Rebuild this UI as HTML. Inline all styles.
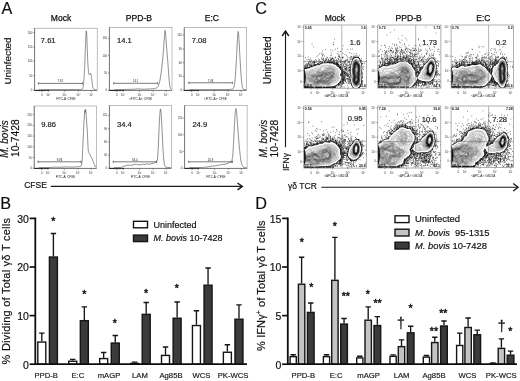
<!DOCTYPE html>
<html lang="en">
<head>
<meta charset="utf-8">
<title>Figure: CFSE proliferation and IFN-gamma responses of gamma-delta T cells</title>
<style>
html,body{margin:0;padding:0;background:#fff;}
body{width:520px;height:381px;overflow:hidden;}
svg{display:block;font-family:"Liberation Sans", Arial, sans-serif;}
text{white-space:pre;}
</style>
</head>
<body>
<svg width="520" height="381" viewBox="0 0 520 381">
<defs>
<filter id="soft" x="-2%" y="-2%" width="104%" height="104%"><feGaussianBlur stdDeviation="0.25"/></filter>
<filter id="page" x="0" y="0" width="100%" height="100%"><feGaussianBlur stdDeviation="0.3"/></filter>
</defs>
<rect width="520" height="381" fill="#fff"/>
<g filter="url(#page)">
<rect width="520" height="381" fill="#fff"/>
<text x="1.5" y="13.9" font-size="16.2" stroke="#111" stroke-width="0.18" fill="#111">A</text>
<text x="0.3" y="209.2" font-size="16.2" stroke="#111" stroke-width="0.18" fill="#111">B</text>
<text x="255.2" y="13.9" font-size="16.2" stroke="#111" stroke-width="0.18" fill="#111">C</text>
<text x="255.3" y="209.2" font-size="16.2" stroke="#111" stroke-width="0.18" fill="#111">D</text>
<text x="61" y="20.7" font-size="8.5" stroke="#111" stroke-width="0.25" text-anchor="middle" fill="#111">Mock</text>
<text x="138.9" y="20.7" font-size="8.6" stroke="#111" stroke-width="0.25" text-anchor="middle" fill="#111">PPD-B</text>
<text x="211.9" y="20.7" font-size="8.5" stroke="#111" stroke-width="0.25" text-anchor="middle" fill="#111">E:C</text>
<text x="11.4" y="61" font-size="9.9" stroke="#111" stroke-width="0.18" text-anchor="middle" fill="#111" transform="rotate(-90 11.4 61)">Uninfected</text>
<text x="7.9" y="139" font-size="10.1" stroke="#111" stroke-width="0.18" text-anchor="middle" font-style="italic" fill="#111" transform="rotate(-90 7.9 139)">M. bovis</text>
<text x="19.4" y="138.2" font-size="10.3" stroke="#111" stroke-width="0.18" text-anchor="middle" fill="#111" transform="rotate(-90 19.4 138.2)">10-7428</text>
<rect x="34.6" y="28.2" width="62.6" height="62.2" fill="#fff" stroke="#8a8a8a" stroke-width="0.55"/>
<text x="32.3" y="91.2" font-size="2.8" text-anchor="end" fill="#333">0</text>
<text x="32.3" y="76.8" font-size="2.8" text-anchor="end" fill="#333">50</text>
<text x="32.3" y="62.4" font-size="2.8" text-anchor="end" fill="#333">100</text>
<text x="32.3" y="48" font-size="2.8" text-anchor="end" fill="#333">150</text>
<text x="32.3" y="33.6" font-size="2.8" text-anchor="end" fill="#333">200</text>
<path d="M33.1,90.2h1.5M33.1,75.8h1.5M33.1,61.4h1.5M33.1,47h1.5M33.1,32.6h1.5M42.1,90.4v1.5M48.3,90.4v1.5M64.6,90.4v1.5M78.4,90.4v1.5M91.4,90.4v1.5M39.1,90.4v0.8M40.18,90.4v0.8M41.27,90.4v0.8M42.35,90.4v0.8M43.43,90.4v0.8M44.52,90.4v0.8M45.6,90.4v0.8" stroke="#444" stroke-width="0.55" fill="none"/>
<text x="42.1" y="96.2" font-size="2.8" text-anchor="middle" fill="#333">0</text>
<text x="48.3" y="96.2" font-size="2.8" text-anchor="middle" fill="#333">10²</text>
<text x="64.6" y="96.2" font-size="2.8" text-anchor="middle" fill="#333">10³</text>
<text x="78.4" y="96.2" font-size="2.8" text-anchor="middle" fill="#333">10⁴</text>
<text x="91.4" y="96.2" font-size="2.8" text-anchor="middle" fill="#333">10⁵</text>
<text x="65.9" y="99.7" font-size="3.0" text-anchor="middle" fill="#222">FITC-A: CFSE</text>
<path d="M34.6,28.2V90.4H97.2" stroke="#5a5a5a" stroke-width="0.7" fill="none"/>
<path d="M34.6,90.4h14.5" stroke="#222" stroke-width="1" stroke-dasharray="5.5 0.5 3 0.6 2 0.5" fill="none"/>
<path d="M39,89.7C41.45,89.69 55.45,89.62 60,89.6C64.55,89.58 75.49,89.53 78,89.5C80.51,89.47 80.94,89.45 81.5,89.3C82.06,89.15 82.53,89.05 82.8,88.2C83.07,87.35 83.59,84.36 83.8,82C84.01,79.64 84.42,71.73 84.6,68C84.77,64.27 85.15,53.73 85.3,50C85.45,46.27 85.78,38.23 85.9,36C86.02,33.77 86.19,30.9 86.3,30.9C86.41,30.9 86.68,33.77 86.8,36C86.92,38.23 87.17,46.73 87.3,50C87.43,53.27 87.76,61.43 87.9,64C88.04,66.57 88.36,70.76 88.5,72C88.64,73.24 88.95,74.37 89.1,74.6C89.25,74.83 89.64,74.15 89.8,74C89.96,73.85 90.35,73.18 90.5,73.3C90.65,73.42 90.95,74.22 91.1,75C91.25,75.78 91.64,78.78 91.8,80C91.96,81.22 92.33,84.51 92.5,85.5C92.67,86.49 93.07,88.03 93.3,88.5C93.53,88.97 94.13,89.36 94.5,89.5C94.87,89.64 96.27,89.68 96.5,89.7" fill="none" stroke="#444" stroke-width="0.6" stroke-linejoin="round"/>
<path d="M38.4,83.4H82.5M38.4,82.3v2.2M82.5,82.3v2.2" stroke="#333" stroke-width="0.65" fill="none"/>
<text x="60.45" y="82.1" font-size="2.8" text-anchor="middle" fill="#222">7.61</text>
<text x="40.8" y="43.4" font-size="7.6" stroke="#1a1a1a" stroke-width="0.18" fill="#1a1a1a">7.61</text>
<rect x="109.4" y="27.7" width="62.6" height="62.7" fill="#fff" stroke="#8a8a8a" stroke-width="0.55"/>
<text x="107.1" y="91.2" font-size="2.8" text-anchor="end" fill="#333">0</text>
<text x="107.1" y="73.9" font-size="2.8" text-anchor="end" fill="#333">50</text>
<text x="107.1" y="56.6" font-size="2.8" text-anchor="end" fill="#333">100</text>
<text x="107.1" y="39.3" font-size="2.8" text-anchor="end" fill="#333">150</text>
<path d="M107.9,90.2h1.5M107.9,72.9h1.5M107.9,55.6h1.5M107.9,38.3h1.5M116.9,90.4v1.5M123.1,90.4v1.5M139.4,90.4v1.5M153.2,90.4v1.5M166.2,90.4v1.5M113.9,90.4v0.8M114.98,90.4v0.8M116.07,90.4v0.8M117.15,90.4v0.8M118.23,90.4v0.8M119.32,90.4v0.8M120.4,90.4v0.8" stroke="#444" stroke-width="0.55" fill="none"/>
<text x="116.9" y="96.2" font-size="2.8" text-anchor="middle" fill="#333">0</text>
<text x="123.1" y="96.2" font-size="2.8" text-anchor="middle" fill="#333">10²</text>
<text x="139.4" y="96.2" font-size="2.8" text-anchor="middle" fill="#333">10³</text>
<text x="153.2" y="96.2" font-size="2.8" text-anchor="middle" fill="#333">10⁴</text>
<text x="166.2" y="96.2" font-size="2.8" text-anchor="middle" fill="#333">10⁵</text>
<text x="140.7" y="99.7" font-size="3.0" text-anchor="middle" fill="#222">&lt;FITC-A&gt;: CFSE</text>
<path d="M109.4,27.7V90.4H172" stroke="#5a5a5a" stroke-width="0.7" fill="none"/>
<path d="M109.4,90.4h14.5" stroke="#222" stroke-width="1" stroke-dasharray="5.5 0.5 3 0.6 2 0.5" fill="none"/>
<path d="M114,89.7C115.28,89.69 123.13,89.65 125,89.6C126.87,89.55 128.83,89.35 130,89.3C131.17,89.25 134.07,89.26 135,89.2C135.93,89.14 137.18,88.8 138,88.8C138.82,88.8 140.83,89.18 142,89.2C143.17,89.22 146.72,89.05 148,89C149.28,88.95 152.07,88.89 153,88.8C153.93,88.71 155.41,88.47 156,88.2C156.59,87.93 157.66,87.34 158.1,86.5C158.54,85.66 159.42,82.81 159.8,81C160.19,79.19 161.09,73.33 161.4,71C161.72,68.67 162.28,63.16 162.5,61C162.72,58.84 163.1,54.95 163.3,52.5C163.5,50.05 164.02,42.39 164.2,40C164.38,37.61 164.7,33.11 164.8,32C164.91,30.89 165.02,30.44 165.1,30.5C165.18,30.56 165.37,31.16 165.5,32.5C165.63,33.84 166.02,39.73 166.2,42C166.38,44.27 166.81,49.7 167,52C167.19,54.3 167.61,59.25 167.8,61.7C167.99,64.15 168.42,70.63 168.6,73C168.78,75.37 169.15,80.42 169.3,82C169.45,83.58 169.75,85.71 169.9,86.5C170.05,87.29 170.41,88.44 170.6,88.8C170.79,89.16 171.4,89.51 171.5,89.6" fill="none" stroke="#444" stroke-width="0.6" stroke-linejoin="round"/>
<path d="M113.7,83.3H157.6M113.7,82.2v2.2M157.6,82.2v2.2" stroke="#333" stroke-width="0.65" fill="none"/>
<text x="135.65" y="82" font-size="2.8" text-anchor="middle" fill="#222">14.1</text>
<text x="117" y="43.1" font-size="7.6" stroke="#1a1a1a" stroke-width="0.18" fill="#1a1a1a">14.1</text>
<rect x="184.2" y="27.7" width="62.5" height="62.7" fill="#fff" stroke="#8a8a8a" stroke-width="0.55"/>
<text x="181.9" y="91.2" font-size="2.8" text-anchor="end" fill="#333">0</text>
<text x="181.9" y="77.4" font-size="2.8" text-anchor="end" fill="#333">30</text>
<text x="181.9" y="63.6" font-size="2.8" text-anchor="end" fill="#333">60</text>
<text x="181.9" y="49.8" font-size="2.8" text-anchor="end" fill="#333">90</text>
<text x="181.9" y="36" font-size="2.8" text-anchor="end" fill="#333">120</text>
<path d="M182.7,90.2h1.5M182.7,76.4h1.5M182.7,62.6h1.5M182.7,48.8h1.5M182.7,35h1.5M191.7,90.4v1.5M197.9,90.4v1.5M214.2,90.4v1.5M228,90.4v1.5M241,90.4v1.5M188.7,90.4v0.8M189.78,90.4v0.8M190.87,90.4v0.8M191.95,90.4v0.8M193.03,90.4v0.8M194.12,90.4v0.8M195.2,90.4v0.8" stroke="#444" stroke-width="0.55" fill="none"/>
<text x="191.7" y="96.2" font-size="2.8" text-anchor="middle" fill="#333">0</text>
<text x="197.9" y="96.2" font-size="2.8" text-anchor="middle" fill="#333">10²</text>
<text x="214.2" y="96.2" font-size="2.8" text-anchor="middle" fill="#333">10³</text>
<text x="228" y="96.2" font-size="2.8" text-anchor="middle" fill="#333">10⁴</text>
<text x="241" y="96.2" font-size="2.8" text-anchor="middle" fill="#333">10⁵</text>
<text x="215.45" y="99.7" font-size="3.0" text-anchor="middle" fill="#222">&lt;FITC-A&gt;: CFSE</text>
<path d="M184.2,27.7V90.4H246.7" stroke="#5a5a5a" stroke-width="0.7" fill="none"/>
<path d="M184.2,90.4h14.5" stroke="#222" stroke-width="1" stroke-dasharray="5.5 0.5 3 0.6 2 0.5" fill="none"/>
<path d="M189,89.7C192.03,89.69 210.45,89.62 215,89.6C219.55,89.58 226.02,89.55 228,89.5C229.98,89.45 231.36,89.34 232,89.2C232.64,89.06 233.2,88.91 233.5,88.3C233.8,87.69 234.37,85.67 234.6,84C234.83,82.33 235.29,76.8 235.5,74C235.71,71.2 236.21,63.38 236.4,60C236.59,56.62 236.95,47.92 237.1,45C237.25,42.08 237.57,36.59 237.7,35C237.83,33.41 238.08,31.4 238.2,31.4C238.32,31.4 238.57,33.41 238.7,35C238.83,36.59 239.14,42.08 239.3,45C239.46,47.92 239.9,56.62 240.1,60C240.3,63.38 240.79,71.2 241,74C241.21,76.8 241.69,82.33 241.9,84C242.11,85.67 242.56,87.67 242.8,88.3C243.05,88.93 243.63,89.24 244,89.4C244.37,89.56 245.77,89.67 246,89.7" fill="none" stroke="#444" stroke-width="0.6" stroke-linejoin="round"/>
<path d="M188.8,82.8H232.4M188.8,81.7v2.2M232.4,81.7v2.2" stroke="#333" stroke-width="0.65" fill="none"/>
<text x="210.6" y="81.5" font-size="2.8" text-anchor="middle" fill="#222">7.08</text>
<text x="191.7" y="43.1" font-size="7.6" stroke="#1a1a1a" stroke-width="0.18" fill="#1a1a1a">7.08</text>
<rect x="34.2" y="106" width="62.5" height="62.4" fill="#fff" stroke="#8a8a8a" stroke-width="0.55"/>
<text x="31.9" y="169.2" font-size="2.8" text-anchor="end" fill="#333">0</text>
<text x="31.9" y="158.5" font-size="2.8" text-anchor="end" fill="#333">50</text>
<text x="31.9" y="147.8" font-size="2.8" text-anchor="end" fill="#333">100</text>
<text x="31.9" y="137.1" font-size="2.8" text-anchor="end" fill="#333">150</text>
<text x="31.9" y="126.4" font-size="2.8" text-anchor="end" fill="#333">200</text>
<text x="31.9" y="115.7" font-size="2.8" text-anchor="end" fill="#333">250</text>
<path d="M32.7,168.2h1.5M32.7,157.5h1.5M32.7,146.8h1.5M32.7,136.1h1.5M32.7,125.4h1.5M32.7,114.7h1.5M41.7,168.4v1.5M47.9,168.4v1.5M64.2,168.4v1.5M78,168.4v1.5M91,168.4v1.5M38.7,168.4v0.8M39.78,168.4v0.8M40.87,168.4v0.8M41.95,168.4v0.8M43.03,168.4v0.8M44.12,168.4v0.8M45.2,168.4v0.8" stroke="#444" stroke-width="0.55" fill="none"/>
<text x="41.7" y="174.2" font-size="2.8" text-anchor="middle" fill="#333">0</text>
<text x="47.9" y="174.2" font-size="2.8" text-anchor="middle" fill="#333">10²</text>
<text x="64.2" y="174.2" font-size="2.8" text-anchor="middle" fill="#333">10³</text>
<text x="78" y="174.2" font-size="2.8" text-anchor="middle" fill="#333">10⁴</text>
<text x="91" y="174.2" font-size="2.8" text-anchor="middle" fill="#333">10⁵</text>
<text x="65.45" y="177.7" font-size="3.0" text-anchor="middle" fill="#222">FITC-A: CFSE</text>
<path d="M34.2,106V168.4H96.7" stroke="#5a5a5a" stroke-width="0.7" fill="none"/>
<path d="M34.2,168.4h14.5" stroke="#222" stroke-width="1" stroke-dasharray="5.5 0.5 3 0.6 2 0.5" fill="none"/>
<path d="M38.5,167.6C39.84,167.59 48.08,167.56 50,167.5C51.92,167.44 53.83,167.12 55,167.1C56.17,167.08 58.72,167.32 60,167.3C61.28,167.28 64.6,166.92 66,166.9C67.4,166.88 70.72,167.11 72,167.1C73.28,167.09 76.07,166.87 77,166.8C77.93,166.73 79.5,166.62 80,166.5C80.5,166.38 81.04,166.56 81.3,165.8C81.56,165.04 81.99,163.01 82.2,160C82.41,156.99 82.9,144.2 83.1,140C83.3,135.8 83.74,127.03 83.9,124C84.06,120.97 84.38,115.61 84.5,114C84.62,112.39 84.82,110.38 84.9,110.2C84.98,110.03 85.12,112.59 85.2,112.5C85.28,112.41 85.49,109.23 85.6,109.4C85.7,109.58 85.97,112.41 86.1,114C86.23,115.59 86.56,121.02 86.7,123C86.84,124.98 87.17,128.78 87.3,131C87.43,133.22 87.69,139.78 87.8,142C87.91,144.22 88.08,148.78 88.2,150C88.32,151.22 88.61,151.97 88.8,152.5C88.99,153.03 89.57,154.03 89.8,154.5C90.03,154.97 90.55,156.06 90.8,156.5C91.05,156.94 91.62,157.72 91.9,158.3C92.18,158.88 92.87,160.69 93.2,161.5C93.53,162.31 94.42,164.56 94.7,165.2C94.98,165.84 95.41,166.72 95.6,167C95.79,167.28 96.22,167.53 96.3,167.6" fill="none" stroke="#444" stroke-width="0.6" stroke-linejoin="round"/>
<path d="M38,161.8H81M38,160.7v2.2M81,160.7v2.2" stroke="#333" stroke-width="0.65" fill="none"/>
<text x="59.5" y="160.5" font-size="2.8" text-anchor="middle" fill="#222">9.86</text>
<text x="41.2" y="127.4" font-size="7.6" stroke="#1a1a1a" stroke-width="0.18" fill="#1a1a1a">9.86</text>
<rect x="109.4" y="105.6" width="62.1" height="62.8" fill="#fff" stroke="#8a8a8a" stroke-width="0.55"/>
<text x="107.1" y="169.2" font-size="2.8" text-anchor="end" fill="#333">0</text>
<text x="107.1" y="156" font-size="2.8" text-anchor="end" fill="#333">30</text>
<text x="107.1" y="142.8" font-size="2.8" text-anchor="end" fill="#333">60</text>
<text x="107.1" y="129.6" font-size="2.8" text-anchor="end" fill="#333">90</text>
<text x="107.1" y="116.4" font-size="2.8" text-anchor="end" fill="#333">120</text>
<path d="M107.9,168.2h1.5M107.9,155h1.5M107.9,141.8h1.5M107.9,128.6h1.5M107.9,115.4h1.5M116.9,168.4v1.5M123.1,168.4v1.5M139.4,168.4v1.5M153.2,168.4v1.5M166.2,168.4v1.5M113.9,168.4v0.8M114.98,168.4v0.8M116.07,168.4v0.8M117.15,168.4v0.8M118.23,168.4v0.8M119.32,168.4v0.8M120.4,168.4v0.8" stroke="#444" stroke-width="0.55" fill="none"/>
<text x="116.9" y="174.2" font-size="2.8" text-anchor="middle" fill="#333">0</text>
<text x="123.1" y="174.2" font-size="2.8" text-anchor="middle" fill="#333">10²</text>
<text x="139.4" y="174.2" font-size="2.8" text-anchor="middle" fill="#333">10³</text>
<text x="153.2" y="174.2" font-size="2.8" text-anchor="middle" fill="#333">10⁴</text>
<text x="166.2" y="174.2" font-size="2.8" text-anchor="middle" fill="#333">10⁵</text>
<text x="140.45" y="177.7" font-size="3.0" text-anchor="middle" fill="#222">FITC-A: CFSE</text>
<path d="M109.4,105.6V168.4H171.5" stroke="#5a5a5a" stroke-width="0.7" fill="none"/>
<path d="M109.4,168.4h14.5" stroke="#222" stroke-width="1" stroke-dasharray="5.5 0.5 3 0.6 2 0.5" fill="none"/>
<path d="M114,167.6C114.58,167.59 118.18,167.52 119,167.5C119.82,167.48 120.59,167.48 121,167.4C121.41,167.32 122.15,166.94 122.5,166.8C122.85,166.66 123.59,166.34 124,166.2C124.41,166.06 125.53,165.74 126,165.6C126.47,165.46 127.47,165.02 128,165C128.53,164.98 129.92,165.41 130.5,165.4C131.08,165.39 132.42,165.03 133,164.9C133.58,164.77 134.97,164.34 135.5,164.3C136.03,164.27 136.97,164.53 137.5,164.6C138.03,164.67 139.42,164.95 140,164.9C140.58,164.85 141.92,164.26 142.5,164.2C143.08,164.14 144.47,164.44 145,164.4C145.53,164.37 146.47,163.92 147,163.9C147.53,163.88 148.92,164.25 149.5,164.2C150.08,164.15 151.47,163.64 152,163.5C152.53,163.36 153.59,163.12 154,163C154.41,162.88 155.17,162.64 155.5,162.5C155.83,162.36 156.56,162.33 156.8,161.8C157.05,161.28 157.42,159.73 157.6,158C157.78,156.27 158.15,149.92 158.3,147C158.45,144.08 158.76,136.15 158.9,133C159.04,129.85 159.37,122.45 159.5,120C159.63,117.55 159.88,113.3 160,112C160.12,110.7 160.38,108.9 160.5,108.9C160.62,108.9 160.87,110.59 161,112C161.13,113.41 161.46,118.55 161.6,121C161.74,123.45 162.05,129.97 162.2,133C162.35,136.03 162.74,144.08 162.9,147C163.06,149.92 163.44,156.02 163.6,158C163.76,159.98 164.12,163.01 164.3,164C164.48,164.99 164.84,166.12 165.1,166.5C165.36,166.88 166.04,167.17 166.5,167.3C166.96,167.43 168.47,167.56 169,167.6C169.53,167.63 170.77,167.6 171,167.6" fill="none" stroke="#444" stroke-width="0.6" stroke-linejoin="round"/>
<path d="M113.3,161.8H156.4M113.3,160.7v2.2M156.4,160.7v2.2" stroke="#333" stroke-width="0.65" fill="none"/>
<text x="134.85" y="160.5" font-size="2.8" text-anchor="middle" fill="#222">34.4</text>
<text x="117" y="126.9" font-size="7.6" stroke="#1a1a1a" stroke-width="0.18" fill="#1a1a1a">34.4</text>
<rect x="184.6" y="105.6" width="62.5" height="62.8" fill="#fff" stroke="#8a8a8a" stroke-width="0.55"/>
<text x="182.3" y="169.2" font-size="2.8" text-anchor="end" fill="#333">0</text>
<text x="182.3" y="152.5" font-size="2.8" text-anchor="end" fill="#333">50</text>
<text x="182.3" y="135.8" font-size="2.8" text-anchor="end" fill="#333">100</text>
<text x="182.3" y="119.1" font-size="2.8" text-anchor="end" fill="#333">150</text>
<path d="M183.1,168.2h1.5M183.1,151.5h1.5M183.1,134.8h1.5M183.1,118.1h1.5M192.1,168.4v1.5M198.3,168.4v1.5M214.6,168.4v1.5M228.4,168.4v1.5M241.4,168.4v1.5M189.1,168.4v0.8M190.18,168.4v0.8M191.27,168.4v0.8M192.35,168.4v0.8M193.43,168.4v0.8M194.52,168.4v0.8M195.6,168.4v0.8" stroke="#444" stroke-width="0.55" fill="none"/>
<text x="192.1" y="174.2" font-size="2.8" text-anchor="middle" fill="#333">0</text>
<text x="198.3" y="174.2" font-size="2.8" text-anchor="middle" fill="#333">10²</text>
<text x="214.6" y="174.2" font-size="2.8" text-anchor="middle" fill="#333">10³</text>
<text x="228.4" y="174.2" font-size="2.8" text-anchor="middle" fill="#333">10⁴</text>
<text x="241.4" y="174.2" font-size="2.8" text-anchor="middle" fill="#333">10⁵</text>
<text x="215.85" y="177.7" font-size="3.0" text-anchor="middle" fill="#222">FITC-A: CFSE</text>
<path d="M184.6,105.6V168.4H247.1" stroke="#5a5a5a" stroke-width="0.7" fill="none"/>
<path d="M184.6,168.4h14.5" stroke="#222" stroke-width="1" stroke-dasharray="5.5 0.5 3 0.6 2 0.5" fill="none"/>
<path d="M189,167.6C190.28,167.59 198.32,167.52 200,167.5C201.68,167.48 202.58,167.46 203.4,167.4C204.22,167.34 206.23,167.1 207,167C207.77,166.9 209.3,166.62 210,166.5C210.7,166.38 212.3,166.1 213,166C213.7,165.9 215.3,165.69 216,165.6C216.7,165.51 218.3,165.33 219,165.2C219.7,165.07 221.3,164.62 222,164.5C222.7,164.38 224.42,164.3 225,164.2C225.58,164.09 226.53,163.74 227,163.6C227.47,163.46 228.63,163.21 229,163C229.37,162.79 229.97,161.82 230.2,161.8C230.43,161.78 230.81,162.89 231,162.8C231.19,162.71 231.59,161.91 231.8,161C232.01,160.09 232.59,157.22 232.8,155C233.01,152.78 233.42,145.15 233.6,142C233.78,138.85 234.14,131.03 234.3,128C234.46,124.97 234.86,118.04 235,116C235.14,113.96 235.4,111.38 235.5,110.5C235.6,109.62 235.8,108.5 235.9,108.5C236,108.5 236.27,109.51 236.4,110.5C236.53,111.49 236.84,114.96 237,117C237.16,119.04 237.61,125.55 237.8,128C237.99,130.45 238.41,135.67 238.6,138C238.79,140.33 239.22,146.09 239.4,148C239.58,149.91 239.94,153 240.1,154.4C240.26,155.8 240.62,158.88 240.8,160C240.98,161.12 241.37,163.24 241.6,164C241.83,164.76 242.46,166.1 242.8,166.5C243.14,166.9 244.07,167.27 244.5,167.4C244.93,167.53 246.27,167.58 246.5,167.6" fill="none" stroke="#444" stroke-width="0.6" stroke-linejoin="round"/>
<path d="M188.7,161.8H232.4M188.7,160.7v2.2M232.4,160.7v2.2" stroke="#333" stroke-width="0.65" fill="none"/>
<text x="210.55" y="160.5" font-size="2.8" text-anchor="middle" fill="#222">24.9</text>
<text x="192.4" y="126.9" font-size="7.6" stroke="#1a1a1a" stroke-width="0.18" fill="#1a1a1a">24.9</text>
<text x="24.2" y="188.4" font-size="8.5" stroke="#111" stroke-width="0.18" fill="#111">CFSE</text>
<path d="M50.8,186.4H241.8" stroke="#1a1a1a" stroke-width="1.2" fill="none"/>
<path d="M237.5,183L242.4,186.4L237.5,189.9" stroke="#1a1a1a" stroke-width="1.4" fill="none" stroke-linejoin="miter"/>
<text x="334.8" y="20.7" font-size="8.5" stroke="#111" stroke-width="0.25" text-anchor="middle" fill="#111">Mock</text>
<text x="408.7" y="20.7" font-size="8.6" stroke="#111" stroke-width="0.25" text-anchor="middle" fill="#111">PPD-B</text>
<text x="483.4" y="20.7" font-size="8.5" stroke="#111" stroke-width="0.25" text-anchor="middle" fill="#111">E:C</text>
<text x="271.4" y="60.4" font-size="10.0" stroke="#111" stroke-width="0.18" text-anchor="middle" fill="#111" transform="rotate(-90 271.4 60.4)">Uninfected</text>
<text x="266.8" y="138.6" font-size="10.1" stroke="#111" stroke-width="0.18" text-anchor="middle" font-style="italic" fill="#111" transform="rotate(-90 266.8 138.6)">M. bovis</text>
<text x="278.5" y="138.6" font-size="10.3" stroke="#111" stroke-width="0.18" text-anchor="middle" fill="#111" transform="rotate(-90 278.5 138.6)">10-7428</text>
<text x="288.8" y="171" font-size="8.5" stroke="#111" stroke-width="0.18" fill="#111" transform="rotate(-90 288.8 171)">IFNγ</text>
<path d="M285.5,147.2V31.6" stroke="#1a1a1a" stroke-width="1.15" fill="none"/>
<path d="M282.2,36L285.5,31L288.8,36" stroke="#1a1a1a" stroke-width="1.4" fill="none"/>
<text x="288" y="188.5" font-size="8.5" stroke="#111" stroke-width="0.18" fill="#111">γδ TCR</text>
<path d="M321.3,187.2H517.4" stroke="#1a1a1a" stroke-width="1.15" fill="none"/>
<path d="M513.2,183.5L518.1,187.2L513.2,191" stroke="#1a1a1a" stroke-width="1.4" fill="none"/>
<g filter="url(#soft)">
<clipPath id="cp0"><rect x="303.8" y="25" width="62.8" height="63.2"/></clipPath>
<rect x="303.8" y="25" width="62.8" height="63.2" fill="#fff"/>
<g clip-path="url(#cp0)">
<g transform="translate(303.8 25) scale(0.1)">
<path d="M111,394h7M246,381h7M567,580h7M177,392h7M566,571h7M392,571h7M430,349h7M451,564h7M73,406h7M450,459h7M357,603h7M444,540h7M417,489h7M585,556h7M287,386h7M220,349h7M532,333h7M570,432h7M569,545h7M92,219h7M8,604h7M142,623h7M76,424h7M137,398h7M81,425h7M553,613h7M361,490h7M312,625h7M469,395h7M476,514h7M300,368h7M404,499h7M383,576h7M371,607h7M454,494h7M573,514h7M372,532h7M451,460h7M452,476h7M369,361h7M574,575h7M365,265h7M10,443h7M288,334h7M28,402h7M497,348h7M571,506h7M273,383h7M16,606h7M201,378h7M231,375h7M571,514h7M171,389h7M486,365h7M417,461h7M502,344h7M329,591h7M410,395h7M27,614h7M572,574h7M366,543h7M373,591h7M6,435h7M310,378h7M547,334h7M425,444h7M400,528h7M485,350h7M500,626h7M203,366h7M56,625h7M527,330h7M390,484h7M341,412h7M100,362h7M357,561h7M509,322h7M368,557h7M413,476h7M575,498h7M574,514h7M368,570h7M342,416h7M569,542h7M199,389h7M554,621h7M217,370h7M84,622h7M362,328h7M146,378h7M42,434h7M237,619h7M187,385h7M475,475h7M431,244h7M263,380h7M572,460h7M387,320h7M5,423h7M370,543h7M479,491h7M16,604h7M576,533h7M316,599h7M219,387h7M364,454h7M437,495h7M56,434h7M328,389h7M523,332h7M38,418h7M184,312h7M362,492h7M476,540h7M480,499h7M58,434h7M440,493h7M67,405h7M253,385h7M206,374h7M244,347h7M418,398h7M406,449h7M84,422h7M318,605h7M326,403h7M414,438h7M401,556h7M366,505h7M542,319h7M375,498h7M124,356h7M357,429h7M402,416h7M366,559h7M382,493h7M149,382h7M327,389h7M234,382h7M570,555h7M93,374h7M586,382h7M21,614h7M381,441h7M561,357h7M113,415h7M461,486h7M8,403h7M368,268h7M484,363h7M392,459h7M374,417h7M193,297h7M431,603h7M355,593h7M569,451h7M415,366h7M476,522h7M567,575h7M347,347h7M369,452h7M364,487h7M273,374h7M470,476h7M445,375h7M59,431h7M377,566h7M477,386h7M387,331h7M475,419h7M572,495h7M551,612h7M372,478h7M96,399h7M252,390h7M359,429h7M104,371h7M257,364h7M427,539h7M207,382h7M480,517h7M273,352h7M63,624h7M72,621h7M430,318h7M37,434h7M538,332h7M569,357h7M249,373h7M113,412h7M498,311h7M79,191h7M551,343h7M311,622h7M534,324h7M339,393h7M452,390h7M483,380h7M332,378h7M68,410h7M157,375h7M363,342h7M350,423h7M475,428h7M187,282h7M69,386h7M482,622h7M233,614h7M369,463h7M500,623h7M295,391h7M442,458h7M541,333h7M303,390h7M105,389h7M382,474h7M293,364h7M205,626h7M7,434h7M54,616h7M170,390h7M69,430h7M306,396h7M560,348h7M367,460h7M93,417h7M468,331h7M368,579h7M247,341h7M364,451h7M513,323h7M291,348h7M293,395h7M387,490h7M568,472h7M570,408h7M572,516h7M487,347h7M182,344h7M346,401h7M405,487h7M89,374h7M543,623h7M230,370h7M477,486h7M43,437h7M301,365h7M480,367h7M5,619h7M201,388h7M514,626h7M85,424h7M206,370h7M356,594h7M418,429h7M20,620h7M383,468h7M98,377h7M216,620h7M385,441h7M412,439h7M161,366h7M494,607h7M576,470h7M285,616h7M3,443h7M573,492h7M551,622h7M553,354h7M475,517h7M203,373h7M571,516h7M145,406h7M419,479h7M279,608h7M134,385h7M237,382h7M480,588h7M325,386h7M431,503h7M387,447h7M393,547h7M100,622h7M4,598h7M466,321h7M326,381h7M291,195h7M368,482h7M480,553h7M292,338h7M185,389h7M477,494h7M341,338h7M119,405h7M362,624h7M473,581h7M55,389h7M262,624h7M569,559h7M295,379h7M385,468h7M39,421h7M526,286h7M282,338h7M318,399h7M480,398h7M485,334h7M478,568h7M77,371h7M323,602h7M558,365h7M270,615h7M455,329h7M498,614h7M486,373h7M548,345h7M265,358h7M357,498h7M51,435h7M479,586h7M268,376h7M478,323h7M59,367h7M571,450h7M405,371h7M499,349h7M10,447h7M163,385h7M551,301h7M462,446h7M153,347h7M366,423h7M475,552h7M418,416h7M543,337h7M248,622h7M61,331h7M307,382h7M403,529h7M452,372h7M101,357h7M58,419h7M378,458h7M119,414h7M571,453h7M359,412h7M428,581h7M329,406h7M109,370h7M439,516h7M388,378h7M469,432h7M450,580h7M475,535h7M477,536h7M54,623h7M357,502h7M339,368h7M68,431h7M44,390h7M508,331h7M145,340h7M15,414h7M239,351h7M481,583h7M392,466h7M236,385h7M29,612h7M123,624h7M415,520h7M523,331h7M118,416h7M498,622h7M360,394h7M179,394h7M402,488h7M42,614h7M370,489h7M367,460h7M573,467h7M237,365h7M334,620h7M239,616h7M70,622h7M171,393h7M407,585h7M381,503h7M479,506h7M56,428h7M437,450h7M12,417h7M474,531h7M338,384h7M345,401h7M366,566h7M381,595h7M325,348h7M401,540h7M284,377h7M312,388h7M90,422h7M353,419h7M133,624h7M336,423h7M346,575h7M141,624h7M25,612h7M20,392h7M156,401h7M569,592h7M374,533h7M97,415h7M338,404h7M469,539h7M231,619h7M477,485h7M561,598h7M572,360h7M288,254h7M476,457h7M77,427h7M389,476h7M118,625h7M362,569h7M220,378h7M475,420h7M13,618h7M290,387h7M278,625h7M352,315h7M160,361h7M494,343h7M61,407h7M568,587h7M437,549h7M303,614h7M575,533h7M496,339h7M304,393h7M144,399h7M476,525h7M482,501h7M367,494h7M463,558h7M354,362h7M377,532h7M519,333h7M78,416h7M408,488h7M342,587h7M361,363h7M592,446h7M570,400h7M53,621h7M416,434h7M275,302h7M384,487h7M328,395h7M479,494h7M416,566h7M203,385h7M489,611h7M41,431h7M466,416h7M319,374h7M372,441h7M231,623h7M67,396h7M105,377h7M150,373h7M389,285h7M64,623h7M438,431h7M588,418h7M76,413h7M255,387h7M244,616h7M434,491h7M26,433h7M42,622h7M18,612h7M150,403h7M274,341h7M408,506h7M32,443h7M30,440h7M273,333h7M110,375h7M42,624h7M318,398h7M539,621h7M569,381h7M360,590h7M86,416h7M427,388h7M462,504h7M234,621h7M380,526h7M358,503h7M259,616h7M522,334h7M379,505h7M341,395h7M7,450h7M352,581h7M329,353h7M445,584h7M564,577h7M570,472h7M92,621h7M411,494h7M546,323h7M325,397h7M382,241h7M65,431h7M273,389h7M459,394h7M569,567h7M454,424h7M153,358h7M574,468h7M252,376h7M395,522h7M44,613h7M344,590h7M60,345h7M277,382h7M29,387h7M438,485h7M186,623h7M480,516h7M576,385h7M467,480h7M265,383h7M537,335h7M415,562h7M52,615h7M329,589h7M566,569h7M471,537h7M46,434h7M364,412h7M478,552h7M441,433h7M470,519h7M465,553h7M267,248h7M567,379h7M14,400h7M426,349h7M31,401h7M329,396h7M43,626h7M83,417h7M354,321h7M425,426h7M10,609h7M19,435h7M478,432h7M485,607h7M306,392h7M183,305h7M374,452h7M422,484h7M301,362h7M455,558h7M481,241h7M333,395h7M388,544h7M481,525h7M518,330h7M353,424h7M446,425h7M495,314h7M484,363h7M184,625h7M371,453h7M403,433h7M353,301h7M302,391h7M499,348h7M367,396h7M3,617h7M310,613h7M387,328h7M108,406h7M297,389h7M374,383h7M265,327h7M390,542h7M570,453h7M96,626h7M16,435h7M475,446h7M527,322h7M236,382h7M440,564h7M476,469h7M361,502h7M343,402h7M577,501h7M440,491h7M205,383h7M389,495h7M373,535h7M331,287h7M262,389h7M307,617h7M83,372h7M434,377h7M210,369h7M335,370h7M447,505h7M431,413h7M44,433h7M461,340h7M569,553h7M324,372h7M583,438h7M327,418h7M55,424h7M310,330h7M491,608h7M381,430h7M348,433h7M262,383h7M511,330h7M460,458h7M425,305h7M573,419h7M347,575h7M55,403h7M479,516h7M451,427h7M341,601h7M193,386h7M389,584h7M391,400h7M395,534h7M320,408h7M105,392h7M563,368h7M19,612h7M65,376h7M366,499h7M428,506h7M477,414h7M475,604h7M342,309h7M402,549h7M316,324h7M213,349h7M413,531h7M389,553h7M384,456h7M7,601h7M11,429h7M575,419h7M11,447h7M419,459h7M183,364h7M116,343h7M450,372h7M555,626h7M397,556h7M574,460h7M66,621h7M345,583h7M576,526h7M573,469h7M301,363h7M390,500h7M339,407h7M133,402h7M4,609h7M355,443h7M266,303h7M40,397h7M474,576h7M347,348h7M49,435h7M344,394h7M584,516h7M505,324h7M558,367h7M202,389h7M469,448h7M474,490h7M217,625h7M575,557h7M576,560h7M476,393h7M124,405h7M360,498h7M340,604h7M481,525h7M477,539h7M440,468h7M295,391h7M562,614h7M285,609h7M472,513h7M389,209h7M364,573h7M273,388h7M340,397h7M308,391h7M6,607h7M38,613h7M172,387h7M541,330h7M382,540h7M367,511h7M66,366h7M5,412h7M478,409h7M503,344h7M290,393h7M495,329h7M476,396h7M477,509h7M318,385h7M420,439h7M18,390h7M19,435h7M193,386h7M196,619h7M318,613h7M474,599h7M263,384h7M103,419h7M391,534h7M550,337h7M7,445h7M204,389h7M311,322h7M364,423h7M490,365h7M99,625h7M6,435h7M554,338h7M360,440h7M20,434h7M400,463h7M370,536h7M481,579h7M320,621h7M320,409h7M492,322h7M366,441h7M496,343h7M216,335h7M571,482h7M146,385h7M564,577h7M371,536h7M450,538h7M507,330h7M433,351h7M498,290h7M345,584h7M314,601h7M331,384h7M193,334h7M199,352h7M92,625h7M377,469h7M573,424h7M232,362h7M470,518h7M224,383h7M373,470h7M272,621h7M478,554h7M582,530h7M401,469h7M427,398h7M206,363h7M375,482h7M359,445h7M477,514h7M360,565h7M481,388h7M351,419h7M217,620h7M375,395h7M89,403h7M21,420h7M541,327h7M479,539h7M418,518h7M475,441h7M339,597h7M363,513h7M471,587h7M96,625h7M70,418h7M493,603h7M471,424h7M379,536h7M377,534h7M380,365h7M390,583h7M251,385h7M456,429h7M156,400h7M377,496h7M36,400h7M528,314h7M31,443h7M118,625h7M450,581h7M573,445h7M576,561h7M379,520h7M419,354h7M437,332h7M442,406h7M390,502h7M81,625h7M302,141h7M33,612h7M437,402h7M565,605h7M44,423h7M501,331h7M8,625h7M286,323h7M367,428h7M308,401h7M368,608h7M444,501h7M340,602h7M571,459h7M139,303h7M478,521h7M387,455h7M53,394h7M366,506h7M428,427h7M467,343h7M84,407h7M372,524h7M526,334h7M378,436h7M282,382h7M378,463h7M379,558h7M9,625h7M356,584h7M103,409h7M508,317h7M155,405h7M498,340h7M432,470h7M302,606h7M367,379h7M41,321h7M453,361h7M260,391h7M104,376h7M575,410h7M327,595h7M9,428h7M323,392h7M359,506h7M32,408h7M61,365h7M150,406h7M230,387h7M263,381h7M383,563h7M215,355h7M385,501h7M470,520h7M82,427h7M223,346h7M123,400h7M173,388h7M476,372h7M294,352h7M489,352h7M37,617h7M388,487h7M474,547h7M472,509h7M117,623h7M40,379h7M576,458h7M572,335h7M453,459h7M348,576h7M220,614h7M356,589h7M62,428h7M376,488h7M72,418h7M342,577h7M350,619h7M239,378h7M16,427h7M293,359h7M179,380h7M394,577h7M479,543h7M430,535h7M465,241h7M358,429h7M67,432h7M20,438h7M253,616h7M422,438h7M501,340h7M574,355h7M575,367h7M355,563h7M411,444h7M471,473h7M102,411h7M128,319h7M250,375h7M199,625h7M110,417h7M32,611h7M474,462h7M474,317h7M295,388h7M549,340h7M422,499h7M385,546h7M483,515h7M362,418h7M112,410h7M257,379h7M275,609h7M373,534h7M30,427h7M259,331h7M377,405h7M26,407h7M476,283h7M186,386h7M389,519h7M571,509h7M322,593h7M514,626h7M389,560h7M485,373h7M437,506h7M586,565h7M263,360h7M309,622h7M315,241h7M345,425h7M519,334h7M571,466h7M22,445h7M592,421h7M97,414h7M45,386h7M437,515h7M233,382h7M473,488h7M559,352h7M403,469h7M378,475h7M400,477h7M622,412h7M384,530h7M338,266h7M474,437h7M483,376h7M559,370h7M571,524h7M10,446h7M35,400h7M371,483h7M182,390h7M45,374h7M480,579h7M374,462h7M27,612h7M410,491h7M280,338h7M468,476h7M343,394h7M364,505h7M345,422h7M313,356h7M306,387h7M24,609h7M452,277h7M354,408h7M361,430h7M585,390h7M58,426h7M333,387h7M12,443h7M544,331h7M97,410h7M398,515h7M366,504h7M27,428h7M345,592h7M564,589h7M105,417h7M342,577h7M372,505h7M481,507h7M367,375h7M531,329h7M295,610h7M35,426h7M579,487h7M493,333h7M218,614h7M378,511h7M352,441h7M228,338h7M301,361h7M170,397h7M223,384h7M92,401h7M117,408h7M557,363h7M425,451h7M57,393h7M560,371h7M460,494h7M14,614h7M244,616h7M397,481h7M236,385h7M11,614h7M360,444h7M264,357h7M300,371h7M357,560h7M288,358h7M120,409h7M294,380h7M215,246h7M574,490h7M382,497h7M473,341h7M106,403h7M453,451h7M380,457h7M575,494h7M305,376h7M408,567h7M397,523h7M67,361h7M79,422h7M351,404h7M523,325h7M415,559h7M386,542h7M353,423h7M184,376h7M451,529h7M300,613h7M193,354h7M373,484h7M347,578h7M400,621h7M357,562h7M342,578h7M373,583h7M403,420h7M218,381h7M360,423h7M310,392h7M347,374h7M556,605h7M111,397h7M403,367h7M187,377h7M365,422h7M447,365h7M464,413h7M227,358h7M324,390h7M488,364h7M5,441h7M198,619h7M406,511h7M235,622h7M412,501h7M360,444h7M170,388h7M358,442h7M281,609h7M448,402h7M189,389h7M281,383h7M484,384h7M393,544h7M325,374h7M324,415h7M246,352h7M428,404h7M482,392h7M498,350h7M560,352h7M379,616h7M364,573h7M70,417h7M377,419h7M178,296h7M402,489h7M585,524h7M194,619h7M572,453h7M57,615h7M213,358h7M243,367h7M331,601h7M380,494h7M40,427h7M420,505h7M474,543h7M488,339h7M384,499h7M183,379h7M379,502h7M398,554h7M396,363h7M333,233h7M12,438h7M324,395h7M423,576h7M82,390h7M58,431h7M185,371h7M167,401h7M392,571h7M305,348h7M170,281h7M142,395h7M394,539h7M349,412h7M264,346h7M390,423h7M144,406h7M362,394h7M309,390h7M454,450h7M251,382h7M18,617h7M576,551h7M473,409h7M477,578h7M404,517h7M253,363h7M388,523h7M327,406h7M336,353h7M555,360h7M601,381h7M564,596h7M17,441h7M97,383h7M564,589h7M369,538h7M113,625h7M214,387h7M373,551h7M512,308h7M553,611h7M497,613h7M347,592h7M325,387h7M30,418h7M414,548h7M557,602h7M97,417h7M121,395h7M340,584h7M97,625h7M401,478h7M165,378h7M263,390h7M568,571h7M470,545h7M107,397h7M276,375h7M441,623h7M330,419h7M409,370h7M477,420h7M369,436h7M239,622h7M288,393h7M500,339h7M570,580h7M267,381h7M481,579h7M576,460h7M330,418h7M388,381h7M33,443h7M423,490h7M203,310h7M483,578h7M4,448h7M410,411h7M583,479h7M480,399h7M469,431h7M584,584h7M409,354h7M137,390h7M442,572h7M359,589h7M334,385h7M87,413h7M390,469h7M569,458h7M477,579h7M380,462h7M398,548h7M19,444h7M577,475h7M365,423h7M489,596h7M568,477h7M455,455h7M34,426h7M572,487h7M476,509h7M137,367h7M444,450h7M459,390h7M149,625h7M407,384h7M252,621h7M573,555h7M324,593h7M532,325h7M298,378h7M99,397h7M389,516h7M68,621h7M45,381h7M551,626h7M474,548h7M103,365h7M223,624h7M385,560h7M233,368h7M253,373h7M91,363h7M359,510h7M53,615h7M172,377h7M5,602h7M53,408h7M364,575h7M622,357h7M351,426h7M570,543h7M515,328h7M195,383h7M497,618h7M492,619h7M55,425h7M263,370h7M476,447h7M405,526h7M53,359h7M96,416h7M234,325h7M256,356h7M422,489h7M407,416h7M391,571h7M394,446h7M396,371h7M38,611h7M438,537h7M362,432h7M284,381h7M415,363h7M407,468h7M376,504h7M476,424h7M44,438h7M566,384h7M374,362h7M335,379h7M44,431h7M230,616h7M485,588h7M18,605h7M566,579h7M297,173h7M130,388h7M479,516h7M287,622h7M382,486h7M189,349h7M452,569h7M373,524h7M414,482h7M569,566h7M15,609h7M389,584h7M147,408h7M461,399h7M410,440h7M320,608h7M398,474h7M28,347h7M423,408h7M121,395h7M481,579h7M388,468h7M325,409h7M488,600h7M368,574h7M189,333h7M60,417h7M380,479h7M247,358h7M372,539h7M152,288h7M157,403h7M383,587h7M417,390h7M444,553h7M461,444h7M402,536h7M74,415h7M365,374h7M53,427h7M173,328h7M209,386h7M73,407h7M486,608h7M575,464h7M370,457h7M492,603h7M285,336h7M25,440h7M235,381h7M460,420h7M431,511h7M122,370h7M368,445h7M239,614h7M9,450h7M337,414h7M366,366h7M241,378h7M385,430h7M369,572h7M456,514h7M4,437h7M571,413h7M571,594h7M14,605h7M374,496h7M391,553h7M339,424h7M138,625h7M586,489h7M175,341h7M47,345h7M293,382h7M9,429h7M268,364h7M413,548h7M282,371h7M460,544h7M200,362h7M452,412h7M29,408h7M117,414h7M109,367h7M280,367h7M433,499h7M242,377h7M479,508h7M553,624h7M490,339h7M452,445h7M376,429h7M287,364h7M53,432h7M395,409h7M476,424h7M360,494h7M120,410h7M25,428h7M17,412h7M463,585h7M96,418h7M462,556h7M73,354h7M143,398h7M27,440h7M428,453h7M329,400h7M403,476h7M168,369h7M78,383h7M377,520h7M573,444h7M381,567h7M246,364h7M191,622h7M392,394h7M564,385h7M32,618h7M386,543h7M345,596h7M400,382h7M406,548h7M389,323h7M368,483h7M106,411h7M41,438h7M482,602h7M122,399h7M367,452h7M213,386h7M261,374h7M468,454h7M391,406h7M333,386h7M195,621h7M584,577h7M449,368h7M370,548h7M410,450h7M146,362h7M413,361h7M173,395h7M291,383h7M475,561h7M416,472h7M249,364h7M26,618h7M362,609h7M42,616h7M485,583h7M24,613h7M439,510h7M365,355h7M269,373h7M333,421h7M220,342h7M365,485h7M26,618h7M193,385h7M156,402h7M439,351h7M355,324h7M543,336h7M477,554h7M571,599h7M387,559h7M361,575h7M577,561h7M26,437h7M342,316h7M287,608h7M215,620h7M396,504h7M389,515h7M409,295h7M108,394h7M451,525h7M303,611h7M222,322h7M227,616h7M70,404h7M570,530h7M381,474h7M286,372h7M273,362h7M571,552h7M456,519h7M41,618h7M272,279h7M359,493h7M478,576h7M276,342h7M570,546h7M235,614h7M385,564h7M387,552h7M473,527h7M399,510h7M43,612h7M408,375h7M7,449h7M64,433h7M362,488h7M478,505h7M338,411h7M105,376h7M10,600h7M112,417h7M11,427h7M195,342h7M26,443h7M386,416h7M377,468h7M471,529h7M215,367h7M182,387h7M428,475h7M256,386h7M276,381h7M527,303h7M36,611h7M482,501h7M374,431h7M343,294h7M53,439h7M470,314h7M373,402h7M421,433h7M6,369h7M325,356h7M144,387h7M367,450h7M387,466h7M173,382h7M256,614h7M368,496h7M415,435h7M566,591h7M382,326h7M232,613h7M383,495h7M451,547h7M422,538h7M576,465h7M434,540h7M485,587h7M76,396h7M380,587h7M340,334h7M564,387h7M451,543h7M268,346h7M370,480h7M399,536h7M356,434h7M583,385h7M155,391h7M488,353h7M40,433h7M185,624h7M295,196h7M469,510h7M412,355h7M475,415h7M364,505h7M134,404h7M481,518h7M37,430h7M61,409h7M571,494h7M6,406h7M264,624h7M340,414h7M50,372h7M496,618h7M507,330h7M370,450h7M434,550h7M369,545h7M185,259h7M442,509h7M452,528h7M16,327h7M445,529h7M515,328h7M361,439h7M174,369h7M114,407h7M577,391h7M459,580h7M569,538h7M332,590h7M569,465h7M144,621h7M476,548h7M327,371h7M466,566h7M387,558h7M255,386h7M187,389h7M579,496h7M376,451h7M202,623h7" stroke="#111" stroke-width="7" fill="none"/>
<path d="M515,336l4 0 6-1 6 1 6 0 3 1 4 2 2 3 3 6 1 3 2 6 1 3 2 4 3 5 1 3 2 5 1 4 2 6 1 3 2 6 1 3 1 6 0 6 1 6 0 6 0 6 0 6 0 6-1 6 0 6 0 6-1 6 0 6 0 6 1 6 1 6 0 3 0 6 0 6 0 6 0 6 0 3-1 6 0 6 0 6 0 6-1 6 0 6-1 6-1 3-1 6-1 6 0 3-1 6-1 6-1 3-3 6-1 3-2 3-3 3-4 3-4 3-4 3-3 2-3 2-4 2-5 1-6 0-6-1-3-1-4-2-3-3-3-3-2-3-3-4-2-5-1-3-3-6-1-3-2-6-1-3-2-6-1-3-1-6-1-6 0-3 0-6 0-3 0-6 0-6 1-6 1-6 1-6 0-3 0-3-1-6 0-6 0-6-2-6 0-3-1-6-1-6-1-6 0-6 0-6 0-3-1-6 1-6 1-3 1-6 1-6 0-3 0-6 0-6 1-6 1-6 1-6 1-3 0-6 1-6 1-3 3-5 2-4 1-3 3-6 1-3 2-3 3-4 3-3 3-4 3-2 5-2zM0,453l6-2 5-1 4-1 6-2 3-1 6 0 6-2 3-3 3-1 6-1 6 1 6-1 3-3 3-3 3-2 6-2 6 0 3-1 4-2 5-3 3-1 6-2 3 0 6 0 3 0 3-1 3-2 3-3 4-3 5-3 3 0 6 0 3 0 6 1 6-1 3-1 3-2 4-3 5-3 3-2 3-2 5-2 4-1 6-1 6-1 3 0 6 0 3 0 4 0 5-1 6-1 6 0 6 0 6-1 6 2 3 1 6 1 6 1 6 0 6-1 6-1 5 3 4 3 3 2 3 1 6 3 3 0 6 2 3 1 4 3 3 3 2 4 3 3 3 2 6 3 3 1 3 3 3 4 3 4 2 3 2 3 4 3 3 3 2 3 2 3 3 6 1 3 1 6-2 6-1 3-2 6-1 3-2 3-3 5-1 4 1 6 1 3 2 6 3 2 3 1 3 4 1 5 0 6-1 4-3 5-1 3-2 6-1 3-2 4-3 3-3 2-3 3-3 4-3 4-3 3-3 2-3 3-3 4-3 4-3 2-3 2-5 2-4 2-3 1-5 3-4 2-3 2-6 1-6 0-3 1-6 1-6 2-3 1-6 2-3 0-6 1-6 1-6-1-6-1-6 1-6 0-6-1-6 1-6 1-3 1-6 2-6 1-3 0-4 3-3 3-3 3-5 1-6 0-6-1-3-1-6-2-3-1-6-2-3-1-6 0-6 1-3 0-6 2-6 0-6-2-3-1-6 0-6 0-6 0-6 1-6-1-6-1-3-1-6-2-3-1-6-2-3-1-6-1-6 0-6 0-4-2-5-3-3-2-3-2-6-2-3-1-3-2-3-2" fill="none" stroke="#1e1e1e" stroke-width="27" stroke-dasharray="9 3 5 3 14 4 6 2"/>
<path d="M515,336l4 0 6-1 6 1 6 0 3 1 4 2 2 3 3 6 1 3 2 6 1 3 2 4 3 5 1 3 2 5 1 4 2 6 1 3 2 6 1 3 1 6 0 6 1 6 0 6 0 6 0 6 0 6-1 6 0 6 0 6-1 6 0 6 0 6 1 6 1 6 0 3 0 6 0 6 0 6 0 6 0 3-1 6 0 6 0 6 0 6-1 6 0 6-1 6-1 3-1 6-1 6 0 3-1 6-1 6-1 3-3 6-1 3-2 3-3 3-4 3-4 3-4 3-3 2-3 2-4 2-5 1-6 0-6-1-3-1-4-2-3-3-3-3-2-3-3-4-2-5-1-3-3-6-1-3-2-6-1-3-2-6-1-3-1-6-1-6 0-3 0-6 0-3 0-6 0-6 1-6 1-6 1-6 0-3 0-3-1-6 0-6 0-6-2-6 0-3-1-6-1-6-1-6 0-6 0-6 0-3-1-6 1-6 1-3 1-6 1-6 0-3 0-6 0-6 1-6 1-6 1-6 1-3 0-6 1-6 1-3 3-5 2-4 1-3 3-6 1-3 2-3 3-4 3-3 3-4 3-2 5-2zM0,453l6-2 5-1 4-1 6-2 3-1 6 0 6-2 3-3 3-1 6-1 6 1 6-1 3-3 3-3 3-2 6-2 6 0 3-1 4-2 5-3 3-1 6-2 3 0 6 0 3 0 3-1 3-2 3-3 4-3 5-3 3 0 6 0 3 0 6 1 6-1 3-1 3-2 4-3 5-3 3-2 3-2 5-2 4-1 6-1 6-1 3 0 6 0 3 0 4 0 5-1 6-1 6 0 6 0 6-1 6 2 3 1 6 1 6 1 6 0 6-1 6-1 5 3 4 3 3 2 3 1 6 3 3 0 6 2 3 1 4 3 3 3 2 4 3 3 3 2 6 3 3 1 3 3 3 4 3 4 2 3 2 3 4 3 3 3 2 3 2 3 3 6 1 3 1 6-2 6-1 3-2 6-1 3-2 3-3 5-1 4 1 6 1 3 2 6 3 2 3 1 3 4 1 5 0 6-1 4-3 5-1 3-2 6-1 3-2 4-3 3-3 2-3 3-3 4-3 4-3 3-3 2-3 3-3 4-3 4-3 2-3 2-5 2-4 2-3 1-5 3-4 2-3 2-6 1-6 0-3 1-6 1-6 2-3 1-6 2-3 0-6 1-6 1-6-1-6-1-6 1-6 0-6-1-6 1-6 1-3 1-6 2-6 1-3 0-4 3-3 3-3 3-5 1-6 0-6-1-3-1-6-2-3-1-6-2-3-1-6 0-6 1-3 0-6 2-6 0-6-2-3-1-6 0-6 0-6 0-6 1-6-1-6-1-3-1-6-2-3-1-6-2-3-1-6-1-6 0-6 0-4-2-5-3-3-2-3-2-6-2-3-1-3-2-3-2" fill="#e4e4e4" stroke="#fff" stroke-width="13"/>
<path d="M0,489l3-3 2-3 1-4 1-5 4-3 4-1 6 0 4 1 5 0 6 0 3 0 3 0 3 0 6-3 3-2 3-2 3-2 5-3 4-2 3-2 3-2 6-3 3-1 6-2 3-2 3-4 2-3 4-2 6 0 4 2 5 2 6 1 6 0 3 0 6 3 3 0 3 0 6-3 3-1 6-1 3-2 3-3 3-4 2-4 1-3 2-6 3-3 4-2 3-2 3-2 6-2 6 1 3 1 6 2 5 1 4 0 3-1 5-2 4-1 6 0 6 0 6-1 6 0 6 0 5 2 4 1 6 1 5 1 4 2 3 2 4 2 5 3 3 0 3 0 6-1 3 1 3 5 1 4 2 5 3 3 5 1 4 1 5 2 2 3-1 5-1 4 1 6 1 3 2 4 2 5 1 3 3 6 1 3-1 6 0 3 0 6 0 3 1 6 1 6 1 6 1 3 2 5 2 4 0 6-2 3-3 5-2 4-2 3-2 3-3 3-3 3-3 3-3 4-5 2-4 1-6 1-3 3-3 2-3 3-4 2-5 2-3 1-6 3-3 2-3 2-3 2-5 3-4 1-6 2-3 1-6 2-3 0-6 1-6 0-4-1-5-1-6-1-6 0-3-1-6-1-4 1-5 1-6 0-4-1-5-1-4 1-5 2-3 1-6 3-3 1-4 2-5 1-6-1-3 0-5 0-4 1-6 1-6 0-6 0-6-2-3 0-6-2-6-1-3 0-3 1-6 1-5 1-2 0-5-1-6-2-3-1-6-2-3 0-6-2-3-1-6-2-3-1-6-2-3-2-4-2-5-2-3-1-4-3-5-3-3-1-3-1" fill="#f6f6f6"/>
<path d="M249,423l3 0 6 0 6-2 6 1 3 2 3 3 3 2 6 3 3 1 6 1 3 1 5 3 3 3 2 3 2 6 1 3 2 6 1 3 1 6 1 4 2 5 1 3 3 5 1 4 1 6 1 3 2 6 1 4 2 5 2 3 2 5 0 4 0 3-2 6-2 3-2 4-3 3-3 3-3 4-3 2-5 2-4 2-3 1-5 3-4 3-3 2-3 2-3 2-5 3-4 3-3 3-3 3-3 2-3 3-3 2-4 2-5 2-4 1-5 1-6 0-3-1-6-3-3 0-6-1-6-1-3-1-6-1-6 1-3 0-6 0-3 0-6 0-6 0-4 0-5 2-3 2-6 2-3 0-6 1-6 2-3 0-6 2-6 1-3 0-5 0-4-1-6-2-3-1-6-1-6-1-6 0-6 1-6 1-6-1-6-1-3-1-6 0-6-1-3-1-5-3-4-3-3-3-3-1-6-2-3-1-3-2-4-3-5-3-2-3-2-3-1-6-1-6 1-6 2-4 3-5 1-3 1-6-2-6 2-6 1-3 1-6 1-6 2-3 2-3 3-4 6-1 6 0 3-1 6-2 3-2 4-2 5-3 3-2 3-2 5-2 4-1 6-1 4-1 4-3 4-2 4-1 5-1 6 0 6 0 6 0 6 0 5 1 4 1 4-1 5-2 3-2 6-2 3-1 3-2 4-3 5-2 6-1 5 3 3 3 4 1 6 0 6 0 3-1 4-3 3-3 2-6 0-5 3-2 6-1 3-2 3-2 6-2 6 0 6-1 3 0 5-3 4-3z" fill="#ececec"/>
<path d="M257,435l4-1 4 1 5 3 3 2 3 1 6 2 3 1 6 0 6 3 1 3 0 6 1 6 0 6 1 4 3 5 1 3 2 4 2 5 1 5 1 4 0 6-2 3 0 6 0 6 0 6 0 6 0 6-2 3-3 3-5 3-2 3-2 3-3 3-6 2-5 1-4 2-2 4-2 3-3 3-2 3-3 3-3 3-3 3-6 3-3 0-6 2-6 0-4-2-5-2-6 0-6 0-6-1-3 0-6-1-6-1-6 0-6 0-3-1-6-1-6 0-4 1-5 2-3 3-3 2-6 1-6 1-6 0-3 0-6 2-6 0-6-1-6-1-3 0-6-3-3-1-3-3-3-3-3-2-6-3-3 0-6 0-6-2-3-2-6-2-5 3-3 3-4 1-3-2-3-2-3-3-4-3-5-2-3-1-4-3 0-6 1-5 2-4 1-3 2-6 0-6-2-5-1-4 1-4 3-3 3-2 6-3 3-2 3-2 3-2 6-3 3-1 6 0 6-1 3-1 6-1 6-2 3-1 3-3 6-1 6 1 6-1 6 1 3 1 6 1 3-3 3-4 1-3 3-3 5-3 3-1 4-2 5-1 6 0 6-1 6 1 3 1 6 2 6-2 3-3 3-1 6 0 6-1 3-1 4-3 4-3 4-3 3-1 6-2 3-2 3-2 3-3 3-3 3-3 4-2 5-1 6-1 5-1z" fill="#dcdcdc"/>
<path d="M254,459l3 0 2 3 2 3 6 3 3 0 6 0 5 0 4 0 3 3 2 3 2 3 2 4 3 5-1 6-2 6-1 3-2 5 0 3 1 4 2 5 0 2-2 5-3 3-2 3-4 3-4 3-2 3-2 3-4 3-4 1-6 2-3 2-2 4 2 5 2 4-2 5-3 3-3 1-4 0-5-1-6 1-6 0-6-1-6-1-5 2-4 1-5-1-4-1-6-1-6 1-6-1-5-1-4-1-6-1-6 2-3 1-4 2-5 3-3 1-6 1-6 1-3 0-6 0-4 0-5-2-3-1-6-2-3-2-4-2-4-3-3-3-3-3-1-4-3-2-3 2-3 1-3 0-4-3-5-2-6 1-6-2-1-3-2-6-1-3-2-4-3-4-1-4 1-3 6-3 4 3 5 3 3 0 3 0 3-3 0-6 0-3 1-3 2-4 6-2 3 0 6-2 3-1 6 0 3 1 6 1 6-1 6-1 6 0 3-1 3-2 3-3 3-3 3-3 3-3 3-4 3-3 6 1 3 1 5 2 3 3 3 3 4 0 3-2 3-4 2-3 3-3 4-3 3 0 3 1 6 1 6-2 3-3 3-2 6 1 6 0 3-2 4-3 5-1 6 1 6-1 4-2 1-6z" fill="#c6c6c6"/>
<path d="M253,483l5-2 3 2 5 3 3 3 2 3 2 4 3 5 3 3 1 3 1 6-1 6-3 3-3 3-4 3-3 1-6 1-3 2-3 4-3 4-3 2-3 2-3 2-2 6-1 3-3 5-3 1-3 0-6-2-3-2-4-2-5 0-3 0-6 3-3 1-6 1-6-1-3-1-6-2-6 0-6 0-5 2-4 2-3 2-6 2-3 0-6 2-4 1-5 1-3-1-5-3-4-2-3-1-3-3 0-3 3-3 3-3 2-6 0-6-1-6-1-6 3-5 3-2 6-2 3-2 3-2 3-2 6-2 5-1 4-1 6-1 6-1 3-1 6-2 3 0 6-1 5-2 3-3 3-3 4-1 6 1 3 1 5-1 4-3 3-2 6 1 3 1 6 2 4-2 5-2 4-1 3-3zM93,519l3-2 3 0 3 2-1 3-2 2-3 0-3-2 0-3z" fill="#bebebe"/>
<path d="M223,498l3 0 5 3 3 0 3 0 6 0 3 1 3 4 3 2 3-3 0-4 3-4 4 1 3 3 3 3 3 3 3 3 0 6-4 3-3 1-6 0-6 0-3 3-3 4-3 3-6 0-6-1-5 2-3 3-1 3-3 4-5-1-1-3-1-6-2-6-1-3-1-6-1-6 3-5 3-3 3-2 4-2zM177,507l3-1 4 1 4 3-1 6-3 3-4 1-5-1-2 0-2 6 0 3 0 3 3 3 6 0 5 3 2 3-1 3-6 2-6 1-3 1-3 2-6 3-3 2-3 1-6 3-6-1-3-2-2-6-2-3-2-6 0-3-3-6-1-3 1-4 3-3 4-2 5-3 3-1 6-1 6 0 6 0 6-1 2-3 4-3zM192,546l3-2 3 1 0 1 1 3-1 3-3 0-1 0-1-3-1-3z" fill="#d2d2d2"/>
<path d="M217,507l5-2 6 1 3 2 3 3 6 2 3 2 1 4-1 4-6 0-6 0-6 1-6-2-3-3-1-3 0-6 2-3zM146,522l4-1 6 0 6 1 2 3 1 6 0 3 3 6-3 6-3 2-3 1-6 2-3 1-3-1-3-3-2-5 0-6-1-6-1-3 1-3 5-3z" fill="#e8e8e8"/>
<path d="M521,345l4 0 3 0 6 2 3 3 3 3 2 4 2 3 2 6 1 3 2 4 3 4 2 4 2 3 2 5 2 4 1 3 2 6 1 6 0 3 0 6 0 6 0 6 0 6 0 6 0 5 0 4-1 6 0 6 0 6 0 6 0 6 1 3 1 6 0 6-1 6 0 6 0 6 0 5-1 4 0 6 0 6 0 6 0 6 0 6-1 6-1 5-1 4-1 6-1 5-1 4-1 6-1 3-3 6-2 3-3 3-4 3-3 2-3 3-3 2-6 2-3 1-6-1-4 0-5-2-3-3-3-4-2-3-2-3-2-3-3-6-1-3-2-5-1-4-2-6-1-3-1-6-1-6 0-6 0-6 0-6 1-6 0-6 2-6 0-3 0-6 0-5 0-4-1-6-1-6-1-4-1-5 0-6-1-6-1-6 0-3-1-6 0-6 0-6 1-6 1-3 1-6 1-3 0-6 0-3 0-6 0-3 1-6 2-6 0-3 1-6 1-6 1-4 2-5 2-3 2-6 2-3 2-3 3-3 2-3 4-3 5-3 5 0z" fill="#e0e0e0"/>
<path d="M514,354l5-1 6 1 3 2 3 3 3 3 3 3 2 4 2 3 2 4 3 4 3 4 2 3 1 3 3 4 2 5 1 3 2 6 0 6 0 6 0 6 0 6 0 6 0 6-1 6 0 6 0 6-1 6 0 3 0 6 0 3 2 6 1 6-1 6-1 6 0 6 0 6-1 3-1 6 0 6 1 6 0 3 0 6 0 6 0 3-1 6-2 5-1 4-1 6-1 4-2 5-1 4-3 5-3 3-3 3-3 3-3 2-3 2-6 1-6 0-4-2-3-3-3-3-3-3-2-3-3-5-2-4-1-3-2-6-1-3-2-6-1-4-1-5 0-6 0-6 0-6 1-6 0-3 1-6 1-6 1-6-1-6 0-6-1-6-1-3-2-6 0-6 0-6-1-6 0-3-1-6-1-6 0-6 0-6 2-6 1-3 2-6 1-3 0-6-1-6 1-6 1-6 1-6 0-5 1-4 2-6 1-3 2-5 2-4 2-3 3-3 3-3 3-3z" fill="#b4b4b4"/>
<path d="M514,363l5-2 6 2 3 3 3 3 3 3 2 3 2 3 3 3 2 3 3 4 3 4 3 4 1 3 2 5 1 4 0 6 0 6 0 6 0 6 0 6 0 6 0 6 0 6-1 6 0 3-1 6 0 6 0 6 1 3 1 6 0 6-1 4-1 5 0 6-1 6-1 5 0 4 0 3 2 6 0 6 0 6 0 6-2 6-1 3-2 6-1 3-2 6-1 3-2 4-3 5-3 3-3 2-3 3-3 1-6 1-3-1-3-3-3-3-3-3-3-3-3-5-2-4-1-3-2-6-1-3-2-6-1-6 0-3 0-6 0-6 0-3 2-6 1-6 0-3 1-6 0-6-1-6 0-3-1-6-2-6-1-3 0-6 0-6 0-6-1-6-1-6 0-3 0-6 0-4 1-5 2-6 1-3 2-5 1-4 0-6 0-6-1-6 1-6 0-6 2-6 2-3 1-3 2-6 2-3 3-3 3-3z" fill="#6c6c6c"/>
<path d="M513,372l6-2 6 2 3 2 3 2 3 4 3 3 3 3 3 4 3 3 2 3 2 3 2 5 1 4 0 6 0 6 0 6 0 6 1 6 0 6 0 6-1 6 0 6-1 4-1 5 0 6 0 6 1 6 0 3 0 6 0 3-1 6-2 6 0 3-1 6 0 6 1 5 1 4 1 6-1 6 0 6-1 4-2 5-1 3-3 6-2 3-2 3-2 6-2 3-3 3-4 3-3 0-3-1-4-2-3-3-4-3-3-3-2-3-2-5-1-4-2-6-1-3-2-6 0-4 0-5 0-3 1-6 2-6 1-3 1-6 1-5 0-4-1-3-1-6-1-4-1-5-2-6-1-3 0-6 0-6 0-6-1-6 0-6-1-6 0-6 2-6 1-4 2-5 1-3 2-6 0-6 0-6 0-6 0-6 1-6 1-3 2-3 3-6 1-3 2-3z" fill="#222"/>
<path d="M521,390l4-1 3 1 6 3 3 2 3 2 3 3 2 5 1 6 0 3 0 6 1 6 1 6 0 6 1 6 0 3 0 4 0 5-2 6-1 3-3 6-1 3 0 6 1 6 0 3 2 6 0 6-2 6-1 3-2 6 0 3 0 6 0 6 0 3 2 6 0 6-1 6-1 6-1 3-2 3-3 3-4 3-3 3-3 3-5 1-3-1-3-4-2-5-1-3-2-6-1-4-1-5 1-6 0-3 3-6 2-3 1-3 1-6-1-6 0-3-2-6-1-3-2-6-1-4-2-5-1-6 1-6 0-6 0-6 0-6-1-5-1-4-1-6 2-6 1-3 2-5 2-4 2-3 0-6-1-6 1-6 2-6 2-3 2-3 4-3z" fill="#5c5c5c"/>
<path d="M525,396l3 0 3 0 4 3 3 3 2 4 1 5 1 6 1 4 1 5 1 6 1 6 0 3 1 6 0 6-1 4-2 5-1 3-3 5-2 4-1 3-1 6 1 6 0 3 2 6 0 6-2 4-3 4-1 4 1 4 1 5 1 6 0 6 1 5 0 4 0 4-1 5-2 5-3 3-3 2-3 2-6 1-3-3-2-4-1-4-1-5 1-6 1-3 1-6 2-3 2-5 1-4-1-4-1-5 0-6 0-6-2-4-2-5-2-3-2-4-1-5 1-6 0-6 0-6 0-6-1-6-2-5-1-4 1-3 2-6 1-3 3-6 2-3 1-6-2-6 1-6 2-3 3-3 5-3z" fill="#8e8e8e"/>
<path d="M522,402l3-2 6 1 3 4 1 3 2 5 2 4 1 3 1 6 1 6 1 3 1 6 1 6 0 6-2 6-1 3-2 3-3 5-2 4-1 3-2 6-1 3-1 6-5 0-2-3-4-2-3-2-2-5-1-6 0-6 1-6-1-4-1-5-2-6 0-3 0-3 2-6 1-3 3-6 3-3 1-3 0-6-2-3 1-6 3-3zM525,531l3-3 3 3 1 6 1 6 0 6-2 6-3 3-3 3-3 0-3-3-1-3 0-6 1-5 1-4 2-5 3-4z" fill="#b0b0b0"/>
<path d="M521,345l4 0 3 0 6 2 3 3 3 3 2 4 2 3 2 6 1 3 2 4 3 4 2 4 2 3 2 5 2 4 1 3 2 6 1 6 0 3 0 6 0 6 0 6 0 6 0 6 0 5 0 4-1 6 0 6 0 6 0 6 0 6 1 3 1 6 0 6-1 6 0 6 0 6 0 5-1 4 0 6 0 6 0 6 0 6 0 6-1 6-1 5-1 4-1 6-1 5-1 4-1 6-1 3-3 6-2 3-3 3-4 3-3 2-3 3-3 2-6 2-3 1-6-1-4 0-5-2-3-3-3-4-2-3-2-3-2-3-3-6-1-3-2-5-1-4-2-6-1-3-1-6-1-6 0-6 0-6 0-6 1-6 0-6 2-6 0-3 0-6 0-5 0-4-1-6-1-6-1-4-1-5 0-6-1-6-1-6 0-3-1-6 0-6 0-6 1-6 1-3 1-6 1-3 0-6 0-3 0-6 0-3 1-6 2-6 0-3 1-6 1-6 1-4 2-5 2-3 2-6 2-3 2-3 3-3 2-3 4-3 5-3 5 0zM0,489l3-3 2-3 1-4 1-5 4-3 4-1 6 0 4 1 5 0 6 0 3 0 3 0 3 0 6-3 3-2 3-2 3-2 5-3 4-2 3-2 3-2 6-3 3-1 6-2 3-2 3-4 2-3 4-2 6 0 4 2 5 2 6 1 6 0 3 0 6 3 3 0 3 0 6-3 3-1 6-1 3-2 3-3 3-4 2-4 1-3 2-6 3-3 4-2 3-2 3-2 6-2 6 1 3 1 6 2 5 1 4 0 3-1 5-2 4-1 6 0 6 0 6-1 6 0 6 0 5 2 4 1 6 1 5 1 4 2 3 2 4 2 5 3 3 0 3 0 6-1 3 1 3 5 1 4 2 5 3 3 5 1 4 1 5 2 2 3-1 5-1 4 1 6 1 3 2 4 2 5 1 3 3 6 1 3-1 6 0 3 0 6 0 3 1 6 1 6 1 6 1 3 2 5 2 4 0 6-2 3-3 5-2 4-2 3-2 3-3 3-3 3-3 3-3 4-5 2-4 1-6 1-3 3-3 2-3 3-4 2-5 2-3 1-6 3-3 2-3 2-3 2-5 3-4 1-6 2-3 1-6 2-3 0-6 1-6 0-4-1-5-1-6-1-6 0-3-1-6-1-4 1-5 1-6 0-4-1-5-1-4 1-5 2-3 1-6 3-3 1-4 2-5 1-6-1-3 0-5 0-4 1-6 1-6 0-6 0-6-2-3 0-6-2-6-1-3 0-3 1-6 1-5 1-2 0-5-1-6-2-3-1-6-2-3 0-6-2-3-1-6-2-3-1-6-2-3-2-4-2-5-2-3-1-4-3-5-3-3-1-3-1M514,351l5-1 6 0 3 2 3 2 3 3 3 3 3 4 2 5 1 3 3 5 3 4 2 3 2 3 2 4 3 5 1 3 1 6 1 3 1 6-1 6 0 6 0 6 0 6 0 6 0 4 0 5-1 6 0 6 0 6 0 6 1 6 1 3 0 6-1 6 0 3-1 6 1 6-1 6-1 6 0 6 1 6 0 6 0 6 0 6-2 6 0 3-2 6-1 6-1 3-1 6-1 3-3 6-2 3-3 3-4 3-3 3-3 2-3 1-6 2-6-1-5-1-4-3-2-3-3-3-2-3-2-3-3-6-2-3-1-4-1-5-2-6-1-3-1-6-1-6 0-6 0-6 0-6 1-6 1-6 1-3 1-6 0-6-1-6 0-3-1-6-2-6 0-3-1-6 0-6-1-6-1-6 0-3-1-6 0-6 1-6 0-3 2-6 1-3 1-6 0-6 0-6 0-6 2-6 0-3 1-6 1-6 1-5 2-4 1-3 2-6 2-3 3-3 3-3 2-3 4-3zM0,509l3-4 3-4 2-3 3-3 1-3 3-6 3-3 3 0 3 0 6 1 6-1 3-1 6-1 3-2 3-2 5-3 4-3 3-1 6-2 3-1 3-2 4-3 5-3 3-1 5-2 4-1 6-1 6 0 6-1 6 3 3 1 6 2 3 0 3-1 6-2 3-1 5-2 4-3 3-2 4-1 5-1 5-2 4-3 3-3 3-3 1-3 2-6 3-3 3-2 6-1 5 3 3 3 4 2 6 0 6-2 3-1 6-1 6-1 3-1 3-2 4-3 5-1 6 1 3 0 3 0 6 0 4 0 5 3 3 3 3 3 3 2 6 1 3 1 6 2 3 2 3 2 3 3 3 4 2 4 1 6 1 3 2 3 3 4 3 4 2 4 1 3 3 6 1 3 0 6 0 6 1 6 0 6 1 3 3 5 1 4 2 6 0 3 1 6-1 3-3 6-3 3-3 2-3 2-3 3-3 4-3 1-6 2-5 1-4 2-3 2-3 3-3 3-4 2-5 2-3 2-3 2-4 3-4 3-3 3-4 3-3 2-3 1-6 2-3 1-6 2-6 0-4-2-5-2-6-1-3 0-6-2-3-1-6-1-3 1-6 1-6 0-6 0-6 0-6 1-3 1-6 2-4 1-5 1-6 1-3 1-6 2-3 1-6 1-6 1-6-1-3-1-6-2-3-1-6-1-6-1-6 1-5 1-4 0-6 1-5-1-4-1-6-1-3-1-6-2-3-1-6-3-3-1-3-2-4-3-5-2-4-1-5-3-3-2-3-2-5-2-3-3-1-1M514,354l5-1 6 1 3 2 3 3 3 3 3 3 2 4 2 3 2 4 3 4 3 4 2 3 1 3 3 4 2 5 1 3 2 6 0 6 0 6 0 6 0 6 0 6 0 6-1 6 0 6 0 6-1 6 0 3 0 6 0 3 2 6 1 6-1 6-1 6 0 6 0 6-1 3-1 6 0 6 1 6 0 3 0 6 0 6 0 3-1 6-2 5-1 4-1 6-1 4-2 5-1 4-3 5-3 3-3 3-3 3-3 2-3 2-6 1-6 0-4-2-3-3-3-3-3-3-2-3-3-5-2-4-1-3-2-6-1-3-2-6-1-4-1-5 0-6 0-6 0-6 1-6 0-3 1-6 1-6 1-6-1-6 0-6-1-6-1-3-2-6 0-6 0-6-1-6 0-3-1-6-1-6 0-6 0-6 2-6 1-3 2-6 1-3 0-6-1-6 1-6 1-6 1-6 0-5 1-4 2-6 1-3 2-5 2-4 2-3 3-3 3-3 3-3zM249,423l3 0 6 0 6-2 6 1 3 2 3 3 3 2 6 3 3 1 6 1 3 1 5 3 3 3 2 3 2 6 1 3 2 6 1 3 1 6 1 4 2 5 1 3 3 5 1 4 1 6 1 3 2 6 1 4 2 5 2 3 2 5 0 4 0 3-2 6-2 3-2 4-3 3-3 3-3 4-3 2-5 2-4 2-3 1-5 3-4 3-3 2-3 2-3 2-5 3-4 3-3 3-3 3-3 2-3 3-3 2-4 2-5 2-4 1-5 1-6 0-3-1-6-3-3 0-6-1-6-1-3-1-6-1-6 1-3 0-6 0-3 0-6 0-6 0-4 0-5 2-3 2-6 2-3 0-6 1-6 2-3 0-6 2-6 1-3 0-5 0-4-1-6-2-3-1-6-1-6-1-6 0-6 1-6 1-6-1-6-1-3-1-6 0-6-1-3-1-5-3-4-3-3-3-3-1-6-2-3-1-3-2-4-3-5-3-2-3-2-3-1-6-1-6 1-6 2-4 3-5 1-3 1-6-2-6 2-6 1-3 1-6 1-6 2-3 2-3 3-4 6-1 6 0 3-1 6-2 3-2 4-2 5-3 3-2 3-2 5-2 4-1 6-1 4-1 4-3 4-2 4-1 5-1 6 0 6 0 6 0 6 0 5 1 4 1 4-1 5-2 3-2 6-2 3-1 3-2 4-3 5-2 6-1 5 3 3 3 4 1 6 0 6 0 3-1 4-3 3-3 2-6 0-5 3-2 6-1 3-2 3-2 6-2 6 0 6-1 3 0 5-3 4-3zM517,357l4 0 4 2 3 3 3 2 3 4 3 4 2 3 2 3 2 3 3 4 3 4 3 4 2 3 1 3 2 6 1 6 0 6 0 6 0 6 0 6 0 6 0 6-1 6 0 6-1 6 0 6 0 6 0 6 2 6 0 3 0 3-1 6-1 6 0 6-1 6 0 3-1 6 1 6 1 3 0 6 0 6 0 6-1 3-2 6-1 4-1 5-2 6-1 3-2 5-2 4-3 3-3 3-3 3-4 2-3 2-6 0-4-1-4-3-3-3-2-3-3-3-2-3-3-5-1-4-2-5-1-4-2-6-1-3-1-6 0-6 0-6 1-6 1-6 0-3 1-6 1-6 0-6-1-6 0-6-1-3-2-6-1-6 0-3 0-6 0-6-1-6-1-6-1-6 1-6 1-6 1-4 2-5 1-4 1-5 0-6 0-6 0-6 1-6 0-6 1-4 2-5 1-3 2-6 2-3 2-3 3-3 3-3 4-3zM261,429l6 0 3 2 3 2 4 2 5 2 3 2 6 1 6 1 3 2 2 4 1 6 1 3 1 6 0 6 1 4 2 5 1 3 2 6 2 3 2 6 2 3 1 3 1 6-1 3-3 4-1 5 1 5 1 4 0 6-1 4-3 5-2 3-3 3-4 2-3 2-3 3-3 2-5 3-4 2-3 1-5 3-2 3-3 3-3 3-3 3-3 3-3 3-5 3-3 1-6 1-6 1-6-2-3-1-6-1-6-1-6-1-3 0-6-1-6 0-6 0-6 0-6-2-3 0-6 0-3 0-6 3-3 2-3 2-6 1-4 1-5 1-6 0-6 1-5 1-4 0-3 0-6-1-6-1-3-1-6-2-6-1-3-1-6 0-6-1-3-4-3-2-3-2-6-1-3 3-3 4-3 2-6 0-3-2-3-4-3-3-3-3-3-2-3-2-6-3-3-1-5-2-2-3 0-6 0-6 1-3 3-5 3-4 1-3 0-6-1-4-1-5 1-5 2-4 1-4 3-5 3-2 6-1 3-1 4-2 5-3 3-1 3-2 6-3 3-1 4-2 5-3 6 2 6 0 4-2 5-2 6-1 6 0 6 1 6 1 6 0 3-3 3-2 5-3 4-1 4-2 5-2 5-1 4-1 3-2 5-3 4-1 3 4 2 3 4 2 5-2 4-1 6-1 6 0 4-1 4-3 3-3 3-3 4-3 3-2 3-2 3-4 3-4 3-1 6-1 3-1 6-2 5-1 4-1 6-1 3-1zM514,363l5-2 6 2 3 3 3 3 3 3 2 3 2 3 3 3 2 3 3 4 3 4 3 4 1 3 2 5 1 4 0 6 0 6 0 6 0 6 0 6 0 6 0 6 0 6-1 6 0 3-1 6 0 6 0 6 1 3 1 6 0 6-1 4-1 5 0 6-1 6-1 5 0 4 0 3 2 6 0 6 0 6 0 6-2 6-1 3-2 6-1 3-2 6-1 3-2 4-3 5-3 3-3 2-3 3-3 1-6 1-3-1-3-3-3-3-3-3-3-3-3-5-2-4-1-3-2-6-1-3-2-6-1-6 0-3 0-6 0-6 0-3 2-6 1-6 0-3 1-6 0-6-1-6 0-3-1-6-2-6-1-3 0-6 0-6 0-6-1-6-1-6 0-3 0-6 0-4 1-5 2-6 1-3 2-5 1-4 0-6 0-6-1-6 1-6 0-6 2-6 2-3 1-3 2-6 2-3 3-3 3-3zM257,435l4-1 4 1 5 3 3 2 3 1 6 2 3 1 6 0 6 3 1 3 0 6 1 6 0 6 1 4 3 5 1 3 2 4 2 5 1 5 1 4 0 6-2 3 0 6 0 6 0 6 0 6 0 6-2 3-3 3-5 3-2 3-2 3-3 3-6 2-5 1-4 2-2 4-2 3-3 3-2 3-3 3-3 3-3 3-6 3-3 0-6 2-6 0-4-2-5-2-6 0-6 0-6-1-3 0-6-1-6-1-6 0-6 0-3-1-6-1-6 0-4 1-5 2-3 3-3 2-6 1-6 1-6 0-3 0-6 2-6 0-6-1-6-1-3 0-6-3-3-1-3-3-3-3-3-2-6-3-3 0-6 0-6-2-3-2-6-2-5 3-3 3-4 1-3-2-3-2-3-3-4-3-5-2-3-1-4-3 0-6 1-5 2-4 1-3 2-6 0-6-2-5-1-4 1-4 3-3 3-2 6-3 3-2 3-2 3-2 6-3 3-1 6 0 6-1 3-1 6-1 6-2 3-1 3-3 6-1 6 1 6-1 6 1 3 1 6 1 3-3 3-4 1-3 3-3 5-3 3-1 4-2 5-1 6 0 6-1 6 1 3 1 6 2 6-2 3-3 3-1 6 0 6-1 3-1 4-3 4-3 4-3 3-1 6-2 3-2 3-2 3-3 3-3 3-3 4-2 5-1 6-1 5-1zM516,366l3-1 4 1 4 3 3 3 3 3 2 3 3 3 2 3 3 3 3 4 3 4 3 4 1 3 1 6 1 6-1 6 0 6 1 6 0 6 0 6 0 6 0 6-1 6-1 6-1 6 0 6 1 6 1 6 0 6-1 6-1 5-1 4 0 6-1 6 0 6 2 6 1 3-1 6 0 3 0 6-2 6-1 4-2 5-1 3-3 5-2 4-1 3-3 5-3 3-3 2-5 2-3 0-4-2-3-2-3-3-3-3-3-3-3-5-1-3-2-6-1-3-2-6-1-3-1-6 0-6 1-6 1-5 1-4 1-6 1-5 1-4-1-6 0-3-1-6-2-6-1-3-1-6-1-6 1-6-1-6 0-4-1-5 0-6-1-6 1-6 1-3 2-6 1-3 2-6 1-3 0-6 0-6 0-3 0-6 0-5 1-4 2-6 2-3 1-3 2-6 3-3 4-3zM246,441l3 0 6-1 6 0 3 2 3 2 6 2 3 1 6 2 6 1 3 1 2 5 1 6 0 6 1 3 2 4 3 5 2 3 1 3 1 6-1 6-2 3-1 4 0 3 2 5 1 5 0 2-1 5-2 3-2 6-1 3-3 3-3 3-3 6-3 2-3 1-6 2-3 1-3 5-1 4-2 3-3 4-3 4-3 3-3 2-6 1-6 1-3 1-3-1-6-2-3-1-6-1-3 1-6 1-6-1-3 0-6-2-6 0-6 0-5-1-4-1-6-1-6 1-4 1-5 3-3 2-3 2-6 1-6 0-6 1-3 1-6 1-6-1-3-1-6-2-3-1-6-3-3-3-3-3-3-2-3-1-6-2-6-1-3 0-4-3-5-3-3 0-6-1-4-2-5-1-6-2-3-2-2-4 0-6 1-6-1-6 1-6 3-3 3-3 2-3 2-5 3-4 3-2 3-2 6 0 6-1 3-1 6-2 6 0 3-1 6-3 3-1 6 0 6 0 6 1 3 0 6 1 3-2 3-3 3-4 3-4 3-3 3-2 3-2 5-2 4 0 3 0 6 1 6 0 6 1 3 1 4 0 5-3 3-3 3-1 6 0 6 0 3-2 4-3 3-3 5-2 3-1 6-3 3-2 3-2 3-2 3-3 4-3 5-3zM513,372l6-2 6 2 3 2 3 2 3 4 3 3 3 3 3 4 3 3 2 3 2 3 2 5 1 4 0 6 0 6 0 6 0 6 1 6 0 6 0 6-1 6 0 6-1 4-1 5 0 6 0 6 1 6 0 3 0 6 0 3-1 6-2 6 0 3-1 6 0 6 1 5 1 4 1 6-1 6 0 6-1 4-2 5-1 3-3 6-2 3-2 3-2 6-2 3-3 3-4 3-3 0-3-1-4-2-3-3-4-3-3-3-2-3-2-5-1-4-2-6-1-3-2-6 0-4 0-5 0-3 1-6 2-6 1-3 1-6 1-5 0-4-1-3-1-6-1-4-1-5-2-6-1-3 0-6 0-6 0-6-1-6 0-6-1-6 0-6 2-6 1-4 2-5 1-3 2-6 0-6 0-6 0-6 0-6 1-6 1-3 2-3 3-6 1-3 2-3zM246,447l4 0 5 2 3 2 5 2 1 0 6-1 2 4 0 6 4 3 6-2 3-1 3 1 2 5 1 3 3 5 3 4 2 3 1 5 0 3-1 4-2 5-2 4 0 6 2 4 1 5-1 4-3 5-2 3-3 3-4 3-3 3-2 3-1 3-4 3-5 2-6 1-3 2 0 3 3 4 0 3-1 3-2 3-3 3-4 3-5 1-6-1-6 1-4-1-5-1-6-1-6 2-3 1-6 0-3-1-6-2-6 0-6 1-6-2-3-1-6-1-6 1-4 1-5 2-3 2-3 2-6 2-6 0-6 1-3 0-6 1-5-1-4-2-3-2-6-2-3-1-3-2-3-3-4-3-5-2-3-1-6-1-6-2-3-2-3-1-6-1-5-2-3-3-1-6-1-3-3-3-5-3-2-3 0-6 2-3 3-3 3-6 2-3 3-3 4-1 4 1 5 1 3-4 3-2 3-1 6-1 6-1 3-1 6-2 6 2 3 1 6 0 5-1 4-1 6-2 3-2 3-4 3-2 3-2 3-2 3-4 3-4 6 0 6 1 6 1 5 0 4 2 6-2 3-2 3-3 3-1 5 0 4 1 6-1 3-3 3-3 3-2 3-2 6-1 3-1 6-2 6 1 4-2 0-6 2-4 3-2zM515,375l4-1 4 1 5 2 3 3 3 3 3 3 3 3 3 3 3 3 3 4 1 3 2 6 0 6 0 6 0 6 0 3 0 6 1 6 0 6 0 6-1 6-1 3-1 6-1 6 0 6 1 6 1 6 0 6-1 6-1 4-1 5-1 6-1 6 1 6 2 6 0 3 0 5-1 4 0 6-1 6-2 3-2 5-3 4-3 3-1 3-2 6-2 3-4 3-3 0-3 0-4-3-4-3-4-3-2-3-2-3-2-6 0-3-2-6-1-3-2-6 0-6 1-6 1-4 2-5 1-4 1-5 1-6-1-6-1-3-1-6-2-6-1-3-1-6-1-6 1-6 0-6-1-5-1-4 0-6 0-6 0-6 1-3 2-6 1-3 3-6 1-3 0-6-1-6 0-6 0-6 2-6 2-3 2-3 3-6 2-3zM254,459l3 0 2 3 2 3 6 3 3 0 6 0 5 0 4 0 3 3 2 3 2 3 2 4 3 5-1 6-2 6-1 3-2 5 0 3 1 4 2 5 0 2-2 5-3 3-2 3-4 3-4 3-2 3-2 3-4 3-4 1-6 2-3 2-2 4 2 5 2 4-2 5-3 3-3 1-4 0-5-1-6 1-6 0-6-1-6-1-5 2-4 1-5-1-4-1-6-1-6 1-6-1-5-1-4-1-6-1-6 2-3 1-4 2-5 3-3 1-6 1-6 1-3 0-6 0-4 0-5-2-3-1-6-2-3-2-4-2-4-3-3-3-3-3-1-4-3-2-3 2-3 1-3 0-4-3-5-2-6 1-6-2-1-3-2-6-1-3-2-4-3-4-1-4 1-3 6-3 4 3 5 3 3 0 3 0 3-3 0-6 0-3 1-3 2-4 6-2 3 0 6-2 3-1 6 0 3 1 6 1 6-1 6-1 6 0 3-1 3-2 3-3 3-3 3-3 3-3 3-4 3-3 6 1 3 1 5 2 3 3 3 3 4 0 3-2 3-4 2-3 3-3 4-3 3 0 3 1 6 1 6-2 3-3 3-2 6 1 6 0 3-2 4-3 5-1 6 1 6-1 4-2 1-6zM515,381l4-2 6 1 3 1 4 3 3 3 4 3 3 3 3 3 2 3 2 4 1 5 1 6-1 6 1 6 0 6 1 6 0 6 0 6-1 6-1 6-1 6-1 3-1 6 1 6 1 6 0 3 0 6 0 4-1 5-2 6 0 3-1 6-1 6 2 6 1 3 1 6-1 6-1 6 0 3-3 6-2 3-2 3-3 3-2 3-2 6-1 3-3 3-5 0-4-2-3-2-3-2-3-3-3-6-1-3-2-6-1-3-1-6-1-4 0-5 0-3 1-6 2-4 2-5 1-3 1-6 0-6-1-3-2-6-1-3-1-6-2-5-1-4 0-6 0-6 0-6-1-6 0-6-1-6 0-6 2-6 1-4 2-5 2-3 1-6 0-6 0-6 0-6 1-6 0-3 3-5 3-4 2-3zM236,471l3 0 4 1 6 0 3-1 6 0 3 0 6 1 6 0 6-1 6 2 3 3 2 4 2 3 1 6-1 6-1 3-3 6 0 3 0 3 2 6-1 6-2 3-2 3-4 3-3 3-3 3-3 3-5 3-3 1-4 2-4 3-3 3-1 3 0 6 2 3-2 4-6 0-6 2-6 0-6-1-6-1-6 0-6 2-2 0-4-1-6-1-6 1-6 0-6-1-3-1-6-1-6 0-3 1-6 3-3 1-4 2-5 2-6 1-3 0-6 0-3 0-6-2-5-1-4-1-4-2-4-3-4-3-2-3-2-3-1-6-4-3-3 0-3 0-4 0-3-3-2-6 0-3 0-3 2-6 2-3 1-6 1-6 3-2 4-1 5-2 6-1 6 1 6 0 6 0 6 1 6-1 3-1 3-3 3-3 3-4 3-3 3-3 3-3 6 0 3 3 3 3 3 1 6 1 6-1 3-2 2-4 2-3 2-3 6-3 6 2 6 0 5-2 4-1 6 0 6-1 3-2 3-2 5-3zM58,537l5-2 6 2 3 3-3 5-3 3-3 1-3-2-1-4-1-6zM518,384l4-1 3 1 6 3 3 2 3 2 3 2 3 3 3 4 2 5 1 6 0 6 0 3 0 6 1 6 1 6 0 6 0 6-1 6-1 6-1 3-2 6 0 3 0 6 0 3 1 6 1 6 0 6-2 6-1 3-1 6-1 6 0 3 0 6 1 3 2 6-1 6 0 6-1 6-1 3-3 4-3 4-3 3-3 4-1 3-2 4-3 2-3-1-5-2-4-2-3-4-1-3-2-6-1-3-2-6-1-3 0-6 0-6 1-5 2-4 1-3 3-6 0-3 0-6 0-3-2-6-2-3-1-6-1-4-2-5-1-6 1-6 0-6 0-6-1-5 0-4-1-6 0-6 1-5 1-4 2-5 2-4 2-3 0-6-1-6 1-6 0-6 2-6 2-3 3-3 3-3zM254,474l2 0 5 1 6 2 6-1 6-1 5 2 2 3 2 5 0 3-2 4-1 3 0 6 0 6 0 3 1 6-1 4-3 5-3 3-3 3-3 3-3 3-3 1-3 2-6 3-3 3-3 3-3 2-3 4-1 3-2 6-3 2-6 1-6-1-6-1-3-1-6 0-3 1-6 0-6 0-6 0-6 0-4-1-5 0-6-1-6 0-3 1-6 3-3 1-6 2-3 1-6 2-3 0-6 0-3-1-6-2-3 0-6-2-3-2-3-2-3-3-3-6 3-6 4 0 3-3 0-6-3-3-4-2-5 2-2 3-2 3-6 1-4-1-2-4 0-5 0-3 3-5 1-4 1-6 4-3 3-2 6-1 6 1 6 0 6 1 6 1 6-1 4-2 4-3 3-3 3-3 2-3 5-2 6 1 3 1 6 1 6 0 4-1 5-2 3-1 3-5 2-4 4-2 6 0 6 1 6-1 6-1 3 0 6-2 5-1 4-3 3-1 6 0 6-1 5-1zM520,387l5 0 3 1 5 2 4 3 3 2 3 3 3 4 1 3 0 6 1 6 0 6 1 6 0 4 1 5 0 6 0 6 0 6-1 3-2 6-1 3-2 6 0 6 1 6 1 6 0 3 0 6 0 3-2 6-1 3-1 6-1 6 0 6 2 6 1 3 0 6-1 5 0 4-2 6-2 3-3 3-3 3-3 3-2 3-3 4-6 0-4-1-3-3-2-6-1-3-2-6-1-3-1-6-1-6 1-6 2-5 2-4 2-3 1-6 0-6-2-6-1-3-2-6 0-3-2-6-1-3-1-6 0-6 1-6-1-6 0-6-1-6-1-6 0-1 1-5 2-6 1-3 2-5 2-4 1-6-1-6 0-6 1-4 2-5 1-3 3-3 4-3zM255,477l1 0 5 1 3 2 6 3 3 1 3 5 1 3 2 6 2 3 1 3 1 6 0 6-1 4-3 4-3 3-3 3-3 3-3 1-6 2-3 3-3 2-3 3-3 3-3 2-3 6-1 3-2 4-3 2-6 0-3 0-6-3-3-1-6-1-6 2-3 0-6 1-6 0-6-1-3-1-6 0-6 0-6 0-3 1-5 3-4 2-6 1-3 1-6 2-3 1-6-1-3-1-5-2-4-1-5-2-4-3-1-3 1-3 3-4 3-3 2-5 0-6-2-3-3-5-3-3-5 2-4 1-6 1-3-2-1-6 1-5 3-3 6-1 6 1 6 2 3 0 6 0 3 0 6-1 4-2 4-3 4-3 3-2 3-2 6-1 6 0 6 0 5-1 4-1 6-1 3-1 5-3 2-3 2-3 6-2 6 1 6 1 6-2 3-1 6-2 6 1 3 1 3 0 5-3 4-2 3-2 6-2zM521,390l4-1 3 1 6 3 3 2 3 2 3 3 2 5 1 6 0 3 0 6 1 6 1 6 0 6 1 6 0 3 0 4 0 5-2 6-1 3-3 6-1 3 0 6 1 6 0 3 2 6 0 6-2 6-1 3-2 6 0 3 0 6 0 6 0 3 2 6 0 6-1 6-1 6-1 3-2 3-3 3-4 3-3 3-3 3-5 1-3-1-3-4-2-5-1-3-2-6-1-4-1-5 1-6 0-3 3-6 2-3 1-3 1-6-1-6 0-3-2-6-1-3-2-6-1-4-2-5-1-6 1-6 0-6 0-6 0-6-1-5-1-4-1-6 2-6 1-3 2-5 2-4 2-3 0-6-1-6 1-6 2-6 2-3 2-3 4-3zM253,483l5-2 3 2 5 3 3 3 2 3 2 4 3 5 3 3 1 3 1 6-1 6-3 3-3 3-4 3-3 1-6 1-3 2-3 4-3 4-3 2-3 2-3 2-2 6-1 3-3 5-3 1-3 0-6-2-3-2-4-2-5 0-3 0-6 3-3 1-6 1-6-1-3-1-6-2-6 0-6 0-5 2-4 2-3 2-6 2-3 0-6 2-4 1-5 1-3-1-5-3-4-2-3-1-3-3 0-3 3-3 3-3 2-6 0-6-1-6-1-6 3-5 3-2 6-2 3-2 3-2 3-2 6-2 5-1 4-1 6-1 6-1 3-1 6-2 3 0 6-1 5-2 3-3 3-3 4-1 6 1 3 1 5-1 4-3 3-2 6 1 3 1 6 2 4-2 5-2 4-1 3-3zM93,519l3-2 3 0 3 2-1 3-2 2-3 0-3-2 0-3zM521,393l4-1 5 1 4 2 3 2 3 2 3 5 1 4 0 6 1 6 1 6 0 3 1 6 1 6 0 6 0 6-1 6-1 3-3 6-1 3-2 5 0 4 0 3 1 6 2 6 0 3 0 4-1 5-2 4-2 5 0 6 0 6 1 6 1 6 0 3 0 6 0 3-2 6-1 3-3 3-3 3-4 3-5 3-3 1-3-2-3-5-1-3-2-5-1-4 0-6 0-6 1-4 2-5 2-3 2-6-1-6 0-6-2-6-1-3-2-6-1-3-2-6-1-3 0-6 1-6 0-6-1-6 0-6-1-6-1-3 0-4 1-5 2-5 2-4 2-3 2-6-1-6 0-6 1-5 2-4 3-3 3-3zM254,489l4-2 4 2 4 3 2 3 2 3 3 4 3 3 3 5 0 3 0 3-3 4-3 2-5 3-4 1-6 1-3 3-3 4-2 3-4 3-3 1-3-1-5-3-2 0-2 3 0 3 3 5 2 4-2 5-6-1-3-3-3-1-6-1-6 1-3 1-3 2-6 3-6-1-4-2-4-3-4-1-6 0-3 1-6 3-3 1-3 2-6 3-3 1-6 0-6 1-6 1-2-6 0-6-2-3-1-6 0-6-1-5-1-4 1-5 3-3 3-2 5-2 4-3 3-2 6-1 3 0 6-1 6-1 3-1 6-3 3-1 6-1 6 0 6 0 3-1 3-4 6 1 3 0 3-1 3-2 4-3 5-2 5 2 4 2 6-1 3-1 6-1 5-2zM201,509l-1 4-2 6-3 1-4 2-3 3 0 6 3 3 4 0 3-3 1-3 2-6 2-3 1-3 0-4-3-3zM521,396l4-2 6 1 3 2 3 2 3 3 2 6 1 6 0 3 1 6 1 6 1 5 1 4 0 6 1 6-1 6-1 3-2 6-2 3-2 4-2 5 0 6 1 6 1 4 1 5 0 6-1 3-3 6-1 3 0 6 1 6 0 3 1 6 1 6 0 6-1 6-1 3-3 4-3 3-3 2-5 3-4 0-3-2-3-4-1-3-1-6 0-6 0-6 2-6 1-3 2-3 2-6-1-6-1-6 0-3-1-6-2-4-2-5-1-3-2-6 0-6 0-6 0-6 0-6 0-6-1-4-2-5 1-6 1-4 2-5 1-3 3-5 1-4 0-6-1-3 0-4 2-5 3-3 3-3zM257,492l2 0 5 3 2 3 2 3 3 3 3 3 2 3 0 6-3 3-3 2-3 2-6 0-6 1-3 4-2 3-3 3-4 1-3-1-6-2-4 2-2 3-3 6-3 2-3 1-6 1-6 1-3 2-3 3-3 2-5 0-3-3-3-3-4-1-6 0-5 1-4 2-3 1-5 3-4 2-3 2-6 1-6-1-3-1-1-6-2-4-3-5 0-3-2-6-1-4-1-5 2-3 5-3 3-2 3-2 5-2 4-1 6 0 6-1 6-1 3-2 3-2 6-2 6 1 6 2 1 3-1 3-3 5-3 4-3 2-6 0-3 4 6 3 3 1 3 2 3 3 6 1 3-1 3-3 3-4 3-3 2-5 0-6-1-6 2-6 3-3 3-2 3-3 3-2 6 0 3 3 6 0 6-1 3-1 6-1 5-2zM525,396l3 0 3 0 4 3 3 3 2 4 1 5 1 6 1 4 1 5 1 6 1 6 0 3 1 6 0 6-1 4-2 5-1 3-3 5-2 4-1 3-1 6 1 6 0 3 2 6 0 6-2 4-3 4-1 4 1 4 1 5 1 6 0 6 1 5 0 4 0 4-1 5-2 5-3 3-3 2-3 2-6 1-3-3-2-4-1-4-1-5 1-6 1-3 1-6 2-3 2-5 1-4-1-4-1-5 0-6 0-6-2-4-2-5-2-3-2-4-1-5 1-6 0-6 0-6 0-6-1-6-2-5-1-4 1-3 2-6 1-3 3-6 2-3 1-6-2-6 1-6 2-3 3-3 5-3zM223,498l3 0 5 3 3 0 3 0 6 0 3 1 3 4 3 2 3-3 0-4 3-4 4 1 3 3 3 3 3 3 3 3 0 6-4 3-3 1-6 0-6 0-3 3-3 4-3 3-6 0-6-1-5 2-3 3-1 3-3 4-5-1-1-3-1-6-2-6-1-3-1-6-1-6 3-5 3-3 3-2 4-2zM177,507l3-1 4 1 4 3-1 6-3 3-4 1-5-1-2 0-2 6 0 3 0 3 3 3 6 0 5 3 2 3-1 3-6 2-6 1-3 1-3 2-6 3-3 2-3 1-6 3-6-1-3-2-2-6-2-3-2-6 0-3-3-6-1-3 1-4 3-3 4-2 5-3 3-1 6-1 6 0 6 0 6-1 2-3 4-3zM192,546l3-2 3 1 0 1 1 3-1 3-3 0-1 0-1-3-1-3zM523,399l5-2 4 2 4 3 1 3 2 6 1 3 2 6 1 6 0 3 1 6 1 6 1 4 0 5 0 3-1 6-2 3-3 6-2 3-1 3-2 6-1 6 0 6 2 6-2 5-6 0-4-2-3-3-2-3-3-3-3-3-1-6-1-6 0-6 0-6 0-6-1-6-1-3-1-6 1-6 1-3 3-6 1-3 2-3 2-6-2-5-1-4 1-3 3-3 4-3zM217,504l5-2 6 1 3 1 6 0 6 2 3 3 3 4 2 3-2 6-2 3-4 2-6 0-6 0-3 1-6 3-3-4-3-3-2-5-1-3 0-6 1-3 3-3zM260,507l4-3 4 3 3 3-1 5-3 2-6 0-3-3 0-2 2-5zM180,510l1 0 2 1 1 2-1 3-1 0-2 0-2-3 2-3zM522,510l3-1 3 2 2 5 1 3 2 6 1 4 0 5 1 6 1 6-1 6-1 4-3 4-3 3-3 2-6 0-3-4-1-3-1-6 1-6 1-3 1-6 2-3 3-5 1-4-1-3-2-6 2-6zM143,519l4-2 6-1 6 0 6 1 3 5 0 3 0 6 3 6 3 3 6-1 0 2-6-1-3 4-3 3-3 2-6 3-3 1-5 2-4 0-3-1-3-5-1-3-2-6 0-3-2-6-2-3 1-3 3-3 5-3zM522,402l3-2 6 1 3 4 1 3 2 5 2 4 1 3 1 6 1 6 1 3 1 6 1 6 0 6-2 6-1 3-2 3-3 5-2 4-1 3-2 6-1 3-1 6-5 0-2-3-4-2-3-2-2-5-1-6 0-6 1-6-1-4-1-5-2-6 0-3 0-3 2-6 1-3 3-6 3-3 1-3 0-6-2-3 1-6 3-3zM217,507l5-2 6 1 3 2 3 3 6 2 3 2 1 4-1 4-6 0-6 0-6 1-6-2-3-3-1-3 0-6 2-3zM146,522l4-1 6 0 6 1 2 3 1 6 0 3 3 6-3 6-3 2-3 1-6 2-3 1-3-1-3-3-2-5 0-6-1-6-1-3 1-3 5-3zM525,531l3-3 3 3 1 6 1 6 0 6-2 6-3 3-3 3-3 0-3-3-1-3 0-6 1-5 1-4 2-5 3-4zM525,405l3 0 2 3 1 3 3 3 3 5 1 4 1 6 1 3 2 6 1 5 1 4 0 6-1 3-3 6-2 3-2 3-2 4-3 4-3 3-6 0-3-2-2-6 0-6-1-6-1-3-1-6-1-3 0-6 1-3 2-6 2-3 2-3 3-3 2-4 1-5-2-3 1-6zM220,510l2-1 3 0 1 1 2 3-1 3-2 2-3 1-3-2 0-1-1-3 1-2 1-1zM152,537l4-2 4 2 0 6-4 2-3 1-4 0-2-3 0-3 5-3z" fill="none" stroke="#2c2c2c" stroke-width="2.3"/>
</g>
<path d="M303.8,67.5q4.2,9.85 0,19.7z" fill="#111"/>
<path d="M303.8,87.2H336" stroke="#151515" stroke-width="1.4" stroke-dasharray="6 0.5 3.5 0.7 8 0.4 2 0.6" fill="none"/>
</g>
<path d="M341.8,25V88.2M303.8,61.4H366.6" stroke="#6a6a6a" stroke-width="0.5" fill="none"/>
<rect x="303.8" y="25" width="62.8" height="63.2" fill="none" stroke="#7a7a7a" stroke-width="0.6"/>
<text x="301.6" y="28" font-size="2.8" text-anchor="end" fill="#333">10⁵</text>
<text x="301.6" y="42.6" font-size="2.8" text-anchor="end" fill="#333">10⁴</text>
<text x="301.6" y="57.2" font-size="2.8" text-anchor="end" fill="#333">10³</text>
<text x="301.6" y="71.8" font-size="2.8" text-anchor="end" fill="#333">10²</text>
<text x="301.6" y="82.6" font-size="2.8" text-anchor="end" fill="#333">0</text>
<text x="311" y="94" font-size="2.8" text-anchor="middle" fill="#333">0</text>
<text x="317.7" y="94" font-size="2.8" text-anchor="middle" fill="#333">10²</text>
<text x="332.6" y="94" font-size="2.8" text-anchor="middle" fill="#333">10³</text>
<text x="347.8" y="94" font-size="2.8" text-anchor="middle" fill="#333">10⁴</text>
<text x="363.3" y="94" font-size="2.8" text-anchor="middle" fill="#333">10⁵</text>
<path d="M302.4,27h1.4M302.4,41.6h1.4M302.4,56.2h1.4M302.4,70.8h1.4M302.4,81.6h1.4M311,88.2v1.4M317.7,88.2v1.4M332.6,88.2v1.4M347.8,88.2v1.4M363.3,88.2v1.4" stroke="#555" stroke-width="0.5" fill="none"/>
<text x="336.2" y="97.2" font-size="3.0" text-anchor="middle" fill="#222">&lt;APC-A&gt;: GB21A</text>
<text x="304.8" y="28.8" font-size="3.5" font-weight="bold" fill="#111">0.65</text>
<text x="365.8" y="28.8" font-size="3.5" text-anchor="end" font-weight="bold" fill="#111">1.6</text>
<text x="304.8" y="87.2" font-size="3.5" font-weight="bold" fill="#111">64.4</text>
<text x="365.8" y="87.2" font-size="3.5" text-anchor="end" font-weight="bold" fill="#111">33.4</text>
<text x="349.8" y="44.7" font-size="7.6" stroke="#222" stroke-width="0.18" fill="#222">1.6</text>
<clipPath id="cp1"><rect x="377.8" y="25" width="63.1" height="63.1"/></clipPath>
<rect x="377.8" y="25" width="63.1" height="63.1" fill="#fff"/>
<g clip-path="url(#cp1)">
<g transform="translate(377.8 25) scale(0.1)">
<path d="M567,614h7M334,381h7M405,259h7M63,366h7M555,556h7M444,448h7M65,410h7M338,368h7M524,257h7M579,445h7M513,611h7M112,387h7M395,546h7M459,427h7M261,337h7M128,254h7M412,557h7M269,359h7M467,586h7M157,392h7M349,422h7M333,406h7M425,552h7M107,236h7M329,352h7M174,310h7M315,246h7M156,399h7M411,509h7M355,600h7M148,324h7M389,426h7M400,563h7M177,243h7M384,575h7M64,406h7M405,539h7M461,591h7M368,370h7M520,348h7M596,591h7M273,335h7M288,312h7M385,587h7M58,416h7M385,549h7M370,314h7M575,411h7M571,495h7M585,363h7M30,426h7M552,333h7M384,554h7M378,449h7M538,577h7M369,207h7M46,373h7M250,275h7M357,256h7M180,336h7M141,324h7M543,562h7M45,353h7M605,566h7M559,339h7M503,357h7M185,262h7M178,380h7M575,403h7M122,359h7M364,251h7M121,351h7M287,150h7M170,377h7M92,368h7M324,365h7M108,388h7M388,537h7M97,334h7M550,537h7M550,578h7M399,290h7M452,327h7M506,353h7M66,413h7M342,388h7M233,274h7M141,381h7M120,380h7M417,430h7M253,328h7M310,335h7M355,602h7M88,415h7M440,362h7M383,445h7M343,423h7M601,487h7M424,485h7M56,413h7M173,366h7M498,573h7M342,345h7M590,479h7M365,384h7M13,424h7M399,591h7M443,560h7M32,418h7M404,609h7M355,349h7M379,477h7M121,360h7M109,377h7M195,326h7M235,335h7M597,264h7M553,341h7M425,473h7M428,469h7M31,334h7M354,394h7M86,323h7M377,509h7M214,376h7M596,472h7M602,389h7M365,388h7M93,329h7M366,290h7M475,563h7M12,414h7M160,339h7M484,562h7M177,261h7M434,450h7M458,417h7M118,386h7M225,323h7M382,561h7M413,402h7M60,393h7M94,380h7M519,556h7M460,581h7M278,337h7M584,460h7M509,360h7M598,465h7M140,350h7M60,376h7M366,436h7M380,314h7M233,248h7M88,100h7M155,383h7M64,367h7M126,242h7M433,421h7M392,403h7M368,461h7M454,430h7M82,387h7M407,377h7M179,371h7M118,360h7M362,475h7M578,396h7M191,388h7M261,325h7M500,209h7M458,610h7M430,479h7M573,400h7M173,350h7M360,348h7M398,524h7M130,358h7M403,518h7M361,366h7M523,593h7M579,504h7M345,600h7M293,372h7M193,348h7M395,411h7M464,575h7M248,624h7M122,255h7M371,591h7M467,570h7M453,563h7M373,586h7M213,371h7M448,554h7M405,540h7M397,477h7M201,309h7M184,393h7M364,450h7M23,244h7M231,246h7M23,431h7M83,411h7M401,544h7M365,442h7M80,344h7M131,381h7M523,558h7M23,373h7M438,602h7M147,393h7M192,386h7M121,358h7M613,296h7M546,333h7M494,267h7M562,507h7M412,546h7M387,563h7M308,331h7M353,433h7M402,486h7M252,366h7M383,568h7M323,315h7M580,486h7M48,359h7M427,214h7M23,419h7M114,360h7M77,388h7M490,587h7M304,374h7M379,496h7M455,561h7M336,393h7M433,464h7M553,527h7M494,336h7M600,544h7M259,254h7M45,337h7M464,570h7M481,394h7M473,604h7M291,232h7M592,493h7M446,423h7M325,373h7M158,300h7M351,374h7M93,354h7M369,495h7M255,309h7M189,325h7M586,509h7M383,566h7M400,544h7M473,403h7M323,351h7M595,561h7M78,344h7M487,366h7M368,408h7M88,254h7M355,344h7M573,477h7M309,387h7M389,474h7M16,424h7M105,347h7M365,603h7M264,281h7M498,576h7M479,374h7M98,383h7M380,595h7M421,434h7M396,523h7M550,533h7M463,403h7M501,559h7M304,306h7M390,547h7M214,219h7M198,235h7M362,580h7M73,271h7M209,336h7M497,379h7M461,425h7M448,428h7M396,428h7M86,385h7M305,354h7M503,579h7M554,333h7M319,296h7M244,370h7M150,362h7M62,405h7M462,567h7M288,347h7M578,406h7M619,496h7M359,329h7M84,410h7M90,393h7M422,443h7M615,602h7M356,378h7M264,273h7M99,400h7M164,379h7M585,492h7M150,257h7M432,447h7M520,342h7M238,259h7M445,591h7M584,563h7M576,464h7M302,383h7M242,254h7M341,420h7M335,353h7M193,343h7M449,369h7M41,424h7M408,474h7M420,435h7M574,398h7M162,205h7M62,310h7M418,483h7M273,251h7M208,324h7M569,544h7M578,460h7M145,385h7M75,284h7M389,557h7M426,435h7M383,342h7M13,441h7M443,588h7M485,608h7M483,562h7M628,614h7M469,580h7M512,359h7M373,586h7M487,293h7M93,384h7M420,472h7M331,405h7M368,292h7M382,475h7M389,575h7M508,366h7M191,307h7M439,353h7M580,559h7M34,343h7M481,388h7M492,378h7M95,418h7M539,586h7M109,402h7M578,475h7M517,350h7M578,569h7M470,572h7M376,409h7M424,558h7M304,377h7M25,381h7M133,393h7M446,573h7M367,497h7M243,352h7M382,294h7M10,432h7M470,596h7M223,371h7M393,601h7M312,362h7M122,394h7M358,256h7M336,383h7M511,594h7M545,596h7M348,430h7M215,170h7M445,580h7M510,310h7M239,333h7M53,415h7M390,576h7M317,388h7M470,364h7M196,372h7M410,451h7M11,430h7M229,354h7M575,473h7M541,538h7M419,245h7M290,366h7M296,332h7M69,319h7M426,331h7M372,485h7M96,397h7M240,625h7M176,396h7M31,419h7M517,558h7M407,581h7M355,423h7M128,258h7M111,406h7M443,340h7M586,520h7M525,344h7M575,394h7M373,250h7M568,376h7M147,387h7M454,600h7M378,595h7M348,234h7M389,470h7M575,409h7M383,455h7M232,352h7M566,344h7M250,315h7M379,597h7M378,405h7M455,575h7M377,475h7M319,381h7M567,375h7M114,414h7M94,403h7M302,357h7M72,387h7M176,352h7M66,385h7M395,554h7M494,384h7M434,556h7M466,373h7M260,367h7M27,426h7M336,383h7M398,346h7M456,396h7M365,387h7M288,314h7M397,479h7M379,557h7M166,350h7M192,344h7M608,242h7M71,351h7M187,350h7M344,621h7M105,394h7M386,516h7M483,289h7M10,308h7M399,421h7M487,357h7M570,472h7M380,489h7M350,433h7M287,323h7M466,402h7M424,424h7M333,383h7M14,312h7M65,347h7M246,298h7M358,297h7M365,312h7M555,529h7M194,377h7M303,363h7M585,572h7M105,388h7M399,522h7M355,317h7M157,399h7M87,413h7M450,427h7M411,489h7M73,417h7M573,435h7M412,350h7M372,406h7M173,385h7M315,349h7M362,437h7M166,332h7M398,322h7M412,335h7M205,364h7M353,433h7M374,296h7M281,352h7M239,106h7M469,575h7M536,543h7M580,406h7M35,422h7M118,269h7M405,479h7M199,381h7M528,578h7M222,301h7M389,530h7M418,549h7M404,468h7M390,546h7M421,560h7M406,400h7M248,286h7M220,333h7M95,342h7M499,602h7M478,387h7M148,392h7M327,362h7M368,488h7M155,339h7M127,375h7M433,250h7M463,387h7M170,391h7M576,409h7M412,366h7M289,305h7M354,603h7M479,384h7M425,256h7M382,609h7M552,299h7M429,550h7M152,264h7M561,223h7M415,543h7M613,549h7M582,619h7M547,574h7M424,555h7M339,614h7M255,327h7M435,460h7M477,345h7M444,427h7M357,623h7M412,565h7M172,278h7M304,326h7M572,391h7M30,415h7M540,584h7M602,413h7M488,377h7M61,408h7M493,344h7M241,337h7M583,476h7M289,318h7M525,585h7M191,321h7M432,450h7M366,462h7M189,366h7M108,399h7M211,341h7M573,464h7M315,344h7M174,334h7M356,387h7M560,550h7M243,365h7M405,575h7M453,440h7M534,549h7M341,423h7M541,333h7M442,447h7M166,393h7M578,433h7M136,309h7M308,389h7M409,577h7M399,581h7M481,585h7M424,449h7M476,241h7M198,368h7M537,332h7M189,377h7M223,370h7M525,585h7M383,621h7M577,334h7M251,622h7M315,358h7M550,321h7M403,139h7M511,591h7M459,202h7M393,461h7M541,582h7M288,338h7M596,455h7M570,474h7M205,367h7M67,357h7M358,433h7M372,413h7M224,266h7M357,600h7M305,380h7M177,625h7M47,409h7M533,557h7M191,317h7M112,361h7M187,341h7M443,445h7M320,307h7M289,368h7M440,569h7M528,574h7M407,334h7M484,567h7M72,414h7M318,335h7M419,454h7M307,343h7M185,385h7M392,499h7M352,412h7M155,397h7M395,464h7M420,579h7M116,380h7M402,589h7M140,400h7M206,349h7M338,393h7M188,208h7M387,440h7M364,455h7M428,436h7M414,571h7M150,327h7M420,434h7M306,239h7M412,504h7M511,338h7M83,296h7M233,370h7M530,303h7M380,290h7M372,487h7M407,475h7M198,267h7M94,308h7M112,372h7M401,459h7M414,495h7M377,594h7M384,490h7M119,337h7M586,494h7M378,438h7M78,338h7M153,377h7M88,349h7M278,237h7M303,349h7M179,281h7M361,582h7M163,363h7M346,388h7M403,490h7M418,443h7M354,593h7M314,274h7M48,356h7M128,394h7M64,257h7M200,308h7M234,625h7M507,583h7M99,380h7M153,372h7M364,423h7M336,258h7M314,390h7M375,574h7M477,21h7M539,245h7M401,507h7M417,457h7M482,563h7M248,369h7M356,364h7M326,289h7M343,303h7M261,196h7M285,328h7M444,568h7M348,323h7M443,417h7M430,438h7M541,546h7M299,351h7M143,234h7M492,564h7M255,347h7M240,366h7M496,570h7M375,393h7M310,364h7M143,378h7M98,380h7M369,485h7M394,463h7M353,431h7M353,618h7M257,625h7M134,365h7M286,265h7M122,394h7M274,242h7M362,308h7M262,188h7M458,421h7M166,193h7M545,335h7M60,394h7M309,388h7M28,398h7M383,486h7M69,331h7M447,435h7M371,433h7M438,419h7M405,571h7M221,349h7M427,320h7M397,464h7M540,541h7M455,567h7M389,573h7M383,567h7M263,625h7M95,289h7M456,359h7M426,409h7M401,579h7M348,399h7M333,314h7M27,413h7M129,343h7M132,308h7M421,430h7M160,398h7M537,334h7M440,320h7M58,380h7M289,273h7M274,322h7M420,443h7M303,312h7M385,430h7M372,509h7M223,314h7M572,490h7M73,292h7M591,435h7M485,566h7M42,391h7M513,339h7M508,620h7M382,487h7M250,370h7M252,342h7M322,393h7M335,411h7M358,443h7M587,588h7M385,424h7M51,415h7M311,370h7M467,594h7M422,468h7M404,563h7M483,393h7M188,358h7M5,314h7M7,259h7M171,387h7M581,469h7M445,569h7M200,327h7M183,198h7M325,270h7M527,317h7M277,364h7M180,243h7M343,409h7M399,537h7M141,279h7M136,345h7M197,370h7M18,421h7M410,477h7M366,363h7M353,355h7M469,565h7M434,564h7M424,481h7M343,426h7M543,542h7M306,359h7M223,299h7M270,130h7M413,483h7M25,386h7M122,407h7M116,411h7M402,380h7M409,604h7M62,395h7M461,403h7M575,452h7M352,425h7M144,396h7M545,545h7M533,333h7M574,466h7M404,149h7M388,403h7M365,598h7M510,360h7M44,418h7M384,552h7M45,390h7M178,624h7M335,405h7M387,539h7M114,378h7M46,386h7M202,379h7M319,315h7M450,565h7M413,310h7M394,542h7M411,416h7M309,373h7M369,487h7M384,583h7M269,248h7M126,344h7M20,423h7M374,434h7M514,350h7M260,273h7M297,343h7M518,345h7M241,621h7M400,396h7M120,329h7M386,410h7M32,311h7M324,281h7M80,341h7M360,589h7M386,548h7M322,321h7M288,354h7M318,277h7M370,588h7M362,429h7M365,459h7M191,339h7M144,327h7M451,435h7M308,310h7M410,471h7M385,463h7M384,477h7M445,331h7M314,393h7M339,280h7M13,440h7M348,428h7M348,231h7M392,504h7M474,584h7M188,378h7M338,613h7M290,295h7M361,427h7M155,383h7M221,278h7M167,360h7M361,302h7M193,259h7M444,566h7M468,574h7M226,286h7M274,325h7M375,236h7M388,544h7M87,405h7M177,236h7M348,414h7M412,265h7M432,604h7M583,416h7M347,325h7M377,510h7M83,388h7M502,560h7M376,410h7M233,243h7M481,279h7M176,344h7M128,327h7M406,603h7M546,559h7M69,208h7M250,360h7M556,287h7M391,561h7M573,446h7M458,319h7M346,407h7M481,564h7M220,338h7M427,558h7M575,400h7M429,353h7M372,586h7M152,273h7M193,297h7M554,607h7M258,338h7M362,587h7M239,623h7M144,352h7M453,379h7M386,556h7M12,403h7M301,359h7M441,451h7M48,370h7M219,364h7M579,443h7M384,547h7M553,302h7M572,462h7M372,566h7M464,405h7M384,426h7M417,325h7M564,328h7M195,318h7M534,288h7M551,531h7M472,398h7M410,543h7M450,558h7M131,229h7M614,500h7M187,346h7M315,382h7M405,591h7M164,352h7M407,479h7M7,403h7M382,342h7M67,280h7M485,568h7M555,525h7M84,411h7M127,297h7M429,568h7M379,554h7M511,289h7M588,369h7M344,311h7M459,429h7M177,397h7M423,474h7M178,310h7M15,440h7M466,559h7M289,371h7M412,490h7M132,395h7M541,332h7M76,268h7M451,564h7M428,562h7M583,432h7M165,350h7M370,428h7M96,329h7M116,372h7M33,295h7M374,410h7M371,454h7M387,512h7M150,377h7M33,403h7M122,392h7M228,226h7M80,308h7M406,411h7M420,475h7M68,396h7M493,382h7M242,290h7M394,464h7M198,381h7M358,450h7M173,294h7M122,379h7M575,370h7M567,511h7M348,605h7M352,432h7M344,386h7M120,328h7M391,466h7M195,379h7M345,423h7M557,545h7M347,296h7M379,582h7M44,396h7M493,559h7M401,558h7M257,621h7M107,380h7M322,278h7M61,402h7M239,203h7M390,378h7M592,590h7M224,334h7M137,376h7M472,576h7M186,381h7M405,564h7M70,386h7M425,612h7M208,373h7M513,238h7M565,265h7M191,349h7M370,623h7M92,415h7M350,594h7M433,579h7M87,271h7M143,366h7M578,450h7M456,425h7M494,378h7M159,394h7M229,259h7M567,566h7M355,335h7M200,317h7M185,357h7M150,393h7M160,337h7M422,485h7M340,615h7M511,230h7M397,546h7M438,447h7M149,398h7M187,242h7M213,280h7M506,327h7M25,425h7M73,417h7M393,444h7M173,366h7M425,357h7M395,282h7M193,351h7M87,270h7M65,408h7M406,472h7M602,490h7M160,375h7M372,398h7M563,354h7M467,604h7M509,365h7M374,431h7M257,368h7M540,589h7M462,564h7M386,462h7M298,361h7M369,453h7M295,371h7M511,351h7M492,623h7M401,581h7M371,486h7M434,618h7M573,493h7M439,454h7M345,408h7M396,558h7M342,420h7M341,414h7M16,439h7M185,258h7M493,376h7M502,563h7M336,396h7M412,199h7M522,345h7M424,585h7M403,503h7M340,399h7M127,396h7M543,576h7M367,403h7M585,422h7M461,596h7M248,266h7M158,338h7M529,337h7M510,573h7M450,345h7M618,271h7M421,457h7M24,367h7M379,393h7M104,365h7M419,432h7M13,402h7M207,343h7M407,609h7M342,404h7M71,405h7M538,542h7M475,584h7M319,619h7M584,469h7M6,413h7M572,468h7M544,568h7M576,368h7M194,228h7M293,249h7M401,539h7M200,368h7M357,583h7M488,255h7M386,477h7M350,361h7M375,574h7M431,450h7M286,343h7M470,403h7M472,573h7M406,498h7M337,380h7M149,397h7M496,561h7M261,323h7M120,386h7M195,355h7M14,353h7M502,352h7M173,389h7M433,345h7M38,329h7M399,393h7M455,164h7M396,501h7M380,565h7M418,570h7M385,499h7M447,396h7M11,440h7M312,356h7M281,300h7M578,475h7M622,563h7M391,578h7M235,339h7M570,500h7M272,287h7M407,553h7M110,389h7M378,513h7M336,343h7M409,564h7M233,624h7M205,372h7M543,305h7M401,503h7M279,332h7M394,365h7M286,313h7M294,322h7M125,72h7M307,362h7M314,376h7M427,395h7M439,373h7M291,366h7M285,235h7M430,577h7M73,226h7M336,410h7M591,499h7M402,553h7M508,361h7M41,408h7M375,482h7M613,569h7M88,311h7M188,349h7M402,387h7M547,555h7M566,490h7M177,369h7M415,419h7M380,494h7M334,355h7M569,490h7M602,399h7M128,257h7M185,257h7M111,369h7M416,450h7M590,580h7M336,397h7M388,412h7M564,483h7M368,570h7M183,383h7M363,458h7M81,271h7M330,247h7M370,346h7M490,383h7M524,553h7M224,294h7M7,269h7M451,439h7M128,332h7M519,341h7M362,360h7M250,623h7M471,396h7M367,454h7M119,320h7M480,621h7M463,558h7M118,310h7M431,556h7M360,239h7M576,394h7M203,378h7M359,429h7M31,206h7M116,216h7M367,601h7M108,408h7M143,380h7M401,491h7M308,203h7M462,307h7M405,392h7M9,440h7M182,338h7M370,591h7M177,281h7M516,339h7M125,393h7M563,515h7M53,333h7M74,381h7M378,559h7M24,374h7M113,341h7M113,394h7M370,350h7M162,343h7M560,215h7M416,455h7M128,401h7M506,573h7M390,475h7M533,611h7M130,324h7M419,441h7M439,446h7M397,443h7M361,376h7M373,484h7M379,515h7M199,253h7M361,400h7M328,390h7M401,396h7M598,244h7M72,402h7M328,361h7M407,503h7M535,328h7M550,549h7M379,558h7M155,400h7M569,470h7M223,344h7M81,407h7M349,432h7M322,254h7M435,296h7M64,393h7M441,450h7M408,583h7M24,428h7M324,335h7M27,432h7M252,312h7M564,486h7M99,312h7M529,563h7M430,433h7M118,282h7M575,353h7M453,388h7M429,473h7M563,502h7M250,320h7M212,376h7M395,527h7M239,152h7M165,377h7M347,259h7M543,554h7M228,318h7M384,411h7M446,444h7M114,346h7M494,561h7M243,344h7M59,382h7M500,619h7M453,571h7M402,425h7M425,547h7M384,253h7M101,378h7M342,286h7M178,227h7M114,377h7M322,393h7M263,313h7M39,400h7M326,364h7M209,254h7M387,551h7M249,338h7M98,337h7M145,190h7M592,407h7M134,255h7M233,247h7M359,254h7M545,536h7M369,462h7M234,265h7M20,377h7M478,396h7M434,348h7M332,402h7M384,551h7M332,288h7M525,564h7M204,374h7M576,458h7M410,429h7M403,279h7M413,501h7M72,413h7M352,378h7M413,545h7M308,623h7M259,361h7M236,351h7M273,339h7M105,372h7M269,336h7M461,341h7M579,80h7M511,582h7M331,399h7M18,420h7M310,339h7M148,392h7M390,362h7M237,354h7M354,355h7M517,351h7M189,340h7M438,355h7M428,428h7M340,607h7M405,512h7M440,425h7M423,575h7M322,392h7M407,466h7M76,377h7M319,619h7M128,388h7M236,623h7M142,270h7M439,443h7M542,583h7M108,254h7M416,202h7M338,401h7M429,474h7M335,344h7M400,263h7M275,369h7M381,488h7M430,566h7M514,306h7M47,346h7M421,485h7M192,324h7M87,414h7M267,625h7M332,358h7M12,438h7M256,368h7M187,336h7M522,591h7M50,402h7M408,390h7M418,555h7M524,345h7M454,362h7M62,203h7M482,562h7M533,549h7M366,501h7M375,488h7M58,414h7M452,565h7M278,222h7M59,297h7M102,266h7M398,544h7M402,364h7M383,568h7M481,594h7M164,51h7M385,607h7M361,427h7M62,411h7M194,273h7M194,380h7M164,365h7M299,365h7M398,526h7M531,572h7M461,567h7M517,567h7M440,449h7M221,348h7M365,574h7M150,327h7M410,417h7M401,230h7M487,381h7M572,387h7M459,389h7M534,548h7M218,349h7M226,180h7M317,624h7M137,270h7M438,429h7M270,213h7M40,397h7M95,353h7M527,568h7M378,209h7M578,400h7M286,367h7M575,458h7M383,252h7M421,456h7M476,586h7M211,313h7M39,408h7M300,263h7M135,354h7M338,613h7M243,323h7M172,318h7M362,609h7M390,477h7M486,283h7M329,380h7M515,354h7M327,399h7M482,349h7M34,334h7M328,314h7M268,304h7M271,346h7M500,588h7M76,346h7M155,393h7M402,379h7M409,402h7M560,561h7M198,378h7M284,320h7M381,604h7M174,313h7M339,396h7M45,263h7M444,596h7M598,355h7M366,448h7M226,352h7M182,281h7M391,312h7M130,374h7M559,518h7M255,621h7M451,608h7M246,279h7M178,281h7M589,374h7M347,421h7M384,403h7M308,387h7M462,315h7M30,423h7M206,138h7M482,591h7M334,615h7M372,596h7M566,367h7M355,376h7M248,359h7M227,316h7M466,590h7M602,386h7M608,506h7M113,410h7M404,242h7M59,398h7M164,378h7M422,546h7M160,316h7M396,537h7M4,438h7M399,519h7M367,371h7M70,370h7M459,596h7M396,521h7M350,426h7M371,448h7M571,471h7M408,541h7M433,422h7" stroke="#111" stroke-width="7" fill="none"/>
<path d="M532,342l5-2 6 0 5 2 4 3 3 2 3 3 2 4 1 3 2 6 1 6 1 3 2 6 1 3 1 6 1 4 1 5 2 6 0 3 2 6 0 6 0 6-2 6 0 3-1 6 1 6 0 6-1 6-2 6-1 3-1 6-1 3-2 6-1 3-1 6 0 6-1 6-1 3-3 6-2 3-2 3-1 6-1 3-3 5-3 3-3 2-3 3-3 3-3 4-3 3-3 2-3 2-5 3-4 1-6 2-3 0-6 0-6 0-6 0-3 0-6-1-6-1-4-1-5-1-6 0-6-1-6 0-4-1-5-2-4-1-5-2-3-1-6-2-3-2-4-2-4-3-3-3-3-3-1-3 0-5 3-4 3-3 2-3 2-3 2-3 3-5 2-4 2-3 2-3 3-5 2-4 2-3 2-6 1-3 2-6 2-3 1-3 3-5 2-4 4-3 3-3 3-3 2-3 3-3 1-3 2-6 1-3 2-6 2-3 2-4 3-3 3-3 3-3 3-3 3-3 3-4 3-2 3-3 3-3 3-3 3-4 3-3 3-4 2-3 2-3 2-3 3-5 3-4 3-3 3-3 3-1 4-2zM0,449l3-4 3-2 6-2 3-1 3-2 5-3 4-2 3-1 5-3 4-3 3-1 3-2 5-3 4-3 3-1 6 1 3 0 6 1 6 1 6 0 6 0 6-1 3-1 6-1 6-1 4-1 4-3 4-3 3-2 3-2 6-2 3-1 6 0 3 2 3 2 3 0 3-3 4-3 5-1 6 0 6-1 3-1 5-3 4-3 3-2 5-1 4-1 4-2 3-3 4-3 4-3 3-1 6-2 6 1 6 1 6-1 6 0 4-1 5-2 3-1 6-1 5 1 4 1 6 1 3 1 6 2 3 1 4 3 2 3 3 3 3 3 3 3 4 3 5 2 3 1 4 3 3 3 2 3 3 4 3 5 1 3 2 4 3 5 3 3 2 3 2 3 2 4 3 3 3 5 1 3 2 3 3 5 2 4 0 6-2 5-2 4 2 5 3 4 2 3 0 6-3 3 1 4 3 4 1 4 2 3 3 3 3 3 4 3 2 3 2 6 0 6 0 6-2 3-3 3-2 6-1 4-3 4-3 1-4 3-3 3-3 3-2 3-3 6-1 3-2 4-3 2-3 3-3 3-3 3-3 4-3 4-3 3-3 3-3 2-6 2-3 1-5 2-4 2-5 1-4 1-6 2-6 0-6-1-6 0-6-1-4-1-5-3-3-1-6-2-3 0-3 0-6 2-4 1-5 1-6 1-6 1-3 0-6 1-6 1-6 0-6-1-6 0-4-1-5-1-6 0-4 1-5 2-4 1-5 1-6 2M94,630l-4-1-6-1-6 0-6 0-6 0-6 0-5-1-4-1-6 0-5 1-4 0-4 0-5-1-6 0-6-1-3-1-6-2-3-1-3-2" fill="none" stroke="#1e1e1e" stroke-width="27" stroke-dasharray="9 3 5 3 14 4 6 2"/>
<path d="M532,342l5-2 6 0 5 2 4 3 3 2 3 3 2 4 1 3 2 6 1 6 1 3 2 6 1 3 1 6 1 4 1 5 2 6 0 3 2 6 0 6 0 6-2 6 0 3-1 6 1 6 0 6-1 6-2 6-1 3-1 6-1 3-2 6-1 3-1 6 0 6-1 6-1 3-3 6-2 3-2 3-1 6-1 3-3 5-3 3-3 2-3 3-3 3-3 4-3 3-3 2-3 2-5 3-4 1-6 2-3 0-6 0-6 0-6 0-3 0-6-1-6-1-4-1-5-1-6 0-6-1-6 0-4-1-5-2-4-1-5-2-3-1-6-2-3-2-4-2-4-3-3-3-3-3-1-3 0-5 3-4 3-3 2-3 2-3 2-3 3-5 2-4 2-3 2-3 3-5 2-4 2-3 2-6 1-3 2-6 2-3 1-3 3-5 2-4 4-3 3-3 3-3 2-3 3-3 1-3 2-6 1-3 2-6 2-3 2-4 3-3 3-3 3-3 3-3 3-3 3-4 3-2 3-3 3-3 3-3 3-4 3-3 3-4 2-3 2-3 2-3 3-5 3-4 3-3 3-3 3-1 4-2zM0,449l3-4 3-2 6-2 3-1 3-2 5-3 4-2 3-1 5-3 4-3 3-1 3-2 5-3 4-3 3-1 6 1 3 0 6 1 6 1 6 0 6 0 6-1 3-1 6-1 6-1 4-1 4-3 4-3 3-2 3-2 6-2 3-1 6 0 3 2 3 2 3 0 3-3 4-3 5-1 6 0 6-1 3-1 5-3 4-3 3-2 5-1 4-1 4-2 3-3 4-3 4-3 3-1 6-2 6 1 6 1 6-1 6 0 4-1 5-2 3-1 6-1 5 1 4 1 6 1 3 1 6 2 3 1 4 3 2 3 3 3 3 3 3 3 4 3 5 2 3 1 4 3 3 3 2 3 3 4 3 5 1 3 2 4 3 5 3 3 2 3 2 3 2 4 3 3 3 5 1 3 2 3 3 5 2 4 0 6-2 5-2 4 2 5 3 4 2 3 0 6-3 3 1 4 3 4 1 4 2 3 3 3 3 3 4 3 2 3 2 6 0 6 0 6-2 3-3 3-2 6-1 4-3 4-3 1-4 3-3 3-3 3-2 3-3 6-1 3-2 4-3 2-3 3-3 3-3 3-3 4-3 4-3 3-3 3-3 2-6 2-3 1-5 2-4 2-5 1-4 1-6 2-6 0-6-1-6 0-6-1-4-1-5-3-3-1-6-2-3 0-3 0-6 2-4 1-5 1-6 1-6 1-3 0-6 1-6 1-6 0-6-1-6 0-4-1-5-1-6 0-4 1-5 2-4 1-5 1-6 2M94,630l-4-1-6-1-6 0-6 0-6 0-6 0-5-1-4-1-6 0-5 1-4 0-4 0-5-1-6 0-6-1-3-1-6-2-3-1-3-2" fill="#e4e4e4" stroke="#fff" stroke-width="13"/>
<path d="M0,492l4-3 4-3 2-3 2-6 3-3 2 0 2 3 2 4 6 1 4-2 4-3 4-2 4-1 5-2 3-3 3-2 3-3 3-4 0-4 0-3 0-4 3-5 2-3 3-3 4-1 6 0 3 1 6 3 3 1 6 0 5-1 4-2 3-2 6 0 6-1 3-1 6-2 6 0 6 0 6 1 6-1 3-2 6-1 4-1 5-1 5-2 4-2 3-2 3-2 3-3 4-3 5-1 6-1 4-1 5-3 3-3 2-3 1-3 3-6 2-3 4-2 6 0 6 0 5 2 4 1 6 1 6 1 6-2 3-1 6-1 3 1 5 3 4 3 3 1 4 2 5 2 3 2 3 3 3 2 6 3 3 1 3 2 3 3 2 6 1 3 3 5 2 4 2 3 2 4 2 5 1 4 2 5 0 6-2 6 0 3 0 5 1 4 2 5 1 4 0 6 0 6 0 6 1 6 1 3 3 4 3 3 3 5 2 3 2 3-1 4-3 4-2 4-1 3-1 6-2 5-2 4-2 3-2 3-3 6-1 3-2 4-3 4-3 4-1 3-2 3-3 3-3 3-5 3-4 2-6 1-3 0-6 2-3 1-6 0-4 0-5 0-3 0-3 0-6-2-3-1-6-2-5-1-4-1-6 0-4 1-5 1-6 1-5 1-4 1-4 2-5 1-6 0-4-1-5-1-6-1-6 1-6 0-3 1-6 2-4 1-5 1-6 2-3 0-6 2-6 0-6 0-6 1-3 0-3 0-6-1-6 0-6-1-6 0-5-1-4-2-3-1-6-1-3 1-6 2-6 0-6-1-5-1-4 0-6-1-6 0-6-1-3-1-6-1-6-2-3-1-6-1-3-1-3 0" fill="#f6f6f6"/>
<path d="M0,523l3-2 5-2 4-1 6-1 3-1 5-3 3-3 4-3 3-2 3-2 3-2 3-3 6-2 6-1 3-1 3-2 6-3 3 0 6 0 3 1 3 3 6 1 6-2 3-1 3-2 4-3 2-3 3-3 3-3 3-4 3-3 6 1 3 0 6 1 5-1 4-1 5 1 4 1 4-1 4-3 2-3 2-6 3-2 6-1 6 0 3 0 6-3 3-3 2-3 3-3 3-3 2-3 2-3 3-4 4-2 5-3 3-2 3-2 3-3 3-3 3-3 3-3 3-4 3-1 3 0 5 3 3 3 4 1 3-1 6-2 6-1 3 0 3 0 6 3 3 1 4 2 3 3 2 4 3 3 3 2 6 3 3 2 3 2 3 3 2 5 1 4 0 3-1 5-1 6 2 6 1 3 2 4 2 5 1 3 3 5 1 4 1 6 0 6-2 6 0 3 0 3 2 6 1 3 3 6 1 3 1 6 0 6-2 6 1 6-1 3-3 4-2 5-2 3-2 3-3 5-2 4-1 3-3 4-3 3-3 2-6 2-3 1-6 1-6 1-6 0-6-1-6 0-6-1-3-1-6-1-3-1-6-2-6 1-5 1-4 1-6 1-4 1-5 1-6 2-3 0-3 0-6-1-6 0-6-1-6 1-6 0-3 1-6 3-3 1-6 2-3 1-6 2-3 1-6 1-6 0-6-1-5-1-4-1-6 0-6 0-6-2-3-2-3-2-3-2-6-2-6 0-6 1-6 0-6 0-6 0-4 1-5 1-6-1-3-2-3-2-3-4-3-2-6-2-6 0-6 1-4-1-3-3-2-2" fill="#ececec"/>
<path d="M0,534l3-3 4-3 5-2 6 0 6-1 3-1 3-2 4-3 5-3 3 0 6-2 6-1 3 0 6 0 6-1 3-3 3-4 6 0 6 1 6 0 4-2 5-3 3-1 6 0 6-2 3-2 3-4 3-3 3-3 3-2 3-2 6-1 6 1 6-1 6-1 3 0 5 0 4 2 3 2 6 2 3 0 5 3 2 3 2 5 3 4 3 2 3-2 2-6 3-3 3-3 1-3 0-3-3-3-6-2-3-1-4-3 0-6 2-3 3-3 2-4 3-3 3-3 2-5 1-4 3-4 3-2 4-2 4-3 4-3 3-2 3-2 3-3 4-2 5-1 3 1 6 2 6 0 6-1 6-1 6 2 3 1 5 3 4 3 3 2 3 2 3 2 4 3 2 3 0 6 0 3 1 3 2 6 0 3 2 6 1 3 2 6 1 3 3 6 1 3 1 6 0 6-1 6 0 6 1 6 1 6 0 3 0 3-2 6-1 4-1 5 0 6-2 6-1 3-1 6-1 3-1 6 0 6-2 4-3 3-6 1-6 0-6 1-6-1-6-1-6 0-6-1-3-1-6-2-3-1-6-1-6 0-6 0-6 1-3 1-6 3-3 0-4 3-5 3-6-1-6 0-6 0-6 0-6 1-6 0-3 1-5 2-4 2-3 1-6 2-3 1-6 2-6 0-6 0-6-1-4-1-5-1-6 0-6-2-3-2-3-2-3-2-6-3-3 0-6-2-3-1-5-3-4-2-4-1-5-1-6 0-6 0-6 0-4-2-5-2-5-1-4-1-4-2-3-3-2-3-3-6-2-3-2-3-3-3-2-3" fill="#dcdcdc"/>
<path d="M243,432l6-1 4 1 5 3 3 2 6-1 3-3 3-2 6 0 3 1 5 3 3 3 2 3 0 6 2 4 3 4 3 4 2 3 1 6 0 3 0 6 0 3-2 6-1 6-1 3-5 1-6 2-3 1-6 0-3-2-6-1-5 2-2 3 1 3 4 3 5 0 3 0 3 0 6 3 3 1 6 1 6 0 3 3 3 3 3 2 3 3 2 5-1 6-1 3-3 5-2 4-1 6-1 3-2 6 0 3-3 6-1 3-2 4-6 2-6-2-3-2-3-4-3-3-3-2-6-1-5-1-4-2-5 2-4 3-3 0-3-3-3-2-4 2-2 4-3 3-3 2-4 3-5 3-3 2-3 1-6 3-3 1-6 0-6 1-6 1-3 0-6 0-6 0-6 1-6 1-3 2-4 2-5 2-6 1-6 0-3 0-6 0-3-1-6-1-4-1-5-2-3-1-5-3-4-3-3-2-6-1-3-1-3-3-3-3-5-2-4-1-6 0-6-1-6 0-6 0-6 0-3-1-3-3-4-3-5-1-5-2-2-3-2-3-2-6 2-4 3-4 3-3 3-3 3-2 3-2 6-2 6-1 3-1 4-2 5-3 3 0 6 0 6-1 5-2 4-2 3-1 3 0 4 3 5 2 6 0 4 1 5 0 3-1 3-3 3-4 3-3 6 0 5-1 4-3 3-1 6-1 5-1 4-1 6-2 6 2 6 0 6-1 3 2 1 6 2 4 6 2 3 1 6 2 6-3 3-2 3-2 5-2 4-1 3-4 0-4 0-3 0-6 0-4 3-3 3 1 4 0 3-3 1-6 0-6-2-6-2-3-3-3-2-3 1-3 4-3 2-3 2-6 2-3 2-3 3-3zM249,543l-3 0-4 3 1 4 3 2 5 3 4 0-3-6-1-3-2-3z" fill="#c6c6c6"/>
<path d="M249,450l3 0 3 0 6 1 6 0 4-1 5-2 5 2 3 3 2 3 3 3 2 3 2 6-2 4-3 3-3 4-3 2-6 2-5-3-4-3-3-1-6 1-6-1-3-3-3-3-2-5 0-6 2-6 3-3zM239,507l1-1 3-1 2 2-1 3-1 1-3 1-1-2 0-3zM210,522l3-2 6 0 6 1 6 1 0 3 0 6 0 3-1 6-2 6 0 3-2 6-1 3-1 6-2 5-3 3-3 2-3 2-6 3-3 0-6 1-6 0-6 1-6 1-6 0-6 0-4 0-5 0-3 0-6 0-3 1-6 2-3 1-6 2-6-1-6-1-6-1-3-1-4-2-5-3-3-3-3-2-3-3-3-2-4-2-5-3-3-1-6-1-6 2-3 0-3 0-6-2-3-1 0-6-3-4-4-2-4-3-2-3 1-4 6-2 3 0 6-2 5-1 4 0 5-3 4-3 3-1 6 1 3 2 3 2 6 2 3 0 6 1 4-1 5-2 6 0 4-1 4-3 3-3 4-3 6 1 6 0 6-1 6 1 5 2 4 1 6 1 3 1 6 1 4-1 5 0 6-1 6-1 4-1 5-3zM276,522l3-1 3 1 6 1 6 0 3 2 2 6-2 6 0 3-2 6 0 6-1 3-3 4-6 1-4-2-3-3-3-3-3-3-2-3-2-6 1-6 0-6 2-3 5-3z" fill="#bebebe"/>
<path d="M270,465l3 0-3 0zM211,531l5-3 6 2 2 4-1 6-1 3-1 6-2 6-1 3-2 6-1 3-3 3-5 2-3 2-6 0-4-1-4-3-3-3-2-3-1-6 0-6 2-5 3-3 3-3 3-3 3-2 6-2 3-1 4-2zM130,534l5-1 6-1 6 0 3 2 3 4 2 5 1 3 2 6 0 6 0 6 0 6-5 2-4 1-5 1-6 1-3 2-3 2-6 0-3-1-3-2-6-2-3-1-4-3-4-3-4-2-3-3-1-4 1-4 3-4 3-4 3-3 3-3 3-1 6 0 6-1 3-2 4-2zM173,564l4 0 2 3-2 5-3 1-4 0-3-3 1-3 5-3z" fill="#d2d2d2"/>
<path d="M118,549l5 0 6-1 3 1 5 3-3 3-5 1-5 2-4 2-6-1-2-4 2-4 4-2z" fill="#e8e8e8"/>
<path d="M534,351l6-1 4 1 5 3 3 3 2 3 1 3 2 6 1 4 2 5 1 3 2 6 1 4 2 5 1 6 1 3 1 6 0 6-1 6-1 3-1 6 0 6-1 6 0 6-1 3-1 6-1 6-1 3-2 6-1 3-3 6-1 3-2 6 0 3-1 6-2 6-2 3-1 4-2 5-1 3-3 4-3 3-3 3-3 3-3 3-4 2-5 2-6 0-6 0-6 0-6 0-6 1-6 0-6-1-6-2-3-1-6-2-3-1-3-2-5-3-4-3-3-1-3-2-1-6 1-3 3-6 1-3 1-6 1-3 1-6-1-5 0-4 0-3 3-6 1-3 2-3 3-3 3-3 3-5 2-4 1-3 3-4 3-5 1-3 2-3 2-6 0-6 1-5 2-4 3-3 2-3 3-3 3-3 2-3 3-3 3-4 3-4 2-4 2-3 3-3 2-3 3-4 3-4 3-4 2-3 2-3 3-3 5-2 3-1z" fill="#f4f4f4"/>
<path d="M529,363l5-3 6 1 5 2 2 3 2 3 3 6 1 3 2 5 2 4 1 3 2 6 1 3 2 6 1 6 0 6-2 6-1 5-1 4 0 6-1 6-1 6 0 3-1 6-2 6-1 3-2 5-2 4-2 3-2 4-2 5-1 6-1 3-2 6-1 3-2 6-1 3-2 3-4 3-5 3-3 0-6 1-6 0-3-1-6-1-6 1-3 1-6 1-6 1-6-2-3-3-3-3-1-4 1-6 1-3-1-6 0-5 0-1 1-6 0-6 0-6 2-4 3-5 3-3 2-3 2-3 2-4 1-5 0-6 1-6 1-6 1-3 2-5 2-4 2-3 2-5 2-4 2-3 2-4 3-5 1-3 2-3 3-5 3-4 2-3 2-3 3-3 2-3 3-3 4-3z" fill="#e2e2e2"/>
<path d="M534,366l4 0 5 3 2 3 2 3 2 3 3 6 1 3 2 4 2 5 1 3 2 6 1 6 0 3 0 3-2 6-1 6 0 3-1 6-1 6 0 6-1 3-1 6-2 4-1 5-2 3-3 5-2 4-2 3-2 6-1 3-2 6-1 3-2 6-1 3-2 4-3 2-6 2-6-1-3-1-4-3-3-3-5-2-6 0-6 1-4-2-5-2-3-4 0-3 1-3 2-5 1-4-1-5 0-2 3-5 2-3 2-3 2-4 3-5 1-3-1-6 0-3 0-6 0-6 0-3 2-6 2-3 2-6 1-3 2-5 2-4 1-3 3-5 2-4 2-3 2-3 3-5 3-4 2-3 3-3 4-3 3-2 3-1z" fill="#bdbdbd"/>
<path d="M532,369l5-1 3 2 3 2 3 4 3 5 1 3 2 4 3 5 1 3 2 6 1 3 1 6 0 6-2 6-1 3 0 6-1 6-1 6 0 3-1 6-2 6-1 3-2 6-1 3-2 3-3 4-3 5-1 3-2 6-1 3-2 5-1 4-2 6-2 3-4 2-6-1-4-1-4-3-4-3-3-3-3-1-6 0-6-2-3-1-2-5 1-6 1-6 0-3 3-6 1-3 2-4 2-5 1-3 0-6-1-3 0-6 0-6 1-6 0-3 3-6 1-3 2-6 1-3 2-5 2-4 1-3 3-5 3-4 1-3 2-3 3-4 3-4 3-3 3-2 4-2z" fill="#6a6a6a"/>
<path d="M527,375l4-2 6 0 4 2 2 3 3 4 3 5 2 3 2 3 2 5 1 4 2 6 0 3 0 6-1 3-1 6-1 5 0 4-1 6-1 6-1 6 0 3-3 6-1 3-2 5-3 4-2 3-2 3-2 5-2 4-1 3-3 5-1 4-2 6-3 2-6 0-4-2-4-3-3-3-4-3-3-2-5-1-4-2-2-4 1-6 1-3 2-6 1-3 2-6 1-3 1-6-1-5-1-4-1-6 1-6 1-5 1-4 2-6 1-3 2-6 1-3 2-4 2-5 2-3 2-3 3-4 3-5 2-3 3-3 3-3z" fill="#101010"/>
<path d="M530,390l4 0 3 1 3 2 3 3 3 4 3 4 2 4 0 6-1 6-1 6-1 3 0 6-1 6-1 6 0 4-1 5-2 4-3 5-2 3-3 3-3 3-3 3-3 3-4 1-3-1-3-3-3-4-3-5-1-3 0-6-1-6-1-4-2-5 0-6 1-6 1-6 1-3 1-6 1-3 2-6 2-3 2-3 3-4 3-3 3-2 5-3z" fill="#f4f4f4"/>
<path d="M534,351l6-1 4 1 5 3 3 3 2 3 1 3 2 6 1 4 2 5 1 3 2 6 1 4 2 5 1 6 1 3 1 6 0 6-1 6-1 3-1 6 0 6-1 6 0 6-1 3-1 6-1 6-1 3-2 6-1 3-3 6-1 3-2 6 0 3-1 6-2 6-2 3-1 4-2 5-1 3-3 4-3 3-3 3-3 3-3 3-4 2-5 2-6 0-6 0-6 0-6 0-6 1-6 0-6-1-6-2-3-1-6-2-3-1-3-2-5-3-4-3-3-1-3-2-1-6 1-3 3-6 1-3 1-6 1-3 1-6-1-5 0-4 0-3 3-6 1-3 2-3 3-3 3-3 3-5 2-4 1-3 3-4 3-5 1-3 2-3 2-6 0-6 1-5 2-4 3-3 2-3 3-3 3-3 2-3 3-3 3-4 3-4 2-4 2-3 3-3 2-3 3-4 3-4 3-4 2-3 2-3 3-3 5-2 3-1zM0,492l4-3 4-3 2-3 2-6 3-3 2 0 2 3 2 4 6 1 4-2 4-3 4-2 4-1 5-2 3-3 3-2 3-3 3-4 0-4 0-3 0-4 3-5 2-3 3-3 4-1 6 0 3 1 6 3 3 1 6 0 5-1 4-2 3-2 6 0 6-1 3-1 6-2 6 0 6 0 6 1 6-1 3-2 6-1 4-1 5-1 5-2 4-2 3-2 3-2 3-3 4-3 5-1 6-1 4-1 5-3 3-3 2-3 1-3 3-6 2-3 4-2 6 0 6 0 5 2 4 1 6 1 6 1 6-2 3-1 6-1 3 1 5 3 4 3 3 1 4 2 5 2 3 2 3 3 3 2 6 3 3 1 3 2 3 3 2 6 1 3 3 5 2 4 2 3 2 4 2 5 1 4 2 5 0 6-2 6 0 3 0 5 1 4 2 5 1 4 0 6 0 6 0 6 1 6 1 3 3 4 3 3 3 5 2 3 2 3-1 4-3 4-2 4-1 3-1 6-2 5-2 4-2 3-2 3-3 6-1 3-2 4-3 4-3 4-1 3-2 3-3 3-3 3-5 3-4 2-6 1-3 0-6 2-3 1-6 0-4 0-5 0-3 0-3 0-6-2-3-1-6-2-5-1-4-1-6 0-4 1-5 1-6 1-5 1-4 1-4 2-5 1-6 0-4-1-5-1-6-1-6 1-6 0-3 1-6 2-4 1-5 1-6 2-3 0-6 2-6 0-6 0-6 1-3 0-3 0-6-1-6 0-6-1-6 0-5-1-4-2-3-1-6-1-3 1-6 2-6 0-6-1-5-1-4 0-6-1-6 0-6-1-3-1-6-1-6-2-3-1-6-1-3-1-3 0M531,357l6-1 6 1 3 1 3 3 2 5 2 3 2 6 1 3 2 6 1 3 2 5 1 4 2 6 1 3 1 6 0 6-1 6-1 3-1 6-1 6 0 6-1 5-1 4-1 6-1 6-1 3-2 6-2 3-1 3-3 5-1 4-1 6-1 4-2 5-1 3-2 6-1 3-3 5-3 4-3 3-3 2-3 2-6 2-6-1-6 0-6 1-3 0-6 0-6 1-6 0-5-1-4-2-3-2-3-2-4-3-2-3-1-6 0-6 1-6 0-3 0-6 1-6 0-6 0-6 2-3 3-4 3-4 3-4 2-3 1-3 2-6 1-6 1-3 2-5 1-4 2-6 1-3 2-5 2-4 2-3 2-3 3-4 3-4 2-4 2-3 2-3 3-5 3-4 2-3 2-3 2-3 3-3 3-4 3-4 3-2 3-2zM0,513l3-1 6-2 3 0 6-2 3-1 4-3 4-3 4-3 3-3 3-3 3-3 3-2 3-1 6-2 6-1 3-1 3-2 3-3 3-3 3-3 6-3 3-2 3-2 6 1 2 3 2 3 3 0 3-3 5-3 3-2 3-3 6 0 6 1 3 1 6 1 3-1 3-3 3-3 3-3 4-3 4-3 4-3 3 0 3 0 6 2 3 1 4 0 4-3 3-3 4-3 3-2 3-3 3-4 3-3 3-2 4-1 5-2 3-3 3-2 3-4 3-4 2-3 2-3 3-3 5-2 6 1 5 1 4 1 6 1 6 1 6 0 6-1 4 1 5 2 3 1 6 3 3 2 2 4 3 3 4 2 3 2 3 2 3 3 3 4 3 3 3 5 1 3 1 6 0 6 0 6 1 4 2 5 1 3 2 6 1 3 3 6 0 3 0 3-1 6-1 6-1 3 0 5 1 4 2 4 2 5 1 3 3 6 1 3 0 6 0 6-1 6-1 3-2 4-3 3-3 5-1 3-2 4-3 4-3 4-1 3-2 3-3 4-3 3-6 2-3 1-6 2-3 1-6 1-6-1-6 0-6 0-4-1-5-1-6-1-4-1-5-1-6-1-6 1-3 1-6 1-6 2-3 0-6 2-6 1-6-2-6 0-6-1-6 0-6 1-6 2-3 2-4 1-5 1-6 2-3 1-6 1-6 1-6 0-6 0-6-1-6-1-6 0-6 0-4-1-5-2-3-3-3-2-6-1-6 1-3 1-6 1-6 1-6 0-6 0-6-1-5-1-4-1-4-2-5-3-3-1-6-1-6 0-6 0-3 0M529,363l5-3 6 1 5 2 2 3 2 3 3 6 1 3 2 5 2 4 1 3 2 6 1 3 2 6 1 6 0 6-2 6-1 5-1 4 0 6-1 6-1 6 0 3-1 6-2 6-1 3-2 5-2 4-2 3-2 4-2 5-1 6-1 3-2 6-1 3-2 6-1 3-2 3-4 3-5 3-3 0-6 1-6 0-3-1-6-1-6 1-3 1-6 1-6 1-6-2-3-3-3-3-1-4 1-6 1-3-1-6 0-5 0-1 1-6 0-6 0-6 2-4 3-5 3-3 2-3 2-3 2-4 1-5 0-6 1-6 1-6 1-3 2-5 2-4 2-3 2-5 2-4 2-3 2-4 3-5 1-3 2-3 3-5 3-4 2-3 2-3 3-3 2-3 3-3 4-3zM0,523l3-2 5-2 4-1 6-1 3-1 5-3 3-3 4-3 3-2 3-2 3-2 3-3 6-2 6-1 3-1 3-2 6-3 3 0 6 0 3 1 3 3 6 1 6-2 3-1 3-2 4-3 2-3 3-3 3-3 3-4 3-3 6 1 3 0 6 1 5-1 4-1 5 1 4 1 4-1 4-3 2-3 2-6 3-2 6-1 6 0 3 0 6-3 3-3 2-3 3-3 3-3 2-3 2-3 3-4 4-2 5-3 3-2 3-2 3-3 3-3 3-3 3-3 3-4 3-1 3 0 5 3 3 3 4 1 3-1 6-2 6-1 3 0 3 0 6 3 3 1 4 2 3 3 2 4 3 3 3 2 6 3 3 2 3 2 3 3 2 5 1 4 0 3-1 5-1 6 2 6 1 3 2 4 2 5 1 3 3 5 1 4 1 6 0 6-2 6 0 3 0 3 2 6 1 3 3 6 1 3 1 6 0 6-2 6 1 6-1 3-3 4-2 5-2 3-2 3-3 5-2 4-1 3-3 4-3 3-3 2-6 2-3 1-6 1-6 1-6 0-6-1-6 0-6-1-3-1-6-1-3-1-6-2-6 1-5 1-4 1-6 1-4 1-5 1-6 2-3 0-3 0-6-1-6 0-6-1-6 1-6 0-3 1-6 3-3 1-6 2-3 1-6 2-3 1-6 1-6 0-6-1-5-1-4-1-6 0-6 0-6-2-3-2-3-2-3-2-6-2-6 0-6 1-6 0-6 0-6 0-4 1-5 1-6-1-3-2-3-2-3-4-3-2-6-2-6 0-6 1-4-1-3-3-2-2M537,363l6 2 3 4 2 3 2 3 2 5 2 4 1 3 2 6 2 3 1 6 1 3 1 6 0 6-1 4-1 5-1 6-1 6 0 3-1 6-1 6-1 6-1 3-2 6-1 3-2 4-3 4-2 4-1 3-1 6-2 6-1 3-2 4-1 5-2 4-3 4-3 2-6 1-6 0-6-2-3-2-3-2-6-1-4 2-5 3-3 0-3-1-3-2-3-5-2-4-2-3-1-6 2-6 1-3-1-4-1-5 1-4 3-4 3-3 3-4 2-3 2-3 2-6-1-6 1-6 0-6 0-3 3-6 1-3 2-4 2-5 1-3 3-6 1-3 2-3 3-5 2-4 2-3 2-3 3-5 3-4 3-3 3-3 3-3 3-2 6-1zM0,528l5-3 4-2 6-1 6 0 3-1 3-2 3-3 3-3 6-3 3-1 6-1 6 0 4-1 5-2 3-2 3-5 3-2 6 1 3 2 5 2 1 0 6-1 4-2 5-2 4-1 5-1 5-2 2-3 2-3 3-4 3-3 6-2 3 0 6-1 5 1 4 0 4 0 5-1 5-2 4-3 2-3 2-3 5-2 6 1 3-2 5-3 4-3 2-3 2-3 3-3 2-3 3-6 3-3 3-2 3-2 3-2 4-3 5-3 3-2 3-3 3-2 6-2 6 2 3 1 6 0 3-1 6-2 3 0 4 0 5 2 3 2 4 2 4 3 3 3 4 3 3 2 3 1 4 3 4 3 1 3 1 6-1 3 0 6 0 3 2 6 1 3 2 6 1 3 3 6 1 3 2 6 0 3 0 6 0 3-1 6 1 6 0 3 2 6 1 3 0 6-2 3-1 3 0 4 2 5-2 6-1 3-1 6-1 3-3 5-2 4-1 4-1 5-2 3-4 3-5 2-6 1-3 0-6 1-6 0-5-1-4 0-6 0-6-2-3-1-6-2-4-1-5-1-3 1-6 1-6 1-3 1-6 1-5 2-4 2-6 1-6-1-6-1-6 1-6 0-6 0-4 1-5 2-3 2-6 2-3 1-6 2-3 1-6 1-6 0-6-1-5-1-4-1-6 0-6 0-5-2-4-3-3-2-3-2-6-2-3 0-6-1-4-2-5-3-3-1-6 0-3 1-6 3-3 1-3-1-3-3-3-3-6-3-3 0-6 0-6-2-3-3-3-4-2-3-1-4-2-5-2-3-2-2M534,366l4 0 5 3 2 3 2 3 2 3 3 6 1 3 2 4 2 5 1 3 2 6 1 6 0 3 0 3-2 6-1 6 0 3-1 6-1 6 0 6-1 3-1 6-2 4-1 5-2 3-3 5-2 4-2 3-2 6-1 3-2 6-1 3-2 6-1 3-2 4-3 2-6 2-6-1-3-1-4-3-3-3-5-2-6 0-6 1-4-2-5-2-3-4 0-3 1-3 2-5 1-4-1-5 0-2 3-5 2-3 2-3 2-4 3-5 1-3-1-6 0-3 0-6 0-6 0-3 2-6 2-3 2-6 1-3 2-5 2-4 1-3 3-5 2-4 2-3 2-3 3-5 3-4 2-3 3-3 4-3 3-2 3-1zM0,534l3-3 4-3 5-2 6 0 6-1 3-1 3-2 4-3 5-3 3 0 6-2 6-1 3 0 6 0 6-1 3-3 3-4 6 0 6 1 6 0 4-2 5-3 3-1 6 0 6-2 3-2 3-4 3-3 3-3 3-2 3-2 6-1 6 1 6-1 6-1 3 0 5 0 4 2 3 2 6 2 3 0 5 3 2 3 2 5 3 4 3 2 3-2 2-6 3-3 3-3 1-3 0-3-3-3-6-2-3-1-4-3 0-6 2-3 3-3 2-4 3-3 3-3 2-5 1-4 3-4 3-2 4-2 4-3 4-3 3-2 3-2 3-3 4-2 5-1 3 1 6 2 6 0 6-1 6-1 6 2 3 1 5 3 4 3 3 2 3 2 3 2 4 3 2 3 0 6 0 3 1 3 2 6 0 3 2 6 1 3 2 6 1 3 3 6 1 3 1 6 0 6-1 6 0 6 1 6 1 6 0 3 0 3-2 6-1 4-1 5 0 6-2 6-1 3-1 6-1 3-1 6 0 6-2 4-3 3-6 1-6 0-6 1-6-1-6-1-6 0-6-1-3-1-6-2-3-1-6-1-6 0-6 0-6 1-3 1-6 3-3 0-4 3-5 3-6-1-6 0-6 0-6 0-6 1-6 0-3 1-5 2-4 2-3 1-6 2-3 1-6 2-6 0-6 0-6-1-4-1-5-1-6 0-6-2-3-2-3-2-3-2-6-3-3 0-6-2-3-1-5-3-4-2-4-1-5-1-6 0-6 0-6 0-4-2-5-2-5-1-4-1-4-2-3-3-2-3-3-6-2-3-2-3-3-3-2-3M532,369l5-1 3 2 3 2 3 4 3 5 1 3 2 4 3 5 1 3 2 6 1 3 1 6 0 6-2 6-1 3 0 6-1 6-1 6 0 3-1 6-2 6-1 3-2 6-1 3-2 3-3 4-3 5-1 3-2 6-1 3-2 5-1 4-2 6-2 3-4 2-6-1-4-1-4-3-4-3-3-3-3-1-6 0-6-2-3-1-2-5 1-6 1-6 0-3 3-6 1-3 2-4 2-5 1-3 0-6-1-3 0-6 0-6 1-6 0-3 3-6 1-3 2-6 1-3 2-5 2-4 1-3 3-5 3-4 1-3 2-3 3-4 3-4 3-3 3-2 4-2zM244,423l3 0 5 1 6 2 3 1 6 0 3-1 6-1 4 1 5 2 3 2 3 2 4 3 3 3 2 3 1 6 1 6 2 3 2 5 1 4 1 6 1 3 2 6 1 4 2 5 1 5 1 4-1 6 0 3-1 6 1 3 2 6 1 6-1 6-2 6-1 3-2 6 0 3-1 6-2 6-1 3-1 6 0 6-1 6-3 1-6 0-6 1-6 0-4-2-4-3-2-3-2-3-6-1-2 4-4 1-3-1-6-1-6 1-6 0-6 0-4 0-5 2-3 1-6 3-3 1-3 2-6 3-6-1-6 0-6 1-3 0-6 0-6 1-6 1-3 1-5 3-4 2-4 1-5 2-6 0-6 1-6-1-6-1-3-1-6-1-6-2-3-1-3-2-4-3-5-2-3-1-6-2-3-2-4-2-5-3-3 0-6-1-5-2-4-1-4 1-5 1-6-1-3-2-4-1-5-2-3-1-4-3-3-3-2-4-3-5-3-3-2-3-1-6 1-6 2-3 3-3 6-1 6-1 4-1 5-2 3-2 6-1 3-1 6-3 3-1 6-2 6 1 6-1 3-1 3-3 3-3 6 1 3 1 6 1 6 0 4-2 3-3 5-3 3 0 6-2 3-1 3-3 3-4 3-2 3-3 6-2 6 0 6-1 3-1 6 0 3 1 4 3 5 3 3 0 6 2 3 2 3 5 1 3 2 3 3 3 6 1 3-3 3-4 1-3 2-6 3-3 2-3 0-6-2-4-3-3-4-2-3-3 1-5 2-4 1-3 3-4 3-2 3-3 3-5 3-4 3-2 3-2 3-2 3-3 3-4 3-3 4-2zM530,372l4-1 5 1 4 3 2 3 2 3 2 4 3 5 2 3 1 3 2 6 1 3 1 6 0 6-1 3-1 6-1 6-1 5 0 4-1 6-1 6-1 4-2 5-1 3-3 6-2 3-2 3-2 4-2 5-1 3-3 6-1 3-2 6-1 3-2 3-6 2-6-2-3-1-3-3-3-3-3-2-6-2-3-1-6-3-1-3 0-6 1-4 2-5 1-3 2-6 2-3 2-6-1-6-1-6-1-6 1-6 1-6 1-3 2-6 1-3 2-6 1-3 3-6 1-3 2-3 3-4 3-5 2-3 2-3 2-3 3-3 5-3zM241,429l5-3 6 2 3 1 6 3 3 1 3-1 5-3 4-1 4 1 5 2 3 2 3 2 3 3 2 6 1 6 1 3 3 3 2 4 1 5 1 6 1 6-1 6 0 6 1 3 2 6 1 6-2 6 2 6 3 2 2 4 1 3 0 6 0 3-3 6-1 3-2 5-1 4-1 6-1 4-1 5-2 6 0 6-2 3-4 1-6 0-6-1-3-2-3-4-2-3-2-3-5-2-6 1-6 0-4 1-4 3-4 1-6 0-6 0-6 2-3 1-3 2-5 3-4 2-3 2-5 2-4 0-6 0-6 1-6 1-6 0-6 0-6 0-3 1-5 3-4 2-3 1-6 2-6 0-6 1-6-1-6-1-5-1-4-1-5-2-4-2-3-2-3-2-6-3-3 0-6-3-3-3-3-2-3-1-6-1-6-1-4-1-5-1-4 1-5 1-6-1-3-2-3-2-6-2-3-1-3-2-3-4-3-5-2-3-2-3 0-6 1-3 3-4 4-2 5-1 5-2 4-2 3-2 6-1 5-1 4-2 3-2 6-2 6 0 5 0 4-1 3-2 5-3 3 0 4 2 3 1 6 2 6 1 3 0 3 0 3-3 3-6 3-3 3 0 6 0 6-3 3-3 3-2 4-1 3-3 5-3 3 0 3 0 6 2 3 3 3 1 6 0 6 1 3 2 3 6 0 3 5 3 4 2 6 0 3-2 4-3 4-3 2-3 1-6 1-3 2-6 1-6 0-3 6-2 3 2 3 0 1-6-1-4-3-3-3-2-4-3-4-3 2-3 3-4 3-4 3-3 3-3 3-3 3-4 2-3 2-3zM294,501l-3 0-3 3 1 3 5 1 3-4-3-3zM527,375l4-2 6 0 4 2 2 3 3 4 3 5 2 3 2 3 2 5 1 4 2 6 0 3 0 6-1 3-1 6-1 5 0 4-1 6-1 6-1 6 0 3-3 6-1 3-2 5-3 4-2 3-2 3-2 5-2 4-1 3-3 5-1 4-2 6-3 2-6 0-4-2-4-3-3-3-4-3-3-2-5-1-4-2-2-4 1-6 1-3 2-6 1-3 2-6 1-3 1-6-1-5-1-4-1-6 1-6 1-5 1-4 2-6 1-3 2-6 1-3 2-4 2-5 2-3 2-3 3-4 3-5 2-3 3-3 3-3zM243,432l6-1 4 1 5 3 3 2 6-1 3-3 3-2 6 0 3 1 5 3 3 3 2 3 0 6 2 4 3 4 3 4 2 3 1 6 0 3 0 6 0 3-2 6-1 6-1 3-5 1-6 2-3 1-6 0-3-2-6-1-5 2-2 3 1 3 4 3 5 0 3 0 3 0 6 3 3 1 6 1 6 0 3 3 3 3 3 2 3 3 2 5-1 6-1 3-3 5-2 4-1 6-1 3-2 6 0 3-3 6-1 3-2 4-6 2-6-2-3-2-3-4-3-3-3-2-6-1-5-1-4-2-5 2-4 3-3 0-3-3-3-2-4 2-2 4-3 3-3 2-4 3-5 3-3 2-3 1-6 3-3 1-6 0-6 1-6 1-3 0-6 0-6 0-6 1-6 1-3 2-4 2-5 2-6 1-6 0-3 0-6 0-3-1-6-1-4-1-5-2-3-1-5-3-4-3-3-2-6-1-3-1-3-3-3-3-5-2-4-1-6 0-6-1-6 0-6 0-6 0-3-1-3-3-4-3-5-1-5-2-2-3-2-3-2-6 2-4 3-4 3-3 3-3 3-2 3-2 6-2 6-1 3-1 4-2 5-3 3 0 6 0 6-1 5-2 4-2 3-1 3 0 4 3 5 2 6 0 4 1 5 0 3-1 3-3 3-4 3-3 6 0 5-1 4-3 3-1 6-1 5-1 4-1 6-2 6 2 6 0 6-1 3 2 1 6 2 4 6 2 3 1 6 2 6-3 3-2 3-2 5-2 4-1 3-4 0-4 0-3 0-6 0-4 3-3 3 1 4 0 3-3 1-6 0-6-2-6-2-3-3-3-2-3 1-3 4-3 2-3 2-6 2-3 2-3 3-3zM249,543l-3 0-4 3 1 4 3 2 5 3 4 0-3-6-1-3-2-3zM529,375l5-1 4 1 4 3 2 3 2 3 3 4 3 5 1 3 2 4 2 5 1 6-1 6-1 6-1 4-1 5 0 6-1 6-1 6 0 3-2 6-1 3-3 6-2 3-2 3-2 3-3 5-1 4-2 3-3 5-2 4-2 3-2 4-6 1-4-2-4-3-3-3-3-3-4-2-3-1-4-3-1-6 2-6 1-3 2-6 1-3 1-6 0-6-2-5-1-4 1-6 0-3 1-6 2-6 1-3 2-6 1-3 2-6 1-3 2-3 3-4 3-5 2-3 2-3 2-3 3-3 4-3zM247,435l3 0 5 2 3 2 3 2 5 0 4-3 3-3 3-1 6 1 3 2 2 4 1 4 2 5 2 3 3 3 3 3 2 4 1 5 0 6-1 5-2 4-2 3-2 4-4 2-5 3-3 0-3-1-4-2-5-1-6 1-3 1-4 2 0 6 1 3 3 4 3 3 6 0 6-1 6 1 4 2 5 2 6 1 3 1 3 2 5 3 2 3 1 6-2 6-2 3-1 3-2 6-1 5-1 4-2 4-3 5-2 3-4 3-3 0-3-1-3-2-3-3-4-3-5-1-5-2-3-3-2-3-2-6-1-3-2-5-3-3-3-1-5 0-4 1-3 4-1 4-1 6 0 6-2 3-2 5-2 4-4 3-3 2-3 2-3 2-6 3-3 1-6 2-6 0-3 0-6 1-6 1-6 0-6 0-6 0-3 1-6 3-3 2-3 1-6 0-6 0-6 0-3 0-6-1-6-1-3-1-6-3-3-1-3-3-3-2-6-2-3-1-4-3-4-3-4-2-6-1-6 0-3 0-6-1-6 0-6 0-4-2-2-3-3-6-3-1-6 0-4-2 0-6 1-3 3-5 3-4 3-3 3-2 4-1 5-1 6-2 3-2 3-1 6-1 6-1 4-1 5-2 4-1 3 0 5 2 3 2 6 1 6 1 3 0 3 0 6-3 3-2 3-4 3-2 6-1 3 0 6-2 6-1 6 0 3-1 6-2 6 1 6-1 3 0 2 3 1 3 3 4 6 1 3 1 6 2 6-1 3-1 4-3 5-3 3 0 6-1 3-2 2-6 1-3 2-6 3-3 3-3 2-3 1-6 0-6-1-6-1-6-1-3 1-6 0-3 1-6 2-4 3-3 4-2zM527,378l4-2 6 0 3 2 3 4 3 4 3 4 2 3 1 3 3 6 1 3 1 6 0 6-2 6-1 3 0 6-1 6-1 6 0 3-1 6-2 6-1 3-2 4-3 5-2 3-2 3-2 3-3 6-1 3-2 3-3 4-3 4-3 2-6 0-3-2-3-3-3-3-3-3-3-2-4-3-1-6 2-5 1-4 1-6 1-3 1-6-1-3-2-6-1-6 1-6 1-6 1-3 2-6 1-4 2-5 1-4 2-5 2-3 2-3 3-4 3-5 2-3 3-3 3-3zM244,441l5-2 6 2 3 2 3 1 6 0 3-2 3-2 6-2 4 3 2 4 2 5 2 3 3 3 3 3 2 3 2 6 0 6-2 4-5 2-4 3-3 3-2 3-4 1-3-1-6-2-6 0-6 1-3 1-3 3-1 6 1 3 2 6 0 6-1 6 2 3 5 0 4-3 3-2 3-1 6-3 3 0 3 1 5 2 4 1 6 2 3 1 3 2 4 3 1 6-2 5-2 4-1 3-2 6-1 6-1 3-2 3-3 3-3 3-6 0-3-1-3-2-4-3-5-2-3-1-3-3-2-6-2-3-2-6-1-3-3-3-5-1-4-2-5-2-3 3-2 5-1 4-1 5-1 6-1 4-1 5-2 5-2 4-3 3-4 2-3 2-3 2-6 3-3 0-6 1-6 1-6 1-3 0-6 0-3 0-6 0-3 0-6 1-6 2-3 1-4 2-5 0-6 1-6 0-4-1-5-1-6 0-5-2-4-2-3-2-3-2-4-3-5-3-3-2-3-2-4-2-5-2-6 0-6 0-6-1-6 0-3 0-6-2-2-4 0-6-4-3-3-1-6-2 0-3 1-3 2-4 3-4 3-1 6-1 6-2 3-1 4-2 5-1 6-1 3-2 6-2 3 0 4 0 5 2 3 2 6 1 5 1 4 0 3 0 6-2 3-1 3-3 3-4 6-2 3 0 6-1 6 0 6 0 6-2 3 0 6 0 4 0 5 3 2 3 4 2 6 0 3 1 6 1 6 0 3-2 3-2 5-3 4-1 6 0 6-2 2-3 1-5 2-4 2-3 2-3 3-4 2-5 1-6 0-6-2-6-1-3 0-6 0-5 0-4 1-6 3-3zM529,378l5-1 3 1 4 3 2 3 3 3 3 5 2 4 2 3 2 5 1 4 0 6-1 6 0 3-2 6 0 6-1 5 0 4-1 6-2 6-1 3-2 6-2 3-1 3-3 3-3 4-2 5-2 3-2 4-3 3-3 3-3 3-6 0-3-2-3-3-3-3-3-3-3-2-2-6 1-6 1-6 0-3 2-6-1-6-1-3-2-6 0-6 1-6 1-3 2-6 1-5 1-4 2-5 2-4 1-3 3-5 3-4 2-3 2-3 2-3 3-3 4-3zM246,444l3-1 4 1 5 2 3 1 6 0 3-1 4-2 5-1 3 3 3 4 2 3 2 3 3 3 2 3 3 6-2 6-4 3-3 2-3 3-3 3-6 1-6-3-3-1-6 1-3 1-6 0-3-1-2-6-1-3-3-5-1-4 0-6 1-6 0-3 3-6zM242,498l4-2 2 5 2 3 0 6-1 5-3 4-3 1-5 2-2 3-2 5-1 4-1 6-1 4-1 5-1 6-1 3-2 6-1 4-3 4-3 2-3 2-6 3-3 1-6 1-6 1-4 0-5 1-6 1-6-1-6 0-6 1-6 0-5 1-4 2-3 1-6 1-6 1-6-1-6-1-3 0-6-1-3-2-5-3-4-3-3-2-3-2-3-2-5-3-4-2-3-2-6-1-6 1-6 0-6-1-6 0-3-2 0-5 0-3-2-3-4-3-3-1-3-4 0-2 2-5 4-2 6-1 3 0 6-2 3-1 6-1 3-2 6-3 3-1 6 0 3 2 4 2 5 2 5 1 4 1 4-1 5-2 6 0 3-1 3-4 3-4 3-1 6-1 4 1 5 0 3 0 6-1 5 1 4 1 6 2 3 0 6 2 6 0 6 1 3 0 6 0 3-1 5-2 4-3 3-1 6 0 6 0 5-2 3-3 1-6 1-3 3-3 4-3zM272,519l4-2 6 0 4 2 5 1 6 2 3 2 3 3 0 4-1 3-1 6-1 3-2 6-1 6-1 3-3 3-5 3-6-2-3-2-3-2-6-3-3-2-2-4-1-3-2-6-1-6-1-3 1-3 3-3 3-3 5-3zM527,381l4-2 6 1 3 2 3 4 3 3 3 4 1 3 2 3 3 6 0 3 1 6-1 4-1 5-1 6-1 5 0 4-1 6-1 6-1 5-1 4-2 4-2 5-2 3-3 3-2 3-3 5-2 4-2 3-3 3-4 3-4 2-5-2-3-3-3-3-3-3-3-3 0-6 0-6 0-6 2-6-1-6-2-6-1-3 0-6 1-4 1-5 1-6 1-3 2-6 1-3 2-6 2-3 2-3 3-4 3-4 3-4 2-3 3-3zM249,450l3 0 3 0 6 1 6 0 4-1 5-2 5 2 3 3 2 3 3 3 2 3 2 6-2 4-3 3-3 4-3 2-6 2-5-3-4-3-3-1-6 1-6-1-3-3-3-3-2-5 0-6 2-6 3-3zM239,507l1-1 3-1 2 2-1 3-1 1-3 1-1-2 0-3zM210,522l3-2 6 0 6 1 6 1 0 3 0 6 0 3-1 6-2 6 0 3-2 6-1 3-1 6-2 5-3 3-3 2-3 2-6 3-3 0-6 1-6 0-6 1-6 1-6 0-6 0-4 0-5 0-3 0-6 0-3 1-6 2-3 1-6 2-6-1-6-1-6-1-3-1-4-2-5-3-3-3-3-2-3-3-3-2-4-2-5-3-3-1-6-1-6 2-3 0-3 0-6-2-3-1 0-6-3-4-4-2-4-3-2-3 1-4 6-2 3 0 6-2 5-1 4 0 5-3 4-3 3-1 6 1 3 2 3 2 6 2 3 0 6 1 4-1 5-2 6 0 4-1 4-3 3-3 4-3 6 1 6 0 6-1 6 1 5 2 4 1 6 1 3 1 6 1 4-1 5 0 6-1 6-1 4-1 5-3zM276,522l3-1 3 1 6 1 6 0 3 2 2 6-2 6 0 3-2 6 0 6-1 3-3 4-6 1-4-2-3-3-3-3-3-3-2-3-2-6 1-6 0-6 2-3 5-3zM530,381l4 0 3 1 3 3 3 3 3 3 3 5 2 3 1 3 2 6 1 6-1 6-2 6 0 3-1 6-1 6 0 6-1 5-1 4-2 5-2 4-1 3-3 4-3 3-3 4-2 4-2 3-2 3-5 3-4 2-4-2-3-3-3-3-2-3-2-6-1-6 0-3 0-4 1-5-1-6-1-3-2-6 0-6 1-6 2-6 0-3 2-6 1-3 2-6 1-3 3-5 3-4 3-3 2-3 2-3 3-3 4-3zM274,453l5-1 3 3 3 4 2 3 1 3 0 3-3 6-2 3-4 3-6-3-3-2-3-2-6-2-3 0-3 0-3 0-4-3-2-3 0-5 3-4 3-1 6 1 6-1 6-1 4-1zM209,525l4-2 6 0 6 1 3 4 1 3-1 6 0 3-2 6-1 4-2 5-1 4-1 5-2 6-3 2-3 2-4 2-5 1-6 1-6 0-6 0-6 1-3 0-6 0-6 0-6 1-4-1-5 0-3 0-6 2-3 2-4 2-5 1-3-1-6-1-6-2-3-1-4-2-4-3-3-3-4-3-3-2-3-2-3-3-3-3-6-2-3-1-3 1-6 2-6-2-2-3-3-3-4-3-3-2-3-2 0-3 4-2 5-2 6-1 6 1 3-2 3-2 6 0 3 2 3 1 6 2 6 1 6-1 3-2 6-2 6 0 4-1 5-3 3-2 3-1 6-1 6-1 6 0 6 1 4 1 5 1 5 2 4 3 3 3 3 2 3-2 3-4 5-2 4-1 6-1 3-1 5-3zM284,528l4-1 6 1 0 3-1 3-2 6 0 3-1 6-2 6-3 0-3-2-3-4-2-3-1-3 0-6 1-3 2-3 5-3zM528,384l6-2 3 2 3 3 3 3 3 3 3 5 3 4 1 3 1 6 0 6-2 6 0 3-1 6-1 6-1 6 0 3-1 6-2 6-1 3-2 4-3 4-3 4-3 3-2 3-1 3-3 4-3 2-6 2-4-2-3-3-2-3-3-6 0-3-2-6 0-6 1-6-2-6-1-3-1-6 0-6 2-6 0-3 2-6 1-4 2-5 1-3 3-6 2-3 2-3 3-3 2-3 3-3 3-3zM276,456l1 0 4 3 1 3 1 6-1 5-3 3-4-2-5-3-3-1-4-2-5-2-6 1-3-2 0-4 3-2 3 1 6 1 4-2 5-1 6-2zM216,525l1 0 5 1 3 2 2 6-1 6-1 3-1 6-2 5-2 4-1 6 0 3-3 3-5 3-4 2-4 1-5 0-3 0-6-2-6 0-3 2-6 1-6 0-6 0-6-1-6 0-6 1-5 2-4 3-3 1-6 0-3-1-6-2-4-1-5-3-3-2-3-3-3-2-4-2-3-3-2-4-3-4-3-2-3-2-4-3-3 0-3 3-5 2-4-2-5-3-3-2-2-4 5-3 6 1 6 2 6-2 6 0 6 1 3 3 3 2 3-1 4-3 4-3 4-2 3-1 6-1 6-1 3-2 5-2 4-1 6-1 6 0 6 1 6 1 3 1 4 2-1 4-3 2-1 6 0 6 1 6 1 3 5 0 3-2 3-4 2-3 2-3 3-3 3-3 3-3 2-3 4-3 5-2 4-1 5-2 3-2 6-2zM528,387l3-2 6 2 3 2 3 3 3 4 2 3 2 3 2 4 1 5 0 6-1 3-1 6-1 6-1 6 0 3-1 6-1 6-1 4-2 5-2 3-2 4-3 3-3 3-3 5-2 3-3 3-4 1-5-1-3-3-2-3-2-3-2-6-1-3 0-6 0-3 0-4-2-5-1-4-1-5 1-6 0-3 1-6 2-6 1-3 2-6 1-3 2-5 3-4 3-3 2-3 3-3 4-3zM270,465l3 0-3 0zM211,531l5-3 6 2 2 4-1 6-1 3-1 6-2 6-1 3-2 6-1 3-3 3-5 2-3 2-6 0-4-1-4-3-3-3-2-3-1-6 0-6 2-5 3-3 3-3 3-3 3-2 6-2 3-1 4-2zM130,534l5-1 6-1 6 0 3 2 3 4 2 5 1 3 2 6 0 6 0 6 0 6-5 2-4 1-5 1-6 1-3 2-3 2-6 0-3-1-3-2-6-2-3-1-4-3-4-3-4-2-3-3-1-4 1-4 3-4 3-4 3-3 3-3 3-1 6 0 6-1 3-2 4-2zM173,564l4 0 2 3-2 5-3 1-4 0-3-3 1-3 5-3zM530,390l4 0 3 1 3 2 3 3 3 4 3 4 2 4 0 6-1 6-1 6-1 3 0 6-1 6-1 6 0 4-1 5-2 4-3 5-2 3-3 3-3 3-3 3-3 3-4 1-3-1-3-3-3-4-3-5-1-3 0-6-1-6-1-4-2-5 0-6 1-6 1-6 1-3 1-6 1-3 2-6 2-3 2-3 3-4 3-3 3-2 5-3zM138,537l3 0 3 0 3 3 3 5 1 4 0 6-3 3-4 2-3 3-3 3-3 2-6-1-6 1-6 1-5-2-3-3-3-3-2-3 0-6 2-3 2-3 5-3 4-1 6-1 4-1 5-2 6-1zM205,540l5-1 4 1 2 5 0 3-1 4-2 6-1 3-2 3-3 3-6 3-6-2-3-4-1-3 1-5 3-2 4-2 2-5 1-4 3-3zM528,396l6 0 3 1 3 3 3 4 3 4 1 3 0 6 0 6-1 3 0 6-1 6-1 6-1 6 0 3-2 6-2 3-2 3-3 3-5 3-4 1-3-1-4-3-3-3-2-6-1-3-2-6-1-3-2-6 1-6 1-6 1-6 1-3 1-6 2-3 2-4 3-4 3-3 3-3 3-1zM118,549l5 0 6-1 3 1 5 3-3 3-5 1-5 2-4 2-6-1-2-4 2-4 4-2zM526,408l5 0 3 2 3 4 1 3 0 6 0 6 0 6-1 6-1 3-1 6-1 6-2 3-4 1-3-1-4-3-2-3-2-6-2-3-1-6 0-6 1-6 1-5 1-4 2-3 3-4 4-2z" fill="none" stroke="#2c2c2c" stroke-width="2.3"/>
</g>
<path d="M377.8,68.5q4.2,9.35 0,18.7z" fill="#111"/>
<path d="M377.8,87.1H409" stroke="#151515" stroke-width="1.4" stroke-dasharray="6 0.5 3.5 0.7 8 0.4 2 0.6" fill="none"/>
</g>
<path d="M415.7,25V88.1M377.8,61.8H440.9" stroke="#6a6a6a" stroke-width="0.5" fill="none"/>
<rect x="377.8" y="25" width="63.1" height="63.1" fill="none" stroke="#7a7a7a" stroke-width="0.6"/>
<text x="375.6" y="28" font-size="2.8" text-anchor="end" fill="#333">10⁵</text>
<text x="375.6" y="42.6" font-size="2.8" text-anchor="end" fill="#333">10⁴</text>
<text x="375.6" y="57.2" font-size="2.8" text-anchor="end" fill="#333">10³</text>
<text x="375.6" y="71.8" font-size="2.8" text-anchor="end" fill="#333">10²</text>
<text x="375.6" y="82.5" font-size="2.8" text-anchor="end" fill="#333">0</text>
<text x="385" y="93.9" font-size="2.8" text-anchor="middle" fill="#333">0</text>
<text x="391.7" y="93.9" font-size="2.8" text-anchor="middle" fill="#333">10²</text>
<text x="406.6" y="93.9" font-size="2.8" text-anchor="middle" fill="#333">10³</text>
<text x="421.8" y="93.9" font-size="2.8" text-anchor="middle" fill="#333">10⁴</text>
<text x="437.3" y="93.9" font-size="2.8" text-anchor="middle" fill="#333">10⁵</text>
<path d="M376.4,27h1.4M376.4,41.6h1.4M376.4,56.2h1.4M376.4,70.8h1.4M376.4,81.5h1.4M385,88.1v1.4M391.7,88.1v1.4M406.6,88.1v1.4M421.8,88.1v1.4M437.3,88.1v1.4" stroke="#555" stroke-width="0.5" fill="none"/>
<text x="410.35" y="97.1" font-size="3.0" text-anchor="middle" fill="#222">&lt;APC-A&gt;: GB21A</text>
<text x="378.8" y="28.8" font-size="3.5" font-weight="bold" fill="#111">0.72</text>
<text x="440.1" y="28.8" font-size="3.5" text-anchor="end" font-weight="bold" fill="#111">1.73</text>
<text x="378.8" y="87.1" font-size="3.5" font-weight="bold" fill="#111">73.2</text>
<text x="440.1" y="87.1" font-size="3.5" text-anchor="end" font-weight="bold" fill="#111">24.3</text>
<text x="422.3" y="44.6" font-size="7.6" stroke="#222" stroke-width="0.18" fill="#222">1.73</text>
<clipPath id="cp2"><rect x="451.1" y="25" width="62.4" height="63"/></clipPath>
<rect x="451.1" y="25" width="62.4" height="63" fill="#fff"/>
<g clip-path="url(#cp2)">
<g transform="translate(451.1 25) scale(0.1)">
<path d="M138,622h7M385,560h7M42,416h7M297,405h7M182,417h7M342,290h7M389,571h7M370,599h7M454,589h7M564,488h7M402,588h7M533,604h7M534,593h7M552,474h7M258,378h7M389,560h7M304,407h7M543,588h7M400,447h7M159,412h7M118,623h7M52,431h7M378,473h7M377,563h7M79,409h7M250,361h7M415,436h7M97,392h7M225,616h7M388,490h7M420,471h7M447,381h7M306,398h7M24,422h7M460,578h7M421,568h7M313,417h7M450,559h7M396,395h7M504,623h7M206,390h7M218,400h7M242,615h7M454,571h7M446,407h7M442,408h7M359,421h7M333,428h7M424,420h7M382,372h7M418,446h7M238,374h7M373,567h7M464,586h7M553,423h7M452,562h7M204,333h7M240,391h7M284,386h7M57,424h7M259,369h7M97,394h7M220,379h7M395,445h7M272,618h7M206,370h7M445,358h7M454,391h7M412,546h7M249,387h7M546,375h7M357,402h7M254,379h7M171,418h7M515,219h7M261,374h7M126,395h7M611,421h7M499,623h7M214,621h7M553,325h7M125,349h7M451,558h7M264,403h7M170,402h7M447,601h7M506,619h7M418,600h7M107,623h7M165,413h7M428,394h7M117,367h7M549,554h7M531,598h7M414,465h7M395,485h7M398,535h7M170,414h7M283,612h7M190,404h7M276,226h7M265,315h7M177,407h7M396,492h7M159,368h7M400,437h7M211,329h7M401,557h7M74,616h7M411,497h7M422,516h7M400,534h7M26,410h7M324,398h7M24,620h7M438,393h7M449,577h7M371,574h7M89,406h7M226,616h7M447,410h7M80,386h7M51,406h7M109,316h7M461,326h7M347,420h7M317,402h7M354,599h7M395,554h7M343,611h7M467,609h7M393,536h7M522,620h7M429,610h7M44,614h7M166,400h7M132,350h7M259,393h7M304,407h7M383,338h7M306,217h7M196,356h7M183,395h7M289,613h7M365,446h7M116,402h7M510,622h7M432,414h7M376,446h7M305,375h7M255,381h7M411,484h7M582,507h7M253,378h7M184,416h7M48,429h7M437,559h7M139,413h7M616,403h7M531,601h7M378,595h7M447,410h7M221,376h7M18,422h7M560,505h7M412,604h7M542,602h7M468,594h7M209,399h7M398,452h7M401,459h7M319,605h7M164,397h7M462,351h7M389,374h7M150,352h7M393,379h7M362,584h7M405,538h7M31,613h7M488,280h7M42,429h7M438,544h7M382,568h7M361,589h7M292,611h7M573,583h7M462,570h7M497,336h7M390,549h7M178,414h7M10,608h7M413,561h7M413,522h7M428,557h7M428,551h7M226,618h7M553,526h7M197,298h7M349,590h7M479,365h7M252,321h7M194,398h7M73,429h7M452,581h7M374,447h7M220,387h7M88,389h7M417,602h7M453,408h7M87,410h7M142,420h7M538,621h7M251,615h7M10,619h7M551,550h7M309,405h7M50,382h7M405,521h7M214,378h7M431,358h7M433,536h7M80,387h7M493,335h7M78,370h7M553,435h7M350,401h7M333,295h7M421,520h7M401,450h7M450,358h7M433,375h7M370,418h7M48,616h7M479,357h7M394,493h7M463,371h7M491,604h7M557,402h7M176,410h7M24,624h7M368,409h7M232,387h7M371,465h7M428,584h7M412,542h7M136,395h7M109,367h7M407,407h7M536,353h7M488,608h7M412,528h7M416,441h7M463,367h7M132,418h7M81,395h7M11,429h7M379,574h7M527,333h7M110,353h7M379,472h7M216,616h7M298,616h7M302,409h7M399,530h7M101,382h7M405,436h7M239,397h7M257,336h7M406,491h7M406,514h7M591,417h7M441,344h7M349,602h7M372,567h7M469,324h7M296,389h7M163,415h7M52,383h7M238,396h7M55,419h7M212,365h7M85,368h7M237,368h7M433,541h7M414,493h7M232,406h7M392,449h7M437,547h7M214,371h7M40,427h7M377,475h7M434,370h7M371,458h7M16,613h7M610,420h7M476,591h7M48,357h7M259,621h7M338,377h7M197,410h7M534,615h7M428,604h7M540,342h7M193,407h7M77,397h7M421,454h7M453,387h7M384,551h7M250,387h7M506,340h7M245,326h7M536,619h7M99,370h7M93,406h7M336,411h7M556,479h7M75,621h7M289,617h7M360,424h7M429,396h7M336,382h7M69,424h7M348,600h7M155,305h7M29,370h7M471,573h7M341,389h7M218,621h7M248,621h7M541,373h7M432,374h7M460,385h7M382,392h7M334,370h7M235,404h7M258,404h7M173,322h7M521,341h7M239,373h7M106,365h7M191,407h7M315,419h7M305,341h7M197,377h7M187,396h7M417,514h7M94,415h7M431,388h7M435,531h7M374,469h7M387,383h7M563,357h7M79,405h7M383,479h7M364,591h7M263,614h7M407,504h7M412,516h7M138,380h7M264,352h7M468,589h7M186,408h7M431,560h7M424,567h7M258,371h7M132,385h7M130,377h7M228,382h7M537,615h7M354,366h7M556,499h7M461,391h7M370,413h7M440,363h7M395,540h7M31,403h7M461,583h7M477,250h7M155,378h7M50,398h7M402,366h7M542,356h7M91,409h7M556,431h7M413,498h7M380,561h7M414,558h7M163,407h7M558,557h7M253,614h7M435,391h7M341,430h7M394,251h7M63,404h7M556,338h7M432,579h7M218,403h7M153,622h7M99,401h7M154,314h7M547,389h7M407,448h7M351,395h7M439,568h7M549,570h7M453,351h7M382,479h7M458,370h7M488,244h7M493,611h7M428,580h7M393,549h7M36,412h7M546,380h7M553,589h7M545,374h7M530,620h7M322,613h7M346,319h7M302,404h7M413,395h7M408,471h7M371,446h7M376,399h7M405,443h7M147,418h7M110,380h7M492,618h7M541,583h7M261,299h7M405,447h7M445,342h7M567,558h7M544,348h7M343,433h7M369,412h7M397,339h7M290,367h7M308,308h7M336,607h7M510,623h7M368,437h7M403,512h7M420,421h7M347,386h7M427,522h7M65,622h7M78,378h7M144,419h7M284,361h7M179,393h7M417,443h7M141,423h7M349,431h7M373,474h7M276,613h7M145,286h7M361,439h7M184,408h7M198,409h7M546,376h7M473,357h7M551,377h7M308,345h7M405,471h7M248,380h7M88,623h7M5,605h7M550,509h7M400,579h7M159,410h7M374,609h7M420,516h7M474,363h7M343,408h7M175,404h7M385,598h7M407,416h7M60,402h7M439,548h7M48,421h7M155,416h7M489,353h7M538,359h7M525,622h7M345,430h7M397,501h7M97,407h7M85,421h7M393,480h7M284,269h7M505,620h7M319,397h7M55,612h7M14,392h7M410,422h7M400,465h7M381,484h7M547,560h7M553,550h7M463,382h7M419,474h7M260,394h7M398,463h7M326,413h7M44,392h7M281,356h7M332,616h7M528,613h7M553,538h7M528,347h7M460,319h7M378,599h7M407,558h7M466,578h7M324,328h7M326,322h7M380,574h7M395,355h7M543,584h7M14,608h7M541,608h7M436,534h7M271,348h7M448,602h7M153,372h7M357,454h7M403,602h7M415,482h7M571,493h7M201,620h7M207,375h7M64,412h7M142,397h7M87,407h7M108,405h7M321,615h7M403,498h7M228,396h7M409,426h7M391,548h7M474,613h7M469,383h7M512,326h7M346,427h7M450,367h7M336,376h7M391,321h7M130,414h7M478,375h7M496,610h7M88,349h7M229,621h7M196,297h7M385,471h7M330,367h7M352,447h7M387,453h7M487,613h7M555,468h7M291,374h7M387,592h7M74,424h7M333,426h7M439,575h7M417,438h7M380,410h7M325,219h7M482,597h7M51,385h7M355,336h7M422,565h7M406,438h7M224,404h7M358,439h7M376,446h7M417,518h7M472,318h7M77,394h7M493,293h7M424,430h7M424,436h7M52,611h7M380,441h7M6,613h7M341,401h7M351,437h7M167,398h7M396,376h7M187,623h7M341,597h7M408,477h7M225,394h7M237,367h7M279,387h7M511,329h7M51,430h7M408,577h7M344,402h7M445,356h7M254,402h7M393,385h7M318,378h7M129,420h7M448,385h7M13,623h7M177,417h7M78,418h7M322,414h7M368,379h7M273,365h7M440,335h7M140,323h7M149,416h7M527,343h7M425,577h7M88,411h7M255,614h7M557,434h7M445,317h7M42,402h7M4,424h7M436,239h7M181,392h7M436,578h7M411,383h7M286,623h7M495,332h7M278,352h7M194,412h7M75,619h7M363,428h7M151,325h7M83,421h7M380,279h7M184,300h7M403,557h7M352,402h7M180,409h7M459,365h7M274,382h7M552,443h7M552,400h7M459,591h7M72,425h7M423,406h7M545,564h7M524,345h7M387,460h7M438,389h7M226,389h7M428,598h7M155,407h7M403,456h7M160,396h7M478,208h7M393,461h7M156,403h7M109,407h7M431,366h7M453,584h7M370,451h7M389,547h7M42,427h7M93,416h7M429,528h7M96,311h7M354,446h7M553,462h7M410,508h7M419,370h7M247,617h7M480,612h7M419,502h7M29,616h7M293,380h7M48,431h7M483,620h7M538,592h7M69,435h7M555,566h7M63,623h7M155,623h7M397,481h7M21,422h7M510,291h7M206,242h7M65,427h7M484,362h7M282,341h7M157,410h7M186,395h7M413,579h7M227,390h7M560,560h7M244,324h7M434,534h7M234,383h7M226,375h7M494,334h7M12,314h7M406,554h7M241,402h7M105,390h7M185,409h7M245,403h7M527,343h7M423,532h7M387,483h7M455,397h7M354,422h7M417,432h7M533,617h7M314,401h7M227,621h7M427,538h7M212,384h7M442,319h7M556,545h7M43,379h7M429,405h7M90,412h7M457,395h7M391,415h7M370,445h7M441,593h7M417,424h7M464,371h7M442,403h7M480,365h7M81,418h7M506,331h7M43,381h7M427,399h7M79,619h7M12,404h7M400,481h7M90,418h7M224,616h7M559,505h7M83,393h7M381,436h7M339,378h7M200,398h7M172,274h7M398,477h7M87,423h7M436,569h7M412,558h7M170,396h7M381,478h7M379,576h7M102,352h7M371,473h7M406,604h7M322,364h7M394,549h7M340,330h7M69,419h7M459,379h7M498,342h7M329,422h7M321,421h7M343,392h7M416,511h7M366,389h7M215,368h7M212,350h7M530,606h7M7,609h7M522,317h7M417,525h7M573,514h7M218,396h7M375,589h7M59,407h7M294,392h7M401,446h7M106,380h7M21,616h7M217,389h7M533,327h7M372,459h7M548,403h7M185,392h7M418,520h7M49,412h7M504,619h7M118,376h7M332,371h7M205,620h7M365,456h7M468,323h7M422,562h7M413,371h7M369,620h7M428,367h7M434,551h7M451,393h7M17,427h7M457,362h7M557,420h7M267,398h7M489,346h7M557,396h7M79,421h7M181,312h7M476,347h7M205,385h7M191,400h7M408,299h7M189,415h7M430,421h7M210,379h7M326,617h7M96,400h7M58,425h7M393,352h7M269,396h7M224,624h7M432,389h7M168,403h7M431,563h7M126,372h7M403,493h7M317,342h7M86,421h7M372,572h7M453,559h7M264,379h7M389,440h7M270,614h7M51,615h7M414,330h7M262,388h7M447,410h7M488,614h7M450,413h7M261,391h7M307,395h7M388,579h7M478,591h7M326,423h7M293,388h7M427,578h7M398,471h7M258,405h7M338,397h7M556,442h7M563,475h7M511,338h7M78,427h7M543,594h7M556,488h7M376,334h7M412,490h7M446,325h7M257,613h7M453,347h7M423,416h7M265,364h7M26,614h7M538,588h7M317,391h7M336,426h7M448,598h7M539,596h7M478,595h7M410,568h7M376,461h7M172,399h7M42,615h7M87,404h7M552,476h7M406,447h7M452,394h7M426,241h7M395,528h7M249,368h7M95,413h7M284,617h7M83,422h7M414,425h7M306,615h7M410,439h7M413,422h7M542,575h7M380,439h7M263,395h7M403,569h7M539,596h7M547,564h7M563,515h7M81,420h7M379,466h7M179,337h7M419,500h7M216,404h7M437,374h7M472,385h7M531,329h7M328,423h7M60,622h7M222,295h7M305,409h7M502,327h7M461,597h7M275,389h7M351,437h7M56,407h7M231,621h7M204,392h7M429,557h7M421,419h7M257,613h7M396,492h7M139,341h7M399,520h7M405,483h7M72,423h7M7,441h7M154,395h7M379,578h7M403,548h7M166,388h7M230,396h7M553,541h7M386,345h7M368,366h7M430,532h7M459,582h7M63,416h7M397,537h7M225,400h7M453,393h7M464,578h7M62,378h7M226,391h7M204,388h7M402,460h7M302,350h7M204,378h7M449,574h7M397,555h7M535,607h7M508,624h7M358,602h7M477,351h7M450,618h7M383,407h7M482,598h7M480,596h7M149,419h7M439,578h7M408,457h7M501,335h7M451,565h7M366,441h7M475,580h7M413,503h7M285,376h7M546,377h7M365,444h7M506,335h7M409,410h7M398,435h7M403,546h7M390,412h7M91,415h7M413,353h7M43,423h7M550,324h7M433,274h7M411,383h7M132,392h7M379,393h7M556,401h7M421,545h7M444,579h7M351,327h7M356,445h7M469,584h7M155,277h7M236,397h7M369,464h7M437,546h7M41,430h7M299,396h7M75,409h7M54,376h7M407,485h7M371,297h7M331,332h7M424,586h7M302,354h7M216,405h7M341,387h7M344,404h7M250,339h7M374,440h7M238,359h7M118,371h7M382,440h7M443,390h7M558,608h7M342,434h7M293,402h7M411,458h7M169,415h7M395,571h7M434,529h7M451,407h7M350,437h7M64,426h7M403,537h7M182,376h7M403,452h7M79,416h7M387,425h7M269,377h7M435,412h7M60,615h7M118,409h7M358,453h7M484,348h7M441,606h7M405,451h7M555,393h7M124,369h7M177,398h7M541,596h7M560,488h7M229,375h7M16,618h7M60,616h7M156,360h7M141,319h7M453,394h7M323,394h7M436,369h7M296,384h7M357,415h7M484,610h7M235,384h7M574,533h7M348,422h7M481,597h7M326,414h7M84,407h7M415,381h7M307,328h7M180,392h7M168,417h7M409,575h7M140,418h7M124,346h7M554,564h7M273,400h7M121,344h7M395,544h7M325,354h7M252,400h7M407,389h7M415,512h7M455,382h7M317,418h7M347,598h7M523,621h7M99,375h7M107,624h7M373,460h7M119,379h7M429,572h7M403,478h7M317,614h7M176,397h7M408,571h7M134,320h7M426,415h7M352,422h7M275,367h7M353,281h7M438,593h7M112,395h7M62,431h7M28,614h7M26,617h7M312,399h7M552,564h7M378,451h7M407,491h7M448,332h7M197,408h7M288,385h7M553,467h7M379,578h7M390,367h7M371,463h7M185,415h7M329,319h7M322,615h7M513,623h7M451,595h7M338,427h7M359,393h7M180,340h7M378,453h7M415,403h7M535,610h7M428,551h7M440,400h7M537,591h7M450,384h7M433,534h7M246,330h7M59,429h7M350,595h7M105,391h7M82,415h7M389,397h7M313,384h7M238,398h7M420,391h7M438,347h7M528,352h7M414,562h7M248,363h7M313,417h7M416,387h7M486,607h7M17,434h7M81,410h7M103,399h7M386,328h7M412,430h7M399,507h7M428,416h7M42,431h7M430,374h7M496,333h7M555,413h7M96,414h7M322,391h7M377,444h7M431,577h7M557,417h7M282,393h7M287,621h7M553,476h7M111,358h7M410,490h7M395,540h7M90,401h7M345,435h7M298,331h7M53,618h7M231,618h7M212,386h7M472,376h7M82,383h7M213,246h7M145,623h7M369,465h7M325,401h7M548,389h7M213,379h7M130,403h7M420,603h7M302,617h7M103,386h7M461,571h7M453,371h7M64,419h7M423,436h7M193,624h7M65,614h7M23,420h7M430,419h7M545,568h7M466,384h7M529,335h7M554,493h7M4,411h7M237,376h7M312,411h7M443,352h7M540,579h7M170,415h7M294,374h7M429,579h7M411,452h7M407,320h7M290,619h7M376,476h7M33,347h7M441,354h7M145,360h7M537,588h7M365,454h7M545,378h7M400,573h7M481,369h7M359,457h7M405,353h7M409,539h7M396,555h7M304,401h7M227,379h7M369,622h7M209,400h7M543,593h7M544,601h7M184,406h7M418,421h7M156,414h7M478,374h7M383,560h7M201,622h7M167,400h7M203,391h7M377,407h7M157,418h7M373,332h7M472,377h7M420,551h7M221,380h7M337,388h7M444,371h7M548,557h7M52,427h7M416,522h7M480,598h7M237,622h7M131,333h7M133,414h7M241,618h7M530,614h7M435,298h7M464,575h7M301,386h7M200,404h7M270,376h7M210,622h7M536,359h7M389,491h7M446,583h7M193,317h7M74,425h7M396,459h7M564,415h7M330,353h7M118,396h7M5,606h7M470,593h7M375,424h7M361,432h7M309,414h7M525,336h7M311,411h7M133,391h7M386,596h7M14,392h7M436,542h7M13,416h7M473,372h7M350,438h7M4,403h7M83,412h7M355,600h7M310,323h7M416,501h7M236,616h7M365,454h7M275,211h7M364,302h7M382,474h7M282,366h7M424,579h7M481,370h7M409,412h7M554,529h7M358,455h7M328,415h7M124,403h7M374,592h7M368,456h7M70,422h7M55,429h7M342,428h7M439,582h7M311,357h7M364,419h7M242,395h7M349,407h7M57,428h7M356,581h7M37,327h7M446,370h7M327,422h7M314,612h7M424,294h7M545,606h7M439,403h7M552,447h7M113,622h7M417,544h7M452,580h7M256,380h7M197,410h7M255,397h7M406,397h7M305,379h7M556,492h7M442,567h7M557,527h7M411,482h7M442,596h7M540,355h7M372,473h7M254,405h7M548,376h7M55,373h7M372,582h7M246,404h7M361,590h7M552,521h7M357,585h7M423,524h7M252,355h7M417,346h7M383,467h7M414,472h7M67,395h7M127,372h7M416,536h7M558,395h7M53,432h7M302,368h7M399,285h7M363,441h7M274,398h7M554,401h7M69,390h7M290,389h7M84,622h7M48,428h7M446,588h7M100,413h7M405,475h7M269,396h7M353,390h7M70,616h7M523,341h7M22,611h7M286,618h7M370,601h7M57,426h7M428,344h7M377,560h7M397,462h7M162,412h7M489,356h7M348,439h7M494,617h7M444,569h7M449,381h7M9,363h7M361,582h7M140,408h7M419,382h7M319,419h7M80,421h7M76,617h7M394,479h7M364,466h7M415,515h7M30,613h7M263,353h7M418,452h7M414,433h7M305,410h7M271,401h7M125,415h7M124,411h7M404,540h7M291,612h7M465,578h7M252,397h7M377,441h7M415,374h7M414,389h7M381,463h7M395,540h7M405,472h7M13,616h7M385,319h7M260,616h7M362,609h7M444,567h7M327,370h7M339,611h7M465,388h7M297,611h7M122,397h7M133,410h7M410,566h7M441,252h7M52,389h7M566,611h7M249,406h7M378,460h7M144,356h7M433,539h7M481,349h7M425,431h7M509,312h7M515,336h7M415,473h7M391,577h7M398,563h7M63,432h7M4,430h7M435,382h7M405,548h7M346,431h7M177,414h7M192,339h7M79,424h7M117,414h7M287,359h7M381,451h7M75,621h7M457,380h7M264,622h7M549,402h7M562,468h7M437,354h7M101,384h7M411,373h7M459,371h7M81,415h7M251,380h7M500,618h7M458,586h7M546,338h7M480,366h7M231,407h7M347,353h7M403,438h7M244,390h7M112,622h7M57,621h7M469,570h7M394,383h7M300,353h7M246,397h7M394,394h7M316,412h7M36,351h7M183,373h7M449,277h7M551,507h7M366,427h7M394,562h7M210,616h7M376,580h7M388,546h7M473,581h7M281,395h7M305,405h7M532,294h7M542,354h7M60,619h7M82,348h7M534,600h7M402,476h7M363,455h7M419,538h7M33,424h7M361,357h7M399,491h7M225,616h7M479,613h7M424,412h7M350,422h7M474,602h7M550,394h7M81,425h7M329,420h7M430,417h7M390,549h7M426,566h7M399,484h7M503,268h7M247,396h7M405,521h7M523,330h7M62,424h7M316,356h7M404,235h7M73,433h7M554,510h7M122,383h7M54,433h7M395,553h7M42,415h7M545,569h7M333,601h7M215,381h7M399,487h7M401,500h7M544,377h7M413,446h7M183,355h7M217,393h7M559,437h7M315,417h7M381,472h7M268,398h7M471,355h7M177,418h7M487,614h7M279,622h7M213,401h7M236,386h7M222,399h7M452,393h7M264,621h7M517,342h7M472,371h7M420,469h7M5,432h7M373,467h7M312,414h7M232,623h7M427,518h7M488,345h7M264,395h7M488,350h7M64,399h7M550,407h7M411,505h7M454,392h7M432,525h7M275,620h7M399,392h7M541,578h7M424,549h7M244,621h7M545,380h7M454,404h7M95,409h7M412,498h7M105,399h7M400,312h7M512,337h7M405,523h7M382,559h7M383,434h7M306,328h7M389,350h7M175,374h7M368,604h7M442,401h7M126,366h7M418,430h7M176,404h7M535,350h7M556,526h7M265,302h7M424,541h7M159,379h7M157,282h7M50,624h7M266,391h7M344,402h7M282,619h7M557,493h7M288,380h7M428,382h7M354,451h7M144,374h7M29,427h7M38,615h7M300,403h7M5,432h7M360,438h7M343,434h7M420,390h7M554,474h7M385,614h7M425,597h7M439,615h7M320,376h7M166,624h7M408,505h7M83,621h7M559,379h7M351,364h7" stroke="#111" stroke-width="7" fill="none"/>
<path d="M505,342l5 0 3 0 6 3 3 2 3 3 3 2 3 3 3 4 2 4 2 3 2 6 2 3 1 4 2 5 1 6 1 3 0 6 1 6 1 6 0 3 1 6 1 6 1 6 0 6-1 6 0 6 1 6-1 6-1 6-1 6 0 3 0 6 0 6 0 5 0 4 1 6 0 6 1 6 0 6 0 6-1 6 0 6-1 5-1 4-1 6-1 4-1 5-2 6-1 3-2 3-3 6-1 3-2 4-2 5-1 4-1 5-2 4-2 5-2 3-2 3-6 3-6 0-6-3-3-3-3-3-3-3-2-3-2-3-2-3-3-6-2-3-3-3-2-3-2-3-3-5-2-4-3-3-4-3-6 0-3-2-2-4-2-3-3-3-5-3-3-3-2-3-1-6 0-3-2-6-2-3-2-3-3-6-2-3-2-3-2-3-3-6 0-3-2-6-2-3-2-4 0-4 1-4 2-3 3-4 2-5-1-6 0-6-1-6 0-6 3-5 2-4 1-4 2-5 2-3 2-5 3-3 3-1 6 0 3 0 3-1 3-2 2-6 1-3 3-4 3-2 3-3 4-3 3-3 3-3 2-3 3-5 2-4 1-3 2-6 2-3 2-3 3-4 3-4 3-3 3-2 4-2zM0,447l6-2 3-1 3-3 3-4 3-3 3-2 6-2 6 0 6 0 6 2 3 2 3 1 6 2 6 0 6-1 3-1 4-3 3-3 5-3 3-2 3-2 4-2 5-3 3-1 6-2 6 0 6 2 3 1 6 3 3 2 3 1 6 0 3 0 6-3 3-1 6-1 6 0 6 0 6 1 6-2 3-1 6-1 3-1 4-3 5-3 3-2 6 0 6 0 6 1 6 1 3 1 6 0 4-1 5-1 6-1 3-1 6-2 6-1 3-1 6-2 3-1 6 1 3 2 3 2 3 2 4 3 4 3 3 3 4 3 3 2 3 1 6 2 3 2 4 2 3 3 2 3 3 3 5 3 3 3 2 3 2 6 1 3 3 3 3 3 3 3 2 3 3 3 3 3 4 3 4 3 2 3 2 4 3 5 2 3 3 3 4 3 3 3 2 3 0 6 0 6-1 6-1 3-3 3-3 5-1 4-1 6-1 3-3 4-3 3-3 4-3 3-3 4-2 3-3 3-3 3-3 3-4 3-3 3-3 3-2 3-2 3-4 3-4 2-3 2-4 2-5 2-3 1-6 2-3 1-6 2-3 1-6 1-6 1-6 0-6 0-3 1-6 1-6-1-3 0-3 0-6 1-6 0-6 2-3 0-6 1-6 0-3-1-6-1-6 0-6 1-3 1-4 2-5 2-3 1-6 2-6 1-3 0-6 0-3 0-6-2-6 0-6 0-6 0-6-1-3 0-6-1-6 0-6 0-6 1-3 1-6 1-6-2-3-1-6-1-5-1-4-1-6-2-3-1-6-2-3-1-6-1-6 0-6 2-3 0-6 0-3 0-6-1-6-2-3-1-4-2-5-2-3-1-3-1" fill="none" stroke="#1e1e1e" stroke-width="27" stroke-dasharray="9 3 5 3 14 4 6 2"/>
<path d="M505,342l5 0 3 0 6 3 3 2 3 3 3 2 3 3 3 4 2 4 2 3 2 6 2 3 1 4 2 5 1 6 1 3 0 6 1 6 1 6 0 3 1 6 1 6 1 6 0 6-1 6 0 6 1 6-1 6-1 6-1 6 0 3 0 6 0 6 0 5 0 4 1 6 0 6 1 6 0 6 0 6-1 6 0 6-1 5-1 4-1 6-1 4-1 5-2 6-1 3-2 3-3 6-1 3-2 4-2 5-1 4-1 5-2 4-2 5-2 3-2 3-6 3-6 0-6-3-3-3-3-3-3-3-2-3-2-3-2-3-3-6-2-3-3-3-2-3-2-3-3-5-2-4-3-3-4-3-6 0-3-2-2-4-2-3-3-3-5-3-3-3-2-3-1-6 0-3-2-6-2-3-2-3-3-6-2-3-2-3-2-3-3-6 0-3-2-6-2-3-2-4 0-4 1-4 2-3 3-4 2-5-1-6 0-6-1-6 0-6 3-5 2-4 1-4 2-5 2-3 2-5 3-3 3-1 6 0 3 0 3-1 3-2 2-6 1-3 3-4 3-2 3-3 4-3 3-3 3-3 2-3 3-5 2-4 1-3 2-6 2-3 2-3 3-4 3-4 3-3 3-2 4-2zM0,447l6-2 3-1 3-3 3-4 3-3 3-2 6-2 6 0 6 0 6 2 3 2 3 1 6 2 6 0 6-1 3-1 4-3 3-3 5-3 3-2 3-2 4-2 5-3 3-1 6-2 6 0 6 2 3 1 6 3 3 2 3 1 6 0 3 0 6-3 3-1 6-1 6 0 6 0 6 1 6-2 3-1 6-1 3-1 4-3 5-3 3-2 6 0 6 0 6 1 6 1 3 1 6 0 4-1 5-1 6-1 3-1 6-2 6-1 3-1 6-2 3-1 6 1 3 2 3 2 3 2 4 3 4 3 3 3 4 3 3 2 3 1 6 2 3 2 4 2 3 3 2 3 3 3 5 3 3 3 2 3 2 6 1 3 3 3 3 3 3 3 2 3 3 3 3 3 4 3 4 3 2 3 2 4 3 5 2 3 3 3 4 3 3 3 2 3 0 6 0 6-1 6-1 3-3 3-3 5-1 4-1 6-1 3-3 4-3 3-3 4-3 3-3 4-2 3-3 3-3 3-3 3-4 3-3 3-3 3-2 3-2 3-4 3-4 2-3 2-4 2-5 2-3 1-6 2-3 1-6 2-3 1-6 1-6 1-6 0-6 0-3 1-6 1-6-1-3 0-3 0-6 1-6 0-6 2-3 0-6 1-6 0-3-1-6-1-6 0-6 1-3 1-4 2-5 2-3 1-6 2-6 1-3 0-6 0-3 0-6-2-6 0-6 0-6 0-6-1-3 0-6-1-6 0-6 0-6 1-3 1-6 1-6-2-3-1-6-1-5-1-4-1-6-2-3-1-6-2-3-1-6-1-6 0-6 2-3 0-6 0-3 0-6-1-6-2-3-1-4-2-5-2-3-1-3-1" fill="#e4e4e4" stroke="#fff" stroke-width="13"/>
<path d="M0,469l3-1 6-2 3-1 6-2 6-1 3 0 6-2 3-3 3-3 6-1 6 0 6 0 6 0 3 0 6-1 6-1 6 0 6-1 3-1 3-2 6-3 3-2 3-3 3-3 3-2 6 0 3 1 6 2 6 0 5 1 4 1 6 0 6 0 5-1 4-1 6-2 3-1 6-2 3-1 6 0 6 0 6 1 6-1 6-2 3-1 3-2 6-2 4-1 5-1 6-2 3-1 6-1 3-1 6-1 6-1 6 0 5 2 4 2 3 2 6 2 6-1 5 1 4 2 3 3 3 2 4 2 5 2 3 2 3 4 2 4 3 3 4 3 3 2 3 4 2 3 1 4 2 5 2 3 3 3 3 3 2 3 3 6 2 3 1 3 1 6 1 6 0 6 0 6 1 3 1 6 2 6 1 3-1 6-2 3-2 3-2 3-3 5-3 4-1 3-2 3-3 3-4 3-3 3-2 4-3 5-3 3-3 2-3 1-5 3-3 3-4 2-3 1-6 2-3 1-6 2-6-1-6 0-4-1-5-1-6-1-6 0-6 2-3 0-6 2-5 1-4 2-3 2-6 0-4-1-5-1-6-2-6 0-6 2-3 1-6 2-3 1-6 1-6 1-6 1-6-1-6-1-6 0-6 0-6 1-6 1-6-1-6 0-6 1-3 0-6 1-6-1-3-1-6-2-3 0-6-1-6-1-4-1-5-1-6-2-3 0-6-2-6-1-6 1-6 0-6-1-3 0-6-2-3-1-5-3-4-2-4-1-5-2-3-1" fill="#f6f6f6"/>
<path d="M0,520l4-1 5-2 3-2 3-4 2-4 2-3 2-5 3-4 3 0 6-1 3-2 3-5 3-4 2-3 4-3 3-3 3-1 6-2 3-1 6 0 6-1 3-2 4-2 5-1 6 0 6-1 4-1 5-2 3-1 6-2 3-1 6-2 5-1 4 0 3 1 6 1 5 1 4 0 3-1 3-2 6-2 6 0 6 2 3 0 5 3 4 2 6 1 4 0 5 2 6 0 6 0 6-1 3-2 3-2 5-3 2-3 2-3 3-5 1-4 2-3 4-3 5-2 4-1 5-1 6 0 4 1 5 3 3 3 3 2 3 2 4 2 5 1 6 0 4 2 3 3 3 3 2 3 3 5 2 4 3 3 4 3 3 2 3 3 3 2 3 4 2 4 2 3 1 6 1 3 3 6 0 6 0 6-1 6 0 6-1 6-3 3-3 3-2 3-1 6-1 5-1 4-2 4-3 5-1 3-2 6-3 2-3 2-4 2-5 2-3 1-5 3-3 3-4 1-6 0-3-1-6-1-6-1-6-1-3-1-6 0-3 2-3 2-6 2-4 1-5 2-5 1-2 0-5-1-6-2-6 1-6 1-6 1-3 1-6 0-6 1-6 0-6-2-3-2-3-1-6-2-6-1-6 3-3 3-2 3-3 3-4 1-6 0-6 0-5 2-4 1-6 1-4-2-3-3-5-3-3-1-6-2-3-1-6-1-6-1-3 0-6-2-5-1-4 0-6 0-3 0-3 0-6-2-3-2-6-2-3-1-6-2-3-1-6-2-3-1-4-2-5-2" fill="#ececec"/>
<path d="M258,441l3-2 6 1 3 2 3 3 3 3 3 2 6 1 6-1 3 0 3 0 6 3 3 3 2 3 2 3 2 4 3 4 3 3 3 3 3 2 3 3 3 5 1 3 2 5 1 4 2 6-1 6 0 6-2 6-1 3-2 4-3 4-3 4-1 3-3 3-2 4-2 5 0 6-1 3-3 4-3 3-3 3-4 2-5 1-6 2-6-1-6 0-6 1-6 0-4 0-5 1-5 2-4 2-5 1-4 0-6 1-6 1-6 0-6 0-4 1-5 1-6 0-6 1-6 0-6-1-3-2-6-1-6-1-3 0-6-1-6 0-4 1-5 3-3 3-3 3-3 2-6 0-6 1-3 1-6 0-3-1-6-2-3-1-6-1-4-2-5-2-3-1-6 0-6-2-3-2-3-5-3-1-5 1-4 1-6 1-6 0-5-2-3-3-2-3-2-3-6-1-5 1-4 0-3-1-4-2-3-3-2-3 0-6 2-3 1-3 0-6 3-5 3-4 2-3 2-3 3-3 2-3 3-5 2-4 3-3 4-2 6 1 3 2 3 2 3 3 5 0 4-2 3-2 5-2 3-3 2-3-1-6 1-6 3-3 4-3 4-3 3-2 3-3 3-2 4-2 5-1 6 0 5-2 4-2 3-1 6 0 3 0 5 0 4-1 6 0 4 1 5 3 3 1 6 2 6-2 3-3 3-2 6 0 3 1 4 3 4 3 4 3 2 3 4 2 6-1 5-1 4 0 6-1 6 1 6-1 6-2 3-1 5-2 3-3 2-3-1-5 0-3 2-4 2-3 2-3 3-6zM54,486l3-2 3 1 1 1-1 3 0 1-1 2-2 3-3 0-1-3 0-3 1-3z" fill="#dcdcdc"/>
<path d="M286,462l5-1 5 1 4 3 2 3 2 3 2 4 2 5 1 3 2 6 1 4 3 5 3 2 3 3 3 3 2 4 0 6-2 4-3 2-6 1-3 2-3 4-1 5 0 6-2 4-3 2-6 2-3 1-6 3-2 3-4 2-6 0-3 3-3 3-3 3-3 1-6 3-3 1-6 2-4 0-5 0-6 1-5-1-4-1-6 0-3 2-4 2-5 1-4-1-5-2-3-1-6 0-3 1-6 0-5-1-4-2-3-1-6 0-3 0-6 2-3 2-5 2-4 2-3 1-5 3-4 2-6 1-6-2-3-2-6-2-6 0-3-1-3-2-5-3-4-1-6-1-5-1-4-1-3-2-6-3-3-1-5 1-4 1-5-1-4-3-1-3 1-4 0-5-1-3-2-4-1-5 1-6 3-2 6 1 6 0 6-2 3 0 6-2 3-2 6-1 3-1 3-3 1-6 0-6 1-6 3-3 4-3 2-3 1-3 3-5 6 1 6 1 3 0 3 0 5-3 4-2 3-2 6-2 3 0 3 0 6 3 3 3 3 2 3 2 6 1 3 2 4 2 5 3 3 0 6 1 5-1 4-1 6-1 6-1 6 1 6 2 3 2 4 1 3 0 5-3 3-3 3-2 3-1 6-3 3 0 6-2 3-1 4-3 3-3 2-5 1-4 2-3 6-2 6 0 4-1z" fill="#c6c6c6"/>
<path d="M197,501l4-1 6 0 3 1 5 3 4 3 3 1 6 2 6-1 6-1 6 2 6 0 6-1 6-2 3-2 3-1 3 0 1 6 2 6 3 3 3 0 3 0 6-1 5 1 2 3 1 6-2 6-3 2-3 1-6 0-6 0-5 3-2 3-2 3-3 5-3 4-2 3-4 3-3 2-3 2-6 1-6 0-6 0-6-1-5-1-4 0-3 1-5 2-4 0-3-1-3-2-6-2-6 1-6 0-4-2-5-3-3-1-6 0-6 1-3 0-5 3-3 3-3 3-4 2-6 0-4 1-5 1-3-2-5-2-4-3-3-3-3-3-3 0-3 3-3 0-2-3 2-4 3-2 3-4 1-5 0-6 1-6 0-6 1-4 3-3 3-2 5-3 4-2 3-2 3-2 6-2 4-1 5-1 6 0 3 4 1 3 2 6 1-6 2-5 3-3 6 0 5 2 4 1 6 0 4-1 5-2 5-1zM74,537l4-3 6 2 3 3 3 4 0 3 0 3-4 3-5 3-3 1-6 1-6-1-3-1-3-3-1-6 2-3 5-2 4-1 4-3z" fill="#bebebe"/>
<path d="M193,510l5-2 6 0 5 2 4 3 3 2 1 4-1 3 0 3 6 3 3 1 6 0 2-4 3-3 4 0 3 0 5 0 4-2 6 2 2 3 1 6-2 6 0 6-1 5-2 4-4 3-3 1-6 2-3 1-6 0-4-1-3-3-5-2-3 3-3 2-6 0-3-2-3-2-6 0-5 1-4 0-3 0-5-3-4-3-2-3-1-4-2-5-3-3-2-3 1-5 3-3 3-4 3-1 6 0 3-2 4-3 3-3zM134,513l4-2 6 1 1 4 1 6 1 5 1 4 2 3 3 5 1 4 1 6-2 3-3 3-5 3-4 1-6 0-5 2-4 2-5-2-2-3-2-6-1-3-2-5-1-4 0-6 2-3 2-4 3-2 6-3 3-3 2-3 3-3zM204,527l-3 1 1 3 2 3 3-2 0-1 1-3-1-1-3 0z" fill="#d2d2d2"/>
<path d="M201,513l1 0 2 0 3 3-3 2-3 0-2-2 2-3zM134,519l4-3 3 3 2 6-1 6 0 6 1 6 2 3 1 6-5 2-6 0-6 1-6-2-2-4-2-3-2-4-1-5 2-3 2-3 5-3 4-3 2-3 3-3zM240,528l1 0 5 1 3 2 0 6-1 3-1 6-1 3-4 3-5 2-5-2-3-3-4-3-3-1-6-1-3-4 1-6 5-2 3 2 4 3 4 0 4-3 2-3 4-3z" fill="#e8e8e8"/>
<path d="M501,354l6-3 6 1 5 2 4 3 3 2 3 3 3 3 2 4 2 3 2 5 2 4 1 3 1 6 1 6 1 6 0 3 1 6 1 6 1 6 1 3 0 6 0 6 0 6 0 6 0 6-1 6 0 3-2 6-1 6 0 6 1 6 0 6 0 6 1 6 1 6 0 3 1 6-1 6 0 3 0 6-1 6-1 6-1 3-1 6-2 5-1 4-2 3-3 5-2 4-2 3-2 4-3 5-2 3-2 3-2 5-3 4-3 1-4-1-3-3-5-3-3-2-3-3-3-4-3-3-2-3-2-3-2-4-3-5-1-3-1-6-1-6-1-3-1-6-1-3-2-6-2-3-3-3-2-4-1-5-1-6 0-6-2-3-5-3-3 0-6-3-2-3-1-4-2-5-1-3 0-6 2-3 4-3 2-3 1-3 2-6 3-3 2-3 2-5 1-4 1-6 1-3 3-6 1-3 2-3 3-5 1-4 1-6 1-3 2-6 1-3 1-6 2-6 2-3 2-3 2-4 2-5 2-3 2-5 2-4 2-3 2-3 3-3z" fill="#e0e0e0"/>
<path d="M509,363l4-1 4 1 5 3 3 2 3 4 2 3 2 3 2 4 2 5 1 6 0 3 1 6 0 6 1 6 1 6 1 3 1 6 0 6 0 6 0 6 0 6 0 6-1 6-1 3-1 6-1 6 1 6 0 6 0 6 1 6 0 3 1 6 1 6 0 6 0 6-1 6 0 6-1 3-2 6-1 4-2 5-1 3-3 5-3 4-2 3-1 3-3 4-3 4-3 3-3 2-6 0-3-1-5-3-3-3-3-3-3-3-1-3-3-6-1-3-1-6-1-6 0-3-1-6-1-6-1-6 0-3-1-6 1-6-1-6 0-6 0-6-1-6 0-6-1-3-1-6 1-6-1-6 1-6 0-3 0-3-2-6-1-6 1-6 2-4 2-5 1-4 1-5 1-6 1-6 0-3 2-6 1-6 1-3 2-3 3-4 2-5 2-3 2-3 3-3 3-3 5-3z" fill="#b4b4b4"/>
<path d="M506,372l4-2 6-1 6 3 2 3 3 3 2 3 2 3 2 6 1 6 0 3 0 6 0 6 1 6 2 6 1 3 1 6 0 6 0 6 0 6 0 6-1 6-1 4-1 5-1 6 0 6 0 6 1 6 0 6 1 6 0 3 1 6 1 6 0 6-1 6 0 6-1 6-1 3-2 5-1 4-2 4-3 5-2 3-2 3-3 3-2 3-3 3-5 3-4 0-3-1-5-2-4-3-2-3-2-3-2-6 0-3-1-6-1-6 0-6-1-5 0-4 0-6-1-6 0-6-1-6 0-6 0-6-1-6 0-6 0-3 0-3 0-6 0-6 0-3 0-5 0-4-1-3-2-6 0-3 0-5 1-4 1-6 1-3 2-6 1-6 0-5 0-4 2-6 1-4 2-5 1-3 3-5 2-4 2-3 3-3 4-3z" fill="#6c6c6c"/>
<path d="M506,378l4-2 6 0 3 2 4 3 3 3 2 4 1 5 2 6 0 5 0 4 1 6 1 6 1 4 2 5 1 6 0 6-1 6 0 6 0 6-2 6-1 3-1 6 0 6 0 6 0 6 1 6 1 6 0 3 1 6 0 6 1 6 0 6 0 6-1 6-1 4-2 5-2 3-2 6-2 3-2 3-2 3-3 4-3 3-3 2-6 1-6-1-3-2-3-3-2-4-1-6 0-3-1-6-1-6 0-6-1-6 1-6-1-6 0-3-1-6-1-6 0-6 0-6 0-6 0-6 1-6 0-6 0-6 0-6-1-6-1-3-2-6 0-6 1-6 1-4 2-5 1-5 0-4 0-6 1-6 2-6 1-3 2-4 3-5 2-3 2-3 4-3z" fill="#222"/>
<path d="M505,390l5-3 5 3 2 3 2 3 3 5 2 4 1 5 1 4 0 6 2 6 2 3 1 4 1 5-1 5-1 4-1 6 0 6-1 5-1 4-1 6-1 4-1 5 0 6 1 4 2 5 1 6 0 3 1 6 0 6 1 6 0 6 0 6-1 6-1 4-3 5-2 3-1 3-3 6-2 3-3 3-4 2-6 0-3-3-2-5-1-6 0-3-1-6-1-6 1-6 0-6 0-6-1-6-1-3-2-6 0-6 0-6 1-6 1-6 1-3 0-6 1-6 0-6-1-6-2-3-2-5-1-4-1-6 1-6 1-3 2-6 1-6 0-3 1-6 1-6 1-3 3-6 2-3 2-3z" fill="#5c5c5c"/>
<path d="M506,402l4-1 3 1 4 3 2 3 2 6 1 6 1 3 2 4 2 5 1 3 0 3-2 6-1 3 0 6 0 6-2 6-1 6-1 3-2 6-1 3-1 6 2 4 3 5 1 3 1 6 1 3 0 6 0 3 0 5 1 4 0 6 0 6-1 3-3 5-3 4-2 3-1 4-2 5-4 2-5-2-2-3-1-6-1-6 0-3-1-6 1-4 1-5 0-6-1-6-2-3-1-3-1-6 1-6 0-3 1-6 1-6 1-6 0-3 0-6 1-6-1-5-1-4-2-4-3-5-1-3 0-6 1-3 2-6 1-6 0-3 2-6 1-4 2-5 3-3z" fill="#8e8e8e"/>
<path d="M506,408l4-2 4 2 3 3 2 6 0 3 3 6 2 3 1 3 1 6-2 3-2 4-2 5 1 6 0 6-2 6-2 3-1 4-2 5-3 3-4 1-2-4-1-6 1-6 1-6-1-6-1-3-3-4-3-4-2-4 1-6 1-3 1-6 1-6 1-3 3-6 2-3zM504,492l6-1 3 2 3 3 3 4 2 4 1 3 1 6-1 6 0 6 1 6 0 6-1 6-2 3-2 3-2 3-3 4-3 5-4-3-2-6 0-3-1-6 0-6 1-6 0-3 1-6-1-4-3-5-1-3 0-6 1-3 2-6 1-3z" fill="#b0b0b0"/>
<path d="M501,354l6-3 6 1 5 2 4 3 3 2 3 3 3 3 2 4 2 3 2 5 2 4 1 3 1 6 1 6 1 6 0 3 1 6 1 6 1 6 1 3 0 6 0 6 0 6 0 6 0 6-1 6 0 3-2 6-1 6 0 6 1 6 0 6 0 6 1 6 1 6 0 3 1 6-1 6 0 3 0 6-1 6-1 6-1 3-1 6-2 5-1 4-2 3-3 5-2 4-2 3-2 4-3 5-2 3-2 3-2 5-3 4-3 1-4-1-3-3-5-3-3-2-3-3-3-4-3-3-2-3-2-3-2-4-3-5-1-3-1-6-1-6-1-3-1-6-1-3-2-6-2-3-3-3-2-4-1-5-1-6 0-6-2-3-5-3-3 0-6-3-2-3-1-4-2-5-1-3 0-6 2-3 4-3 2-3 1-3 2-6 3-3 2-3 2-5 1-4 1-6 1-3 3-6 1-3 2-3 3-5 1-4 1-6 1-3 2-6 1-3 1-6 2-6 2-3 2-3 2-4 2-5 2-3 2-5 2-4 2-3 2-3 3-3zM0,469l3-1 6-2 3-1 6-2 6-1 3 0 6-2 3-3 3-3 6-1 6 0 6 0 6 0 3 0 6-1 6-1 6 0 6-1 3-1 3-2 6-3 3-2 3-3 3-3 3-2 6 0 3 1 6 2 6 0 5 1 4 1 6 0 6 0 5-1 4-1 6-2 3-1 6-2 3-1 6 0 6 0 6 1 6-1 6-2 3-1 3-2 6-2 4-1 5-1 6-2 3-1 6-1 3-1 6-1 6-1 6 0 5 2 4 2 3 2 6 2 6-1 5 1 4 2 3 3 3 2 4 2 5 2 3 2 3 4 2 4 3 3 4 3 3 2 3 4 2 3 1 4 2 5 2 3 3 3 3 3 2 3 3 6 2 3 1 3 1 6 1 6 0 6 0 6 1 3 1 6 2 6 1 3-1 6-2 3-2 3-2 3-3 5-3 4-1 3-2 3-3 3-4 3-3 3-2 4-3 5-3 3-3 2-3 1-5 3-3 3-4 2-3 1-6 2-3 1-6 2-6-1-6 0-4-1-5-1-6-1-6 0-6 2-3 0-6 2-5 1-4 2-3 2-6 0-4-1-5-1-6-2-6 0-6 2-3 1-6 2-3 1-6 1-6 1-6 1-6-1-6-1-6 0-6 0-6 1-6 1-6-1-6 0-6 1-3 0-6 1-6-1-3-1-6-2-3 0-6-1-6-1-4-1-5-1-6-2-3 0-6-2-6-1-6 1-6 0-6-1-3 0-6-2-3-1-5-3-4-2-4-1-5-2-3-1M504,360l3-2 6-1 6 3 3 2 3 2 3 3 3 4 2 4 2 3 2 6 1 3 1 6 1 6 0 3 1 6 0 6 2 6 0 3 1 6 0 6 0 6 0 6 0 6 0 6-1 5-1 4-1 6 0 6 0 6 0 6 0 6 1 6 1 6 0 3 1 6 0 6-1 6 0 6 0 3-1 6-2 6 0 3-2 6-1 3-3 5-2 4-2 3-2 3-3 5-3 4-2 3-3 3-4 3-3 1-3-1-6-3-3-2-3-3-3-3-3-4-2-3-1-3-3-6-1-3 0-6-2-6 0-3-2-6 0-6-1-3-2-6 0-6 0-6-1-6 0-6 1-6-1-5-1-4-2-3-6-2-3-1 2-3 4-3 1-3 1-6 0-6 1-3 1-6-1-3-1-6 0-6 1-4 2-5 2-3 2-6 0-3 1-6 2-6 1-3 1-6 1-6 1-3 2-3 3-5 2-4 1-3 3-5 3-4 3-3 3-3zM0,514l2-4-1-6 0-6 0-6 2-4 3-2 6-2 3-2 3-2 3-4 6-2 6 0 3 0 4-3 3-3 5-2 3-1 6-2 6-1 6 1 3-1 6-3 3-1 6 0 6 0 6-1 3-2 4-2 5-2 3-1 6-2 4-1 5-2 6 0 4 2 5 1 6-1 3-1 6 0 6-2 3-1 6-1 6 0 6 1 3 2 3 2 5 0 4-2 3-2 6-2 3 0 6-2 3-2 3-2 5-3 4-2 3-1 6-3 3-1 6-2 3-1 6 0 6 0 4 1 5 2 3 2 3 2 4 3 5 3 3 0 3 0 4 0 5 2 3 2 3 3 3 4 2 4 1 3 3 4 3 2 6 3 3 3 2 3 1 3 3 4 3 3 3 4 2 4 1 3 3 6 1 3 0 6 0 6 1 6 1 5 1 4-1 6-1 3-2 4-3 4-3 2-3 3-2 5-1 3-2 6-2 3-2 5-1 4-2 4-3 3-4 2-5 3-3 1-5 2-4 3-3 3-3 1-6 1-6-1-3-1-6-2-6-1-3 0-6-1-4 1-5 3-3 1-6 1-4 1-5 3-3 1-6 0-3-1-6-2-3-1-6 0-3 1-6 1-6 1-3 0-6 2-6 1-6 0-5-3-4-3-6 1-3 2-6 3-3 1-4 2-5 0-5 0-4 0-3 0-6 1-6 2-6-1-4-2-5-3-3-1-6-1-3-1-6-2-6-1-3 0-6-2-6 0-4-1-5 0-3 0-5 0-4-1-5-2-4-1-5-2-4-2-3-2-6-2-3-1-4-2-5-2M509,363l4-1 4 1 5 3 3 2 3 4 2 3 2 3 2 4 2 5 1 6 0 3 1 6 0 6 1 6 1 6 1 3 1 6 0 6 0 6 0 6 0 6 0 6-1 6-1 3-1 6-1 6 1 6 0 6 0 6 1 6 0 3 1 6 1 6 0 6 0 6-1 6 0 6-1 3-2 6-1 4-2 5-1 3-3 5-3 4-2 3-1 3-3 4-3 4-3 3-3 2-6 0-3-1-5-3-3-3-3-3-3-3-1-3-3-6-1-3-1-6-1-6 0-3-1-6-1-6-1-6 0-3-1-6 1-6-1-6 0-6 0-6-1-6 0-6-1-3-1-6 1-6-1-6 1-6 0-3 0-3-2-6-1-6 1-6 2-4 2-5 1-4 1-5 1-6 1-6 0-3 2-6 1-6 1-3 2-3 3-4 2-5 2-3 2-3 3-3 3-3 5-3zM0,520l4-1 5-2 3-2 3-4 2-4 2-3 2-5 3-4 3 0 6-1 3-2 3-5 3-4 2-3 4-3 3-3 3-1 6-2 3-1 6 0 6-1 3-2 4-2 5-1 6 0 6-1 4-1 5-2 3-1 6-2 3-1 6-2 5-1 4 0 3 1 6 1 5 1 4 0 3-1 3-2 6-2 6 0 6 2 3 0 5 3 4 2 6 1 4 0 5 2 6 0 6 0 6-1 3-2 3-2 5-3 2-3 2-3 3-5 1-4 2-3 4-3 5-2 4-1 5-1 6 0 4 1 5 3 3 3 3 2 3 2 4 2 5 1 6 0 4 2 3 3 3 3 2 3 3 5 2 4 3 3 4 3 3 2 3 3 3 2 3 4 2 4 2 3 1 6 1 3 3 6 0 6 0 6-1 6 0 6-1 6-3 3-3 3-2 3-1 6-1 5-1 4-2 4-3 5-1 3-2 6-3 2-3 2-4 2-5 2-3 1-5 3-3 3-4 1-6 0-3-1-6-1-6-1-6-1-3-1-6 0-3 2-3 2-6 2-4 1-5 2-5 1-2 0-5-1-6-2-6 1-6 1-6 1-3 1-6 0-6 1-6 0-6-2-3-2-3-1-6-2-6-1-6 3-3 3-2 3-3 3-4 1-6 0-6 0-5 2-4 1-6 1-4-2-3-3-5-3-3-1-6-2-3-1-6-1-6-1-3 0-6-2-5-1-4 0-6 0-3 0-3 0-6-2-3-2-6-2-3-1-6-2-3-1-6-2-3-1-4-2-5-2M507,369l3-2 6-1 5 3 3 3 3 3 2 3 2 3 3 6 0 3 1 6 1 6 0 6 0 6 1 4 2 5 1 6 0 3 1 6-1 6 0 3 0 6 0 6-1 6-2 6 0 3-1 6 1 6 0 6 0 6 0 3 1 6 1 6 1 6 0 6 0 6-1 6 0 6-2 6-1 3-2 6-1 3-2 4-3 5-3 3-2 3-2 3-2 3-3 3-6 3-6-1-4-2-4-3-3-3-2-3-2-5-1-4-1-6-1-6 0-3-1-6-1-6 0-6-1-6 0-3 0-6 0-6-1-6 0-6 0-6-1-6 0-6 0-6 0-6-1-6 1-6-1-4-2-5 0-6 1-6 1-3 2-6 1-4 1-5 0-6 1-6 1-5 1-4 2-6 1-3 2-3 3-5 2-4 2-3 3-3 5-3zM0,528l6-2 3-1 4-3 3-3 3-3 2-4 3-4 2-4 4-2 6-1 4 0 5-3 1-3 1-6 1-3 3-5 3-2 6-1 5-1 4 0 6-1 6-2 3-1 3-2 6-2 5-1 4-1 6-1 3-2 5-2 4-1 6 0 6-1 6-1 6 2 3 1 6 3 3 0 3-1 3-2 4-3 5 0 3 0 6 2 3 2 3 2 6 2 4 1 5 2 3 1 6 1 6-1 6 0 6 1 3-1 6-2 3-3 1-4 2-5 2-4 3-3 3-3 1-4 1-5 4-3 4-1 6 0 3 2 3 2 4 3 3 3 5 3 3 0 6 0 6 1 4 2 3 3 2 3 3 5 2 4 3 3 3 3 4 3 3 3 3 2 3 4 1 3 2 6 1 3 2 6 1 3-1 5-1 4 0 6-2 6-1 3-2 3-3 4-3 5-1 3-2 5-3 4 0 3-2 6-1 3-3 5-3 3-3 3-4 1-5 2-4 1-5 2-6-1-6 0-6 1-6-1-3-1-5 0-4 2-3 1-6 3-3 0-6 2-6 0-6 0-6-1-6 1-3 1-6 1-6 1-6 1-6 0-6-2-3-1-6-2-6-1-3-1-6-1-6 1-3 2-3 3-3 4-3 2-6 1-6 0-3 1-6 3-3 0-3-1-3-2-5-3-4-1-6-2-3-1-5-2-4-1-6 0-6-2-3-2-3-2-6 0-4 1-5 1-4-1-5-2-3-1-5-3-4-2-3-1-6-1-6-1-3-2-4-2-5-2M506,372l4-2 6-1 6 3 2 3 3 3 2 3 2 3 2 6 1 6 0 3 0 6 0 6 1 6 2 6 1 3 1 6 0 6 0 6 0 6 0 6-1 6-1 4-1 5-1 6 0 6 0 6 1 6 0 6 1 6 0 3 1 6 1 6 0 6-1 6 0 6-1 6-1 3-2 5-1 4-2 4-3 5-2 3-2 3-3 3-2 3-3 3-5 3-4 0-3-1-5-2-4-3-2-3-2-3-2-6 0-3-1-6-1-6 0-6-1-5 0-4 0-6-1-6 0-6-1-6 0-6 0-6-1-6 0-6 0-3 0-3 0-6 0-6 0-3 0-5 0-4-1-3-2-6 0-3 0-5 1-4 1-6 1-3 2-6 1-6 0-5 0-4 2-6 1-4 2-5 1-3 3-5 2-4 2-3 3-3 4-3zM258,441l3-2 6 1 3 2 3 3 3 3 3 2 6 1 6-1 3 0 3 0 6 3 3 3 2 3 2 3 2 4 3 4 3 3 3 3 3 2 3 3 3 5 1 3 2 5 1 4 2 6-1 6 0 6-2 6-1 3-2 4-3 4-3 4-1 3-3 3-2 4-2 5 0 6-1 3-3 4-3 3-3 3-4 2-5 1-6 2-6-1-6 0-6 1-6 0-4 0-5 1-5 2-4 2-5 1-4 0-6 1-6 1-6 0-6 0-4 1-5 1-6 0-6 1-6 0-6-1-3-2-6-1-6-1-3 0-6-1-6 0-4 1-5 3-3 3-3 3-3 2-6 0-6 1-3 1-6 0-3-1-6-2-3-1-6-1-4-2-5-2-3-1-6 0-6-2-3-2-3-5-3-1-5 1-4 1-6 1-6 0-5-2-3-3-2-3-2-3-6-1-5 1-4 0-3-1-4-2-3-3-2-3 0-6 2-3 1-3 0-6 3-5 3-4 2-3 2-3 3-3 2-3 3-5 2-4 3-3 4-2 6 1 3 2 3 2 3 3 5 0 4-2 3-2 5-2 3-3 2-3-1-6 1-6 3-3 4-3 4-3 3-2 3-3 3-2 4-2 5-1 6 0 5-2 4-2 3-1 6 0 3 0 5 0 4-1 6 0 4 1 5 3 3 1 6 2 6-2 3-3 3-2 6 0 3 1 4 3 4 3 4 3 2 3 4 2 6-1 5-1 4 0 6-1 6 1 6-1 6-2 3-1 5-2 3-3 2-3-1-5 0-3 2-4 2-3 2-3 3-6zM54,486l3-2 3 1 1 1-1 3 0 1-1 2-2 3-3 0-1-3 0-3 1-3zM507,375l3-2 6-1 5 3 2 3 3 3 3 3 2 6 0 3 1 6 1 6 0 6 1 6 0 3 2 6 1 3 1 6 0 6-1 6 0 6 0 5-1 4-1 6-1 4-1 5 1 6 0 6 0 4 0 5 1 6 1 6 1 6 0 5 0 4 0 6 0 3 0 6-1 6-2 4-2 5-1 3-3 6-2 3-2 3-2 3-3 3-3 3-5 3-4 1-3-1-6-3-3-3-2-3-1-3-2-6 0-6-1-6 0-3-1-6 0-6 0-6-1-6 0-6-1-6 0-3-1-6 0-6 0-6 0-6 1-6 0-3 0-4 0-5 0-6-1-6-2-5-1-4 0-6 1-4 1-5 2-6 1-3 1-6 0-6 1-6 0-3 2-6 2-3 2-4 3-5 2-3 2-3 5-3zM260,450l4-3 6 3 3 2 3 1 6 2 6-1 6-1 6 2 3 2 3 4 2 4 2 3 2 3 3 4 3 4 2 4 2 3 3 3 2 3 3 6 0 3 1 6 1 6-1 6-1 3-3 5-3 4-3 2-3 4-1 3-2 4-2 5-2 3-2 6-3 3-2 3-3 3-4 2-3 1-6 1-4-1-5 0-3 0-6 2-6 1-3 0-6 2-3 1-6 2-6 1-3 0-6 1-6 0-6 0-6 2-3 1-6 0-6-1-6 0-3 0-6-1-6-1-5-1-4-1-6-1-6 1-6 1-3 1-4 2-3 3-4 3-4 2-6 0-6 1-1 0-5-1-6-2-3 0-6-1-6-2-3-2-3-2-6-1-6 0-3-2-3-4-3-2-6-1-6 1-6 1-3 0-4 0-4-3-2-3-2-5-3-4-3-2-6 2-3 1-3-1 0-6 2-3 3-3 4-3 1-3-1-6 3-6 2-3 1-3 0-3 0-4 3-3 5 1 4 3 3 2 3 1 6 0 3-1 6-2 3-1 4-2 3-3 2-3 1-6 0-6 2-4 3-2 4-3 2-3 3-5 3-3 3-2 6 0 4 1 5 1 3-2 3-3 6 0 6 1 6-2 6-1 6 3 3 1 5 2 4 1 6 2 3 0 3-1 3-5 3 0 3 3 2 3 2 3 2 4 3 2 6 1 4-1 5-2 3-2 6-1 6 1 6 1 6-3 3-1 6-1 3-1 6-1 4-2 3-3 1-6-1-6 1-6 3-3zM506,378l4-2 6 0 3 2 4 3 3 3 2 4 1 5 2 6 0 5 0 4 1 6 1 6 1 4 2 5 1 6 0 6-1 6 0 6 0 6-2 6-1 3-1 6 0 6 0 6 0 6 1 6 1 6 0 3 1 6 0 6 1 6 0 6 0 6-1 6-1 4-2 5-2 3-2 6-2 3-2 3-2 3-3 4-3 3-3 2-6 1-6-1-3-2-3-3-2-4-1-6 0-3-1-6-1-6 0-6-1-6 1-6-1-6 0-3-1-6-1-6 0-6 0-6 0-6 0-6 1-6 0-6 0-6 0-6-1-6-1-3-2-6 0-6 1-6 1-4 2-5 1-5 0-4 0-6 1-6 2-6 1-3 2-4 3-5 2-3 2-3 4-3zM264,456l4 0 5 1 6 2 6-1 6-1 6 0 3 2 3 3 3 5 2 4 2 3 2 3 2 6 1 5 2 4 2 3 3 3 3 3 2 4 1 5 1 6-2 6-2 3-4 2-3 1-4 3-1 6-1 4-2 5-2 3-3 3-4 3-2 3-2 3-3 3-6 2-6-1-6 0-4 2-5 2-3 1-6 2-3 1-6 2-6 1-6 0-3 0-6 1-3-1-6 0-3 1-4 2-5 1-6-1-3-1-6-1-6 0-6 0-6-1-3-1-6-2-6 1-6 1-3 1-6 3-3 2-3 2-3 2-6 2-6 1-6-1-5-2-4-1-6 0-6-2-3-3-3-1-4-2-5-1-6-1-3-2-3-2-6-3-3 0-3 0-6 2-6 0-5-2-2-3-2-4-1-5 0-6-2-6-1-3-1-6 2-5 3-4 3-3 3-1 3 2 6 2 6-1 4-2 5-1 6-1 4-1 3-3 1-6 1-6 0-3 3-6 3-2 3-3 2-4 1-6 3-3 3-1 3 1 5 3 4 2 6-1 3-2 3-2 6-2 3-1 6-1 6 1 3 1 5 2 4 2 3 1 5 3 4 3 3 3 3 1 6 1 6 1 6-1 6-1 5-1 4-2 6 1 3 1 6 2 6-2 3-2 3-2 4-2 5-2 6-1 3 0 6-3 3-3 1-3 0-6 0-6 2-3zM505,381l5-2 6 0 3 2 3 3 3 4 2 5 1 3 1 6 1 6 0 6 1 5 1 4 2 6 1 3 1 6-1 6-1 6 0 6 0 4-1 5-2 6 0 3-1 6 0 6 1 6 0 3 1 6 1 6 0 6 1 6 0 3 1 6 0 6-1 6 0 3-2 6-2 3-2 5-2 4-2 3-2 4-3 4-3 3-3 2-6 1-6-1-3-2-3-5-1-3-1-6-1-6 0-6 0-3-1-6 0-6 0-6 0-6-1-6-1-4-1-5 0-6 0-6 1-6 0-3 1-6 0-6 0-6 0-6-1-5-2-4-1-4-1-5 1-6 0-3 2-6 1-3 1-6 1-6 0-6 1-4 2-5 1-3 3-6 2-3 2-3 3-3zM286,462l5-1 5 1 4 3 2 3 2 3 2 4 2 5 1 3 2 6 1 4 3 5 3 2 3 3 3 3 2 4 0 6-2 4-3 2-6 1-3 2-3 4-1 5 0 6-2 4-3 2-6 2-3 1-6 3-2 3-4 2-6 0-3 3-3 3-3 3-3 1-6 3-3 1-6 2-4 0-5 0-6 1-5-1-4-1-6 0-3 2-4 2-5 1-4-1-5-2-3-1-6 0-3 1-6 0-5-1-4-2-3-1-6 0-3 0-6 2-3 2-5 2-4 2-3 1-5 3-4 2-6 1-6-2-3-2-6-2-6 0-3-1-3-2-5-3-4-1-6-1-5-1-4-1-3-2-6-3-3-1-5 1-4 1-5-1-4-3-1-3 1-4 0-5-1-3-2-4-1-5 1-6 3-2 6 1 6 0 6-2 3 0 6-2 3-2 6-1 3-1 3-3 1-6 0-6 1-6 3-3 4-3 2-3 1-3 3-5 6 1 6 1 3 0 3 0 5-3 4-2 3-2 6-2 3 0 3 0 6 3 3 3 3 2 3 2 6 1 3 2 4 2 5 3 3 0 6 1 5-1 4-1 6-1 6-1 6 1 6 2 3 2 4 1 3 0 5-3 3-3 3-2 3-1 6-3 3 0 6-2 3-1 4-3 3-3 2-5 1-4 2-3 6-2 6 0 4-1zM510,381l3 0 3 1 3 2 3 4 3 5 1 3 2 6 0 3 1 6 0 6 2 6 1 3 2 6 0 3 1 6-1 3-1 6 0 6-1 6-1 5-1 4-1 6-1 6 1 6 1 6 1 6 0 4 1 5 0 6 1 6 0 6 0 6 0 6-1 6-1 3-3 5-2 4-1 3-3 4-3 5-3 3-3 2-3 1-6 1-3-2-3-2-2-6-1-3-1-6 0-6-1-6 0-6 0-6 0-6-1-6 0-3-2-6 0-6-1-6 1-6 0-6 1-6 1-6 0-3 0-6 0-5-1-4-2-6-1-3-2-6 1-6 1-6 1-3 2-6 1-6 0-3 0-6 2-6 1-3 3-6 2-3 2-3 2-3 6-3zM275,471l4-2 6 1 1 4 0 6 4 3 4 2 6 0 3 1 3 3 3 6 1 3 2 3 5 3 4 3 1 3 0 6-4 2-6-1-3 2-2 6-1 3-1 6-1 6-3 3-4 2-4 1-5 1-6 2-3 2-3 2-3 2-3 4-3 4-3 2-4 2-5 2-3 1-6 1-6 0-6 0-6-1-3-1-6 0-3 2-3 2-6 1-4-1-5-3-3 0-5 0-4 1-6 1-4-2-5-3-3-1-6 1-4 0-5 2-3 2-3 2-6 2-4 1-5 3-3 2-6 1-4-3-3-3-5-1-6 0-6-2-3-1-4-2-5-2-6-1-3 0-6-1-4-2-5-2-3-1-6-3-1-3-2-5-3-4-1-3 0-6 4-2 3-1 6-1 6-2 3-2 3-1 6-2 4-1 5-2 3-4-1-6 0-6 1-3 3-3 3-4 3-5 3-3 3 0 3 0 6 2 3 1 3 4 3 3 5-1 2-3-1-3-3-3 0-3 3-3 6-2 6 2 3 3 3 3 3 1 6 2 3 0 6 1 4 2 5 2 3 1 6 0 3 0 6-2 4-1 5-1 6 1 3 0 6 3 3 2 3 1 6 0 3-2 3-2 3-3 6-1 6 0 3-2 4-2 5-2 3-3 3-3 3-2 3-3 2-5zM506,384l4-1 6 1 3 3 2 3 2 3 2 5 1 4 1 6 1 5 0 4 2 6 1 4 2 5 1 6-1 6-1 6 0 6-1 6-1 3-1 6-1 6 0 3-1 6 1 5 1 4 1 6 0 6 1 4 0 5 1 6 0 6 1 6-1 6-1 6-1 3-2 3-3 6-2 3-1 3-3 4-3 4-3 2-6 2-6-2-3-3-1-4-1-6-1-6 0-3-1-6 0-6 0-6 0-6-1-6-1-6-1-3-1-6 0-6 1-6 0-6 1-4 1-5 0-6 1-6-1-6-1-4-2-5-1-3-2-6 1-6 1-4 1-5 2-6 1-3 0-6 0-6 2-6 1-3 2-4 3-5 2-3 3-3zM104,492l4 0 3 1 3 3 1 5-4 2-6-2-3-1-1-5 3-3zM282,492l6-3 6 3 6 0 3 1 1 5 2 6 1 3-1 4-1 5 0 6-1 6-1 6 0 3-3 3-6 3-3 1-6 1-4 1-5 3-3 3-3 3-2 3-2 3-4 3-4 2-3 2-6 1-6 1-6 0-6 0-6-2-6 0-5 2-4 2-6-1-3-2-6-2-6 1-6 2-6-2-3-3-3-1-6 0-6 0-3 0-4 3-3 3-5 3-3 0-6 1-4 2-5 3-4-3-4-3-4-1-6 0-6 0-4-2-5-3-3-1-6-2-6 0-6 0-3-1-4-2-5-2-3-2-3-5-1-3-2-6 3-5 3-2 6-1 3-1 4-3 5-3 3 0 6-1 6 0 6-2 1-3 2-6 3-3 3-1 6-2 3-3 3-3 3 0 6-2 3-1 6-2 4-1 5-3 3-1 6 0 4 1 5 0 6 2 3 1 6 2 6 0 6-1 3-1 6-2 6 0 6 1 3 1 5 3 4 2 6 1 5-3 4-3 3-1 3 1 4 3 5 1 3-3 3-2 6-1 4-1 5-1 6 0 3-2zM505,387l5-2 6 2 2 3 2 3 2 3 3 6 1 3 1 6 0 6 1 5 2 4 1 3 2 6 0 6-2 6 0 3 0 6-1 6-2 6 0 3-1 6-1 6 0 6 1 6 1 3 1 6 1 6 0 6 1 6 0 3 0 6 0 6 0 4-1 5-2 3-3 6-2 3-1 3-3 5-3 4-3 3-3 1-6 0-3-2-3-5-1-3 0-6-1-6-1-6 0-5 0-2 0-5 0-6 0-4-1-5-2-6 0-3-1-6 1-6 0-3 1-6 1-6 1-6 0-3 0-6 0-4-1-5-2-5-2-4-1-4 0-5 0-3 2-6 1-4 1-5 1-6 0-6 1-4 2-5 1-3 3-6 2-3 2-3zM200,498l4 0 3 0 6 2 3 2 3 2 6 2 6 0 3-2 6-2 4 2 5 2 6 0 4-2 5-3 3-1 6-1 6 1 1 4-1 3 0 5 3 3 6-1 5-1 4-2 3 4 1 4 1 6-1 6-1 5-3 3-3 1-6 2-6 0-4 1-3 3-3 3-2 3-3 4-3 3-3 3-3 2-6 3-3 1-6 0-6 0-6 0-3-1-6-1-6 1-3 2-3 1-3 0-6-3-3-2-6 0-6 1-6 0-3-3-4-2-5-1-6 1-4 0-5 2-3 2-3 4-3 2-6 0-6 2-3 1-5-1-4-2-3-2-6-2-6 1-6-1-3-2-3-1-4-3-5-1-5 1-4 1-4-1-5-2-3-1-4-3-2-3-1-6 1-5 3-2 6-2 3-1 3-3 3-2 6-1 4 1 5 3 3 2 2 4 3 3 3 0 1-3 0-6 1-6 0-6 2-6 3-1 5-2 4-3 3-2 3-1 6-3 3-1 6-1 4-1 5-2 6-1 6 1 6-1 6 3 3 1 6 1 6-1 3-1 6-2 5-1zM505,390l5-3 5 3 2 3 2 3 3 5 2 4 1 5 1 4 0 6 2 6 2 3 1 4 1 5-1 5-1 4-1 6 0 6-1 5-1 4-1 6-1 4-1 5 0 6 1 4 2 5 1 6 0 3 1 6 0 6 1 6 0 6 0 6-1 6-1 4-3 5-2 3-1 3-3 6-2 3-3 3-4 2-6 0-3-3-2-5-1-6 0-3-1-6-1-6 1-6 0-6 0-6-1-6-1-3-2-6 0-6 0-6 1-6 1-6 1-3 0-6 1-6 0-6-1-6-2-3-2-5-1-4-1-6 1-6 1-3 2-6 1-6 0-3 1-6 1-6 1-3 3-6 2-3 2-3zM197,501l4-1 6 0 3 1 5 3 4 3 3 1 6 2 6-1 6-1 6 2 6 0 6-1 6-2 3-2 3-1 3 0 1 6 2 6 3 3 3 0 3 0 6-1 5 1 2 3 1 6-2 6-3 2-3 1-6 0-6 0-5 3-2 3-2 3-3 5-3 4-2 3-4 3-3 2-3 2-6 1-6 0-6 0-6-1-5-1-4 0-3 1-5 2-4 0-3-1-3-2-6-2-6 1-6 0-4-2-5-3-3-1-6 0-6 1-3 0-5 3-3 3-3 3-4 2-6 0-4 1-5 1-3-2-5-2-4-3-3-3-3-3-3 0-3 3-3 0-2-3 2-4 3-2 3-4 1-5 0-6 1-6 0-6 1-4 3-3 3-2 5-3 4-2 3-2 3-2 6-2 4-1 5-1 6 0 3 4 1 3 2 6 1-6 2-5 3-3 6 0 5 2 4 1 6 0 4-1 5-2 5-1zM74,537l4-3 6 2 3 3 3 4 0 3 0 3-4 3-5 3-3 1-6 1-6-1-3-1-3-3-1-6 2-3 5-2 4-1 4-3zM506,393l4-2 3 2 3 4 3 3 3 4 1 4 1 6 1 6 1 3 2 5 2 4 1 6-2 6-1 6 0 6 0 3-1 6-2 6 0 3-2 6-1 4 0 5 1 3 2 5 1 4 1 6 1 6 0 6 0 3 1 6 0 6 0 6-1 3-3 6-2 3-2 3-2 6-2 3-2 3-4 3-4 1-3-1-3-4-1-5-1-6-1-6 0-3 0-6 0-4 0-5 0-6 0-3-2-6-1-3-1-6 0-6 1-6 0-3 1-6 2-6 0-5 0-4 0-6 0-3-2-6-2-3-2-6-1-3 0-6 1-3 2-6 1-5 1-4 1-6 1-6 1-3 2-5 2-4 3-3zM194,504l4-1 6-1 6 2 3 2 3 1 6 3 3 2 3 2 6-1 3-1 6 1 3 0 3 0 6 0 3 0 6 3 6 0 1 3 3 3 5 3 6-3 3 0 4 0 3 3-1 4-5 2-2 0-5-1-3 1-4 3-4 3-2 3-2 5-2 4-2 3-2 3-3 3-4 3-5 2-6 1-4 0-5 0-3 0-6-2-6 0-6 2-3 1-4-1-5-3-3-1-6 1-6 0-6-2-3-2-3-2-6-2-6 2-3 0-6 3-3 2-3 2-3 3-6 1-6 1-3 1-6-1-3-1-3-2-3-3-3-5-2-4 0-6-1-6 1-6 1-6 1-5 3-3 3-2 3-2 6-3 3-2 3-3 3-1 6-1 6 0 3 4 0 3 1 6 2 6 3 2 4-2 2-6 0-6 0-6 3-3 6 2 4 1 5 1 5-1 4-1 5-2zM64,546l2 0 1 0 1 3-2 2-3-1 0-1 0-2 1-1zM505,399l5-2 4 2 3 3 3 3 2 4 1 5 0 6 2 5 2 4 2 3 0 6-1 6-1 3-1 6 0 6-1 6-1 3-1 6-1 4-2 5-1 6 3 5 2 4 1 6 1 3 1 6-1 6 1 6 0 6 0 6 0 6-2 4-3 4-2 4-2 3-2 6-3 3-3 2-6-2-2-3-1-6 0-3-1-6-1-6 0-6 1-6 0-6-1-6-1-3-2-6 0-6 0-6 1-6 1-5 1-4 1-6 0-6 0-6-1-6-1-3-3-6-1-3-2-6 2-6 1-5 1-4 1-6 1-6 1-3 2-6 1-3 3-3zM193,507l5-2 6 0 5 2 4 2 3 2 4 2 3 3 2 6 3 0 3-2 3-2 6-1 6 1 6-2 6 2 3 3 3 3 2 4-1 6-1 3-1 6-1 6-2 3-3 3-4 3-4 2-6 1-3 0-6 1-5-1-4-1-6 0-4 1-5 1-3-1-5-3-4-1-5 1-4 0-3 0-6-3-3-2-3-2-3-5-1-3-2-3-6-1-1 4 1 6-4 3-5 3-3 2-3 3-3 2-6 1-6 1-3 1-6 0-3-2-3-2-3-6 0-3-2-6-1-4 0-5 0-3 2-6 1-3 3-3 6-2 3-2 3-3 3-3 3-3 6-1 5 2 1 3 1 6 1 6 2 3 2 3 6 3 3-3 2-6 2-3 1-6 0-6 4 0 3 0 6 2 6-1 3-2 4-2zM506,402l4-1 3 1 4 3 2 3 2 6 1 6 1 3 2 4 2 5 1 3 0 3-2 6-1 3 0 6 0 6-2 6-1 6-1 3-2 6-1 3-1 6 2 4 3 5 1 3 1 6 1 3 0 6 0 3 0 5 1 4 0 6 0 6-1 3-3 5-3 4-2 3-1 4-2 5-4 2-5-2-2-3-1-6-1-6 0-3-1-6 1-4 1-5 0-6-1-6-2-3-1-3-1-6 1-6 0-3 1-6 1-6 1-6 0-3 0-6 1-6-1-5-1-4-2-4-3-5-1-3 0-6 1-3 2-6 1-6 0-3 2-6 1-4 2-5 3-3zM193,510l5-2 6 0 5 2 4 3 3 2 1 4-1 3 0 3 6 3 3 1 6 0 2-4 3-3 4 0 3 0 5 0 4-2 6 2 2 3 1 6-2 6 0 6-1 5-2 4-4 3-3 1-6 2-3 1-6 0-4-1-3-3-5-2-3 3-3 2-6 0-3-2-3-2-6 0-5 1-4 0-3 0-5-3-4-3-2-3-1-4-2-5-3-3-2-3 1-5 3-3 3-4 3-1 6 0 3-2 4-3 3-3zM134,513l4-2 6 1 1 4 1 6 1 5 1 4 2 3 3 5 1 4 1 6-2 3-3 3-5 3-4 1-6 0-5 2-4 2-5-2-2-3-2-6-1-3-2-5-1-4 0-6 2-3 2-4 3-2 6-3 3-3 2-3 3-3zM204,527l-3 1 1 3 2 3 3-2 0-1 1-3-1-1-3 0zM506,405l4-1 4 1 3 3 2 3 1 6 2 6 1 3 2 3 2 6-1 6-1 3-2 6 0 6 0 6-1 4-2 5-1 4-2 5-1 3-2 6 2 3 3 4 2 5 2 3 1 6 0 6 0 6 0 6 1 6-1 6-2 6-2 3-2 3-2 3-2 6-3 3-3 0-3-3-1-3-1-6-1-6-1-6 1-6 1-6 0-6-2-6-1-3-2-6 1-6 1-6 1-4 2-5 0-6 0-6 0-6 0-6-1-6-1-3-3-4-2-5-1-3 0-3 2-6 1-6 0-3 2-6 1-3 2-6 3-3zM199,510l5 0 3 1 3 3 2 5-3 3-5 1-6 0-4 2-2 4-4-1 1-6 2-3 1-3 3-4 4-2zM138,513l5 3 1 3 1 6 0 6 1 6 1 4 3 4 1 4-1 3-3 3-6 2-6 0-5 1-4 2-4-2-2-4-2-5-1-3-3-6 1-6 2-3 3-3 5-3 4-3 2-3 3-3 4-3zM239,525l2 0 5 1 3-1 6-1 3 4-2 6-2 3 0 6 1 3 0 3-3 3-6 2-3 1-6 2-6-2-3-3-3-3-3-1-3 1-3 4-3 2-3-2-3-3-6-1-6 2-6 0-6-2-3-2-2-4 0-6 5-2 4 2 4 3 3 0 4-1 3 1 4 3 2 0 3-6 0-3 3-4 6-1 3 2 6 3 4-3 3-3 4-3zM506,408l4-2 4 2 3 3 2 6 0 3 3 6 2 3 1 3 1 6-2 3-2 4-2 5 1 6 0 6-2 6-2 3-1 4-2 5-3 3-4 1-2-4-1-6 1-6 1-6-1-6-1-3-3-4-3-4-2-4 1-6 1-3 1-6 1-6 1-3 3-6 2-3zM504,492l6-1 3 2 3 3 3 4 2 4 1 3 1 6-1 6 0 6 1 6 0 6-1 6-2 3-2 3-2 3-3 4-3 5-4-3-2-6 0-3-1-6 0-6 1-6 0-3 1-6-1-4-3-5-1-3 0-6 1-3 2-6 1-3zM201,513l1 0 2 0 3 3-3 2-3 0-2-2 2-3zM134,519l4-3 3 3 2 6-1 6 0 6 1 6 2 3 1 6-5 2-6 0-6 1-6-2-2-4-2-3-2-4-1-5 2-3 2-3 5-3 4-3 2-3 3-3zM240,528l1 0 5 1 3 2 0 6-1 3-1 6-1 3-4 3-5 2-5-2-3-3-4-3-3-1-6-1-3-4 1-6 5-2 3 2 4 3 4 0 4-3 2-3 4-3zM506,414l4-3 4 3 2 5 1 4 2 3 3 3 2 6-2 6-3 2-3 4-1 3 1 3 1 6-1 3-3-2-1-4-2-5-3-2-3-2-3-3-2-6 1-6 1-6 0-3 3-6 2-3zM506,501l4-2 5 2 3 3 2 3 2 6-2 6 0 6 1 6 0 6-2 6-2 3-2 3-4 3-3 0-2-3-1-6 0-6 1-6 1-6 0-3 0-3-3-6-1-3 1-6 2-3zM134,525l4-1 0 4 0 3 0 3 0 3-1 6-2 5-3 1-6 0-3-2-3-4-1-3 1-4 3-3 4-2 4-3 3-3zM238,534l5-1 1 4-1 3-3 4-3 3-3-1 0-5 2-4 2-3z" fill="none" stroke="#2c2c2c" stroke-width="2.3"/>
</g>
<path d="M451.1,67q4.2,10 0,20z" fill="#111"/>
<path d="M451.1,87H483" stroke="#151515" stroke-width="1.4" stroke-dasharray="6 0.5 3.5 0.7 8 0.4 2 0.6" fill="none"/>
</g>
<path d="M488.6,25V88M451.1,61.8H513.5" stroke="#6a6a6a" stroke-width="0.5" fill="none"/>
<rect x="451.1" y="25" width="62.4" height="63" fill="none" stroke="#7a7a7a" stroke-width="0.6"/>
<text x="448.9" y="28" font-size="2.8" text-anchor="end" fill="#333">10⁵</text>
<text x="448.9" y="42.6" font-size="2.8" text-anchor="end" fill="#333">10⁴</text>
<text x="448.9" y="57.2" font-size="2.8" text-anchor="end" fill="#333">10³</text>
<text x="448.9" y="71.8" font-size="2.8" text-anchor="end" fill="#333">10²</text>
<text x="448.9" y="82.4" font-size="2.8" text-anchor="end" fill="#333">0</text>
<text x="458.3" y="93.8" font-size="2.8" text-anchor="middle" fill="#333">0</text>
<text x="465" y="93.8" font-size="2.8" text-anchor="middle" fill="#333">10²</text>
<text x="479.9" y="93.8" font-size="2.8" text-anchor="middle" fill="#333">10³</text>
<text x="495.1" y="93.8" font-size="2.8" text-anchor="middle" fill="#333">10⁴</text>
<text x="510.6" y="93.8" font-size="2.8" text-anchor="middle" fill="#333">10⁵</text>
<path d="M449.7,27h1.4M449.7,41.6h1.4M449.7,56.2h1.4M449.7,70.8h1.4M449.7,81.4h1.4M458.3,88v1.4M465,88v1.4M479.9,88v1.4M495.1,88v1.4M510.6,88v1.4" stroke="#555" stroke-width="0.5" fill="none"/>
<text x="483.3" y="97" font-size="3.0" text-anchor="middle" fill="#222">&lt;APC-A&gt;: GB21A</text>
<text x="452.1" y="28.8" font-size="3.5" font-weight="bold" fill="#111">0.76</text>
<text x="512.7" y="28.8" font-size="3.5" text-anchor="end" font-weight="bold" fill="#111">0.2</text>
<text x="452.1" y="87" font-size="3.5" font-weight="bold" fill="#111">75.4</text>
<text x="512.7" y="87" font-size="3.5" text-anchor="end" font-weight="bold" fill="#111">23.6</text>
<text x="495.8" y="45" font-size="7.6" stroke="#222" stroke-width="0.18" fill="#222">0.2</text>
<clipPath id="cp3"><rect x="303.8" y="106" width="62.8" height="62.1"/></clipPath>
<rect x="303.8" y="106" width="62.8" height="62.1" fill="#fff"/>
<g clip-path="url(#cp3)">
<g transform="translate(303.8 106) scale(0.1)">
<path d="M258,372h7M296,369h7M502,543h7M293,580h7M329,249h7M376,416h7M475,542h7M84,611h7M586,346h7M555,377h7M100,614h7M371,327h7M560,538h7M489,350h7M461,513h7M276,607h7M569,468h7M359,548h7M314,347h7M457,397h7M381,585h7M466,583h7M430,474h7M373,447h7M23,607h7M414,339h7M71,376h7M380,540h7M454,374h7M209,367h7M372,502h7M328,397h7M351,378h7M371,486h7M569,450h7M199,603h7M291,576h7M537,338h7M394,351h7M356,352h7M371,419h7M132,378h7M241,366h7M445,573h7M248,603h7M10,414h7M309,365h7M416,408h7M292,335h7M234,364h7M561,356h7M54,365h7M319,573h7M160,366h7M450,453h7M373,548h7M390,469h7M367,533h7M490,376h7M311,361h7M6,599h7M466,414h7M59,395h7M366,553h7M534,518h7M308,354h7M445,417h7M255,352h7M452,526h7M104,398h7M226,327h7M441,398h7M39,608h7M367,382h7M23,419h7M497,596h7M430,453h7M452,501h7M551,369h7M32,612h7M444,336h7M382,571h7M492,372h7M406,370h7M32,362h7M150,372h7M474,540h7M378,385h7M368,466h7M179,606h7M293,361h7M198,279h7M318,591h7M383,323h7M360,546h7M387,366h7M453,445h7M143,604h7M146,606h7M396,500h7M242,354h7M614,442h7M205,612h7M302,311h7M297,363h7M428,516h7M499,376h7M94,614h7M188,333h7M131,383h7M444,440h7M575,451h7M482,584h7M557,375h7M452,450h7M409,456h7M67,368h7M364,480h7M621,397h7M285,337h7M561,380h7M174,325h7M436,538h7M332,549h7M268,589h7M379,548h7M373,523h7M353,395h7M327,375h7M91,392h7M393,249h7M239,280h7M227,335h7M351,536h7M386,449h7M187,377h7M357,342h7M312,593h7M517,344h7M475,573h7M356,450h7M424,487h7M583,385h7M284,351h7M396,484h7M498,359h7M243,597h7M508,341h7M432,413h7M464,518h7M557,360h7M402,335h7M133,300h7M567,499h7M37,422h7M435,457h7M353,579h7M578,395h7M414,563h7M235,355h7M365,495h7M51,402h7M525,596h7M85,403h7M346,419h7M474,360h7M19,340h7M370,535h7M478,551h7M326,557h7M459,391h7M312,346h7M376,243h7M432,566h7M7,419h7M434,459h7M315,376h7M404,387h7M153,603h7M442,443h7M91,387h7M106,395h7M4,442h7M368,516h7M331,399h7M266,264h7M372,519h7M360,483h7M225,348h7M512,344h7M18,413h7M352,544h7M144,385h7M562,367h7M194,373h7M254,596h7M224,313h7M284,362h7M260,351h7M33,411h7M462,408h7M135,389h7M7,430h7M186,383h7M571,427h7M193,325h7M369,408h7M492,550h7M265,590h7M361,479h7M447,513h7M393,479h7M391,481h7M208,338h7M306,566h7M140,285h7M386,360h7M264,595h7M299,569h7M463,413h7M564,451h7M190,369h7M331,367h7M546,507h7M473,392h7M369,418h7M357,565h7M194,374h7M96,397h7M490,383h7M24,428h7M349,414h7M331,393h7M17,409h7M459,570h7M443,434h7M65,607h7M313,348h7M27,414h7M475,537h7M326,378h7M70,390h7M238,318h7M264,324h7M42,388h7M468,265h7M363,470h7M357,441h7M188,380h7M534,279h7M341,396h7M563,367h7M17,394h7M288,367h7M365,526h7M79,407h7M376,416h7M325,367h7M576,436h7M147,380h7M19,408h7M508,545h7M21,405h7M199,368h7M574,449h7M503,545h7M355,422h7M254,599h7M295,372h7M432,181h7M42,165h7M123,349h7M318,603h7M378,534h7M380,258h7M223,300h7M584,436h7M120,375h7M276,356h7M182,369h7M370,456h7M228,358h7M78,342h7M72,393h7M268,358h7M351,403h7M473,544h7M137,231h7M540,337h7M316,269h7M195,278h7M567,445h7M478,303h7M365,594h7M501,364h7M423,593h7M129,390h7M449,479h7M244,368h7M166,368h7M134,371h7M132,388h7M26,369h7M317,367h7M385,483h7M397,468h7M344,418h7M246,283h7M99,376h7M386,478h7M371,550h7M230,601h7M27,380h7M377,238h7M407,349h7M571,401h7M445,533h7M363,576h7M424,422h7M441,369h7M134,605h7M356,551h7M540,346h7M51,326h7M10,604h7M366,603h7M164,601h7M239,355h7M250,323h7M217,597h7M585,474h7M563,490h7M565,382h7M225,363h7M210,347h7M227,325h7M245,595h7M401,409h7M282,338h7M153,369h7M451,477h7M448,435h7M441,432h7M479,338h7M570,461h7M362,567h7M105,614h7M24,385h7M444,481h7M398,498h7M195,336h7M576,457h7M141,392h7M104,613h7M387,431h7M372,468h7M220,235h7M135,326h7M19,422h7M393,433h7M401,496h7M138,393h7M381,518h7M75,409h7M257,353h7M261,337h7M468,414h7M524,530h7M148,293h7M564,393h7M49,393h7M379,344h7M385,499h7M344,387h7M265,592h7M468,544h7M95,389h7M450,481h7M215,354h7M273,330h7M124,253h7M137,320h7M20,433h7M49,613h7M69,408h7M593,398h7M246,295h7M430,569h7M461,425h7M145,607h7M450,449h7M226,609h7M376,396h7M376,454h7M129,364h7M196,599h7M342,586h7M449,453h7M154,604h7M419,423h7M404,495h7M473,537h7M362,449h7M551,337h7M473,405h7M80,384h7M451,504h7M25,606h7M512,549h7M332,604h7M362,427h7M386,475h7M198,330h7M418,408h7M332,549h7M67,371h7M142,381h7M299,589h7M385,516h7M338,392h7M14,436h7M132,396h7M285,353h7M369,427h7M213,348h7M139,318h7M331,565h7M7,430h7M409,290h7M441,491h7M543,228h7M517,541h7M524,343h7M478,607h7M402,477h7M296,575h7M121,392h7M396,408h7M384,319h7M247,362h7M342,359h7M524,528h7M264,352h7M369,545h7M467,531h7M387,480h7M452,462h7M11,436h7M411,477h7M340,312h7M364,556h7M428,543h7M287,310h7M410,338h7M235,260h7M367,516h7M497,551h7M447,328h7M369,442h7M508,533h7M454,449h7M540,522h7M221,598h7M308,595h7M102,397h7M449,597h7M356,541h7M350,413h7M350,320h7M354,424h7M426,470h7M239,356h7M563,402h7M377,499h7M249,594h7M465,413h7M379,392h7M258,601h7M180,604h7M136,608h7M300,322h7M442,516h7M450,610h7M558,363h7M371,485h7M477,385h7M145,360h7M388,511h7M485,379h7M432,498h7M237,599h7M268,603h7M199,355h7M389,320h7M209,355h7M257,602h7M205,289h7M460,359h7M566,503h7M552,484h7M445,434h7M133,374h7M569,458h7M490,603h7M235,333h7M457,510h7M178,375h7M100,608h7M376,516h7M447,522h7M122,394h7M464,585h7M56,381h7M486,354h7M24,420h7M38,423h7M580,368h7M466,540h7M489,538h7M31,430h7M368,390h7M362,445h7M531,521h7M436,482h7M565,394h7M465,546h7M99,380h7M108,611h7M88,402h7M239,368h7M365,407h7M477,395h7M502,189h7M76,344h7M481,549h7M197,597h7M521,524h7M431,246h7M503,355h7M559,373h7M252,365h7M74,406h7M100,389h7M522,331h7M498,364h7M525,523h7M320,389h7M547,337h7M114,354h7M559,473h7M167,372h7M531,335h7M43,414h7M359,452h7M491,377h7M492,372h7M164,359h7M569,489h7M26,418h7M64,405h7M187,285h7M445,476h7M480,396h7M273,348h7M454,503h7M489,530h7M128,376h7M380,414h7M36,425h7M402,356h7M464,406h7M379,437h7M453,451h7M500,375h7M426,498h7M290,580h7M194,603h7M538,512h7M124,227h7M397,398h7M61,610h7M333,596h7M409,495h7M409,393h7M35,385h7M576,486h7M368,439h7M30,429h7M246,600h7M567,443h7M373,454h7M238,319h7M432,545h7M67,390h7M44,387h7M157,358h7M486,533h7M63,337h7M359,526h7M344,549h7M216,601h7M19,435h7M561,394h7M338,401h7M30,419h7M92,401h7M373,532h7M254,361h7M236,363h7M360,488h7M331,397h7M363,389h7M178,347h7M187,600h7M90,401h7M525,525h7M406,562h7M485,374h7M474,404h7M353,565h7M548,508h7M175,366h7M562,467h7M259,355h7M320,375h7M4,381h7M418,418h7M340,548h7M326,392h7M375,336h7M418,469h7M464,400h7M559,469h7M379,505h7M72,369h7M245,361h7M561,610h7M81,405h7M291,350h7M443,401h7M483,538h7M385,406h7M351,403h7M569,403h7M359,448h7M444,471h7M363,376h7M289,587h7M320,579h7M374,301h7M321,566h7M302,371h7M154,383h7M182,379h7M183,608h7M427,425h7M354,321h7M268,337h7M453,572h7M360,434h7M442,446h7M432,448h7M537,525h7M150,601h7M499,376h7M350,369h7M383,376h7M546,511h7M572,482h7M612,571h7M560,471h7M82,400h7M187,611h7M465,536h7M557,386h7M313,348h7M285,355h7M29,413h7M133,349h7M363,438h7M326,575h7M12,411h7M110,610h7M80,608h7M459,510h7M365,576h7M347,396h7M357,435h7M63,610h7M431,494h7M300,570h7M554,510h7M177,343h7M250,361h7M456,416h7M451,448h7M272,586h7M515,531h7M86,608h7M23,423h7M135,606h7M393,530h7M371,471h7M202,371h7M440,273h7M441,502h7M351,565h7M367,389h7M498,534h7M564,501h7M316,370h7M566,421h7M433,454h7M443,473h7M569,480h7M476,536h7M17,604h7M429,528h7M152,348h7M507,534h7M469,519h7M15,424h7M28,401h7M455,513h7M462,415h7M509,350h7M272,357h7M340,576h7M5,603h7M440,455h7M318,383h7M88,202h7M248,341h7M375,393h7M478,393h7M225,316h7M37,424h7M363,442h7M147,606h7M189,597h7M367,493h7M120,380h7M355,542h7M466,533h7M10,423h7M266,368h7M366,499h7M216,362h7M154,350h7M579,428h7M358,407h7M97,376h7M469,406h7M566,498h7M390,427h7M291,253h7M394,483h7M430,483h7M461,401h7M494,578h7M491,378h7M160,237h7M123,372h7M481,389h7M557,494h7M88,394h7M22,430h7M567,463h7M131,612h7M220,328h7M569,352h7M355,358h7M448,434h7M125,394h7M24,427h7M373,486h7M320,339h7M346,404h7M342,387h7M266,599h7M281,356h7M425,307h7M447,507h7M529,339h7M441,503h7M465,538h7M566,427h7M40,380h7M470,520h7M495,353h7M58,612h7M366,586h7M165,599h7M402,460h7M191,382h7M116,614h7M432,385h7M309,345h7M571,408h7M358,578h7M526,525h7M398,402h7M80,402h7M411,375h7M215,312h7M396,389h7M158,368h7M54,609h7M342,381h7M502,530h7M447,487h7M334,339h7M358,407h7M490,379h7M469,339h7M381,357h7M361,552h7M173,370h7M103,388h7M372,486h7M196,297h7M578,442h7M4,417h7M24,613h7M452,352h7M468,545h7M473,549h7M379,462h7M465,530h7M111,247h7M393,482h7M120,396h7M182,605h7M249,374h7M49,399h7M144,377h7M195,371h7M56,610h7M257,370h7M171,352h7M200,355h7M374,469h7M199,359h7M457,526h7M270,366h7M369,570h7M584,397h7M350,367h7M423,411h7M583,474h7M370,517h7M306,601h7M298,373h7M576,416h7M295,575h7M57,402h7M537,522h7M387,396h7M250,310h7M533,522h7M309,296h7M337,369h7M469,553h7M366,538h7M176,605h7M116,396h7M380,515h7M504,605h7M522,535h7M358,527h7M560,484h7M228,609h7M353,394h7M495,377h7M572,402h7M433,486h7M420,561h7M37,412h7M342,316h7M371,483h7M279,211h7M81,396h7M234,367h7M457,534h7M251,594h7M533,524h7M385,488h7M446,463h7M64,409h7M109,611h7M379,485h7M89,394h7M551,368h7M354,532h7M104,341h7M378,489h7M476,540h7M443,467h7M562,369h7M492,375h7M354,400h7M413,475h7M449,416h7M481,383h7M161,607h7M118,612h7M86,607h7M348,547h7M189,607h7M153,602h7M78,402h7M264,316h7M7,420h7M16,416h7M175,602h7M196,614h7M446,516h7M21,614h7M170,380h7M387,557h7M233,327h7M402,422h7M48,159h7M542,339h7M334,320h7M493,566h7M443,592h7M463,547h7M142,608h7M489,385h7M355,361h7M324,368h7M435,476h7M96,606h7M375,556h7M410,479h7M291,319h7M48,410h7M168,352h7M337,404h7M397,460h7M180,295h7M144,387h7M69,610h7M366,535h7M378,560h7M450,478h7M151,382h7M19,609h7M353,548h7M316,342h7M337,574h7M496,356h7M374,381h7M579,415h7M511,539h7M389,521h7M254,290h7M257,372h7M440,485h7M410,312h7M86,372h7M475,538h7M358,404h7M31,612h7M536,524h7M297,357h7M358,467h7M354,575h7M65,406h7M472,324h7M388,505h7M468,527h7M522,343h7M266,366h7M438,407h7M370,462h7M164,608h7M462,513h7M157,601h7M359,540h7M358,541h7M375,451h7M408,461h7M439,481h7M449,432h7M515,316h7M125,327h7M360,431h7M361,451h7M77,615h7M264,332h7M441,466h7M423,529h7M497,377h7M84,280h7M253,363h7M389,362h7M224,363h7M307,372h7M241,304h7M179,359h7M347,545h7M235,327h7M485,390h7M403,294h7M97,391h7M153,611h7M488,369h7M508,531h7M287,595h7M111,347h7M552,369h7M143,388h7M344,393h7M189,367h7M365,529h7M285,326h7M466,419h7M321,565h7M526,525h7M402,515h7M320,376h7M497,373h7M23,375h7M325,368h7M550,127h7M441,374h7M78,410h7M397,350h7M25,401h7M258,371h7M137,610h7M552,511h7M286,365h7M482,390h7M87,395h7M235,363h7M141,323h7M466,525h7M173,603h7M12,606h7M365,409h7M288,335h7M238,598h7M436,496h7M261,347h7M309,601h7M241,358h7M394,424h7M419,492h7M221,368h7M453,428h7M14,603h7M39,607h7M232,367h7M80,408h7M78,409h7M446,505h7M141,393h7M252,364h7M372,514h7M337,550h7M567,433h7M387,307h7M522,326h7M184,368h7M264,308h7M404,472h7M21,421h7M537,514h7M523,548h7M559,390h7M112,396h7M373,508h7M467,339h7M6,409h7M48,401h7M204,365h7M29,357h7M408,582h7M161,308h7M497,544h7M341,410h7M402,360h7M223,364h7M182,320h7M497,369h7M383,484h7M40,410h7M302,584h7M131,368h7M472,345h7M474,407h7M377,479h7M302,374h7M558,377h7M487,366h7M415,580h7M435,490h7M588,463h7M282,360h7M368,451h7M100,387h7M461,425h7M268,349h7M67,388h7M449,361h7M394,451h7M408,337h7M402,463h7M286,602h7M317,566h7M279,580h7M438,428h7M154,312h7M395,374h7M176,605h7M467,416h7M39,393h7M355,586h7M469,312h7M64,398h7M521,342h7M455,523h7M21,606h7M387,535h7M364,324h7M465,528h7M263,311h7M395,448h7M586,380h7M213,594h7M353,540h7M173,608h7M441,461h7M448,509h7M366,546h7M353,407h7M495,583h7M299,364h7M380,513h7M619,490h7M297,357h7M446,472h7M225,344h7M382,462h7M418,469h7M433,359h7M326,568h7M454,349h7M367,481h7M259,596h7M113,395h7M323,236h7M192,609h7M477,389h7M566,420h7M347,411h7M313,566h7M584,484h7M151,602h7M460,426h7M471,528h7M334,556h7M106,386h7M39,410h7M291,370h7M359,435h7M247,371h7M36,372h7M28,403h7M525,606h7M245,331h7M405,341h7M500,374h7M424,437h7M26,386h7M368,391h7M374,440h7M435,492h7M452,462h7M4,432h7M319,581h7M269,345h7M548,492h7M74,607h7M366,466h7M259,374h7M561,495h7M371,567h7M376,478h7M389,340h7M3,443h7M494,593h7M368,479h7M11,439h7M254,371h7M70,607h7M347,396h7M423,424h7M509,563h7M450,480h7M566,426h7M158,352h7M358,448h7M152,604h7M528,236h7M349,551h7M367,451h7M197,365h7M299,340h7M84,397h7M251,356h7M414,495h7M526,338h7M18,426h7M366,457h7M519,342h7M419,418h7M14,439h7M386,462h7M339,543h7M193,336h7M517,530h7M232,322h7M567,397h7M284,587h7M168,610h7M436,599h7M402,534h7M142,607h7M475,611h7M319,352h7M371,418h7M460,379h7M266,344h7M362,431h7M442,564h7M294,585h7M505,358h7M395,469h7M31,412h7M266,369h7M348,415h7M448,477h7M540,537h7M393,512h7M394,509h7M413,428h7M456,422h7M554,374h7M124,305h7M63,372h7M479,380h7M51,611h7M369,470h7M310,329h7M449,445h7M354,542h7M160,366h7M322,379h7M351,574h7M474,397h7M325,356h7M359,474h7M473,526h7M377,436h7M172,368h7M365,536h7M177,600h7M588,402h7M548,502h7M474,406h7M422,460h7M533,531h7M386,474h7M27,385h7M128,383h7M399,421h7M184,335h7M451,473h7M365,433h7M93,357h7M74,611h7M374,430h7M164,604h7M377,499h7M90,611h7M353,425h7M397,333h7M437,503h7M446,459h7M488,356h7M211,347h7M285,333h7M246,348h7M173,379h7M520,544h7M464,371h7M303,572h7M563,397h7M140,394h7M367,462h7M430,495h7M415,347h7M534,515h7M573,446h7M243,358h7M75,386h7M378,478h7M337,576h7M371,419h7M547,340h7M484,541h7M319,383h7M109,313h7M139,607h7M372,501h7M427,539h7M358,526h7M175,376h7M458,427h7M366,535h7M263,611h7M598,477h7M370,514h7M144,383h7M389,507h7M446,432h7M273,589h7M104,393h7M366,389h7M280,581h7M372,593h7M47,394h7M449,465h7M453,345h7M293,600h7M167,367h7M354,386h7M364,454h7M134,374h7M435,407h7M349,284h7M374,415h7M4,371h7M325,368h7M19,434h7M366,498h7M228,357h7M446,514h7M434,434h7M56,612h7M99,390h7M109,391h7M388,527h7M354,554h7M507,356h7M221,358h7M574,410h7M263,303h7M78,409h7M23,607h7M451,447h7M455,513h7M28,430h7M367,578h7M597,196h7M205,601h7M142,612h7M13,606h7M189,355h7M51,296h7M167,370h7M63,407h7M383,588h7M350,554h7M281,592h7M328,574h7M185,358h7M77,266h7M354,392h7M249,611h7M399,369h7M539,514h7M544,335h7M83,405h7M32,428h7M572,383h7M359,435h7M227,338h7M450,385h7M368,568h7M388,464h7M160,600h7M370,442h7M366,427h7M369,516h7M593,516h7M65,607h7M430,474h7M353,408h7M33,274h7M384,522h7M291,359h7M474,537h7M378,458h7M552,485h7M27,375h7M218,339h7M446,453h7M338,404h7M6,393h7M539,346h7M483,528h7M564,385h7M464,395h7M33,412h7M184,603h7M395,505h7M469,568h7M501,543h7M429,306h7M193,250h7M432,615h7M368,399h7M482,541h7M108,383h7M389,351h7M433,456h7M368,334h7M574,384h7M131,366h7M159,600h7M386,417h7M421,506h7M218,356h7M495,362h7M33,330h7M447,465h7M456,522h7M326,360h7M449,564h7M439,576h7M362,539h7M491,379h7M80,320h7M576,417h7M369,415h7M568,467h7M410,446h7M372,405h7M354,261h7M374,488h7M409,468h7M326,566h7M331,347h7M397,490h7M92,384h7M434,426h7M282,326h7M454,517h7M263,349h7M20,606h7M223,594h7M115,382h7M64,404h7M131,377h7M463,414h7M466,524h7M237,317h7M589,466h7M577,406h7M443,321h7M165,605h7M327,578h7M423,436h7M121,321h7M331,552h7M112,384h7M134,385h7M463,602h7M272,594h7M324,560h7M575,369h7M237,362h7M371,466h7M182,601h7M349,410h7M420,565h7M398,193h7M374,579h7M381,518h7M571,421h7M427,509h7M323,372h7M506,544h7M299,211h7M183,287h7M563,455h7M276,584h7M63,364h7M364,471h7M164,378h7M355,367h7M363,545h7M176,157h7M368,481h7M466,322h7M346,379h7M500,374h7M345,539h7M388,506h7M202,362h7M215,330h7M124,331h7M601,399h7M210,596h7M10,423h7M366,513h7M238,597h7M456,528h7M453,394h7M385,432h7M575,497h7M445,432h7M216,368h7M348,568h7M473,593h7M221,611h7M132,377h7M6,415h7M235,365h7M148,387h7M461,288h7M318,355h7M53,408h7M192,296h7M475,534h7M350,535h7M366,399h7M387,292h7M369,364h7M148,385h7M294,582h7M366,552h7M420,515h7M403,474h7M189,384h7M224,594h7M566,435h7M380,544h7M393,493h7M176,604h7M401,446h7M228,611h7M370,473h7M351,286h7M559,483h7M348,539h7M306,373h7M460,413h7M60,406h7M3,438h7M83,409h7M11,427h7M375,493h7M179,362h7M336,389h7M322,375h7M128,356h7M153,374h7M246,349h7M466,528h7M230,368h7M376,514h7M276,355h7M389,429h7M335,375h7M554,490h7M418,533h7M392,254h7M491,546h7M355,438h7M371,462h7M205,349h7M527,538h7M275,586h7M105,613h7M447,455h7M431,164h7M394,580h7M101,396h7M59,405h7M439,481h7M7,419h7M133,389h7M112,319h7M443,500h7" stroke="#111" stroke-width="7" fill="none"/>
<path d="M522,345l6-2 6 2 3 2 3 3 3 4 2 3 2 3 2 4 2 5 1 3 2 6 1 3 2 6 1 3 3 6 1 3 2 6 1 3 1 6 0 6 0 6 0 6-1 6-1 6 0 3-1 6-2 6-1 3-2 6-1 3-2 4-2 5-2 3-2 5-2 4-2 3-2 6-1 3-2 4-3 4-3 3-3 3-3 2-3 2-6 2-3 2-6 2-3 1-6 1-3 1-6 0-3-1-5-2-4-2-3-3-3-2-3-2-5-3-3-3-3-3-3-3-2-3-2-3-3-6-1-3 0-6 1-3 1-6 1-6 0-6 1-5 1-4 1-6 1-6 0-3 3-6 1-3 2-6 1-3 2-3 3-4 3-5 2-3 2-3 2-3 3-4 3-5 3-3 3-3 3-2 3-3 3-3 2-4 2-3 2-5 1-4 2-3 3-4 3-3 3-3 3-3 3-2zM0,446l3-2 6-2 3-1 5-3 4-3 3-2 3-1 6-3 3-3 3-3 2-3 3-3 2-3 3-3 5-3 3 0 3 1 6 1 6 1 6-1 6-1 3-1 6-2 3-1 6-3 3-2 6-1 3 0 6-1 6 0 6 0 5-2 4-2 4-1 4-3 3-3 4-2 6-1 5 0 4 0 4 0 5 0 6 0 3 0 5-3 2-3 2-3 4-3 5-2 3-2 6 1 3 0 6 1 6 0 6 1 4 1 5 2 6 1 6 0 6-3 3-3 3-2 6-1 6 0 6 2 3 3 3 3 3 2 6 1 3 1 6 3 2 3 2 3 3 3 5 3 3 3 2 3 3 3 4 3 2 3 1 3 3 6 3 3 3 3 2 3 1 3 3 6 1 3 0 6 1 6 1 5 0 4 0 3-1 6 0 6 1 6 0 3 2 6 1 3 3 5 1 4 1 6-1 6-1 3-3 4-3 5-1 3-3 3-3 3-4 3-4 3-3 2-3 3-3 3-3 3-3 3-3 4-3 3-3 2-6 1-3 0-6 3-3 2-3 1-6 3-3 2-3 2-6 2-3 2-3 2-4 2-5 3-3 1-6 1-5 1-4 1-6 1-6 0-6-1-6 0-6 1-6 0-6 1-3 1-6 1-6 0-6 1-3 1-6 1-6 0-6 0-6 0-5 1-4 1-6 1-3 1-6 3-3 1-5 2-4 1-6 0-6-1-3-1-6-2-3 0-6-1-6 1-6-1-6 0-6 1-3 0-6 0-6 0-6 0-6 1-6-1-3 0-6-1-6-1-4-1-5-3-3-2-3-2-3-2" fill="none" stroke="#1e1e1e" stroke-width="27" stroke-dasharray="9 3 5 3 14 4 6 2"/>
<path d="M522,345l6-2 6 2 3 2 3 3 3 4 2 3 2 3 2 4 2 5 1 3 2 6 1 3 2 6 1 3 3 6 1 3 2 6 1 3 1 6 0 6 0 6 0 6-1 6-1 6 0 3-1 6-2 6-1 3-2 6-1 3-2 4-2 5-2 3-2 5-2 4-2 3-2 6-1 3-2 4-3 4-3 3-3 3-3 2-3 2-6 2-3 2-6 2-3 1-6 1-3 1-6 0-3-1-5-2-4-2-3-3-3-2-3-2-5-3-3-3-3-3-3-3-2-3-2-3-3-6-1-3 0-6 1-3 1-6 1-6 0-6 1-5 1-4 1-6 1-6 0-3 3-6 1-3 2-6 1-3 2-3 3-4 3-5 2-3 2-3 2-3 3-4 3-5 3-3 3-3 3-2 3-3 3-3 2-4 2-3 2-5 1-4 2-3 3-4 3-3 3-3 3-3 3-2zM0,446l3-2 6-2 3-1 5-3 4-3 3-2 3-1 6-3 3-3 3-3 2-3 3-3 2-3 3-3 5-3 3 0 3 1 6 1 6 1 6-1 6-1 3-1 6-2 3-1 6-3 3-2 6-1 3 0 6-1 6 0 6 0 5-2 4-2 4-1 4-3 3-3 4-2 6-1 5 0 4 0 4 0 5 0 6 0 3 0 5-3 2-3 2-3 4-3 5-2 3-2 6 1 3 0 6 1 6 0 6 1 4 1 5 2 6 1 6 0 6-3 3-3 3-2 6-1 6 0 6 2 3 3 3 3 3 2 6 1 3 1 6 3 2 3 2 3 3 3 5 3 3 3 2 3 3 3 4 3 2 3 1 3 3 6 3 3 3 3 2 3 1 3 3 6 1 3 0 6 1 6 1 5 0 4 0 3-1 6 0 6 1 6 0 3 2 6 1 3 3 5 1 4 1 6-1 6-1 3-3 4-3 5-1 3-3 3-3 3-4 3-4 3-3 2-3 3-3 3-3 3-3 3-3 4-3 3-3 2-6 1-3 0-6 3-3 2-3 1-6 3-3 2-3 2-6 2-3 2-3 2-4 2-5 3-3 1-6 1-5 1-4 1-6 1-6 0-6-1-6 0-6 1-6 0-6 1-3 1-6 1-6 0-6 1-3 1-6 1-6 0-6 0-6 0-5 1-4 1-6 1-3 1-6 3-3 1-5 2-4 1-6 0-6-1-3-1-6-2-3 0-6-1-6 1-6-1-6 0-6 1-3 0-6 0-6 0-6 0-6 1-6-1-3 0-6-1-6-1-4-1-5-3-3-2-3-2-3-2" fill="#e4e4e4" stroke="#fff" stroke-width="13"/>
<path d="M0,475l4-1 5-2 3-3 3-4 2-3 4-3 3-3 2-3 3-3 4-2 4-1 5-1 4-2 4-3 3-3 4-1 3 2 6 1 6-2 3-2 3-2 3-3 3-3 6 0 6-1 3-2 6-1 4-1 5-2 6-1 3-1 5-2 4-2 3-1 6-1 5-2 4-3 3-1 6-2 3 0 6 0 3 0 3 0 6-1 6 0 6-1 3-3 3-3 3-3 3-2 4-2 5-3 3-1 6 0 3 1 6 1 6-1 3 0 3 0 6 1 6 2 3 0 6 1 6 0 6 0 5 2 4 2 3 1 5 3 4 2 3 1 6 1 5 2 4 2 3 3 3 3 2 4 1 3 3 6 2 3 1 3 3 6 1 3 2 4 1 5-1 6 0 3-1 6-2 4-2 5 1 6 1 6 0 3 3 6 2 3 3 3 1 3 1 6-1 6 0 3-2 6-2 3-4 3-2 3-3 3-3 3-3 3-5 3-3 1-4 2-5 2-3 2-3 2-3 3-4 3-4 3-4 2-5 1-4 1-5 2-3 3-4 3-3 1-6 2-3 1-6 2-3 0-3 0-6-2-6 0-6 1-6 0-6 1-3 1-6 2-3 1-6 2-3 0-6 1-6 1-6 0-6-1-6-1-6 2-3 1-6 2-6 1-3 0-6 2-3 1-6 2-6 1-6-2-6-1-3 0-6-1-6 0-6 0-6 0-6-1-6 0-3-1-6-2-5-1-4-1-6 1-3 0-3 0-6-2-5-1-4 0-6-2-3-3-3-3-3-3-3-2" fill="#f6f6f6"/>
<path d="M0,492l6-3 3-1 6-2 3 0 6-2 3-1 6-3 3-1 5-2 3-3 2-3 5-2 5 2 4 0 3-2 3-3 3-3 3-3 3-2 6 0 6 0 6-1 3-1 6-1 6 1 6-3 2-3 2-3 4-3 4-1 6 0 6-1 5-1 4-1 3-2 3-3 4-3 5-2 6-1 3-1 6-1 5 2 4 2 6-1 3-3 3-3 3-2 3-2 5-3 2-3 2-6 2-3 4 0 4 0 4 0 4-1 6-1 6 1 3 1 6 1 6 1 5 1 4 0 3 0 3 0 4 3 2 4 3 3 4 2 5 2 3 1 6 2 3 1 6 3 3 2 3 4 1 3 2 5 1 4 0 6-1 4-3 4-2 4 0 6 0 6 1 6 1 6 0 3 1 6 1 6 1 3 2 6 0 6-2 3-5 3-4 2-4 1-5 2-3 3-3 3-3 2-3 2-3 3-3 3-3 3-3 3-4 3-4 3-4 2-4 1-5 3-3 2-4 1-5 1-5-1-4-1-6-1-3-1-6-1-6 1-3 1-6 2-3 0-5 3-4 2-6 0-6 0-3 1-5 3-4 0-3 0-6 0-3 0-6 3-3 1-6 1-4 1-5 1-6 2-3 0-3 0-6-1-6 0-6 1-3 0-6 1-6-1-3-1-5-2-4-1-4-2-5-2-5-1-4-1-6-2-3 0-6-1-4-2-3-3-4-3-4-1-6 0-6 0-6 0-5-2-4-2" fill="#ececec"/>
<path d="M0,521l3-5 3-3 2-3 2-3 2-4 3-5 3-1 6-1 6 0 4-1 4-3 4-3 3-2 4-1 5-1 6-1 4-1 4-3 2-3 2-5 3-3 3-2 6-1 5 2 4 1 6 0 6 2 3 1 6 1 6-1 3-1 6-2 3-2 3-3 5-2 4-2 3-4 2-3 3-3 4-2 3-1 6-2 5-1 4 0 6-2 6 0 3-1 5-3 4-3 3-2 3-1 6 0 6-2 3-2 3-2 5-3 4-3 3-2 3-2 6-1 6 2 4 0 5 0 6 2 3 2 3 3 3 5 3 3 3 2 3 1 6 1 5-1 2 0 5 1 2 5-2 6-1 3 1 6 1 3 0 6 2 4 2 5-1 6 2 6 1 3-1 5-1 4-2 6-1 3-3 3-4 3-3 3-3 3-2 3-2 3-3 4-3 2-6 3-3 2-1 4-1 6-1 3-4 3-5 1-4 2-5 3-3 1-6-1-3-1-6 0-6-2-3-1-6-1-5 2-4 2-3 1-6 2-4 1-5 1-3-1-6-2-6-1-6 2-3 2-3 2-6 3-3 1-3 2-6 3-3 1-5 2-4 1-6 0-6-1-3 0-6-1-6 1-3 1-6 2-3 0-3 0-6-2-3-1-5-3-4-2-4-1-5-2-3-1-5-3-4-3-3-1-4-2-5-3-3-1-6-1-6 0-6 1-6 1-6-1-3-3-3-2" fill="#dcdcdc"/>
<path d="M222,438l3-1 6-1 6-1 6 1 6 1 5 1 4 2 3 2 3 3 4 2 5 3 3 2 3 4 1 3-1 5 0 3 2 4 3 3 2 3 2 5 0 2-3 3-6 2-2 3-1 3-2 6 1 6-1 6-3 3-2 3-2 3-3 3-3 4-3 5-2 3-3 3-4 2-6 0-5 1-4 1-6-1-3-3-3-1-4 1-5 3-3 2-3 1-6 2-4 1-5 2-6 0-5-2-4-2-6 0-6 2-3 1-3 3-3 3-3 2-6 3-3 1-6 2-3 2-3 1-3 0-6-3-3-1-3-3-2-5-1-3-5-3-1 0-5 3-2 3-2 6-1 3-5 0-3-2-3-1-6-2-6 0-3-1-6-2-3-2-4-2-5-2-3-1-6-3-3-1-6-1-6 0-6-1-3 0-6-1-4-2-2-3 0-3 3-3 3-3 3-5 1-4 1-6 2-3 5-3 3 0 6-2 3-2 4-2 5-1 6 1 6-2 3-2 3-2 4-3 4-3 4-3 2-3 2-3 5-3 6 1 6 0 6 2 3 1 6 0 6 0 6-1 6 1 6 0 6 0 3-2 3-4 3-4 2-3 4-3 3-2 3-1 6-2 5-1 4-2 3-1 5-3 4-3 3-3 3-2 3-3 3-1 6 0 6-1 6-2z" fill="#c6c6c6"/>
<path d="M224,450l4-1 3 1 6 2 3 2 3 3 3 4 3 2 6 1 5 1 1 3 2 6 1 6 0 3 1 6-1 6-1 3-2 6 0 3-2 6-1 3-3 5-3 2-3 2-6 3-3 0-4 0-5-1-6-2-3 0-4 0-5 3-2 3-4 3-3 1-6 2-3 1-6 1-3-2-3-3-4-3-5-1-3 1-4 3-3 3-5 3-3 1-3 2-4 3-5 1-6 2-3 1-6-1-1-3-2-6-3-2-3-1-6-1-6-1-4-1-5-1-5-2-3-3-3-3-4-2-3 2-3 4-6 2-3 3-2 3-2 3-5 2-6-1-3-2-3-3-3-2-6-1-6 0-3-2-1-6 1-5 3-2 6 0 3-3 3-3 3-2 6-1 6 0 6 1 3 0 6 1 3-2 3-5 1-3 2-4 3-3 4-2 5-1 6-1 3-1 6-1 6 1 3 1 4 2 3 3 3 3 5 1 6 0 4 2 5 2 6 1 3 0 6 1 6 0 6-1 3-1 5-2 3-3-1-6-3-3-2-3 1-4 3-4 1-4 1-6 3-3 4-2 5-1 4-1 6 1 5-3 2-3 3-3 4-3z" fill="#bebebe"/>
<path d="M226,462l5-1 3 1 3 4 3 4 6 1 3 1 4 2 3 3 2 5 1 4 1 6-2 6-1 3-2 5-1 4-2 3-3 3-6 3-3 1-6 1-6-1-4-1-5-3-3-2-2-4 2-6 0-3-1-3-5-2-4-1 1-3 0-4-3-3-2-5 2-5 3-2 6-1 5-1 4-3 1-3 3-3zM99,498l3 0 6-2 6-1 6 2 3 3 3 3 3 2 6 2 3 0 6 2 3 2 3 4 3 4 1 3-1 3-3 4-3 4-3 4-3 1-5-1-4-2-3-1-6-2-6-1-3-1-6-2-3-1-5-2-3-3-3-3-3-3-2-3 0-6 1-3 3-4 6-2zM188,516l4-1 6 0 3 1 1 6-1 4-3 2-6 1-3-2-3-4-1-4 3-3z" fill="#d2d2d2"/>
<path d="M233,486l4-2 6 0 6 0 3 4 1 4-1 4-2 5-3 3-4 0-3-1-6-2-2-3-1-3 0-6 2-3zM112,507l5-2 3 3 1 5 2 5 6-1 3-2 6 0 3 4 1 3-1 5-3 1-3 0-6-1-6-2-3-2-3-2-4-2-1-6 0-6z" fill="#e8e8e8"/>
<path d="M524,354l4-1 5 1 4 3 2 3 2 3 2 3 3 5 2 4 1 5 1 4 2 6 1 3 2 6 1 3 1 6 1 6 0 6 0 6 0 4 0 5 0 6 0 3-1 6-1 6-1 6-1 3-2 5-2 4-2 3-2 4-3 5-2 3-1 3-3 6-1 3-3 3-4 3-4 2-3 2-3 2-6 2-6 1-3 1-6 1-5-2-3-3-3-3-4-3-3-1-3-2-4-3-3-3-2-3-3-4-2-5-1-6 1-6 1-6 1-4 1-5 0-6 0-6 1-6 2-3 3-3 3-3 2-3 3-5 3-4 1-3 2-6 1-3 2-3 3-6 1-3 2-3 3-4 3-4 3-4 2-3 1-3 3-5 2-4 2-3 3-3 3-3 4-3z" fill="#f4f4f4"/>
<path d="M521,369l4-1 6 0 3 1 4 3 2 3 3 6 1 3 2 6 1 3 2 6 1 3 1 6 1 6 0 3 0 5 0 4 0 6 0 6-1 6 0 6 0 6-2 6-1 3-2 4-3 5-2 3-2 3-2 4-2 5-2 3-2 3-4 3-5 3-3 1-6-1-3 0-6-2-3-2-6-2-3-1-4-2-4-3-4-3-2-3-1-3-1-6 1-6 0-3 2-6 1-4 1-5 2-4 2-5 1-3 2-6 2-3 2-6 1-3 1-6 1-3 3-6 1-3 2-6 2-3 2-3 2-3 3-5 2-4 2-3 3-3 4-3z" fill="#e2e2e2"/>
<path d="M520,375l5-2 6 1 3 2 3 2 3 5 2 4 1 3 2 6 1 3 2 6 1 6 0 3 1 6 0 6-1 6 0 3-1 6 0 6 0 6-1 6-1 3-3 6-2 3-2 3-2 4-3 5-2 3-2 3-3 3-5 2-6 0-6-1-3-2-4-2-5-2-3-1-4-3-3-3-2-4-1-5 1-3 3-4 2-5-1-6 0-6 1-6 1-5 1-4 2-6 1-3 1-6 1-3 2-6 1-3 2-6 1-3 3-4 3-4 2-4 2-3 2-3 4-3z" fill="#bdbdbd"/>
<path d="M518,378l4-2 6-1 6 3 3 3 2 3 2 3 2 6 1 3 2 6 1 3 1 6 1 6 0 6-1 6 0 6-1 6 0 6 0 6-1 3-2 6-1 3-3 6-2 3-2 3-2 4-3 4-3 4-3 2-6 1-6-1-3-2-5-3-4-2-3-2-3-2-3-3-2-6 2-6 1-3 0-6-1-6 0-3 0-3 1-6 1-6 1-3 2-6 1-4 1-5 2-5 1-4 2-6 2-3 2-3 2-3 3-5 2-4 3-3z" fill="#6a6a6a"/>
<path d="M519,381l3-2 6 0 5 2 3 3 2 3 2 4 2 5 1 3 2 6 1 5 1 4 0 6 0 6 0 6-1 3-1 6 0 6-1 6-1 6-1 3-2 4-3 5-2 3-2 3-2 4-3 3-3 2-6 1-4-1-5-3-3-2-3-2-3-3-3-4-1-4 1-6-1-6-1-6-1-6 1-6 1-6 1-4 1-5 2-6 1-3 1-6 1-3 2-6 2-3 2-3 3-4 3-5 3-3z" fill="#101010"/>
<path d="M520,393l5-3 6 3 3 3 2 3 1 3 2 6 1 4 1 5 1 6-1 6-1 5-1 4-1 6-1 6-1 3-2 5-2 4-3 3-4 3-3 1-5-1-4-2-2-4-1-4-2-5-1-4-1-5-1-6-1-6 1-6 2-6 0-3 2-6 1-4 3-5 2-3 2-3 3-3z" fill="#f4f4f4"/>
<path d="M524,354l4-1 5 1 4 3 2 3 2 3 2 3 3 5 2 4 1 5 1 4 2 6 1 3 2 6 1 3 1 6 1 6 0 6 0 6 0 4 0 5 0 6 0 3-1 6-1 6-1 6-1 3-2 5-2 4-2 3-2 4-3 5-2 3-1 3-3 6-1 3-3 3-4 3-4 2-3 2-3 2-6 2-6 1-3 1-6 1-5-2-3-3-3-3-4-3-3-1-3-2-4-3-3-3-2-3-3-4-2-5-1-6 1-6 1-6 1-4 1-5 0-6 0-6 1-6 2-3 3-3 3-3 2-3 3-5 3-4 1-3 2-6 1-3 2-3 3-6 1-3 2-3 3-4 3-4 3-4 2-3 1-3 3-5 2-4 2-3 3-3 3-3 4-3zM0,475l4-1 5-2 3-3 3-4 2-3 4-3 3-3 2-3 3-3 4-2 4-1 5-1 4-2 4-3 3-3 4-1 3 2 6 1 6-2 3-2 3-2 3-3 3-3 6 0 6-1 3-2 6-1 4-1 5-2 6-1 3-1 5-2 4-2 3-1 6-1 5-2 4-3 3-1 6-2 3 0 6 0 3 0 3 0 6-1 6 0 6-1 3-3 3-3 3-3 3-2 4-2 5-3 3-1 6 0 3 1 6 1 6-1 3 0 3 0 6 1 6 2 3 0 6 1 6 0 6 0 5 2 4 2 3 1 5 3 4 2 3 1 6 1 5 2 4 2 3 3 3 3 2 4 1 3 3 6 2 3 1 3 3 6 1 3 2 4 1 5-1 6 0 3-1 6-2 4-2 5 1 6 1 6 0 3 3 6 2 3 3 3 1 3 1 6-1 6 0 3-2 6-2 3-4 3-2 3-3 3-3 3-3 3-5 3-3 1-4 2-5 2-3 2-3 2-3 3-4 3-4 3-4 2-5 1-4 1-5 2-3 3-4 3-3 1-6 2-3 1-6 2-3 0-3 0-6-2-6 0-6 1-6 0-6 1-3 1-6 2-3 1-6 2-3 0-6 1-6 1-6 0-6-1-6-1-6 2-3 1-6 2-6 1-3 0-6 2-3 1-6 2-6 1-6-2-6-1-3 0-6-1-6 0-6 0-6 0-6-1-6 0-3-1-6-2-5-1-4-1-6 1-3 0-3 0-6-2-5-1-4 0-6-2-3-3-3-3-3-3-3-2M523,363l5-2 6 2 3 3 3 3 2 3 2 3 2 6 1 3 2 6 0 3 2 6 1 3 2 6 0 6 0 6 0 6 0 6 0 6 0 6 0 6-1 6-1 5-1 4-2 3-3 6-2 3-2 3-2 4-2 5-2 3-2 3-3 5-3 2-4 2-5 2-6 1-6-1-6-1-3-1-6-2-3-1-6-3-3-2-3-3-3-4-2-3-1-4-1-5 1-6 0-3 1-6 1-6 1-4 1-5 2-3 3-5 3-4 1-3 2-4 2-5 1-3 1-6 2-4 2-5 2-3 2-5 2-4 2-3 2-3 3-5 3-4 1-3 2-3 3-4 3-3 4-2zM0,485l5-2 4-2 3-1 6-2 3-2 3-3 3-3 6-2 3-1 3-3 3-4 3-1 6-1 6-1 3-2 6-2 3-1 4-2 5-2 6 1 6-1 6-1 3 0 6-2 3-2 3-3 3-3 3-2 6-2 6-1 3-1 6-2 3-1 6 0 5-2 3-3 2-3 5-3 6 1 6 0 6 0 6 1 6-2 3-2 3-2 3-3 2-5 1-3 3-3 6-2 6-1 3 0 6 0 6-1 6 1 3 0 6 1 6 1 3 1 6 2 5 1 4 0 6 2 3 1 3 3 3 4 5 2 4 1 6 0 6 0 4 2 2 4 2 5 2 3 2 4 2 5 2 3 2 6 0 3 0 3 0 6-2 6-2 3-2 3-1 6 1 6 1 3 1 6 1 6 1 3 2 3 2 6 0 6-1 6-1 3-3 5-3 2-5 2-4 2-3 1-5 3-4 2-3 2-3 2-3 3-3 3-3 4-3 2-6 2-3 1-5 3-4 2-3 2-4 2-5 2-4 1-5 1-6-1-3 0-6-1-6-2-3 0-3 0-6 2-3 1-4 3-5 2-3 1-6 1-6 1-4 1-5 1-6 0-3-1-6-1-4 1-5 2-4 1-5 1-6 2-3 0-6 2-6 1-6-1-6 0-6 0-6 0-6 1-6-2-5-1-4-1-6-2-3-1-6 0-6-1-4-1-5-1-6 0-6-1-3-2-6-2-3 0-5-3-4-2-3-2-5-2-4-2M521,369l4-1 6 0 3 1 4 3 2 3 3 6 1 3 2 6 1 3 2 6 1 3 1 6 1 6 0 3 0 5 0 4 0 6 0 6-1 6 0 6 0 6-2 6-1 3-2 4-3 5-2 3-2 3-2 4-2 5-2 3-2 3-4 3-5 3-3 1-6-1-3 0-6-2-3-2-6-2-3-1-4-2-4-3-4-3-2-3-1-3-1-6 1-6 0-3 2-6 1-4 1-5 2-4 2-5 1-3 2-6 2-3 2-6 1-3 1-6 1-3 3-6 1-3 2-6 2-3 2-3 2-3 3-5 2-4 2-3 3-3 4-3zM0,492l6-3 3-1 6-2 3 0 6-2 3-1 6-3 3-1 5-2 3-3 2-3 5-2 5 2 4 0 3-2 3-3 3-3 3-3 3-2 6 0 6 0 6-1 3-1 6-1 6 1 6-3 2-3 2-3 4-3 4-1 6 0 6-1 5-1 4-1 3-2 3-3 4-3 5-2 6-1 3-1 6-1 5 2 4 2 6-1 3-3 3-3 3-2 3-2 5-3 2-3 2-6 2-3 4 0 4 0 4 0 4-1 6-1 6 1 3 1 6 1 6 1 5 1 4 0 3 0 3 0 4 3 2 4 3 3 4 2 5 2 3 1 6 2 3 1 6 3 3 2 3 4 1 3 2 5 1 4 0 6-1 4-3 4-2 4 0 6 0 6 1 6 1 6 0 3 1 6 1 6 1 3 2 6 0 6-2 3-5 3-4 2-4 1-5 2-3 3-3 3-3 2-3 2-3 3-3 3-3 3-3 3-4 3-4 3-4 2-4 1-5 3-3 2-4 1-5 1-5-1-4-1-6-1-3-1-6-1-6 1-3 1-6 2-3 0-5 3-4 2-6 0-6 0-3 1-5 3-4 0-3 0-6 0-3 0-6 3-3 1-6 1-4 1-5 1-6 2-3 0-3 0-6-1-6 0-6 1-3 0-6 1-6-1-3-1-5-2-4-1-4-2-5-2-5-1-4-1-6-2-3 0-6-1-4-2-3-3-4-3-4-1-6 0-6 0-6 0-5-2-4-2M521,372l4-1 6 0 3 2 3 2 3 4 2 5 1 3 3 6 0 3 2 6 1 3 1 6 1 6 0 6 0 6-1 6-1 6 0 6 0 6 0 3-2 6-1 3-3 6-2 3-2 3-2 4-3 5-2 3-2 3-3 3-5 3-3 0-3 0-6-2-3-1-6-3-3 0-6-3-3-2-3-3-3-3-2-4 0-6 2-6 2-3 2-3-1-6 1-6 1-6 1-3 2-6 1-3 2-6 1-4 1-5 2-5 1-4 2-5 2-4 2-3 2-3 3-5 2-4 2-3 3-3 4-3zM0,508l3-4 2-3 1-3 3-3 6-3 3-1 6 0 6-1 3-1 5-3 4-2 3-2 3-2 6-2 6 0 4-1 2-3 3-5 3-3 3-2 6-2 6 1 6 0 4-1 5 0 3 1 6 1 6-1 4-1 5-3 2-3 4-2 3-2 4-2 5-2 3-1 6-3 3-1 3-2 6-2 4-1 5-2 6 0 6 2 6-2 3-2 3-3 3-2 6-2 6-1 3-2 3-2 3-2 4-3 5-3 3-2 3-2 6 0 3 1 6 2 6 0 6 1 3 0 4 3 2 3 3 3 3 3 6 2 6 1 3 0 6 1 4 2 4 3 0 6-2 6 0 3 0 4 1 5 0 6 2 6 0 3 0 3 0 3 1 6 1 6-1 6 0 6 0 6 1 6-2 3-6 3-6 0-3 1-3 4-3 4-3 3-3 3-3 2-3 3-3 4-1 3-3 3-4 3-4 1-5 2-4 3-3 1-6 1-6-1-4-1-5-1-6-2-6 1-6 2-3 1-6 1-5 1-4 2-6 0-5-2-4 0-3 1-5 2-4 1-6 2-3 1-3 2-6 3-3 1-6 1-3 1-6 1-6 1-6-1-3-1-6 0-3 1-6 2-3 0-6 0-3 0-6-3-3-1-4-2-5-2-3-1-6-2-3-1-6-3-3-1-6-2-3-2-3-3-3-1-6-1-6 0-5 1-4 1-5-1-4-2-3-2M520,375l5-2 6 1 3 2 3 2 3 5 2 4 1 3 2 6 1 3 2 6 1 6 0 3 1 6 0 6-1 6 0 3-1 6 0 6 0 6-1 6-1 3-3 6-2 3-2 3-2 4-3 5-2 3-2 3-3 3-5 2-6 0-6-1-3-2-4-2-5-2-3-1-4-3-3-3-2-4-1-5 1-3 3-4 2-5-1-6 0-6 1-6 1-5 1-4 2-6 1-3 1-6 1-3 2-6 1-3 2-6 1-3 3-4 3-4 2-4 2-3 2-3 4-3zM0,521l3-5 3-3 2-3 2-3 2-4 3-5 3-1 6-1 6 0 4-1 4-3 4-3 3-2 4-1 5-1 6-1 4-1 4-3 2-3 2-5 3-3 3-2 6-1 5 2 4 1 6 0 6 2 3 1 6 1 6-1 3-1 6-2 3-2 3-3 5-2 4-2 3-4 2-3 3-3 4-2 3-1 6-2 5-1 4 0 6-2 6 0 3-1 5-3 4-3 3-2 3-1 6 0 6-2 3-2 3-2 5-3 4-3 3-2 3-2 6-1 6 2 4 0 5 0 6 2 3 2 3 3 3 5 3 3 3 2 3 1 6 1 5-1 2 0 5 1 2 5-2 6-1 3 1 6 1 3 0 6 2 4 2 5-1 6 2 6 1 3-1 5-1 4-2 6-1 3-3 3-4 3-3 3-3 3-2 3-2 3-3 4-3 2-6 3-3 2-1 4-1 6-1 3-4 3-5 1-4 2-5 3-3 1-6-1-3-1-6 0-6-2-3-1-6-1-5 2-4 2-3 1-6 2-4 1-5 1-3-1-6-2-6-1-6 2-3 2-3 2-6 3-3 1-3 2-6 3-3 1-5 2-4 1-6 0-6-1-3 0-6-1-6 1-3 1-6 2-3 0-3 0-6-2-3-1-5-3-4-2-4-1-5-2-3-1-5-3-4-3-3-1-4-2-5-3-3-1-6-1-6 0-6 1-6 1-6-1-3-3-3-2M518,378l4-2 6-1 6 3 3 3 2 3 2 3 2 6 1 3 2 6 1 3 1 6 1 6 0 6-1 6 0 6-1 6 0 6 0 6-1 3-2 6-1 3-3 6-2 3-2 3-2 4-3 4-3 4-3 2-6 1-6-1-3-2-5-3-4-2-3-2-3-2-3-3-2-6 2-6 1-3 0-6-1-6 0-3 0-3 1-6 1-6 1-3 2-6 1-4 1-5 2-5 1-4 2-6 2-3 2-3 2-3 3-5 2-4 3-3zM0,529l3-3 3-2 3-2 3-6 0-3 3-6 3-3 3-3 3 0 6-1 6-2 3-2 3-3 3-1 6 0 3 0 3 0 5-3 4-2 3-2 3-3 3-5 1-3 2-3 6-1 4 1 5 2 6 0 4 1 5 2 6 1 6-2 6 0 3-1 6-3 3-2 3-1 4-3 3-3 2-3 3-4 3-2 6-3 3-1 5 1 4 1 4-1 5-2 3-2 4-2 4-3 4-3 3-2 6-1 6 0 3-1 3-2 6-3 3-2 3-1 4-3 5-2 6 0 6 0 6 0 5 2 3 3 1 3 1 6 2 4 6 2 3 1 3 3 3 3 3 2 3 4 3 5 1 3-1 3 0 4 3 5 2 3 1 6 1 3 0 6-1 4-3 3-5 2-4 3-1 3-2 6 0 3-3 4-3 3-4 2-3 3-4 3-3 3 0 6-1 6-3 3-3 1-6 2-3 1-6 0-3-1-4 0-5 1-5-1-4-2-5-1-1 0-6 2-3 2-4 2-5 2-5 1-4 0-3 0-6-3-3 0-6-1-4 1-4 3-3 3-4 2-3 2-4 2-5 2-3 2-5 2-4 1-6-1-3-1-6-1-6 0-6 1-3 1-6 2-6 0-6-2-3-2-3-1-6-3-3-1-5-2-4-2-3-3-3-2-5-2-4-2-3-2-6-2-6 0-6 0-6 1-6 1-6-1-3-3-3-3M521,378l4-1 6 1 3 2 3 3 2 4 2 3 2 6 1 3 2 6 1 3 1 6 0 6 0 6-1 6 0 6-1 5 0 4-1 6-1 6-1 3-3 6-2 3-1 3-3 4-3 5-3 3-3 2-3 1-5 0-4-1-3-2-5-3-4-3-3-3-3-3-1-3 1-6 1-3 0-6-1-3-1-6 0-6 1-5 1-4 1-6 1-3 2-6 1-5 1-4 2-6 1-3 2-3 3-4 3-5 2-3 2-3 4-3zM252,426l6-1 3 4 0 3 2 6 2 3 4 3 4 2 3 2 3 2 4 3 3 3 2 6-1 6 1 3 3 4 3 4 1 4 0 6-1 3-3 3-6 2-3 4-1 3 0 6-2 6-3 2-3 2-3 3-3 4-3 3-3 4 0 3-2 6-3 3-4 2-6 0-6-1-6 1-3 1-3 0-6-3-3-1-5 1-4 2-3 1-6 3-3 1-6 2-3 0-3-1-6-2-3-1-6-1-6 2-3 2-3 3-3 3-3 2-5 2-4 2-3 1-5 3-4 1-4-1-5-2-4-1-5-1-6-1-3 2-5 3-4 1-6-1-3-2-3-2-6-1-3-1-6-2-3-2-4-2-4-3-4-2-3-1-6-3-3-1-6-2-6 0-6 0-6 1-6 1-5-2-3-3-1-3-1-6 2-3 3-3 5-3 3-3 0-3 1-6 2-3 3-3 6-3 3 0 6-2 3-2 3-3 6-1 6 1 6-2 3-2 3-2 3-2 4-3 3-3 2-4 3-5 3-1 3 1 6 1 6 1 5 1 4 1 6 1 6-1 6 0 6-1 3 0 6-1 4-2 2-3 3-5 3-4 3-2 3-2 6-2 6 0 3 0 6-2 3-1 4-3 4-3 4-3 3-3 3-2 3-1 6 0 3 0 3-1 5-2 4-2 3-1 6-2 3-1 4 0 5 1 4-1 2-3zM519,381l3-2 6 0 5 2 3 3 2 3 2 4 2 5 1 3 2 6 1 5 1 4 0 6 0 6 0 6-1 3-1 6 0 6-1 6-1 6-1 3-2 4-3 5-2 3-2 3-2 4-3 3-3 2-6 1-4-1-5-3-3-2-3-2-3-3-3-4-1-4 1-6-1-6-1-6-1-6 1-6 1-6 1-4 1-5 2-6 1-3 1-6 1-3 2-6 2-3 2-3 3-4 3-5 3-3zM222,438l3-1 6-1 6-1 6 1 6 1 5 1 4 2 3 2 3 3 4 2 5 3 3 2 3 4 1 3-1 5 0 3 2 4 3 3 2 3 2 5 0 2-3 3-6 2-2 3-1 3-2 6 1 6-1 6-3 3-2 3-2 3-3 3-3 4-3 5-2 3-3 3-4 2-6 0-5 1-4 1-6-1-3-3-3-1-4 1-5 3-3 2-3 1-6 2-4 1-5 2-6 0-5-2-4-2-6 0-6 2-3 1-3 3-3 3-3 2-6 3-3 1-6 2-3 2-3 1-3 0-6-3-3-1-3-3-2-5-1-3-5-3-1 0-5 3-2 3-2 6-1 3-5 0-3-2-3-1-6-2-6 0-3-1-6-2-3-2-4-2-5-2-3-1-6-3-3-1-6-1-6 0-6-1-3 0-6-1-4-2-2-3 0-3 3-3 3-3 3-5 1-4 1-6 2-3 5-3 3 0 6-2 3-2 4-2 5-1 6 1 6-2 3-2 3-2 4-3 4-3 4-3 2-3 2-3 5-3 6 1 6 0 6 2 3 1 6 0 6 0 6-1 6 1 6 0 6 0 3-2 3-4 3-4 2-3 4-3 3-2 3-1 6-2 5-1 4-2 3-1 5-3 4-3 3-3 3-2 3-3 3-1 6 0 6-1 6-2zM521,381l4-1 5 1 4 3 2 3 2 3 2 4 2 5 1 3 2 6 1 6 0 3 0 6 0 5 0 4-1 6-1 6 0 6-1 3-1 6-2 4-3 5-1 3-2 3-3 4-3 4-3 2-6 0-4-1-5-3-3-2-3-3-3-3-1-4 0-6 0-6-2-6-1-3 0-6 1-6 0-3 1-6 2-5 1-4 1-6 1-3 2-6 1-3 3-4 3-4 2-4 3-3 3-3zM224,441l4-1 6 1 6-1 6 0 3 1 6 3 3 2 3 1 6 3 3 2 3 2 2 5-2 6 0 3 0 4 2 5-2 6 0 3-1 6-1 6-1 3-1 6-2 6-1 3-2 3-3 5-3 4-2 3-3 3-4 2-3 1-6 1-6-1-3-2-3-1-6-1-3 1-4 3-3 3-5 3-4 0-5 1-5 2-4 2-5-2-4-2-3-1-6 0-3 1-4 2-5 3-3 2-3 2-3 2-6 2-3 1-6 3-3 1-6 0-3-2-3-5-1-3-2-5-3-2-6-1-6 2-3 2-3 2-5 2-4 1-6 0-4-1-5-1-6 0-6-2-3-1-6-2-3-2-3-1-6-2-6 0-6 0-3-1-3-3-2-6 1-6 1-3 1-6 2-3 5-3 4-1 6-2 3-2 3-1 6-1 6 0 5-2 4-2 3-1 3-3 3-3 5-3 3-3 2-3 5-2 6 0 6 1 6 1 3 0 6 0 6 0 6 1 6 1 6 1 6-2 3-2 3-3 3-4 3-2 6 0 4-2 2-3 4-3 5-3 3-2 3-1 4-3 3-3 4-3 4-3 3-1 6-1 5-1 4-1 5-2zM519,384l6-2 6 2 3 2 3 4 2 3 1 3 2 6 1 4 1 5 1 6 1 6-1 6-1 6-1 6 0 3 0 6-2 6-1 4-2 5-2 3-2 3-3 5-3 4-3 1-6 1-4-2-5-3-3-2-3-3-2-4 0-6-1-6 0-3-2-6 0-6 0-6 1-6 1-4 1-5 2-6 0-3 2-6 1-3 3-5 3-4 2-3 2-3 2-3zM225,444l3 0 3 0 6 1 6 0 6 2 3 3 3 1 6 0 5 2 4 3 1 3-1 3-2 6 0 6 1 6 0 6 0 6-2 6 0 3-2 6-1 4-2 5-1 3-3 4-3 4-3 3-3 2-6 2-6 0-6-3-3-1-6-1-4 2-4 3-3 3-4 2-6 1-3 1-5 2-4 1-4-1-4-3-4-2-6 1-3 1-4 3-5 3-3 2-3 2-5 2-4 1-5 2-4 1-5 2-1 0-5-3-1-3-1-6-2-3-6-2-6 0-5-1-1 0-6 3-3 2-3 1-6 1-3-2-6-1-6 2-3 0-6 0-3-1-6-2-3-1-3-2-6-1-6-1-6-1-3-3-1-3 0-6 1-3 2-6 3-3 4-1 6-2 3-2 3-1 6-1 6-1 4-1 5-1 6-2 3-3 2-3 4-3 3-2 3-2 3-3 6 0 6 0 6 0 6 0 6 1 5 0 4 2 3 3 6 0 6-2 3 0 6-2 3-3 3-2 6-1 3-1 6-2 3-1 3-3 1-6 2-3 4-3 4-3 4-3 3-2 3-2 6 0 6-2 3-2 3-2 6-2zM522,384l3-1 4 1 4 3 3 3 1 3 3 5 1 4 2 6 1 3 1 6 0 6 0 6-1 6-1 3-1 6 0 6-2 6-1 3-2 5-2 4-2 3-2 3-3 4-5 2-2 0-5-2-3-1-5-3-3-3-1-4 0-5-1-6-2-6 0-3-1-6 0-6 1-6 0-3 2-6 1-4 1-5 2-6 1-3 2-4 3-4 3-4 2-3 4-3zM224,447l4 0 3 0 6 2 3 1 5 3 2 3 2 3 5 0 3-3 4-1 4 1 1 6-2 6 1 6 1 6 1 6 0 6-2 6-1 4-1 5-2 5-1 4-2 4-3 3-3 3-3 2-6 2-6 1-6-2-3-1-6-1-4 1-4 3-3 3-4 2-3 1-6 2-3 1-6 2-4-2-3-3-5-3-3 0-3 1-3 2-4 3-5 3-3 2-3 2-5 2-4 1-6 2-3 1-6 1-3-3-1-5-2-5-3-2-6 0-6-1-3-1-6-1-6 0-5-2-4 0-6 0-3 0-3 3-3 4-3 2-6 1-5-1-4-2-3-2-4-2-5-1-6 0-5-2-2-3 0-6 1-6 3-3 3-1 6-2 3-2 3-2 6-1 6-1 3 0 6-1 6 0 3-2 3-3 3-5 3-3 3-2 5-2 4 0 6-1 6-1 6 0 6 1 5 1 3 3 2 3 5 1 4-1 5-1 3 1 3 4 6 2 6-2 2-4-1-6 3-3 5-2 3-2 5-2 4-3 1-3 1-6 2-3 5-3 3-2 3-2 6-1 6 1 3-2 3-3 3-3 5-3zM177,490l-2 2-1 1-1 2 1 2 1 1 2 1 3-1 3-3-2-3-1-1-3-1zM520,387l5-3 6 2 3 3 2 4 2 3 2 5 1 4 2 6 1 3 0 6 0 6-1 6 0 3-1 6-1 6-1 6-1 3-2 6-2 3-2 3-2 4-3 4-3 2-6 0-3-2-5-2-4-3-1-3-1-6-1-6-1-3-1-6-1-5 0-4 0-3 1-6 1-6 1-4 1-5 1-6 1-3 3-5 3-4 2-3 2-3 3-3zM224,450l4-1 3 1 6 2 3 2 3 3 3 4 3 2 6 1 5 1 1 3 2 6 1 6 0 3 1 6-1 6-1 3-2 6 0 3-2 6-1 3-3 5-3 2-3 2-6 3-3 0-4 0-5-1-6-2-3 0-4 0-5 3-2 3-4 3-3 1-6 2-3 1-6 1-3-2-3-3-4-3-5-1-3 1-4 3-3 3-5 3-3 1-3 2-4 3-5 1-6 2-3 1-6-1-1-3-2-6-3-2-3-1-6-1-6-1-4-1-5-1-5-2-3-3-3-3-4-2-3 2-3 4-6 2-3 3-2 3-2 3-5 2-6-1-3-2-3-3-3-2-6-1-6 0-3-2-1-6 1-5 3-2 6 0 3-3 3-3 3-2 6-1 6 0 6 1 3 0 6 1 3-2 3-5 1-3 2-4 3-3 4-2 5-1 6-1 3-1 6-1 6 1 3 1 4 2 3 3 3 3 5 1 6 0 4 2 5 2 6 1 3 0 6 1 6 0 6-1 3-1 5-2 3-3-1-6-3-3-2-3 1-4 3-4 1-4 1-6 3-3 4-2 5-1 4-1 6 1 5-3 2-3 3-3 4-3zM521,387l4-1 5 1 3 3 2 3 2 3 3 6 1 3 1 6 1 4 1 5 0 6-1 5-1 4-1 6 0 6-1 3-2 6-1 4-3 5-2 3-2 3-3 3-5 2-6-2-3-1-4-2-2-4 0-5-2-6-1-5-1-4-1-6 0-6 0-6 2-6 0-3 2-6 1-5 1-4 2-4 3-4 3-4 2-3 3-3zM225,453l3 0 3 0 6 3 3 2 3 4 3 3 3 1 6 2 3 2 2 4 1 3 1 6 1 6 0 6-2 4-2 5-1 5-1 4-2 4-3 3-3 2-6 3-3 0-6 1-3-1-6-2-6-1-3 0-3 2-3 4-3 3-3 1-5 2-4 2-6 0-3-3-3-3-3-2-6-3-6 1-3 4-3 4-3 1-5 2-3 3-3 3-4 1-6 1-6 0-2-5-4-3-3-1-6-1-3-1-6-1-6-2-3-1-4-2-3-3-2-3-4-3-3-3 0-6 1-4 1-5 2-4 3-2 6-2 6 0 3-2 6-1 6 1 3 1 4 3 2 3 5 3 4 1 6 1 3 1 6 2 5 1 4 2 3 3 3 4 3 2 3-2 3-4 3-3 4-2 5-1 6-1 3-3 0-3-2-4-1-3-3-4-2-5 2-3 1-6 2-6 3-1 6-1 6-1 6 0 3-1 3-5 2-3 4-3zM48,513l3-1 6 1 3 2 3 1 3 0 6 0 3 1 1 5-1 3-4 3-3 3-2 3-3 4-6 1-5-2-2-3 0-6-2-6-2-3 2-6zM525,387l1 0 5 2 3 4 2 3 2 3 2 6 1 3 1 6 1 5 0 4 0 3-1 6-1 6-1 6 0 3-2 6-1 4-2 5-2 3-2 3-3 3-6 3-6-2-4-1-3-3-1-6-1-5-1-4-2-5-1-4-1-6 1-6 1-6 0-3 2-6 1-5 1-4 2-5 2-4 3-3 2-3 3-3 5-3zM228,456l6 2 3 1 3 4 3 3 4 2 5 2 3 1 3 4 2 5 1 5 1 4-1 6-1 3-2 5-1 4-2 6-2 3-3 3-4 2-4 1-5 1-6 0-4-1-5-2-3-1-6-1-3 2-2 5-2 3-5 3-3 1-6 2-4-3-2-3-4-3-2-4 0-5 1-3 5-2 6-1 3-1 4-2 1-6-1-6-2-3-2-3-2-6 2-3 2-6 3-3 4-2 6 0 6-1 3-3 2-3 1-3 6-3zM101,495l4-1 6-2 6 1 4 2 3 3 3 3 5 3 3 0 6 2 4 1 5 2 3 1 3 3 3 5 1 4-1 3-3 4-3 2-3 3-3 5-3 2-6 1-4-2-3-3-5-2-4-1-5-1-6-2-3 0-6-2-3-2-3-2-3-3-3-3-3-4-1-5 1-6 1-3 2-3 6-2 5-1zM60,525l3 0 2 3-2 5-3 3-6-1-1-4 2-3 5-3zM521,390l4-2 5 2 3 3 2 3 2 3 2 6 1 3 2 6 0 6 0 6 0 6-2 6 0 3-1 6-1 6-2 3-2 5-3 4-2 3-4 3-3 0-3 0-6-2-3-3-1-4-1-6-1-3-2-6-1-5-1-4 0-6 1-4 1-5 2-6 0-3 2-6 1-4 3-5 3-3 2-3 3-3zM226,462l5-1 3 1 3 4 3 4 6 1 3 1 4 2 3 3 2 5 1 4 1 6-2 6-1 3-2 5-1 4-2 3-3 3-6 3-3 1-6 1-6-1-4-1-5-3-3-2-2-4 2-6 0-3-1-3-5-2-4-1 1-3 0-4-3-3-2-5 2-5 3-2 6-1 5-1 4-3 1-3 3-3zM99,498l3 0 6-2 6-1 6 2 3 3 3 3 3 2 6 2 3 0 6 2 3 2 3 4 3 4 1 3-1 3-3 4-3 4-3 4-3 1-5-1-4-2-3-1-6-2-6-1-3-1-6-2-3-1-5-2-3-3-3-3-3-3-2-3 0-6 1-3 3-4 6-2zM188,516l4-1 6 0 3 1 1 6-1 4-3 2-6 1-3-2-3-4-1-4 3-3zM520,393l5-3 6 3 3 3 2 3 1 3 2 6 1 4 1 5 1 6-1 6-1 5-1 4-1 6-1 6-1 3-2 5-2 4-3 3-4 3-3 1-5-1-4-2-2-4-1-4-2-5-1-4-1-5-1-6-1-6 1-6 2-6 0-3 2-6 1-4 3-5 2-3 2-3 3-3zM241,477l5-1 5 1 3 3 1 3 2 6 0 6-2 4-2 5-1 3-3 4-6 1-3 1-4 3-5 2-6-1-3-2-2-5 1-6 1-3 0-6 0-3-1-6-2-6 6-3 6 1 6 0 4-1zM109,501l5-2 6 1 3 3 3 4 3 2 6 1 3 0 5 3 3 3 1 3 1 6-1 3-3 4-3 2-3 0-6-2-4-1-5-1-6-2-3-1-6-2-3-2-3-4-2-3-3-3-2-3 2-3 5-2 3-2 4-2zM520,396l5-3 6 3 3 3 1 3 2 5 1 4 2 6 0 3 0 6 0 3-1 6-2 6 0 3-2 6-1 3-3 6-2 3-4 3-3 0-3 0-4-3-2-3-3-6-1-3-1-6-1-3-1-6 0-6 1-5 1-4 1-6 1-3 3-6 2-3 2-3 3-3zM233,486l4-2 6 0 6 0 3 4 1 4-1 4-2 5-3 3-4 0-3-1-6-2-2-3-1-3 0-6 2-3zM112,507l5-2 3 3 1 5 2 5 6-1 3-2 6 0 3 4 1 3-1 5-3 1-3 0-6-1-6-2-3-2-3-2-4-2-1-6 0-6zM524,402l2 0 4 3 2 3 2 4 1 5 1 6 0 6-2 6-1 3-2 4-3 5-2 3-4 3-5-3-2-3-2-5-2-4-1-4 0-5 1-3 1-6 1-3 3-6 2-3 2-3 4-3z" fill="none" stroke="#2c2c2c" stroke-width="2.3"/>
</g>
<path d="M303.8,147q4.2,10.1 0,20.2z" fill="#111"/>
<path d="M303.8,167.1H334" stroke="#151515" stroke-width="1.4" stroke-dasharray="6 0.5 3.5 0.7 8 0.4 2 0.6" fill="none"/>
</g>
<path d="M341.8,106V168.1M303.8,141.3H366.6" stroke="#6a6a6a" stroke-width="0.5" fill="none"/>
<rect x="303.8" y="106" width="62.8" height="62.1" fill="none" stroke="#7a7a7a" stroke-width="0.6"/>
<text x="301.6" y="109" font-size="2.8" text-anchor="end" fill="#333">10⁵</text>
<text x="301.6" y="123.6" font-size="2.8" text-anchor="end" fill="#333">10⁴</text>
<text x="301.6" y="138.2" font-size="2.8" text-anchor="end" fill="#333">10³</text>
<text x="301.6" y="152.8" font-size="2.8" text-anchor="end" fill="#333">10²</text>
<text x="301.6" y="162.5" font-size="2.8" text-anchor="end" fill="#333">0</text>
<text x="311" y="173.9" font-size="2.8" text-anchor="middle" fill="#333">0</text>
<text x="317.7" y="173.9" font-size="2.8" text-anchor="middle" fill="#333">10²</text>
<text x="332.6" y="173.9" font-size="2.8" text-anchor="middle" fill="#333">10³</text>
<text x="347.8" y="173.9" font-size="2.8" text-anchor="middle" fill="#333">10⁴</text>
<text x="363.3" y="173.9" font-size="2.8" text-anchor="middle" fill="#333">10⁵</text>
<path d="M302.4,108h1.4M302.4,122.6h1.4M302.4,137.2h1.4M302.4,151.8h1.4M302.4,161.5h1.4M311,168.1v1.4M317.7,168.1v1.4M332.6,168.1v1.4M347.8,168.1v1.4M363.3,168.1v1.4" stroke="#555" stroke-width="0.5" fill="none"/>
<text x="336.2" y="177.1" font-size="3.0" text-anchor="middle" fill="#222">&lt;APC-A&gt;: GB21A</text>
<text x="304.8" y="109.8" font-size="3.5" font-weight="bold" fill="#111">0.56</text>
<text x="365.8" y="109.8" font-size="3.5" text-anchor="end" font-weight="bold" fill="#111">0.95</text>
<text x="304.8" y="167.1" font-size="3.5" font-weight="bold" fill="#111">77.7</text>
<text x="365.8" y="167.1" font-size="3.5" text-anchor="end" font-weight="bold" fill="#111">20.8</text>
<text x="347.7" y="121.2" font-size="7.6" stroke="#222" stroke-width="0.18" fill="#222">0.95</text>
<clipPath id="cp4"><rect x="377.8" y="106" width="63" height="62"/></clipPath>
<rect x="377.8" y="106" width="63" height="62" fill="#fff"/>
<g clip-path="url(#cp4)">
<g transform="translate(377.8 106) scale(0.1)">
<path d="M561,323h7M354,202h7M353,267h7M275,525h7M575,525h7M379,540h7M422,288h7M310,533h7M222,217h7M593,578h7M363,501h7M387,311h7M353,282h7M318,485h7M464,216h7M216,229h7M282,562h7M453,309h7M537,485h7M558,275h7M214,226h7M419,532h7M339,270h7M309,504h7M522,444h7M199,607h7M480,529h7M351,491h7M261,218h7M526,251h7M72,318h7M379,541h7M281,518h7M489,463h7M436,342h7M495,586h7M528,453h7M207,227h7M486,540h7M372,263h7M458,476h7M343,447h7M486,536h7M516,479h7M281,536h7M556,584h7M372,280h7M120,219h7M254,546h7M369,562h7M562,343h7M385,360h7M583,361h7M468,277h7M294,528h7M298,231h7M568,356h7M280,528h7M133,280h7M601,490h7M32,353h7M456,599h7M386,377h7M460,518h7M361,224h7M403,369h7M206,155h7M374,463h7M510,257h7M449,200h7M286,574h7M478,243h7M375,372h7M327,458h7M383,370h7M504,452h7M362,328h7M166,221h7M525,251h7M229,614h7M328,549h7M275,180h7M531,260h7M272,217h7M264,120h7M348,148h7M257,216h7M394,474h7M275,194h7M586,290h7M332,471h7M466,304h7M373,285h7M6,605h7M134,274h7M502,522h7M331,403h7M361,453h7M316,528h7M395,470h7M559,378h7M66,334h7M581,318h7M545,412h7M140,246h7M289,74h7M262,525h7M369,303h7M208,591h7M252,589h7M334,431h7M373,454h7M362,335h7M291,226h7M127,306h7M346,384h7M84,103h7M426,467h7M232,603h7M535,437h7M255,556h7M151,611h7M353,468h7M231,218h7M253,558h7M357,273h7M396,502h7M4,608h7M260,533h7M506,563h7M336,392h7M437,472h7M130,284h7M216,224h7M523,570h7M428,495h7M391,486h7M159,237h7M273,221h7M464,513h7M346,232h7M515,514h7M67,197h7M496,285h7M324,477h7M240,210h7M280,540h7M397,339h7M397,335h7M386,506h7M191,606h7M333,421h7M368,289h7M30,347h7M472,293h7M291,507h7M387,377h7M526,503h7M212,217h7M344,426h7M194,241h7M482,456h7M501,570h7M561,570h7M363,334h7M494,590h7M177,260h7M188,210h7M101,334h7M78,312h7M516,227h7M370,448h7M554,267h7M439,514h7M424,594h7M324,455h7M478,545h7M15,378h7M314,498h7M526,511h7M447,308h7M277,569h7M321,226h7M567,330h7M578,205h7M517,468h7M16,215h7M436,495h7M28,373h7M365,357h7M572,456h7M111,146h7M457,561h7M427,507h7M416,265h7M499,526h7M195,212h7M505,486h7M477,544h7M325,227h7M261,546h7M346,419h7M516,533h7M399,562h7M278,522h7M475,289h7M146,285h7M201,235h7M319,516h7M398,351h7M332,408h7M392,274h7M450,494h7M592,359h7M365,322h7M390,558h7M473,268h7M589,398h7M371,519h7M349,456h7M411,521h7M332,419h7M335,457h7M448,509h7M391,341h7M354,392h7M249,212h7M142,280h7M367,488h7M479,145h7M542,258h7M525,481h7M381,379h7M490,469h7M355,262h7M271,522h7M577,348h7M252,565h7M428,461h7M101,323h7M398,591h7M236,200h7M294,233h7M479,284h7M174,608h7M438,465h7M372,248h7M393,238h7M221,189h7M374,580h7M412,489h7M475,464h7M445,526h7M361,408h7M494,496h7M514,481h7M286,176h7M132,612h7M84,289h7M276,591h7M376,274h7M5,613h7M248,187h7M138,282h7M478,577h7M392,491h7M296,500h7M530,256h7M384,260h7M286,576h7M365,459h7M242,594h7M577,390h7M329,416h7M579,381h7M262,577h7M561,370h7M381,521h7M76,336h7M524,256h7M556,516h7M572,354h7M565,365h7M275,549h7M579,525h7M206,206h7M454,460h7M361,482h7M363,360h7M379,468h7M351,557h7M311,434h7M537,556h7M328,482h7M470,546h7M122,271h7M526,251h7M614,483h7M337,267h7M616,490h7M41,339h7M387,592h7M138,611h7M316,448h7M264,551h7M432,187h7M29,357h7M296,521h7M384,250h7M316,436h7M194,234h7M506,504h7M462,559h7M339,455h7M467,522h7M236,578h7M256,551h7M236,582h7M566,544h7M437,525h7M382,354h7M356,489h7M122,232h7M362,512h7M339,422h7M256,549h7M350,419h7M202,609h7M275,189h7M437,299h7M343,515h7M413,287h7M375,362h7M49,334h7M355,444h7M17,368h7M351,452h7M251,558h7M262,528h7M247,209h7M566,557h7M458,519h7M329,476h7M346,260h7M565,319h7M394,550h7M488,490h7M261,222h7M497,556h7M433,586h7M493,492h7M309,503h7M443,329h7M237,584h7M416,547h7M461,547h7M444,462h7M371,568h7M237,593h7M390,255h7M314,213h7M181,602h7M309,206h7M352,478h7M421,562h7M404,475h7M504,272h7M380,560h7M332,418h7M314,427h7M313,425h7M304,515h7M559,298h7M372,484h7M359,272h7M337,478h7M337,391h7M318,502h7M312,496h7M257,548h7M346,265h7M508,259h7M473,467h7M476,549h7M98,337h7M351,375h7M371,315h7M452,555h7M363,261h7M530,472h7M317,490h7M489,291h7M167,606h7M258,540h7M203,225h7M388,457h7M520,493h7M345,388h7M447,466h7M456,282h7M469,303h7M282,514h7M348,242h7M162,255h7M110,329h7M358,273h7M148,288h7M492,486h7M256,561h7M350,504h7M408,200h7M210,595h7M436,527h7M379,281h7M295,570h7M209,595h7M253,149h7M487,540h7M533,259h7M44,362h7M619,483h7M543,511h7M199,231h7M401,525h7M192,194h7M257,217h7M371,547h7M585,391h7M373,480h7M51,355h7M561,318h7M258,205h7M415,331h7M356,237h7M379,367h7M404,139h7M281,537h7M388,488h7M558,402h7M626,386h7M120,276h7M455,543h7M308,496h7M344,477h7M360,337h7M547,252h7M98,251h7M519,250h7M582,328h7M390,242h7M265,201h7M173,264h7M345,565h7M425,345h7M480,544h7M461,597h7M491,497h7M275,549h7M275,527h7M395,318h7M522,503h7M299,509h7M407,475h7M339,542h7M68,346h7M577,331h7M295,202h7M446,558h7M408,572h7M594,517h7M367,334h7M546,423h7M305,101h7M409,279h7M330,456h7M95,278h7M364,487h7M235,588h7M555,272h7M290,508h7M373,377h7M267,539h7M539,434h7M294,575h7M357,436h7M273,525h7M504,267h7M5,375h7M260,558h7M350,408h7M124,309h7M370,514h7M504,567h7M339,404h7M453,456h7M568,365h7M513,267h7M418,498h7M313,440h7M131,253h7M34,312h7M188,233h7M307,527h7M234,606h7M353,541h7M560,289h7M281,567h7M399,469h7M192,599h7M464,461h7M580,263h7M364,448h7M509,545h7M468,228h7M275,541h7M126,274h7M93,326h7M341,231h7M493,249h7M329,169h7M79,308h7M314,509h7M214,231h7M198,240h7M435,513h7M365,373h7M399,465h7M556,458h7M332,476h7M390,284h7M215,604h7M341,239h7M17,605h7M24,609h7M255,597h7M86,193h7M405,600h7M405,572h7M260,538h7M327,467h7M472,546h7M159,143h7M112,259h7M363,360h7M9,373h7M281,196h7M428,509h7M172,240h7M558,462h7M495,461h7M414,336h7M228,152h7M417,249h7M210,199h7M317,527h7M350,258h7M416,476h7M586,513h7M275,526h7M276,197h7M286,512h7M341,229h7M342,269h7M164,230h7M187,212h7M332,63h7M353,442h7M251,204h7M337,135h7M444,493h7M238,599h7M370,382h7M275,199h7M508,246h7M546,523h7M350,228h7M325,483h7M472,305h7M406,304h7M441,486h7M298,550h7M518,564h7M430,488h7M439,327h7M475,256h7M143,611h7M117,327h7M365,498h7M337,465h7M241,189h7M421,477h7M458,468h7M310,441h7M455,568h7M333,521h7M465,504h7M363,458h7M569,390h7M246,571h7M516,492h7M281,134h7M461,560h7M66,296h7M500,500h7M232,598h7M221,217h7M568,332h7M540,422h7M148,291h7M444,456h7M314,484h7M395,476h7M512,527h7M270,221h7M217,212h7M375,330h7M316,435h7M425,479h7M384,463h7M491,208h7M238,599h7M114,326h7M571,484h7M215,201h7M319,513h7M459,314h7M361,514h7M381,578h7M438,460h7M120,277h7M474,571h7M332,514h7M460,489h7M417,217h7M562,381h7M485,497h7M380,490h7M446,460h7M262,561h7M433,592h7M320,446h7M556,286h7M345,572h7M373,382h7M297,214h7M263,221h7M481,297h7M241,203h7M455,474h7M530,444h7M138,162h7M454,310h7M541,587h7M474,300h7M378,457h7M210,585h7M403,481h7M26,355h7M345,225h7M543,431h7M345,223h7M43,611h7M174,606h7M459,511h7M84,331h7M270,591h7M448,601h7M345,378h7M258,543h7M268,545h7M305,226h7M366,351h7M204,233h7M109,243h7M445,536h7M360,360h7M93,268h7M347,242h7M459,490h7M562,464h7M215,614h7M340,224h7M211,217h7M342,400h7M263,548h7M368,583h7M551,598h7M390,287h7M433,609h7M472,520h7M12,375h7M519,123h7M116,306h7M196,606h7M19,370h7M423,469h7M248,210h7M113,282h7M326,569h7M246,582h7M484,481h7M491,594h7M461,560h7M457,536h7M197,209h7M592,215h7M388,362h7M325,154h7M465,235h7M580,588h7M245,202h7M469,303h7M301,540h7M492,490h7M559,316h7M259,183h7M352,412h7M563,286h7M480,555h7M423,576h7M511,550h7M595,227h7M98,250h7M554,517h7M586,427h7M149,289h7M215,197h7M531,581h7M443,553h7M326,423h7M95,336h7M131,613h7M545,569h7M232,218h7M463,477h7M432,543h7M342,211h7M461,523h7M529,437h7M501,550h7M476,469h7M360,442h7M192,210h7M428,528h7M403,364h7M370,368h7M554,598h7M281,570h7M350,575h7M457,298h7M396,361h7M515,534h7M451,317h7M385,365h7M267,589h7M310,497h7M215,587h7M286,599h7M164,270h7M202,194h7M326,516h7M26,375h7M353,416h7M96,327h7M473,503h7M298,550h7M429,354h7M191,192h7M282,208h7M499,519h7M504,455h7M54,356h7M322,436h7M304,514h7M467,514h7M3,601h7M368,304h7M233,182h7M465,291h7M518,532h7M358,487h7M23,354h7M342,444h7M354,431h7M572,348h7M563,594h7M519,553h7M449,564h7M518,508h7M367,600h7M550,439h7M289,224h7M437,327h7M291,514h7M341,507h7M337,392h7M523,460h7M117,266h7M383,282h7M472,549h7M439,512h7M424,551h7M275,200h7M585,347h7M170,179h7M563,368h7M343,452h7M324,481h7M450,324h7M523,527h7M378,164h7M395,491h7M282,229h7M337,421h7M356,392h7M126,272h7M369,261h7M267,525h7M379,499h7M121,268h7M554,289h7M180,606h7M259,571h7M157,608h7M88,320h7M572,497h7M112,331h7M257,564h7M467,516h7M197,229h7M425,463h7M266,529h7M268,593h7M269,222h7M320,236h7M449,488h7M445,547h7M619,464h7M516,456h7M548,542h7M572,282h7M501,279h7M102,306h7M570,606h7M451,214h7M315,435h7M327,412h7M319,442h7M194,220h7M358,610h7M484,544h7M205,588h7M296,204h7M421,487h7M15,608h7M369,479h7M447,466h7M537,250h7M415,365h7M316,227h7M488,518h7M377,326h7M412,108h7M333,511h7M466,284h7M543,440h7M413,256h7M186,246h7M129,300h7M193,243h7M264,532h7M353,276h7M447,493h7M560,325h7M180,212h7M358,361h7M352,378h7M408,576h7M293,523h7M130,200h7M270,546h7M507,449h7M450,461h7M344,167h7M393,574h7M414,291h7M326,466h7M437,523h7M254,575h7M404,276h7M374,568h7M279,600h7M187,226h7M12,604h7M261,191h7M271,519h7M575,421h7M608,610h7M548,458h7M447,312h7M139,257h7M461,497h7M246,199h7M434,320h7M325,221h7M316,223h7M63,340h7M498,533h7M426,337h7M507,471h7M486,546h7M344,396h7M428,349h7M426,499h7M273,216h7M89,335h7M336,453h7M310,495h7M476,525h7M26,366h7M172,214h7M289,548h7M331,426h7M424,482h7M291,206h7M249,596h7M597,415h7M151,613h7M404,472h7M147,245h7M529,500h7M356,471h7M427,466h7M332,462h7M506,456h7M332,262h7M565,571h7M100,339h7M224,208h7M319,440h7M528,495h7M421,470h7M267,526h7M501,209h7M392,275h7M389,349h7M351,235h7M547,255h7M401,466h7M215,171h7M520,473h7M525,459h7M342,388h7M38,369h7M563,332h7M454,463h7M416,519h7M326,190h7M108,333h7M326,176h7M300,569h7M162,264h7M530,256h7M342,269h7M369,379h7M193,79h7M16,362h7M387,469h7M87,322h7M377,521h7M380,341h7M110,52h7M437,524h7M354,375h7M301,572h7M378,523h7M265,549h7M373,265h7M380,290h7M479,558h7M494,278h7M101,328h7M527,255h7M162,203h7M181,235h7M337,581h7M335,463h7M572,472h7M300,233h7M191,238h7M241,216h7M139,287h7M149,278h7M470,549h7M340,488h7M449,282h7M458,478h7M264,573h7M127,251h7M503,460h7M260,553h7M395,325h7M287,524h7M418,363h7M321,510h7M567,459h7M192,609h7M496,93h7M575,395h7M341,511h7M405,209h7M39,300h7M595,406h7M371,342h7M322,435h7M474,538h7M229,609h7M214,204h7M371,463h7M225,580h7M575,349h7M581,479h7M332,411h7M390,233h7M39,314h7M248,176h7M466,256h7M294,235h7M133,232h7M320,521h7M465,472h7M315,552h7M486,255h7M550,407h7M352,246h7M362,408h7M179,192h7M185,611h7M202,230h7M286,214h7M419,472h7M368,250h7M507,597h7M313,438h7M322,441h7M353,283h7M315,450h7M426,351h7M376,531h7M284,219h7M300,570h7M233,202h7M383,477h7M97,173h7M371,537h7M106,320h7M380,465h7M511,264h7M111,320h7M251,612h7M343,440h7M189,609h7M340,467h7M392,465h7M261,537h7M528,231h7M337,389h7M357,451h7M576,405h7M327,224h7M414,466h7M563,352h7M213,231h7M28,227h7M295,217h7M490,480h7M527,260h7M447,231h7M372,313h7M473,571h7M352,486h7M267,529h7M461,518h7M428,335h7M299,591h7M413,307h7M557,299h7M497,562h7M343,216h7M435,257h7M565,344h7M501,551h7M380,320h7M454,200h7M331,445h7M388,489h7M319,162h7M366,285h7M191,168h7M471,300h7M258,163h7M358,245h7M504,488h7M599,465h7M587,301h7M508,562h7M375,269h7M405,365h7M443,559h7M82,269h7M536,430h7M517,490h7M18,365h7M543,247h7M364,385h7M333,574h7M268,221h7M473,291h7M524,260h7M240,214h7M409,512h7M499,462h7M389,524h7M333,418h7M533,460h7M453,288h7M414,364h7M356,480h7M561,402h7M359,404h7M31,607h7M566,350h7M484,457h7M324,537h7M456,309h7M367,580h7M338,392h7M484,510h7M341,247h7M301,509h7M347,394h7M278,556h7M215,610h7M410,593h7M266,575h7M433,542h7M300,514h7M138,266h7M560,377h7M392,468h7M346,379h7M265,570h7M398,498h7M521,603h7M407,470h7M411,483h7M347,438h7M295,511h7M441,323h7M441,552h7M306,234h7M278,520h7M94,295h7M470,537h7M23,349h7M337,451h7M439,189h7M326,514h7M361,383h7M349,576h7M349,376h7M285,523h7M523,258h7M181,244h7M21,612h7M394,607h7M477,190h7M532,254h7M289,509h7M331,495h7M465,541h7M477,463h7M489,456h7M198,594h7M328,443h7M244,197h7M431,555h7M332,396h7M537,492h7M584,578h7M166,226h7M354,492h7M569,367h7M354,559h7M517,256h7M501,556h7M359,445h7M219,190h7M20,608h7M336,501h7M383,113h7M441,259h7M144,247h7M423,518h7M507,508h7M501,507h7M343,478h7M329,238h7M370,475h7M550,267h7M567,315h7M268,565h7M103,205h7M255,583h7M293,542h7M177,220h7M549,570h7M564,366h7M141,245h7M184,237h7M361,242h7M390,366h7M523,453h7M217,162h7M195,87h7M472,480h7M312,205h7M377,517h7M368,482h7M326,407h7M321,485h7M360,478h7M94,320h7M210,592h7M470,225h7M469,238h7M367,484h7M254,552h7M157,256h7M439,481h7M236,150h7M364,314h7M213,590h7M132,282h7M210,585h7M355,438h7M252,559h7M543,565h7M116,313h7M335,470h7M361,328h7M364,277h7M300,543h7M529,586h7M380,262h7M185,184h7M326,452h7M379,605h7M546,260h7M112,324h7M207,238h7M398,545h7M418,481h7M111,246h7M460,532h7M464,312h7M287,508h7M209,220h7M69,341h7M400,150h7M190,245h7M288,220h7M423,359h7M269,573h7M204,227h7M264,568h7M272,524h7M498,562h7M515,550h7M465,159h7M360,398h7M22,608h7M364,486h7M365,276h7M547,515h7M453,516h7M555,531h7M158,611h7M327,419h7M197,239h7M249,582h7M296,500h7M312,500h7M350,268h7M387,330h7M464,309h7M384,272h7M110,263h7M541,428h7M455,471h7M231,193h7M537,544h7M473,497h7M121,316h7M483,460h7M406,540h7M53,357h7M490,210h7M147,289h7M393,348h7M462,507h7M262,194h7M281,539h7M277,208h7M350,283h7M414,503h7M271,188h7M399,189h7M324,491h7M3,608h7M270,519h7M104,613h7M524,437h7M348,445h7M350,360h7M218,209h7M242,573h7M349,526h7M281,533h7M363,406h7M577,398h7M408,355h7M250,593h7M195,598h7M226,199h7M432,338h7M474,457h7M362,412h7M480,463h7M278,554h7M395,466h7M197,213h7M204,238h7M465,500h7M423,210h7M397,333h7M328,205h7M388,288h7M384,545h7M388,373h7M390,506h7M461,570h7M316,228h7M478,472h7M372,530h7M377,376h7M188,244h7M195,241h7M343,265h7M37,325h7M337,526h7M483,499h7M372,583h7M18,613h7M321,514h7M379,336h7M325,437h7M387,499h7M401,527h7M25,360h7M360,511h7M325,235h7M24,110h7M341,176h7M378,323h7M301,208h7M308,164h7M489,279h7M357,485h7M488,560h7M538,552h7M121,272h7M245,587h7M445,262h7M146,277h7M356,487h7M300,574h7M395,357h7M334,569h7M227,151h7M447,553h7M242,164h7M191,244h7M236,204h7M610,469h7M267,223h7M445,250h7M380,207h7M330,219h7M503,169h7M485,508h7M203,221h7M472,596h7M495,481h7M173,259h7M379,378h7M577,377h7M423,471h7M352,365h7M387,527h7M364,404h7M311,158h7M250,84h7M404,162h7M487,459h7M363,359h7M342,423h7M190,232h7M464,293h7M257,212h7M217,612h7M499,269h7M138,239h7M330,477h7M115,329h7M539,421h7M524,444h7M121,305h7M299,604h7M382,247h7M343,389h7M483,551h7M344,229h7M373,306h7M559,395h7M54,267h7M262,215h7M199,603h7M327,153h7M326,209h7M425,340h7M553,261h7M174,199h7M235,214h7M419,506h7M578,546h7M430,339h7M320,439h7M524,260h7M416,530h7M507,567h7M512,265h7M543,97h7M363,321h7M355,354h7M450,553h7M364,205h7M362,525h7M486,486h7M163,266h7M415,223h7M326,512h7M187,197h7M271,209h7M425,460h7M471,470h7M489,255h7M315,222h7M158,229h7M340,422h7M316,66h7M503,265h7M621,486h7M154,255h7M348,254h7M478,501h7M259,538h7M494,159h7M332,444h7M458,486h7M237,597h7M470,589h7M333,213h7M475,480h7M360,452h7M180,231h7M467,296h7M165,250h7M275,204h7M207,226h7M519,449h7M373,317h7M203,588h7M306,529h7M429,345h7M357,435h7M368,327h7M456,462h7M241,597h7M346,462h7M404,188h7M482,509h7M363,359h7M297,172h7M342,413h7M343,267h7M446,320h7M317,488h7M180,231h7M422,179h7M78,343h7M128,281h7M403,541h7M459,470h7M446,485h7M482,492h7M558,536h7M359,439h7M61,254h7M106,323h7M329,423h7M591,337h7M356,267h7M86,337h7M506,268h7M349,200h7M324,451h7M340,569h7M333,242h7M573,404h7M295,502h7M506,171h7M357,550h7M276,188h7M167,259h7M335,592h7M332,247h7M274,538h7M239,580h7M26,371h7M451,323h7M195,602h7M105,309h7M200,181h7M69,343h7M327,213h7M294,168h7M352,463h7M316,233h7M362,244h7M261,546h7M403,465h7M484,565h7M470,299h7M516,559h7M387,372h7M326,494h7M355,378h7M336,394h7M355,533h7M446,304h7M197,238h7M491,289h7M353,446h7M244,183h7M290,541h7M513,532h7M384,595h7M363,288h7M362,373h7M504,480h7M293,553h7M388,459h7M342,437h7M518,508h7M601,351h7M558,266h7M154,218h7M265,548h7M370,473h7M626,544h7M395,362h7M498,548h7M391,581h7M8,381h7M390,318h7M350,385h7M326,243h7M412,514h7M378,377h7M226,595h7M282,525h7M11,600h7M21,609h7M213,228h7M218,225h7M265,530h7M249,199h7M226,598h7M510,552h7" stroke="#111" stroke-width="7" fill="none"/>
<path d="M522,264l3-2 6-1 6 1 3 2 4 3 2 3 3 6 0 3 2 6 1 3 2 6 1 6 0 3 2 6 1 6 0 3 1 6 0 6 0 6 2 6 1 3 1 6-1 6-1 6-1 3-1 6-1 3-1 6-2 6-1 3-2 4-1 5-2 4-3 5-2 3-2 3-2 3-3 4-3 4-3 4-3 3-3 3-3 2-3 3-3 2-3 3-3 2-5 3-4 1-6 2-4 0-5 1-6 1-3 1-6 1-6 0-6-1-3 0-6-1-6 1-6 0-3 0-6 1-6 2-3 0-6 1-6 0-3-1-6 0-6-1-5-2-4-2-3-1-6-3-3-2-3-2-3-3-3-5-2-3-4-3-3-2-2-4 5-3 3-2 1-4 2-3 3-4 2-5 0-6 1-6 2-3 3-3 4-3 3-1 6-1 3-1 6-2 3-2 4-2 5-3 3-3 3-2 3-2 3-3 3-2 3-3 3-3 3-5 2-4 3-3 2-3 2-3 3-3 3-4 3-3 3-4 3-3 3-2 3-3 3-2 4-3 3-3 3-3 3-3 5-3 3-2 3-2 3-3 3-4 3-3 3-3 3-3 3-3 3-2 3-3 4-2 5-3zM0,393l3-4 3-3 3-2 6-2 3-1 6-1 6-1 3-2 3-3 3-2 3-3 3-3 3-3 3-3 3-3 3-3 3-3 6-3 3-1 6-2 3-1 6-2 3-1 6-1 6 0 5-1 4-1 4-2 3-3 2-3 2-6 1-3 3-6 2-3 2-3 3-3 2-3 3-4 3-2 6-2 3-2 3-4 3-4 3-3 3-3 3-3 3-3 2-3 3-3 4-3 3-2 3-2 3-2 3-3 3-3 5-3 4-3 3-3 3-3 3-1 3-2 4-3 3-3 3-3 3-3 4-3 4-2 3-1 6 0 6 0 3 0 6 1 6 2 3 1 4 2 5 2 3 1 6 3 3 2 3 2 6 2 3 0 3 0 6-1 4-2 5 0 3 2 3 3 3 4 3 3 2 3 1 3 1 6 2 6 2 3 2 3 3 3 3 3 3 3 3 3 3 3 2 3 3 5 2 4 1 3 1 6 2 6 0 6-1 6-1 6-1 5-1 4-2 5-1 4-2 6-2 3-2 3-4 3-3 3-1 3-1 6-2 5-3 4-3 3-1 3-2 3-3 4-3 5-1 3-1 6-1 4-3 3-3 2-3 6 0 6-2 3-1 3 0 3 3 6 2 3 2 3 2 5 1 4 2 4 0 5-1 3-2 3-3 4-3 4-2 4-1 3-3 3-5 3-4 1-5 2-3 3-2 3-2 3-3 3-5 3-4 2-4 1-5 2-3 2-3 3-3 5 0 3-1 6-2 6-1 3-1 6 0 6-2 3-2 3-3 3-3 3-5 3-4 2-6 1-3 0-6 2-5 1-4 2-3 1-4 3-3 3-3 3-3 3-4 3-4 2-6 0-6 1-3 1-6 2-3 1-6 0-6 1-6 1-3 1-6 0-6 0-6 0-6 1-6 0-6 0-6 1-3 1-6 1-6 1-3 0-6 0-3-1-5-2-4-1-6-1-6 0-3-1-6-2-3-1-6-1-6-2-3-1-6-2-3-1-6-1-6 0" fill="none" stroke="#1e1e1e" stroke-width="27" stroke-dasharray="9 3 5 3 14 4 6 2"/>
<path d="M522,264l3-2 6-1 6 1 3 2 4 3 2 3 3 6 0 3 2 6 1 3 2 6 1 6 0 3 2 6 1 6 0 3 1 6 0 6 0 6 2 6 1 3 1 6-1 6-1 6-1 3-1 6-1 3-1 6-2 6-1 3-2 4-1 5-2 4-3 5-2 3-2 3-2 3-3 4-3 4-3 4-3 3-3 3-3 2-3 3-3 2-3 3-3 2-5 3-4 1-6 2-4 0-5 1-6 1-3 1-6 1-6 0-6-1-3 0-6-1-6 1-6 0-3 0-6 1-6 2-3 0-6 1-6 0-3-1-6 0-6-1-5-2-4-2-3-1-6-3-3-2-3-2-3-3-3-5-2-3-4-3-3-2-2-4 5-3 3-2 1-4 2-3 3-4 2-5 0-6 1-6 2-3 3-3 4-3 3-1 6-1 3-1 6-2 3-2 4-2 5-3 3-3 3-2 3-2 3-3 3-2 3-3 3-3 3-5 2-4 3-3 2-3 2-3 3-3 3-4 3-3 3-4 3-3 3-2 3-3 3-2 4-3 3-3 3-3 3-3 5-3 3-2 3-2 3-3 3-4 3-3 3-3 3-3 3-3 3-2 3-3 4-2 5-3zM0,393l3-4 3-3 3-2 6-2 3-1 6-1 6-1 3-2 3-3 3-2 3-3 3-3 3-3 3-3 3-3 3-3 3-3 6-3 3-1 6-2 3-1 6-2 3-1 6-1 6 0 5-1 4-1 4-2 3-3 2-3 2-6 1-3 3-6 2-3 2-3 3-3 2-3 3-4 3-2 6-2 3-2 3-4 3-4 3-3 3-3 3-3 3-3 2-3 3-3 4-3 3-2 3-2 3-2 3-3 3-3 5-3 4-3 3-3 3-3 3-1 3-2 4-3 3-3 3-3 3-3 4-3 4-2 3-1 6 0 6 0 3 0 6 1 6 2 3 1 4 2 5 2 3 1 6 3 3 2 3 2 6 2 3 0 3 0 6-1 4-2 5 0 3 2 3 3 3 4 3 3 2 3 1 3 1 6 2 6 2 3 2 3 3 3 3 3 3 3 3 3 3 3 2 3 3 5 2 4 1 3 1 6 2 6 0 6-1 6-1 6-1 5-1 4-2 5-1 4-2 6-2 3-2 3-4 3-3 3-1 3-1 6-2 5-3 4-3 3-1 3-2 3-3 4-3 5-1 3-1 6-1 4-3 3-3 2-3 6 0 6-2 3-1 3 0 3 3 6 2 3 2 3 2 5 1 4 2 4 0 5-1 3-2 3-3 4-3 4-2 4-1 3-3 3-5 3-4 1-5 2-3 3-2 3-2 3-3 3-5 3-4 2-4 1-5 2-3 2-3 3-3 5 0 3-1 6-2 6-1 3-1 6 0 6-2 3-2 3-3 3-3 3-5 3-4 2-6 1-3 0-6 2-5 1-4 2-3 1-4 3-3 3-3 3-3 3-4 3-4 2-6 0-6 1-3 1-6 2-3 1-6 0-6 1-6 1-3 1-6 0-6 0-6 0-6 1-6 0-6 0-6 1-3 1-6 1-6 1-3 0-6 0-3-1-5-2-4-1-6-1-6 0-3-1-6-2-3-1-6-1-6-2-3-1-6-2-3-1-6-1-6 0" fill="#e4e4e4" stroke="#fff" stroke-width="13"/>
<path d="M0,415l3-2 3-3 3-3 6 0 6-1 3-2 3-3 3-2 6-3 3-1 3-2 3-3 4-3 2-3 2-6 1-5 2-4 4-3 3-1 6-2 4 0 5 0 6-1 3-2 4-3 4-3 4-1 6-1 4-1 5-1 6-1 6-1 3-2 3-2 3-2 4-3 2-5 1-4 1-6 3-3 4-3 3-2 3-2 3-3 3-3 3-2 6-1 6-1 3-2 3-2 3-3 3-4 3-5 1-3 2-4 3-3 3-2 3-3 4-3 3-3 2-3 2-6 2-3 2-3 3-5 3-3 3-3 3-1 4-3 5-3 3-1 6 0 3 2 6 2 3 1 3 3 3 4 3 4 2 3 2 3 3 3 5 1 6 0 6-1 3 0 6-2 6 2 3 2 3 3 3 4 2 3 2 3 2 3 3 4 2 5 1 3 2 6 0 6 1 6 1 3 1 6 1 6 0 3 1 6-1 4-2 5-2 3-2 6-1 3-1 6-1 4-2 5-3 3-1 3-2 6-2 3-2 3-3 4-3 3-6 1-3-3-6-2-6 2-3 2-3 2-3 3-3 4-3 4-3 2-3 4-2 4 2 6 2 3 2 3 1 6 0 6 1 3 3 4 3 3 3 5 2 3 4 3 2 3 0 6-2 4-3 2-4 3-2 3-3 4-3 4-1 4-1 6-2 3-3 3-4 3-4 2-3 2-6 2-3 3-1 3-2 4-3 4-3 2-6 1-3 1-3 3-2 6-1 3-3 5-3 4-1 3-2 3-3 5-3 2-3 3-3 2-3 3-3 4-3 3-4 2-5 3-3 1-4 2-5 2-6 1-3 0-3 0-4 0-5 1-4 2-5 1-6 1-3 1-6 1-6 2-3 0-6 1-6 0-6 0-6 0-5-1-4-1-6-1-6-1-3 0-6-1-6 0-6 0-6-1-6 1-6 0-6-2-3-2-3-4-3-2-3-2-4-2-3-3-3-3-3-3-2-2" fill="#f6f6f6"/>
<path d="M306,300l3-2 3 0 1 2 0 3-1 1-3 1-3-2 0-1 0-2zM0,428l6-2 3-1 4-2 5-2 3-2 5-2 4-2 3-3 3-2 3-2 5-3 4-3 3-3 3-3 2-3 3-3 3-3 3-3 4-2 3-1 5 0 4 1 6 0 4-1 5-2 3-1 5-3 2-3 2-5 3-3 3-1 3 0 6 1 6-1 6 2 3 2 6 1 6-1 3-2 4-2 5-3 6 1 6 0 5-1 3-3 1-6-1-6 1-5 2-4 1-5 2-4 3-3 4-3 2-3 1-3 3-3 4-3 1-6 2-3 5-1 2 4-2 6 3 3 5 0 4-2 1-4 1-6-1-6 0-6 2-5 2-4 1-3 1-6 0-6 2-5 3-2 6-1 6 2 3 3 2 3 3 3 4 3 3 0 6 2 3 2 6 2 3 1 3 2 3 6 2 3 3 3 2 3 2 5 0 3-1 4-1 6 2 6 0 3 2 6 2 3 4 3 3 3-1 6 0 6-1 4-3 5-3 1-4-1-2-3-3 0-2 6-2 3-3 3-2 4-1 5-2 4-3 2-6 1-6 1-3 1-5 3-4 2-3 2-4 2-5 3-3 2-3 2-3 2-6 1-3-1-6-2-4 2 0 6 2 3 2 3 3 5 2 4 1 3 3 3 6 2 4 1 5 1 6 2 3 1 3 3 3 3 3 2 3 4 3 5 2 3 1 5 0 1-2 6-3 3-3 3-2 3-2 6-1 3-2 4-4 2-3 3-2 4-3 4-3 3-3 2-3 2-4 3-3 3-4 3-4 3-3 2-3 4-2 3-1 3-3 4-3 4-3 2-4 2-2 3-2 6-1 3-3 4-3 3-3 4-2 4-2 3-4 3-4 2-6 0-6 0-6 0-3 1-6 2-6 1-3 1-6 1-6 1-6-1-6-1-3-1-6-2-4-1-5-1-6-1-6 1-6 0-3 1-6 1-6 1-6 1-6 0-6-3-3-2-3-1-4-3-4-3-3-3-4-3-3-2-3-3-3-3-3-2-3-2-3-3" fill="#ececec"/>
<path d="M258,282l3-1 6-1 3 2 5 3 4 3 2 3 2 3 2 6-2 6-2 3-2 4 0 4 3 4 2 3 1 3 0 3-2 6-2 3-2 4-1 5 1 6-3 4-3 5-2 3-1 3-6 3-3 2-3 2-6 1-6-1-3-2-3-3-3-2-4 0-2 6 0 3-3 4-6-1-3-2-3-2-3-3-3-3-3-4-3-4-1-3 1-5 2-4 2-3 2-3 0-5-1-4-2-6 3-5 6 1 3 3 2 4 1 3 4 3 5 0 3 0 4-3 3-3 2-4 2-5 1-3 0-5-1-4-1-6 0-6 1-6 1-5 2-4 4-1 6-2zM0,436l3-2 6-2 3-2 3-1 5-3 4-2 3-2 4-2 5-3 3-2 3-2 4-2 5-3 3 0 4-3 2-5 2-4 3-3 4-2 3-1 6 0 3 1 6 0 6 0 6-1 3 0 6-2 5 2 4 1 4-1 0-6-2-3 1-4 6-1 6-1 3-1 6 0 6 0 6 0 3 1 6 2 3 4 0 3 3 6 1 3 2 4 3 2 6 2 3 3 3 4 3 1 4 2 5 2 3 1 6 3 2 3 2 3 2 3 3 6 3 3 3 1 6 1 4 1 5 1 5 2 4 2 3 2 3 3 3 4 2 4 1 4 0 4-3 4-3 3-3 2-3 3-3 2-3 5-1 3-2 4-2 5-2 3-2 3-3 3-4 3-3 3-5 3-3 1-4 2-3 3-4 3-4 2-3 4 0 3-3 6-3 0-3-1-3-2-6-2-4 2-2 6 1 6-1 4-1 5-2 6 1 6-1 5-3 3-6 0-6-1-6 1-6 0-6 0-3 2-4 2-5 2-6 0-6-2-3 0-6-2-3-1-6-3-3 0-6-2-6 1-5 1-4 1-4 2-5 1-6 1-6 0-3-2-5-3-4-3-2-3 0-6 0-6-1-3-3-5-3-3-3-3-3-2-6-2-4 0-5-2-3-1 0-3 2-6-2-4-3-2M180,549l1 3-1 0 0-3z" fill="#dcdcdc"/>
<path d="M246,345l3-3 6 3 1 3-3 3-4 2-5-2 2-6zM0,449l4-2 4-3 4-3 3-2 3-2 3-2 6-3 3-1 3-2 3-3 4-3 5-3 3-2 3-1 6-1 6-1 3-1 6 0 3 0 6 0 3-1 6-2 3-2 3-1 6-2 5-1 4-1 6-1 6-1 3-1 3-2 3-3 3-5 3-2 6-2 3 0 3 1 3 4 1 4 0 6 2 6 1 3 2 5 1 4 0 6 2 5 6 1 3 0 4 0 4-3 4-2 6 1 6 1 3 1 3 2 3 4 3 5 3 3 3 1 6 0 3 2 3 4 3 2 6 2 4 1 3 3-4 2-4 1-5 2-3 2-3 3-1 5 0 6 0 6-1 6-1 4-3 5-3 2-3 1-6 1-6 0-6 0-6 1-3 1-6 2-3 1-5 0-4-1-6 0-3 1-5 3-3 3-3 3-3 3-2 3 0 6-2 3-4 3-3 3 0 6 0 6-2 6-2 3-4 3-6-1-6 1-3 1-6 0-5-1-4-1-3-2-6-2-6 1-6 0-6-2-3 0-3 0-6 1-3-2-2-5 2-5 1-4-2-3-2-3-3-4-3-4-3-2-3-3-3-2-4-3-5-3-3 0-6-2-3-2-6-2-3-1-3-5" fill="#c6c6c6"/>
<path d="M87,426l6-1 6 0 6 1 2 3 2 3 5 3 6-3 3-1 3 2 3 4 6 0 6 0 3 1 5 3 4 2 3 1 3 3 2 6 1 3 3 4 6 1 6-1 4 2 3 3 3 3 2 4 2 5 4 2 6-2 3 0 1 3-1 3-3 3-6 2-6 1-4 0-5 3-3 3-3 3-3 1-6 0-4-1-5 0-3 0-6 1-6 2-3 2-3 3-3 1-6 3-3 2-2 4-1 4-2 5-1 3-3 5-2 4-2 3-2 3-6 3-3 1-4-1-4-3-2-3-2-3-3-4-3-5-1-3-2-3-6-3-6 0-6 0-3 0-6 0-6-2-3-2-3-2-3-4-3-5-2-3-2-3-2-3 0-5 1-4 0-6-2-3-2-3-3-3-1-6 2-3 3-3 3-3 5-3 3-1 3-2 3-4 3-4 3-4 2-3 4-3 3 0 6-1 6-1 6 0 6-1 3-1 3-2z" fill="#bebebe"/>
<path d="M72,438l3 0 6 0 6-1 3 1 5 3 4 1 4 2 5 3 3 1 6 2 3 1 4 2 5 1 6-1 3 0 5 0 4 2 3 2 3 3 3 3 3 5 3 3 3 1 5 2 1 3 0 4-3 3-5-1-3 0-4 1-6 0-3 2-3 3-6 2-6 0-6 1-3 3-2 3-4 2-3 1-4 3 0 6-2 5-6-2-3-1-4-2-2-6 1-6 1-6 3-3-2-4-4-2-5-2-4 2-2 3-3 6-2 3-4 2-5-2-1-5-2-4-4-2-3-1-3-3-1-6 1-4 0-5-1-3-2-6 2-6 1-3 3-3 6-3 3-1 6-2z" fill="#d2d2d2"/>
<path d="M68,447l4-3 6 1 3 2 5 3 4 1 3-1 6-1 3 1 5 3 4 3 2 3 4 3 3 1 4 2 3 3 0 6-2 3-3 3-2 3-3 4-4-1-2-5-2-4-4-3-6 2-6-1-3-1-6-2-5 2-4 1-3-2-3-4-1-4 1-6-1-6 0-6zM141,462l3-1 3 1 2 3 0 3-2 1-3 1-2-2-1-2 0-1 0-3z" fill="#e8e8e8"/>
<path d="M521,273l4-2 6-1 6 1 3 3 3 5 2 3 1 3 2 6 1 6 0 3 2 6 1 6 0 4 1 5 0 6 0 6 1 6 0 6 0 6-1 6-1 6 0 3-1 6-2 6 0 3-3 6-1 3-2 5-2 4-1 3-3 6-2 3-3 3-3 3-3 3-3 3-3 3-4 3-3 1-5 2-4 2-6 1-3 0-6 0-6 2-3 2-5 2-4 1-6-1-5 0-4-1-6-1-6 1-4 1-5 2-4 1-5 2-6 1-4 0-3 0-5-1-6-1-5-1-4-1-4-2-4-3-2-3-2-6-1-3-1-6 0-6 2-6 3-3 2-3 2-3 3-3 3-3 3-3 5-2 5-1 4-1 3-2 5-3 4-2 3-2 4-2 4-3 3-3 3-3 1-3 3-6 1-3 3-3 3-3 3-3 3-3 2-3 3-5 2-4 2-3 3-3 5-3 3-2 3-4 2-3 3-3 4-3 2-3 2-3 2-3 3-4 3-4 3-4 3-3 3-3 3-2 3-2 5-2z" fill="#f4f4f4"/>
<path d="M528,279l3 0 3 0 3 3 3 3 3 6 0 3 1 6 2 6 0 3 1 6 1 6 1 6 0 6 0 3 1 6-1 6 0 3-1 6-1 6-1 4-1 5-2 4-2 5-2 3-2 6-1 3-2 6-2 3-2 3-2 3-3 3-4 3-4 3-4 2-3 1-6 2-6 0-6-1-6 1-6 0-6-2-3-1-3-2-6-3-3-1-6-2-1-3-1-6-1-4-1-5 0-6 1-5 1-4 2-4 3-3 4-2 3-3 3-3 2-3 3-5 1-4 2-5 1-4 2-5 2-4 3-3 3-3 2-3 2-4 2-5 2-3 2-3 3-6 2-3 1-3 3-4 3-4 3-3 3-2 4-2 5-2 6-1zM413,417l4-3 6 1 4 2 1 6-2 4-3 4-3 1-3 0-4-3-2-6 2-6z" fill="#e2e2e2"/>
<path d="M517,285l5-1 6-1 6 1 3 3 2 4 1 3 2 6 1 5 1 4 1 6 1 6 0 3 1 6 0 6 1 6-1 6-1 6-1 3-1 6-1 6-1 3-2 4-3 5-1 3-2 6-1 3-2 4-3 5-2 3-3 3-4 3-3 1-6 2-3 1-6-1-3-2-3-2-6-1-6-1-3 0-6-2-3-3-3-2-4-2-5-3-1-3 1-5 3-3 3-1 6-3 1-3 2-6 2-3 2-3 2-6 0-3 0-6 2-6 1-4 2-5 2-3 2-4 2-5 1-3 3-6 1-3 2-3 3-6 1-3 2-3 3-3 3-4 3-3 4-2z" fill="#bdbdbd"/>
<path d="M515,288l4-2 6-1 6 1 4 2 2 3 3 6 1 3 1 6 1 4 1 5 1 6 1 6 0 6 0 3 0 6 0 6 0 3-2 6-1 6-1 3-2 6-1 3-2 3-3 6-1 3-2 6-2 3-1 3-3 4-3 4-3 2-6 2-3 0-6 0-3-1-3-2-5-3-4-1-6-1-3-1-4-3-3-3 4-2 6-1 3-1 0-4-3-3-3-2-2-5 1-6 1-3 2-6 1-5 0-4 1-6 1-6 1-3 3-6 1-3 2-4 2-5 1-4 2-5 2-3 2-4 3-5 2-3 2-3 3-3 4-3z" fill="#6a6a6a"/>
<path d="M516,291l3-2 6 0 6 1 3 3 3 4 1 3 2 6 0 3 2 6 1 6 0 3 1 6 0 6 1 6-1 6-1 5-1 4-1 6-1 3-2 6-2 3-2 3-3 6-1 3-2 4-3 4-2 4-2 3-4 3-4 1-6 0-3-2-4-2-2-3-3-6 0-3-2-6-2-3-2-3-3-6 1-6 0-6 1-6 0-6 1-5 1-4 2-5 1-4 2-5 1-4 2-4 2-5 1-3 3-5 3-4 3-3 3-3 3-3z" fill="#101010"/>
<path d="M515,309l4-2 6 0 3 2 3 4 2 5 1 3 2 6 0 6 1 6-1 6-1 6-1 3-2 6-2 3-2 5-3 4-2 3-3 3-3 3-4 2-3-2-3-6-2-3-2-3-1-6-1-6 0-3-1-6 0-6 1-6 1-3 2-6 1-3 2-5 2-4 2-3 4-3z" fill="#f4f4f4"/>
<path d="M521,273l4-2 6-1 6 1 3 3 3 5 2 3 1 3 2 6 1 6 0 3 2 6 1 6 0 4 1 5 0 6 0 6 1 6 0 6 0 6-1 6-1 6 0 3-1 6-2 6 0 3-3 6-1 3-2 5-2 4-1 3-3 6-2 3-3 3-3 3-3 3-3 3-3 3-4 3-3 1-5 2-4 2-6 1-3 0-6 0-6 2-3 2-5 2-4 1-6-1-5 0-4-1-6-1-6 1-4 1-5 2-4 1-5 2-6 1-4 0-3 0-5-1-6-1-5-1-4-1-4-2-4-3-2-3-2-6-1-3-1-6 0-6 2-6 3-3 2-3 2-3 3-3 3-3 3-3 5-2 5-1 4-1 3-2 5-3 4-2 3-2 4-2 4-3 3-3 3-3 1-3 3-6 1-3 3-3 3-3 3-3 3-3 2-3 3-5 2-4 2-3 3-3 5-3 3-2 3-4 2-3 3-3 4-3 2-3 2-3 2-3 3-4 3-4 3-4 3-3 3-3 3-2 3-2 5-2zM0,415l3-2 3-3 3-3 6 0 6-1 3-2 3-3 3-2 6-3 3-1 3-2 3-3 4-3 2-3 2-6 1-5 2-4 4-3 3-1 6-2 4 0 5 0 6-1 3-2 4-3 4-3 4-1 6-1 4-1 5-1 6-1 6-1 3-2 3-2 3-2 4-3 2-5 1-4 1-6 3-3 4-3 3-2 3-2 3-3 3-3 3-2 6-1 6-1 3-2 3-2 3-3 3-4 3-5 1-3 2-4 3-3 3-2 3-3 4-3 3-3 2-3 2-6 2-3 2-3 3-5 3-3 3-3 3-1 4-3 5-3 3-1 6 0 3 2 6 2 3 1 3 3 3 4 3 4 2 3 2 3 3 3 5 1 6 0 6-1 3 0 6-2 6 2 3 2 3 3 3 4 2 3 2 3 2 3 3 4 2 5 1 3 2 6 0 6 1 6 1 3 1 6 1 6 0 3 1 6-1 4-2 5-2 3-2 6-1 3-1 6-1 4-2 5-3 3-1 3-2 6-2 3-2 3-3 4-3 3-6 1-3-3-6-2-6 2-3 2-3 2-3 3-3 4-3 4-3 2-3 4-2 4 2 6 2 3 2 3 1 6 0 6 1 3 3 4 3 3 3 5 2 3 4 3 2 3 0 6-2 4-3 2-4 3-2 3-3 4-3 4-1 4-1 6-2 3-3 3-4 3-4 2-3 2-6 2-3 3-1 3-2 4-3 4-3 2-6 1-3 1-3 3-2 6-1 3-3 5-3 4-1 3-2 3-3 5-3 2-3 3-3 2-3 3-3 4-3 3-4 2-5 3-3 1-4 2-5 2-6 1-3 0-3 0-4 0-5 1-4 2-5 1-6 1-3 1-6 1-6 2-3 0-6 1-6 0-6 0-6 0-5-1-4-1-6-1-6-1-3 0-6-1-6 0-6 0-6-1-6 1-6 0-6-2-3-2-3-4-3-2-3-2-4-2-3-3-3-3-3-3-2-2M527,276l4-1 3 1 4 3 3 3 2 4 2 5 1 6 0 3 2 6 1 6 0 4 1 5 0 6 1 6 0 6 0 6 0 6-1 6-1 3-1 6-1 6-1 3-2 6-2 3-2 6-1 3-2 5-2 4-1 3-3 3-3 4-3 3-3 2-3 3-5 3-4 1-6 2-3 1-6 0-6 0-6 2-3 1-6 1-4-2-3-3-2-3-5-3-4 0-3 0-6 2-3 2-3 3-3 3-3 2-5 3-4 3-3 1-6 0-3-1-6-3-3-2-3-1-4-3-2-6 3-3 3-4 2-5 1-3 3-4 4-2 5-3 3-3 3-3 3-2 3-2 6-2 3-2 3-2 2-5 2-3 2-4 3-3 3-3 3-2 3-4 3-5 2-3 2-3 2-5 1-4 2-5 3-4 3-2 3-2 3-3 3-5 2-3 2-3 2-3 3-4 2-5 2-3 2-3 3-4 3-4 3-3 3-2 5-2 4-2 5-1zM0,423l3-1 5-2 4-2 3-1 6-2 3-1 4-3 3-3 4-3 4-2 3-2 3-2 3-3 3-3 3-3 3-3 3-4 3-5 3-3 3-1 6 0 6 1 6-1 5-2 4-2 3-4 3-3 3-3 3-1 5-2 4 0 3 0 6 0 3 0 3 0 5 3 4 2 6-2 3-2 3-2 3-4 0-4-3-3-2-3 0-6 2-5 3-3 6-1 3 0 6-3 3-2 3-1 6-3 3-2 3-4 1-3 3-3 4-3 2-3 3-3 2-3 3-3 3-4 3-2 6-3 3-2 3-4 1-3 0-6 0-6 2-6 3-3 3-2 3-2 3-2 5 0 4 2 3 2 3 2 3 5 2 4 4 2 3 2 6 2 3 1 6 1 6 0 6 1 3 0 6 1 4 2 4 3 3 3 3 3 2 3 2 4 1 5 0 6-1 5 0 4 0 5 1 4 1 6-1 6-1 3-2 6-1 3-1 6-2 6-1 3-2 4-3 3-3 3-4 2-5 1-5 2-3 3-3 3-2 3-3 3-5 3-3 1-6 1-5 1-3 3-2 3-2 4-3 2-6 3-3 3-2 3-3 3 1 6 2 3 2 3 6 2 3 2 3 3 3 5 3 3 2 3 3 3 2 3 2 3 3 6 0 3 0 3-3 6-3 3-2 3-1 3-3 6-1 3-2 4-3 3-3 3-3 3-3 3-3 3-3 3-3 4-3 2-5 2-4 2-3 3-3 2-3 3-2 5-1 4-3 4-3 3-3 3-3 1-4 3-2 5-2 4-2 3-2 4-3 4-3 3-3 3-3 2-3 2-6 2-6 1-6 0-5 0-4 1-4 2-5 1-6 1-3 1-6 1-6 1-6 0-6-2-3-1-6-1-6 1-6-2-3 0-6-1-6 1-6 0-3 0-6 1-6 0-6 0-4-1-5-2-3-2-3-3-3-2-5-3-4-3-3-2-3-3-3-3-3-3-3-2M528,279l3 0 3 0 3 3 3 3 3 6 0 3 1 6 2 6 0 3 1 6 1 6 1 6 0 6 0 3 1 6-1 6 0 3-1 6-1 6-1 4-1 5-2 4-2 5-2 3-2 6-1 3-2 6-2 3-2 3-2 3-3 3-4 3-4 3-4 2-3 1-6 2-6 0-6-1-6 1-6 0-6-2-3-1-3-2-6-3-3-1-6-2-1-3-1-6-1-4-1-5 0-6 1-5 1-4 2-4 3-3 4-2 3-3 3-3 2-3 3-5 1-4 2-5 1-4 2-5 2-4 3-3 3-3 2-3 2-4 2-5 2-3 2-3 3-6 2-3 1-3 3-4 3-4 3-3 3-2 4-2 5-2 6-1zM306,300l3-2 3 0 1 2 0 3-1 1-3 1-3-2 0-1 0-2zM413,417l4-3 6 1 4 2 1 6-2 4-3 4-3 1-3 0-4-3-2-6 2-6zM0,428l6-2 3-1 4-2 5-2 3-2 5-2 4-2 3-3 3-2 3-2 5-3 4-3 3-3 3-3 2-3 3-3 3-3 3-3 4-2 3-1 5 0 4 1 6 0 4-1 5-2 3-1 5-3 2-3 2-5 3-3 3-1 3 0 6 1 6-1 6 2 3 2 6 1 6-1 3-2 4-2 5-3 6 1 6 0 5-1 3-3 1-6-1-6 1-5 2-4 1-5 2-4 3-3 4-3 2-3 1-3 3-3 4-3 1-6 2-3 5-1 2 4-2 6 3 3 5 0 4-2 1-4 1-6-1-6 0-6 2-5 2-4 1-3 1-6 0-6 2-5 3-2 6-1 6 2 3 3 2 3 3 3 4 3 3 0 6 2 3 2 6 2 3 1 3 2 3 6 2 3 3 3 2 3 2 5 0 3-1 4-1 6 2 6 0 3 2 6 2 3 4 3 3 3-1 6 0 6-1 4-3 5-3 1-4-1-2-3-3 0-2 6-2 3-3 3-2 4-1 5-2 4-3 2-6 1-6 1-3 1-5 3-4 2-3 2-4 2-5 3-3 2-3 2-3 2-6 1-3-1-6-2-4 2 0 6 2 3 2 3 3 5 2 4 1 3 3 3 6 2 4 1 5 1 6 2 3 1 3 3 3 3 3 2 3 4 3 5 2 3 1 5 0 1-2 6-3 3-3 3-2 3-2 6-1 3-2 4-4 2-3 3-2 4-3 4-3 3-3 2-3 2-4 3-3 3-4 3-4 3-3 2-3 4-2 3-1 3-3 4-3 4-3 2-4 2-2 3-2 6-1 3-3 4-3 3-3 4-2 4-2 3-4 3-4 2-6 0-6 0-6 0-3 1-6 2-6 1-3 1-6 1-6 1-6-1-6-1-3-1-6-2-4-1-5-1-6-1-6 1-6 0-3 1-6 1-6 1-6 1-6 0-6-3-3-2-3-1-4-3-4-3-3-3-4-3-3-2-3-3-3-3-3-2-3-2-3-3M242,261l1 0 5 3 2 3 2 4 3 4 6 0 6 1 3 1 3 2 5 3 3 3 2 3 3 3 2 4 2 5-1 6-2 3-2 4 0 5 2 3 2 3 1 6 0 6-2 4-3 2-2 6 1 6-2 6-3 2-3 4-1 3-2 6-3 1-6 1-3 2-3 2-6 1-6 0-4 2-4 3-4 3-3 2-3 1-5 0-4-1-4-2-2-3-1-6-2-3-3-4-3-3-3-2-3-4-2-5 1-6-1-6 0-6 3-3 2-3 0-6 2-6 4-3 3-1 6 0 6 0 6-1 3-1 4-3 0-6 1-6 1-3 2-6-2-5-1-4 1-3 3-6-3-6-1-3 1-3 5-3zM524,282l4-1 5 1 4 3 2 3 2 3 1 6 1 3 1 6 1 6 1 4 1 5 1 6 0 6 0 6 0 6 0 6-2 6 0 3-1 6-2 6-1 3-2 3-3 6 0 3-2 6-2 3-2 4-3 5-3 3-3 3-3 2-3 2-6 2-3 0-6 1-3-1-6-3-3 0-6 0-6-1-4-2-4-3-4-3-3-1-4-2-3-3-1-6 0-6 2-4 3-4 3-3 3-2 3-3 3-3 3-4 2-4 1-6 0-3 2-6 1-4 2-5 2-3 2-3 3-5 1-4 2-3 3-6 2-3 1-3 3-6 2-3 2-3 3-3 2-3 4-3 5-2 5-1zM234,320l-3 2-3 2-2 6 2 4 6 0 3-3 1-4-1-5-3-2zM0,432l6-2 3-1 6-3 3-2 3-1 5-3 4-2 3-2 3-2 5-3 4-3 3-1 3-2 4-3 2-5 3-4 3-3 3-2 3-2 6-1 6 1 3 1 5 0 4-1 6-2 3-1 6-2 3-3 2-3 4-3 3 0 6-1 6-1 6 1 6 0 6 0 6 0 6-1 6 0 3 2 1 6 1 6 4 2 6 1 6-1 3 1 3 4 2 5 0 6 1 4 3 3 5 2 3 3 3 3 2 3 2 5 2 4 3 3 4 2 6 1 3 0 6 2 4 1 5 3 3 3 3 3 3 3 1 3 2 4 1 5-1 4-3 4-3 2-3 4-2 4-2 3-3 3-2 3-3 5-2 4-2 3-3 3-4 3-4 3-3 3-3 2-3 2-3 2-4 3-4 3-3 3-2 3-2 6-3 3-3 2-3 1-1 6-1 6-3 3-4 2-4 1-2 3 0 6-3 5-3 2-6 1-6 0-6-1-6 2-3 1-6 0-5 2-4 2-6 0-6-1-4-1-5-1-6-2-3-1-6-2-3 0-6 0-4 0-5 1-6 2-3 1-6 1-6 0-6-1-3-2-4-2-5-3-3-3-1-3 0-6-1-6-3-3-4-3-3 0-6-1-5-2-4-3-3-2M258,282l3-1 6-1 3 2 5 3 4 3 2 3 2 3 2 6-2 6-2 3-2 4 0 4 3 4 2 3 1 3 0 3-2 6-2 3-2 4-1 5 1 6-3 4-3 5-2 3-1 3-6 3-3 2-3 2-6 1-6-1-3-2-3-3-3-2-4 0-2 6 0 3-3 4-6-1-3-2-3-2-3-3-3-3-3-4-3-4-1-3 1-5 2-4 2-3 2-3 0-5-1-4-2-6 3-5 6 1 3 3 2 4 1 3 4 3 5 0 3 0 4-3 3-3 2-4 2-5 1-3 0-5-1-4-1-6 0-6 1-6 1-5 2-4 4-1 6-2zM517,285l5-1 6-1 6 1 3 3 2 4 1 3 2 6 1 5 1 4 1 6 1 6 0 3 1 6 0 6 1 6-1 6-1 6-1 3-1 6-1 6-1 3-2 4-3 5-1 3-2 6-1 3-2 4-3 5-2 3-3 3-4 3-3 1-6 2-3 1-6-1-3-2-3-2-6-1-6-1-3 0-6-2-3-3-3-2-4-2-5-3-1-3 1-5 3-3 3-1 6-3 1-3 2-6 2-3 2-3 2-6 0-3 0-6 2-6 1-4 2-5 2-3 2-4 2-5 1-3 3-6 1-3 2-3 3-6 1-3 2-3 3-3 3-4 3-3 4-2zM0,436l3-2 6-2 3-2 3-1 5-3 4-2 3-2 4-2 5-3 3-2 3-2 4-2 5-3 3 0 4-3 2-5 2-4 3-3 4-2 3-1 6 0 3 1 6 0 6 0 6-1 3 0 6-2 5 2 4 1 4-1 0-6-2-3 1-4 6-1 6-1 3-1 6 0 6 0 6 0 3 1 6 2 3 4 0 3 3 6 1 3 2 4 3 2 6 2 3 3 3 4 3 1 4 2 5 2 3 1 6 3 2 3 2 3 2 3 3 6 3 3 3 1 6 1 4 1 5 1 5 2 4 2 3 2 3 3 3 4 2 4 1 4 0 4-3 4-3 3-3 2-3 3-3 2-3 5-1 3-2 4-2 5-2 3-2 3-3 3-4 3-3 3-5 3-3 1-4 2-3 3-4 3-4 2-3 4 0 3-3 6-3 0-3-1-3-2-6-2-4 2-2 6 1 6-1 4-1 5-2 6 1 6-1 5-3 3-6 0-6-1-6 1-6 0-6 0-3 2-4 2-5 2-6 0-6-2-3 0-6-2-3-1-6-3-3 0-6-2-6 1-5 1-4 1-4 2-5 1-6 1-6 0-3-2-5-3-4-3-2-3 0-6 0-6-1-3-3-5-3-3-3-3-3-2-6-2-4 0-5-2-3-1 0-3 2-6-2-4-3-2M180,549l1 3-1 0 0-3zM263,288l4-1 3 1 3 3 2 6-2 5-1 4 1 6 0 3 3 6 3 3 1 3 0 6-2 3-2 3-3 5-2 4-1 3-2 6-1 4-3 4-3 1-4 3-5 3-6-2-3-3-3-2-4-2-5-1-4-2-2-3-3-5-1-4 3-3 4-1 6-2 3-1 3-3 3-3 3-3 3-4 3-3 2-4-1-6-1-3-1-6 0-6 2-3 3-3 4-3 3-3zM515,288l4-2 6-1 6 1 4 2 2 3 3 6 1 3 1 6 1 4 1 5 1 6 1 6 0 6 0 3 0 6 0 6 0 3-2 6-1 6-1 3-2 6-1 3-2 3-3 6-1 3-2 6-2 3-1 3-3 4-3 4-3 2-6 2-3 0-6 0-3-1-3-2-5-3-4-1-6-1-3-1-4-3-3-3 4-2 6-1 3-1 0-4-3-3-3-2-2-5 1-6 1-3 2-6 1-5 0-4 1-6 1-6 1-3 3-6 1-3 2-4 2-5 1-4 2-5 2-3 2-4 3-5 2-3 2-3 3-3 4-3zM0,441l4-3 5-2 3-2 3-2 5-3 4-2 3-2 3-2 5-3 4-2 3-2 4-2 5-3 3 0 6-2 3-3 3-3 3-2 4-2 5-3 3 0 3 0 6 2 6 0 6 1 6-2 6 0 6 0 3-1 3-3 3-6 1-3 3-3 4-3 4-1 6 0 5 1 4 2 3 4 2 3 1 5 1 4 2 5 3 4 3 2 3 2 6 2 3 1 5 2 4 2 5 1 4 1 3 2 3 4 3 4 2 4 2 3 5 3 3 1 6 1 3 2 6 2 3 1 4 2 4 3 2 3 2 3 2 6-2 4-3 2-6 2-6-1-6 1-3 4 0 3 1 3 1 6 0 6-2 6-2 3-3 3-4 3-3 2-3 1-6 1-4 2-2 3-4 3-5 2-3 1-6 2-5 1-4 1-6-1-3-1-4 1-2 3 0 6 1 3 1 6 1 3 3 6 0 3 0 3-2 6-1 6-3 1-6-1-6 0-3 0-6-2-4 2-4 3-4 3-3 2-6 0-6-2-3-1-6-2-3-1-4-2-5-1-6-2-3 0-3 0-6 2-3 1-6 3-3 1-6 1-6-2-3-2-3-3-3-4 0-3-1-6-1-6 0-6-4-3-3-2-2-4-2-3-5-3-3 0-5-3-3-3-3-3-4-2-3-1M518,288l4-1 6 0 3 1 4 3 2 3 2 6 1 3 2 6 1 6 0 3 1 6 1 6 0 6 1 6-1 6-1 6-1 3-1 6-2 6-1 3-2 3-3 6-1 3-2 5-2 4-2 3-2 3-3 5-3 2-4 2-5 1-5-1-4-2-3-2-3-3-3-5 0-6-1-3-2-4-3-2-3-4 0-5 1-3 1-6 1-6 0-5 0-4 1-6 2-4 2-5 1-3 2-6 1-3 2-6 2-3 2-5 2-4 2-3 3-3 2-3 3-3 5-3zM264,318l1 0 4 3 3 3 2 3 0 6-4 3-3 2-2 4-1 6-1 3-2 3-4 3-3 3-4 3-3 0-4-1-4-2-5-2-3-4 0-3 1-3 5-3 3-2 3-3 3-3 3-2 3-2 5-3 3-3 1-3 3-6zM0,445l3-2 3-2 5-3 4-3 3-2 3-1 5-3 4-3 3-2 3-1 4-3 5-3 3-2 4-1 5-1 6-2 3-2 3-1 6-1 6 0 6-1 5-1 4-1 6-1 5-1 4-1 6-1 6-1 3-1 3-4 2-4 3-3 3-3 4-2 6-1 6 2 3 4 1 3 1 6 1 6 1 3 2 4 3 4 3 3 3 1 6 1 6 0 6 2 3 1 6 1 3 2 3 3 3 4 2 4 2 3 5 3 3 0 6 2 3 2 3 3 6 1 3 1 4 3 3 3 2 3 0 4-3 2-6 1-6 0-6 2-3 3-1 3 0 6 1 6 0 6-2 6-2 3-3 3-5 3-3 0-6 1-6 2-3 3-3 2-4-2-5-1-6 1-3 1-6 0-6 0-3 2-4 3-3 3-1 6 0 6-1 3 0 3 2 6 3 3 3 3 2 3-1 5-3 4-3 1-6 0-3-1-3-3-6-2-3 4-2 4-4 3-3 2-3 1-3-1-6-1-6-1-3-1-6-2-3-1-6-2-3-1-6 1-3 0-6 2-3 1-6 2-6-1-3-2-3-2-3-3-3-6 2-6 1-3 0-3-3-5-3-4-2-3-3-3-3-3-3-3-4-1-6-1-4-1-3-3-5-2-4-1-2-1M516,291l3-2 6 0 6 1 3 3 3 4 1 3 2 6 0 3 2 6 1 6 0 3 1 6 0 6 1 6-1 6-1 5-1 4-1 6-1 3-2 6-2 3-2 3-3 6-1 3-2 4-3 4-2 4-2 3-4 3-4 1-6 0-3-2-4-2-2-3-3-6 0-3-2-6-2-3-2-3-3-6 1-6 0-6 1-6 0-6 1-5 1-4 2-5 1-4 2-5 1-4 2-4 2-5 1-3 3-5 3-4 3-3 3-3 3-3zM246,345l3-3 6 3 1 3-3 3-4 2-5-2 2-6zM0,449l4-2 4-3 4-3 3-2 3-2 3-2 6-3 3-1 3-2 3-3 4-3 5-3 3-2 3-1 6-1 6-1 3-1 6 0 3 0 6 0 3-1 6-2 3-2 3-1 6-2 5-1 4-1 6-1 6-1 3-1 3-2 3-3 3-5 3-2 6-2 3 0 3 1 3 4 1 4 0 6 2 6 1 3 2 5 1 4 0 6 2 5 6 1 3 0 4 0 4-3 4-2 6 1 6 1 3 1 3 2 3 4 3 5 3 3 3 1 6 0 3 2 3 4 3 2 6 2 4 1 3 3-4 2-4 1-5 2-3 2-3 3-1 5 0 6 0 6-1 6-1 4-3 5-3 2-3 1-6 1-6 0-6 0-6 1-3 1-6 2-3 1-5 0-4-1-6 0-3 1-5 3-3 3-3 3-3 3-2 3 0 6-2 3-4 3-3 3 0 6 0 6-2 6-2 3-4 3-6-1-6 1-3 1-6 0-5-1-4-1-3-2-6-2-6 1-6 0-6-2-3 0-3 0-6 1-3-2-2-5 2-5 1-4-2-3-2-3-3-4-3-4-3-2-3-3-3-2-4-3-5-3-3 0-6-2-3-2-6-2-3-1-3-5M520,291l5 0 3 0 4 3 3 3 2 4 2 5 1 6 1 3 1 6 1 6 0 6 0 3 1 6-1 6-1 3-1 6-1 3-1 6-2 4-3 5-2 3-1 3-3 6-2 3-2 3-2 3-3 4-3 3-6 0-4-1-5-3-2-3-1-4-2-5-1-4-3-5-2-3-1-6 0-3 0-3 1-6 0-6 0-6 2-6 1-3 2-6 1-3 2-6 1-3 2-5 2-4 1-3 3-4 3-3 3-3 3-3 4-2zM0,453l3-2 3-2 3-2 4-3 4-3 4-2 3-1 6-3 3-1 3-3 3-3 3-3 3-2 6-3 3-1 6 0 6-1 6 2 3 0 4 0 5-2 3-2 5-2 4-2 3-2 6-2 3 0 6-1 6 0 6-2 3-2 3-2 3-3 3-3 6 0 3 2 2 5 1 4 2 5 1 3 1 6-1 6 2 6 2 3 5 2 4 1 5 2 3 3 3 2 3-1 4-3 5-2 6 0 5 2 3 3 3 3 2 3 3 3 3 3 5 3 2 3-2 3-2 6 0 6 1 6-2 6-1 3-2 5-3 3-3 1-6 0-4 0-5 0-4 0-5 3-3 1-6 2-3 0-3 0-6-1-6 0-5 1-4 2-3 4-3 2-3 2-5 2-1 3 0 5 0 2-3 5-3 3-3 3 0 3 0 3 2 6-2 5-6 1-3 0-6 2-6 1-6-1-4-2-5-3-3 0-3 0-6 0-3-3-3-2-6-1-3-3 0-3-3-5-3-3-3-4-3-3-3-2-3-2-4-2-5-3-3-3-3-2-3-1-6-3-3-1-4-2-5-3-1-3-2-4-3-4M517,294l5-2 6 1 3 2 3 3 3 5 1 3 1 6 1 4 1 5 1 6 0 6 1 6 0 6-1 6-2 6-1 3-1 6-2 3-2 4-3 5-1 3-2 3-3 5-3 4-2 3-3 3-4 2-6-1-3-1-3-4-2-5-1-3-3-6-1-3-2-3-2-6 0-6 1-6 0-6 1-6 0-3 1-6 2-4 1-5 2-4 2-5 1-3 3-6 1-3 2-3 3-3 4-3 3-3zM136,402l5-2 3 3 2 5 1 5 0 4 1 6 2 6 1 3 2 3 4 3 5 2 3 1 4 3 1 6 4 2 5-2 4-2 3-2 6-1 6 1 3 1 3 3 3 3 3 4 3 3 2 5-1 6 1 6 0 6-2 5-2 4-2 3-4 3-4 1-6-1-3 0-3 0-6 3-3 2-3 1-6 1-6-1-3 0-6 0-4 0-5 2-3 2-3 3-3 2-6 3-3 3-1 3 0 6-2 3-3 4-3 4-1 4 1 6-3 4-4 2-5 2-6 0-6-1-3-1-5-3-3-3-2-3-3-3-5-1-6 1-4-3-2-4-2-5-4-2-3-1-5-3-4-2-3-1-5-3-4-3-3-2-3-2-3-2-5-3-4-3-3-2-3-3-1-4 1-5 3-1 6-3 0-3-1-3-4-3-3-3-4-3-1-3-2-6-1-3 1-3 3-3 3-3 4-3 4-3 4-2 3-1 6-3 3-1 3-2 3-3 3-4 3-3 4-2 5-1 6-1 6 0 5 2 4 1 5-1 4-2 3-2 6-2 3-2 3-2 4-2 5-1 6 0 6 0 6-2 3-1 3-2 4-3zM517,297l5-2 6 1 3 2 3 3 2 5 1 3 2 6 1 6 1 3 0 6 1 6 0 6-1 6-1 4-1 5-2 6-1 3-2 5-3 4-1 3-2 3-3 5-3 3-3 4-3 3-3 2-6-1-3-2-3-5-1-3-2-5-2-4-2-3-1-6-1-6 1-6 0-6 0-6 1-6 1-3 2-6 1-3 2-6 1-3 3-6 1-3 2-3 3-4 3-2 4-3zM101,417l4-2 6 0 6 1 6 1 3 1 3 3 2 5 1 3 6 2 4 1 5 3 3 2 3 2 3 2 5 3 3 3 0 6 2 3 5 2 6-2 3-1 6 1 3 2 6-2 3-1 6 1 3 3 2 3 1 6 0 6 0 3 0 6-2 3-3 3-4 3-3 1-6 0-6 1-3 1-3 3-4 3-5 1-6 0-3-1-6-1-5 1-4 1-5 2-3 3-4 3-3 1-4 2-2 3-2 6-1 3-3 5-2 4-2 3-1 6-1 4-3 3-6 2-6-1-6-2-3-2-3-4-2-3-3-3-3-3-2-3-4-3-4-1-4-2-5-1-6-1-3-1-6-2-3-1-5-3-3-3-3-3-2-3-3-3-2-3-3-6 2-6 1-3 0-4-3-5-3-3-3-3-1-3-2-6-1-3 1-3 3-4 3-3 6-2 3-1 4-2 5-2 3-2 3-3 3-5 2-3 4-3 3 0 6 0 3 0 6 1 6 1 6-2 3-1 3-2 6-2 4-1 4-3zM522,297l6 1 3 2 3 5 2 4 1 5 1 4 2 6 0 6 0 3 1 6 0 6-1 3-2 6-1 5-1 4-2 5-2 4-2 3-2 3-3 5-3 4-3 3-3 3-3 2-6-1-3-3-2-4-1-3-3-6-2-3-1-4-1-5 0-6 1-6 0-6 0-6 0-3 2-6 1-3 2-6 1-3 2-6 2-3 2-4 3-4 3-2 3-2 6-3zM87,426l6-1 6 0 6 1 2 3 2 3 5 3 6-3 3-1 3 2 3 4 6 0 6 0 3 1 5 3 4 2 3 1 3 3 2 6 1 3 3 4 6 1 6-1 4 2 3 3 3 3 2 4 2 5 4 2 6-2 3 0 1 3-1 3-3 3-6 2-6 1-4 0-5 3-3 3-3 3-3 1-6 0-4-1-5 0-3 0-6 1-6 2-3 2-3 3-3 1-6 3-3 2-2 4-1 4-2 5-1 3-3 5-2 4-2 3-2 3-6 3-3 1-4-1-4-3-2-3-2-3-3-4-3-5-1-3-2-3-6-3-6 0-6 0-3 0-6 0-6-2-3-2-3-2-3-4-3-5-2-3-2-3-2-3 0-5 1-4 0-6-2-3-2-3-3-3-1-6 2-3 3-3 3-3 5-3 3-1 3-2 3-4 3-4 3-4 2-3 4-3 3 0 6-1 6-1 6 0 6-1 3-1 3-2zM521,300l4 0 3 1 3 2 3 6 1 3 2 6 1 3 1 6 0 6 1 6-1 6-1 6-1 3-2 6-1 4-2 5-2 3-2 3-3 5-3 4-3 3-3 3-3 1-6-1-2-3-2-3-2-5-2-4-2-3-1-6 0-6 0-6 0-6 0-6 1-6 1-3 2-6 1-3 3-6 1-3 2-4 3-4 3-3 3-2 5-2zM89,429l4 0 3 1 3 2 4 3 3 3 5 3 3 0 6 0 4 3 5 2 6-1 3-2 6 1 3 1 6 2 2 3 1 3 3 4 3 4 3 2 6 1 4 1 4 3 2 3 2 4 1 5-2 3-2 3-3 3-3 3-6 3-3 0-3 0-6-1-4 1-5 1-6 1-3 2-3 2-4 3-5 2-3 1-3 3-3 6-1 3-2 5-2 4-3 3-2 3-3 3-3 3-5 0-3-3-2-3-2-3-2-6-1-3-3-3-2-3-2-6-1-3-4 0-5 3-3 2-5 1-4 1-6 0-4-1-3-3-2-3-2-6-1-3-3-3-3-6 2-6-1-6 2-4 4-2 1-6-1-6 2-4 3-5 1-3 2-3 3-4 3-2 6-3 3-1 6-1 6 0 5-1 4-1 5-2zM519,303l6-1 3 2 3 3 2 5 2 3 2 6 0 3 1 6 0 6 1 6-1 6-1 3-2 6-1 3-2 6-2 3-2 4-3 4-3 4-3 3-3 3-3 1-5-1-2-3-2-4-3-5-1-3-2-6 0-3 0-4 0-5 0-4-1-5 1-5 1-4 2-6 1-3 2-6 1-3 2-4 3-5 3-3 3-2 3-1zM79,435l5-1 6-1 4 2 5 3 3 2 3 2 4 2 5 1 6 2 3 1 4 2 5 0 3 0 6-2 5 2 4 3 3 3 3 3 3 3 2 3 4 2 4 1 5 3 2 3 1 6-3 6-3 3-3 1-6 0-6 0-6 2-3 1-6 1-3 1-6 3-3 2-3 1-6 3-3 3-2 3-1 5-2 4-4 3-6-3-3-2-3-2-6-1-3-3 0-1 2-6 0-6-5-3-4 3-5 3-3 1-5 2-4 2-6 1-6-3-1-3 2-3 2-5 0-1-3-5-3-3-2-4 1-6 0-6-1-6 0-6 2-4 2-5 2-3 3-3 5-2 3-1 6-2 6-1 4 0zM517,306l5-1 5 1 3 3 2 3 2 5 1 4 1 6 1 6 0 3 1 6-1 4-1 5-2 5-1 4-2 4-2 5-2 3-2 3-3 3-3 4-3 2-6 1-3-4-1-3-2-3-3-6-1-3 0-6 0-6-1-6 0-6 1-6 1-3 2-6 1-3 3-6 1-3 2-3 3-4 4-2zM72,438l3 0 6 0 6-1 3 1 5 3 4 1 4 2 5 3 3 1 6 2 3 1 4 2 5 1 6-1 3 0 5 0 4 2 3 2 3 3 3 3 3 5 3 3 3 1 5 2 1 3 0 4-3 3-5-1-3 0-4 1-6 0-3 2-3 3-6 2-6 0-6 1-3 3-2 3-4 2-3 1-4 3 0 6-2 5-6-2-3-1-4-2-2-6 1-6 1-6 3-3-2-4-4-2-5-2-4 2-2 3-3 6-2 3-4 2-5-2-1-5-2-4-4-2-3-1-3-3-1-6 1-4 0-5-1-3-2-6 2-6 1-3 3-3 6-3 3-1 6-2zM515,309l4-2 6 0 3 2 3 4 2 5 1 3 2 6 0 6 1 6-1 6-1 6-1 3-2 6-2 3-2 5-3 4-2 3-3 3-3 3-4 2-3-2-3-6-2-3-2-3-1-6-1-6 0-3-1-6 0-6 1-6 1-3 2-6 1-3 2-5 2-4 2-3 4-3zM69,441l3-1 6 1 4 0 5 2 3 2 6 0 6 1 3 2 5 2 4 2 3 3 3 2 6 1 6 0 5-2 4-1 3 1 5 3 3 3 2 3 1 6-2 3-6 2-4 1-5 3-3 3-6-2-3 2-3 4-3 5-3 3-3 1-3-2-3-5-1-3-2-4-6-1-4-1-5-2-6 0-3 2-4 3-5 1-3-2-3-2-5-3-2-3 1-6 0-3 0-3-2-6-1-3 1-3 2-3 4-3 5-3zM514,312l5-3 6 1 3 2 3 5 2 4 1 4 1 5 0 6 1 6-1 6-1 3-3 6-1 3-2 4-3 5-2 3-3 3-4 3-4-3-2-4-3-4-2-4-1-3-2-6-1-6 0-6 1-6 2-6 1-3 2-5 2-4 2-3 3-3zM68,447l4-3 6 1 3 2 5 3 4 1 3-1 6-1 3 1 5 3 4 3 2 3 4 3 3 1 4 2 3 3 0 6-2 3-3 3-2 3-3 4-4-1-2-5-2-4-4-3-6 2-6-1-3-1-6-2-5 2-4 1-3-2-3-4-1-4 1-6-1-6 0-6zM141,462l3-1 3 1 2 3 0 3-2 1-3 1-2-2-1-2 0-1 0-3zM516,315l3-1 6 0 3 3 2 4 1 3 1 6 1 6 1 6-1 6-2 4-2 5-2 3-2 4-3 3-6 1-3-4-3-3-3-3-2-4-1-6 0-3 0-5 1-4 1-6 1-3 3-6 2-3 4-3zM87,462l3-2 6-1 3 6-3 3-3 0-4-3-2-3z" fill="none" stroke="#2c2c2c" stroke-width="2.3"/>
</g>
<path d="M377.8,143q4.6,12.1 0,24.2z" fill="#111"/>
<path d="M377.8,167H400" stroke="#151515" stroke-width="1.4" stroke-dasharray="6 0.5 3.5 0.7 8 0.4 2 0.6" fill="none"/>
</g>
<path d="M415.7,106V168M377.8,141.6H440.8" stroke="#6a6a6a" stroke-width="0.5" fill="none"/>
<rect x="377.8" y="106" width="63" height="62" fill="none" stroke="#7a7a7a" stroke-width="0.6"/>
<text x="375.6" y="109" font-size="2.8" text-anchor="end" fill="#333">10⁵</text>
<text x="375.6" y="123.6" font-size="2.8" text-anchor="end" fill="#333">10⁴</text>
<text x="375.6" y="138.2" font-size="2.8" text-anchor="end" fill="#333">10³</text>
<text x="375.6" y="152.8" font-size="2.8" text-anchor="end" fill="#333">10²</text>
<text x="375.6" y="162.4" font-size="2.8" text-anchor="end" fill="#333">0</text>
<text x="385" y="173.8" font-size="2.8" text-anchor="middle" fill="#333">0</text>
<text x="391.7" y="173.8" font-size="2.8" text-anchor="middle" fill="#333">10²</text>
<text x="406.6" y="173.8" font-size="2.8" text-anchor="middle" fill="#333">10³</text>
<text x="421.8" y="173.8" font-size="2.8" text-anchor="middle" fill="#333">10⁴</text>
<text x="437.3" y="173.8" font-size="2.8" text-anchor="middle" fill="#333">10⁵</text>
<path d="M376.4,108h1.4M376.4,122.6h1.4M376.4,137.2h1.4M376.4,151.8h1.4M376.4,161.4h1.4M385,168v1.4M391.7,168v1.4M406.6,168v1.4M421.8,168v1.4M437.3,168v1.4" stroke="#555" stroke-width="0.5" fill="none"/>
<text x="410.3" y="177" font-size="3.0" text-anchor="middle" fill="#222">&lt;APC-A&gt;: GB21A</text>
<text x="378.8" y="109.8" font-size="3.5" font-weight="bold" fill="#111">7.24</text>
<text x="440" y="109.8" font-size="3.5" text-anchor="end" font-weight="bold" fill="#111">10.6</text>
<text x="378.8" y="167" font-size="3.5" font-weight="bold" fill="#111">67.1</text>
<text x="440" y="167" font-size="3.5" text-anchor="end" font-weight="bold" fill="#111">15.1</text>
<text x="421.7" y="121.6" font-size="7.6" stroke="#222" stroke-width="0.18" fill="#222">10.6</text>
<clipPath id="cp5"><rect x="451.1" y="106" width="62.4" height="61.5"/></clipPath>
<rect x="451.1" y="106" width="62.4" height="61.5" fill="#fff"/>
<g clip-path="url(#cp5)">
<g transform="translate(451.1 106) scale(0.1)">
<path d="M413,276h7M523,543h7M386,287h7M556,381h7M184,243h7M517,455h7M143,277h7M558,366h7M574,321h7M412,379h7M334,421h7M427,588h7M270,176h7M268,552h7M299,527h7M237,567h7M390,466h7M445,579h7M203,250h7M188,221h7M376,321h7M177,246h7M82,337h7M532,460h7M494,217h7M403,482h7M471,459h7M546,525h7M209,246h7M262,216h7M408,512h7M310,537h7M178,245h7M235,199h7M179,260h7M435,526h7M382,253h7M468,530h7M366,304h7M46,367h7M397,500h7M307,537h7M539,274h7M437,523h7M444,469h7M384,544h7M404,92h7M281,547h7M365,373h7M153,189h7M313,531h7M528,548h7M388,544h7M109,326h7M186,229h7M460,316h7M59,360h7M546,528h7M125,286h7M555,411h7M537,277h7M372,311h7M353,253h7M46,297h7M493,293h7M201,168h7M235,574h7M396,479h7M210,598h7M354,282h7M45,173h7M337,510h7M326,447h7M95,350h7M330,452h7M291,598h7M418,474h7M247,574h7M577,381h7M84,327h7M251,558h7M346,382h7M137,284h7M605,548h7M346,427h7M469,555h7M374,539h7M527,266h7M161,287h7M387,579h7M560,384h7M323,576h7M71,347h7M298,526h7M356,277h7M55,374h7M323,458h7M414,482h7M66,607h7M203,230h7M394,317h7M317,531h7M364,196h7M522,464h7M342,448h7M364,375h7M435,293h7M487,545h7M453,333h7M116,346h7M419,370h7M271,564h7M435,543h7M566,401h7M421,383h7M356,395h7M487,499h7M258,578h7M208,230h7M247,577h7M4,399h7M120,346h7M434,348h7M328,227h7M370,288h7M239,221h7M454,324h7M577,422h7M401,480h7M403,376h7M145,263h7M67,607h7M560,381h7M120,342h7M249,216h7M270,206h7M220,225h7M480,284h7M377,354h7M334,472h7M421,367h7M558,374h7M440,304h7M353,473h7M461,463h7M313,587h7M123,346h7M119,328h7M242,232h7M368,472h7M150,306h7M236,232h7M560,368h7M99,300h7M422,553h7M383,383h7M187,245h7M352,404h7M379,536h7M280,209h7M437,465h7M395,289h7M468,268h7M402,364h7M204,98h7M434,490h7M558,318h7M491,493h7M359,207h7M404,508h7M5,597h7M375,223h7M430,292h7M499,497h7M428,354h7M367,307h7M346,489h7M362,364h7M203,601h7M343,487h7M382,356h7M317,456h7M462,521h7M469,525h7M110,347h7M108,347h7M356,209h7M362,281h7M258,570h7M190,225h7M415,378h7M146,218h7M310,509h7M487,559h7M364,303h7M538,428h7M336,424h7M314,218h7M208,245h7M438,352h7M384,330h7M565,336h7M588,395h7M95,278h7M391,470h7M206,223h7M398,360h7M363,245h7M321,210h7M478,579h7M473,507h7M119,306h7M400,486h7M596,548h7M495,460h7M369,497h7M168,174h7M286,523h7M349,467h7M573,505h7M394,234h7M52,373h7M475,524h7M166,244h7M391,479h7M320,450h7M345,197h7M351,434h7M224,592h7M350,505h7M57,370h7M105,349h7M130,331h7M361,408h7M440,349h7M403,366h7M344,564h7M265,569h7M323,493h7M121,330h7M292,518h7M467,495h7M219,217h7M334,471h7M309,228h7M569,382h7M119,230h7M341,482h7M523,445h7M588,363h7M124,319h7M367,345h7M367,368h7M33,600h7M403,301h7M373,398h7M580,180h7M342,212h7M348,503h7M429,337h7M75,362h7M366,298h7M301,537h7M283,533h7M276,190h7M17,387h7M158,247h7M63,365h7M108,300h7M225,235h7M241,570h7M391,388h7M559,438h7M517,603h7M536,510h7M292,545h7M407,472h7M381,524h7M172,212h7M3,399h7M476,179h7M302,587h7M555,438h7M378,287h7M487,524h7M356,400h7M258,576h7M145,307h7M494,478h7M436,501h7M518,472h7M278,563h7M298,529h7M437,518h7M223,590h7M91,341h7M382,536h7M421,477h7M589,400h7M289,535h7M111,276h7M559,387h7M553,298h7M358,460h7M441,499h7M521,528h7M387,490h7M258,584h7M270,230h7M453,540h7M451,486h7M63,604h7M406,366h7M503,288h7M237,596h7M34,367h7M554,578h7M378,283h7M166,139h7M356,451h7M418,260h7M132,607h7M361,469h7M214,231h7M597,588h7M348,408h7M40,602h7M471,464h7M282,538h7M260,213h7M330,568h7M514,271h7M492,481h7M355,245h7M512,452h7M101,350h7M457,312h7M104,349h7M431,326h7M236,236h7M245,559h7M450,304h7M369,339h7M6,342h7M487,534h7M305,517h7M399,257h7M325,539h7M523,563h7M448,340h7M348,437h7M126,261h7M58,196h7M396,562h7M492,466h7M440,211h7M567,394h7M362,453h7M603,431h7M261,553h7M382,340h7M29,285h7M105,272h7M384,267h7M416,476h7M511,278h7M80,286h7M220,183h7M446,517h7M559,318h7M166,268h7M385,371h7M530,269h7M434,350h7M323,232h7M463,586h7M399,374h7M474,460h7M378,515h7M296,229h7M454,492h7M265,578h7M326,463h7M134,606h7M238,212h7M59,339h7M64,335h7M233,606h7M379,300h7M363,487h7M258,577h7M86,262h7M406,288h7M198,233h7M356,494h7M383,378h7M541,280h7M542,419h7M386,379h7M126,333h7M392,320h7M377,539h7M98,356h7M125,333h7M456,327h7M158,266h7M449,503h7M533,562h7M422,369h7M399,505h7M369,484h7M95,363h7M341,203h7M376,301h7M330,428h7M566,327h7M167,229h7M138,301h7M364,390h7M250,573h7M512,503h7M300,565h7M357,224h7M13,601h7M584,338h7M377,153h7M342,443h7M225,236h7M135,318h7M339,430h7M396,585h7M383,541h7M530,266h7M363,454h7M556,298h7M431,516h7M407,481h7M88,253h7M503,459h7M287,573h7M467,465h7M371,394h7M329,449h7M63,334h7M398,354h7M395,598h7M104,308h7M376,316h7M192,238h7M329,498h7M398,553h7M589,282h7M541,431h7M405,527h7M341,448h7M390,271h7M438,498h7M184,240h7M269,547h7M265,564h7M174,259h7M546,282h7M252,581h7M390,368h7M414,283h7M423,528h7M298,529h7M329,451h7M377,301h7M553,470h7M338,537h7M208,249h7M278,576h7M448,463h7M386,471h7M421,354h7M205,243h7M29,293h7M506,486h7M389,507h7M418,539h7M400,343h7M419,380h7M286,194h7M434,275h7M572,363h7M370,461h7M471,534h7M293,224h7M472,469h7M343,487h7M375,308h7M331,504h7M292,193h7M104,346h7M490,490h7M532,561h7M430,481h7M199,602h7M230,160h7M371,573h7M446,463h7M240,574h7M177,609h7M455,532h7M373,338h7M552,246h7M354,410h7M430,326h7M480,259h7M139,237h7M371,140h7M362,396h7M346,583h7M356,366h7M313,233h7M378,561h7M508,286h7M277,536h7M385,267h7M360,279h7M550,440h7M500,537h7M156,296h7M468,480h7M272,217h7M319,525h7M584,386h7M331,493h7M386,328h7M482,301h7M533,262h7M255,223h7M329,473h7M404,465h7M151,607h7M160,279h7M20,307h7M338,410h7M406,229h7M346,411h7M387,476h7M550,293h7M358,383h7M297,222h7M587,257h7M410,570h7M577,397h7M437,237h7M128,271h7M409,351h7M529,277h7M422,505h7M421,564h7M544,472h7M376,353h7M329,225h7M381,148h7M377,319h7M381,491h7M179,609h7M380,316h7M301,223h7M522,273h7M387,371h7M252,561h7M292,572h7M368,252h7M54,606h7M353,243h7M80,361h7M370,357h7M447,525h7M168,216h7M49,358h7M446,520h7M565,435h7M98,361h7M291,189h7M422,480h7M236,569h7M357,464h7M463,467h7M576,529h7M335,414h7M150,289h7M305,215h7M278,548h7M324,500h7M400,548h7M103,356h7M252,233h7M342,258h7M219,210h7M439,538h7M507,525h7M551,425h7M137,282h7M526,451h7M540,274h7M541,439h7M367,566h7M322,451h7M384,555h7M363,453h7M41,306h7M573,328h7M145,294h7M461,326h7M153,291h7M425,494h7M389,168h7M383,309h7M430,494h7M236,191h7M220,234h7M353,384h7M287,231h7M204,187h7M70,361h7M541,513h7M562,406h7M414,517h7M569,599h7M99,341h7M376,523h7M40,384h7M330,454h7M106,253h7M134,272h7M9,396h7M448,515h7M479,553h7M560,583h7M419,296h7M393,539h7M361,272h7M373,515h7M451,598h7M355,508h7M186,196h7M468,495h7M359,285h7M315,215h7M400,379h7M255,211h7M569,341h7M331,176h7M554,277h7M531,442h7M162,53h7M419,384h7M554,544h7M346,245h7M50,300h7M54,279h7M563,317h7M379,559h7M328,528h7M569,316h7M368,357h7M538,152h7M362,294h7M351,278h7M361,548h7M335,414h7M181,202h7M337,549h7M323,494h7M427,331h7M330,548h7M208,601h7M364,545h7M319,170h7M530,543h7M380,326h7M580,476h7M350,270h7M334,433h7M385,69h7M453,328h7M561,311h7M454,512h7M536,427h7M113,323h7M570,470h7M475,471h7M288,549h7M540,283h7M174,245h7M513,556h7M271,586h7M305,524h7M555,298h7M463,317h7M457,285h7M393,164h7M502,464h7M120,306h7M268,221h7M411,373h7M617,206h7M90,354h7M363,236h7M544,585h7M486,501h7M74,328h7M492,556h7M32,602h7M113,338h7M240,585h7M463,493h7M387,332h7M11,605h7M269,187h7M424,543h7M465,480h7M435,356h7M348,511h7M382,258h7M355,441h7M63,242h7M132,296h7M360,494h7M313,184h7M291,553h7M377,304h7M392,240h7M371,399h7M128,603h7M563,373h7M387,361h7M448,465h7M464,465h7M265,230h7M593,321h7M539,460h7M376,483h7M349,265h7M339,549h7M396,372h7M321,591h7M383,567h7M458,327h7M532,591h7M67,364h7M369,462h7M317,212h7M581,602h7M28,389h7M594,131h7M364,559h7M371,314h7M563,334h7M356,452h7M410,364h7M281,197h7M71,362h7M283,536h7M472,568h7M498,272h7M569,306h7M480,487h7M475,568h7M320,496h7M362,489h7M529,226h7M298,232h7M338,420h7M329,470h7M348,496h7M291,525h7M400,386h7M351,436h7M575,349h7M149,278h7M388,482h7M409,587h7M22,372h7M292,540h7M280,537h7M326,458h7M398,342h7M560,364h7M111,330h7M310,582h7M448,496h7M352,518h7M539,280h7M260,566h7M154,273h7M293,548h7M295,226h7M516,535h7M371,288h7M85,355h7M461,136h7M473,565h7M47,604h7M261,589h7M127,310h7M153,281h7M490,542h7M461,303h7M337,186h7M444,468h7M227,231h7M369,537h7M133,243h7M351,251h7M335,499h7M378,316h7M369,316h7M304,526h7M438,512h7M339,477h7M10,395h7M421,471h7M364,383h7M477,281h7M341,453h7M420,196h7M297,535h7M355,449h7M394,469h7M375,84h7M378,244h7M100,322h7M423,469h7M350,408h7M336,155h7M400,563h7M533,497h7M350,466h7M332,487h7M106,333h7M431,343h7M289,176h7M166,267h7M164,608h7M594,505h7M567,397h7M563,347h7M322,236h7M371,305h7M561,492h7M54,344h7M330,465h7M407,467h7M452,490h7M430,237h7M110,326h7M539,266h7M123,604h7M219,244h7M110,337h7M384,508h7M374,337h7M99,352h7M421,375h7M17,296h7M316,497h7M390,490h7M149,228h7M338,471h7M152,272h7M130,264h7M440,334h7M12,607h7M425,481h7M169,266h7M140,266h7M318,448h7M517,151h7M270,581h7M539,519h7M49,372h7M357,393h7M480,304h7M368,400h7M480,275h7M409,358h7M153,228h7M365,459h7M261,547h7M370,360h7M524,260h7M376,399h7M548,486h7M403,322h7M450,467h7M447,599h7M273,548h7M392,356h7M409,468h7M618,116h7M370,275h7M361,385h7M339,436h7M262,217h7M386,518h7M386,470h7M234,221h7M35,375h7M268,544h7M95,360h7M208,227h7M594,341h7M527,444h7M230,594h7M354,465h7M469,460h7M136,279h7M385,533h7M296,134h7M426,537h7M519,543h7M448,482h7M319,563h7M376,524h7M383,205h7M377,590h7M324,589h7M380,347h7M150,252h7M449,608h7M371,375h7M343,469h7M356,461h7M296,225h7M366,292h7M344,235h7M555,396h7M498,465h7M334,548h7M336,229h7M435,487h7M348,607h7M517,273h7M515,528h7M192,239h7M181,247h7M520,493h7M389,536h7M295,207h7M364,252h7M318,505h7M474,562h7M98,332h7M488,463h7M247,226h7M427,371h7M409,342h7M115,349h7M304,522h7M16,606h7M407,470h7M369,351h7M463,551h7M425,509h7M551,297h7M425,362h7M412,503h7M369,263h7M377,351h7M504,242h7M545,424h7M470,460h7M368,503h7M345,502h7M534,525h7M223,227h7M315,127h7M238,569h7M264,565h7M534,429h7M273,196h7M582,465h7M290,225h7M447,481h7M127,270h7M344,514h7M553,298h7M100,355h7M394,573h7M320,444h7M471,478h7M420,348h7M438,351h7M347,379h7M572,368h7M384,340h7M531,96h7M171,260h7M484,470h7M412,264h7M242,598h7M350,517h7M532,456h7M467,299h7M567,586h7M413,212h7M348,219h7M241,231h7M9,602h7M283,187h7M68,352h7M363,302h7M294,552h7M280,558h7M335,443h7M198,201h7M405,486h7M368,364h7M521,446h7M322,455h7M217,239h7M573,576h7M222,240h7M249,222h7M333,248h7M470,482h7M536,451h7M384,279h7M21,605h7M371,344h7M164,278h7M363,455h7M372,330h7M484,473h7M155,303h7M317,233h7M361,457h7M456,544h7M546,281h7M362,360h7M385,347h7M410,361h7M450,492h7M37,602h7M379,596h7M339,496h7M215,246h7M170,267h7M326,478h7M472,555h7M418,370h7M99,300h7M346,560h7M559,534h7M499,275h7M526,269h7M361,462h7M252,560h7M38,603h7M458,319h7M375,468h7M556,607h7M157,294h7M563,366h7M415,378h7M603,579h7M176,261h7M450,468h7M492,528h7M271,577h7M392,304h7M354,274h7M123,288h7M368,337h7M450,335h7M54,607h7M473,229h7M361,282h7M345,433h7M334,511h7M267,550h7M207,227h7M384,466h7M281,168h7M343,523h7M560,303h7M341,470h7M429,294h7M53,344h7M362,599h7M367,368h7M490,556h7M158,268h7M388,520h7M411,87h7M32,342h7M480,301h7M572,349h7M442,597h7M423,341h7M370,224h7M220,600h7M421,259h7M104,207h7M357,263h7M185,246h7M550,276h7M211,226h7M324,489h7M330,219h7M402,478h7M398,480h7M177,175h7M341,425h7M278,220h7M459,475h7M192,231h7M49,341h7M352,412h7M461,459h7M420,226h7M549,582h7M387,565h7M373,261h7M368,379h7M473,531h7M263,561h7M352,373h7M13,310h7M353,405h7M341,215h7M133,299h7M360,510h7M379,478h7M231,209h7M427,473h7M157,278h7M337,237h7M492,534h7M394,471h7M393,350h7M305,515h7M169,265h7M556,288h7M27,386h7M451,189h7M540,493h7M155,608h7M559,440h7M349,408h7M495,461h7M362,375h7M389,218h7M384,359h7M464,529h7M402,533h7M385,474h7M359,397h7M203,599h7M334,195h7M409,386h7M348,454h7M436,570h7M369,339h7M23,380h7M43,603h7M312,544h7M523,605h7M71,366h7M260,561h7M318,589h7M614,544h7M574,448h7M341,431h7M376,348h7M387,242h7M533,452h7M314,542h7M301,563h7M363,502h7M564,408h7M423,483h7M305,531h7M540,512h7M352,460h7M376,275h7M417,309h7M560,325h7M580,405h7M197,236h7M346,441h7M498,509h7M378,319h7M231,223h7M359,359h7M551,540h7M168,229h7M399,527h7M142,300h7M55,356h7M324,551h7M430,468h7M344,405h7M214,216h7M391,386h7M30,387h7M568,513h7M359,405h7M365,466h7M321,508h7M214,233h7M205,239h7M499,272h7M432,361h7M407,368h7M411,552h7M613,509h7M301,531h7M430,597h7M440,525h7M337,465h7M367,381h7M360,490h7M342,474h7M247,556h7M320,513h7M483,479h7M130,332h7M327,569h7M463,300h7M353,469h7M519,468h7M367,396h7M379,471h7M426,546h7M562,317h7M505,453h7M14,351h7M497,530h7M478,527h7M557,414h7M572,345h7M381,346h7M356,469h7M162,293h7M307,218h7M332,509h7M382,240h7M407,243h7M277,541h7M272,210h7M482,293h7M505,493h7M339,499h7M384,352h7M454,543h7M456,286h7M266,195h7M359,449h7M487,489h7M340,475h7M343,414h7M515,513h7M354,405h7M557,410h7M156,291h7M386,474h7M345,232h7M383,290h7M347,474h7M427,554h7M285,536h7M422,497h7M431,345h7M67,365h7M489,525h7M581,539h7M509,287h7M333,494h7M494,461h7M248,586h7M453,502h7M99,333h7M239,572h7M330,434h7M310,525h7M365,382h7M250,578h7M28,378h7M141,307h7M285,223h7M100,355h7M248,200h7M15,390h7M249,204h7M410,225h7M268,600h7M111,354h7M18,396h7M493,476h7M335,517h7M486,267h7M340,410h7M319,235h7M307,510h7M425,551h7M347,448h7M246,573h7M156,288h7M319,522h7M335,220h7M378,391h7M465,302h7M571,467h7M31,605h7M302,230h7M494,293h7M125,315h7M488,282h7M404,486h7M483,210h7M254,226h7M251,130h7M571,319h7M286,533h7M157,258h7M374,107h7M422,323h7M364,169h7M237,598h7M325,169h7M359,487h7M400,372h7M555,421h7M301,235h7M567,266h7M346,213h7M583,504h7M559,459h7M300,220h7M539,430h7M254,604h7M434,342h7M316,227h7M459,467h7M472,307h7M83,342h7M376,383h7M442,343h7M263,230h7M495,298h7M336,499h7M528,457h7M124,271h7M438,95h7M561,460h7M204,188h7M131,329h7M531,468h7M328,231h7M241,559h7M568,509h7M150,253h7M278,538h7M463,517h7M521,271h7M125,317h7M147,271h7M218,208h7M365,244h7M450,491h7M505,459h7M149,606h7M128,605h7M565,486h7M362,487h7M542,436h7M577,402h7M321,500h7M191,221h7M112,177h7M488,523h7M185,240h7M367,398h7M397,303h7M448,577h7M289,545h7M418,381h7M229,239h7M395,295h7M404,295h7M356,451h7M427,367h7M250,218h7M326,242h7M369,96h7M228,232h7M309,507h7M518,253h7M386,485h7M482,291h7M319,582h7M510,593h7M209,226h7M118,350h7M557,387h7M501,561h7M341,419h7M373,483h7M349,374h7M469,293h7M125,293h7M351,228h7M617,503h7M193,213h7M213,201h7M339,447h7M484,491h7M456,507h7M52,333h7M487,464h7M350,468h7M426,378h7M306,221h7M566,384h7M248,219h7M401,469h7M510,479h7M361,590h7M593,427h7M378,564h7M560,91h7M20,391h7M560,325h7M611,455h7M98,266h7M293,531h7M43,606h7M113,298h7M544,273h7M499,90h7M271,549h7M408,514h7M235,572h7M481,500h7M471,219h7M417,557h7M142,305h7M200,601h7M368,281h7M230,605h7M378,340h7M406,382h7M307,567h7M534,511h7M121,111h7M406,330h7M125,328h7M38,375h7M341,251h7M174,264h7M366,520h7M96,308h7M541,558h7M361,411h7M423,569h7M397,309h7M338,474h7M84,257h7M526,519h7M491,504h7M380,326h7M353,501h7M454,309h7M323,464h7M390,255h7M401,575h7M571,528h7M258,556h7M315,47h7M35,369h7M371,345h7M535,519h7M241,234h7M463,263h7M564,520h7M453,526h7M237,580h7M76,172h7M324,491h7M131,325h7M163,191h7M268,144h7M372,249h7M362,296h7M95,360h7M209,607h7M108,314h7M440,547h7M216,604h7M508,506h7M359,376h7M596,488h7M572,372h7M437,325h7M141,307h7M360,283h7M239,165h7M250,170h7M418,192h7M363,463h7M400,304h7M186,249h7M409,384h7M403,470h7M349,409h7M285,542h7M39,386h7M17,608h7M552,477h7M348,506h7M409,293h7M548,439h7M341,257h7M369,369h7M621,474h7M20,394h7M389,577h7M352,491h7M119,193h7M291,530h7M570,320h7M206,239h7M472,510h7M418,343h7M386,99h7M305,187h7M541,505h7M484,298h7M601,336h7M426,521h7M493,585h7M361,489h7M431,343h7M325,492h7M252,555h7M331,240h7M391,264h7M420,548h7M578,370h7M312,211h7M463,465h7M417,350h7M372,471h7M489,545h7M395,471h7M359,257h7M453,316h7M236,571h7M486,572h7M140,296h7M435,556h7M487,538h7M134,260h7M163,257h7M496,509h7M427,474h7M297,225h7M496,189h7M113,279h7M349,475h7M582,336h7M377,232h7M290,205h7M591,352h7M173,247h7M317,537h7M57,235h7M202,239h7M73,607h7M267,599h7M235,157h7M341,172h7M346,563h7M381,228h7M471,309h7M535,491h7M374,378h7M433,235h7M348,469h7M354,598h7M507,284h7M229,238h7M310,559h7M107,313h7M260,210h7M598,325h7M390,376h7M253,565h7M342,520h7M407,360h7M539,279h7M355,455h7M531,534h7" stroke="#111" stroke-width="7" fill="none"/>
<path d="M519,279l3-1 6-1 5 2 4 3 3 3 2 3 3 3 2 3 2 4 2 5 1 4 1 5 2 6 2 3 1 3 3 6 1 3 1 6 0 6-2 6-1 3-1 6-1 5-1 4-1 6 0 6-1 6 0 3-2 6-1 4-2 5-1 3-3 5-3 4-3 2-3 3-2 4-1 3-3 5-3 3-3 4-3 3-3 3-3 1-4 2-5 1-4 2-5 2-3 2-3 2-6 2-6 0-6-1-3-1-6-1-6 0-6 1-3 1-6 2-3 1-6 2-3 0-6 1-6 0-6-1-3 0-6-1-6 0-6 1-6 0-6-1-6-2-3-1-3-2-3-3-3-5-3-4-2-3-2-3-2-3-2-6-2-3-3-3-2-6 3-6 3-2 6 0 4-1 4-3 4-3 3-1 6-1 3-1 6-3 3-2 3-3 3-2 3-2 6-3 3-1 6-1 6-1 3-1 3-3 2-5 1-4 2-5 1-3 3-5 2-4 3-3 3-3 2-3 3-3 2-3 3-4 3-3 3-3 3-4 2-4 3-3 3-3 4-2 3-2 4-2 4-3 4-3 3-1 3-2 5-3 3-3 3-3 3-3 2-3 4-3 4-3zM0,404l3-2 6-3 3-1 6-1 3-1 4-3 5-3 3-1 4-2 5-3 3-2 3-2 3-3 3-2 4-3 5-3 3-1 6-2 3-1 6-1 6 0 6 1 6-1 3-2 3-2 4-3 5-2 3-2 3-2 3-5 2-4 2-3 2-3 3-6 1-3 2-5 3-3 3-3 3-2 3-3 3-4 3-2 4-2 5-3 2-3 1-6 0-3 3-6 2-3 1-3 2-6 1-3 3-4 3-2 5-3 4-3 3-2 4-1 5-1 6-1 3-1 6-3 3-2 3-2 6-2 3-1 6-1 3-1 4-3 5-1 6 0 6 0 6-2 6 2 3 1 6 0 6 0 6 2 6 1 3 0 6 1 6 1 3 2 3 2 5 3 4 2 3 2 3 4 3 3 3 3 3 4 1 3 1 6 2 3 2 3 3 5 2 4 1 3 2 6 1 6 2 3 2 3 2 3 3 6 1 3 1 6-2 6-1 3-2 4-2 5-1 3-3 6-1 3-2 6-2 3-2 3-3 3-2 3-3 5-1 4 1 6 0 6-3 6-3 3-3 3-2 3-1 4-2 5-2 3-2 3-2 6-1 4-3 5-1 3-2 3-1 6 1 6 2 3 1 3 2 6 1 3 1 6-1 6-1 3-3 3-3 3-3 3-3 3-2 4-3 5-3 3-3 1-4 2-5 2-3 2-3 3-3 2-3 4-2 5-2 3-2 3-4 3-5 2-3 1-4 3-4 3-4 3-3 1-5 2-4 2-3 3-1 4 1 5 1 4-1 3-3 4-3 2-6 3-3 2-3 2-5 2-2 0-4 0-4 1-3 2-4 3-5 2-3 1-6 1-6 0-6 1-6 0-6 0-6 0-6-1-6-1-3 0-6-1-5 1-4 2-3 2-3 2-6 3-3 1-6 0-6 0-3-1-6-2-3-1-6-2-6-1-3-1-4-2-5-2-6 0-6-1-4 0-5 0-5 0-4 1-6-1-3-1-6-2-3 0-6-1-3-1" fill="none" stroke="#1e1e1e" stroke-width="27" stroke-dasharray="9 3 5 3 14 4 6 2"/>
<path d="M519,279l3-1 6-1 5 2 4 3 3 3 2 3 3 3 2 3 2 4 2 5 1 4 1 5 2 6 2 3 1 3 3 6 1 3 1 6 0 6-2 6-1 3-1 6-1 5-1 4-1 6 0 6-1 6 0 3-2 6-1 4-2 5-1 3-3 5-3 4-3 2-3 3-2 4-1 3-3 5-3 3-3 4-3 3-3 3-3 1-4 2-5 1-4 2-5 2-3 2-3 2-6 2-6 0-6-1-3-1-6-1-6 0-6 1-3 1-6 2-3 1-6 2-3 0-6 1-6 0-6-1-3 0-6-1-6 0-6 1-6 0-6-1-6-2-3-1-3-2-3-3-3-5-3-4-2-3-2-3-2-3-2-6-2-3-3-3-2-6 3-6 3-2 6 0 4-1 4-3 4-3 3-1 6-1 3-1 6-3 3-2 3-3 3-2 3-2 6-3 3-1 6-1 6-1 3-1 3-3 2-5 1-4 2-5 1-3 3-5 2-4 3-3 3-3 2-3 3-3 2-3 3-4 3-3 3-3 3-4 2-4 3-3 3-3 4-2 3-2 4-2 4-3 4-3 3-1 3-2 5-3 3-3 3-3 3-3 2-3 4-3 4-3zM0,404l3-2 6-3 3-1 6-1 3-1 4-3 5-3 3-1 4-2 5-3 3-2 3-2 3-3 3-2 4-3 5-3 3-1 6-2 3-1 6-1 6 0 6 1 6-1 3-2 3-2 4-3 5-2 3-2 3-2 3-5 2-4 2-3 2-3 3-6 1-3 2-5 3-3 3-3 3-2 3-3 3-4 3-2 4-2 5-3 2-3 1-6 0-3 3-6 2-3 1-3 2-6 1-3 3-4 3-2 5-3 4-3 3-2 4-1 5-1 6-1 3-1 6-3 3-2 3-2 6-2 3-1 6-1 3-1 4-3 5-1 6 0 6 0 6-2 6 2 3 1 6 0 6 0 6 2 6 1 3 0 6 1 6 1 3 2 3 2 5 3 4 2 3 2 3 4 3 3 3 3 3 4 1 3 1 6 2 3 2 3 3 5 2 4 1 3 2 6 1 6 2 3 2 3 2 3 3 6 1 3 1 6-2 6-1 3-2 4-2 5-1 3-3 6-1 3-2 6-2 3-2 3-3 3-2 3-3 5-1 4 1 6 0 6-3 6-3 3-3 3-2 3-1 4-2 5-2 3-2 3-2 6-1 4-3 5-1 3-2 3-1 6 1 6 2 3 1 3 2 6 1 3 1 6-1 6-1 3-3 3-3 3-3 3-3 3-2 4-3 5-3 3-3 1-4 2-5 2-3 2-3 3-3 2-3 4-2 5-2 3-2 3-4 3-5 2-3 1-4 3-4 3-4 3-3 1-5 2-4 2-3 3-1 4 1 5 1 4-1 3-3 4-3 2-6 3-3 2-3 2-5 2-2 0-4 0-4 1-3 2-4 3-5 2-3 1-6 1-6 0-6 1-6 0-6 0-6 0-6-1-6-1-3 0-6-1-5 1-4 2-3 2-3 2-6 3-3 1-6 0-6 0-3-1-6-2-3-1-6-2-6-1-3-1-4-2-5-2-6 0-6-1-4 0-5 0-5 0-4 1-6-1-3-1-6-2-3 0-6-1-3-1" fill="#e4e4e4" stroke="#fff" stroke-width="13"/>
<path d="M0,427l3-3 3-3 3-2 3-2 6-3 3-1 4-2 3-3 3-3 4-3 4-2 3-2 6-2 3 0 6-2 3-3 2-4 1-5 3-2 6-2 3-1 6-1 6 0 6 0 6 0 4-1 5-1 4-2 3-3 3-3 3-3 5-3 3-3 3-3 2-3 1-3 3-6 3-3 3-3 3-2 3-2 4-2 3-3 2-3 6-3 3 0 6-2 3-2 3-3 3-5 1-3 2-3 2-6 2-3 2-4 3-4 3-4 1-3 2-6 2-3 3-3 4-3 3-2 4-1 5-1 6 1 6-1 6-1 3-1 5-3 4-2 3-2 6-1 6 0 6 0 6 1 6 1 3 1 6 2 3 1 6 0 6 1 3 2 3 3 3 5 1 3 1 6 1 4 3 2 6 1 6 1 3 4-3 6-3 3-2 3-1 6 2 6 2 3 2 3 6 3 3 1 4 2 2 6-3 6-3 3-3 3-3 1-4 2-5 3-1 3-1 6 1 6-2 5-2 4 0 6 1 6-2 5-3 2-3 2-4 3-3 3-3 3-2 4-3 4-2 4-2 3-1 6 0 6-3 3-4 3-3 3-2 3-2 3-1 6 2 4 3 5 2 3 0 6 1 5 2 4 3 3-1 6-1 3-3 4-3 3-3 5-1 3-2 3-3 3-3 3-3 3-3 4-3 4-3 3-3 3-3 3-3 3-3 2-5 2-4 2-3 1-6 3-3 1-4 2-4 3-2 3-3 3-4 3-4 2-3 2-3 2-3 5-3 4-3 2-3 1-5 3-3 3-3 3-4 2-6-1-6 1-3 2-6 2-3 0-6 2-6 0-6-1-3-1-6-1-5 1-4 2-4 1-5 2-3 1-6 1-3-1-6-3-3-1-6 0-6-2-3-1-3-2-6-2-3-1-6-3-3-1-6 0-6-1-3-1-6-1-3 1-6 2-6-1-3-1-4-3-2-4-2-5-2-3-2-2" fill="#f6f6f6"/>
<path d="M0,444l3-3 3-3 2-3 3-3 4-3 3-2 3-1 6-2 3-1 6-2 3-2 3-3 4-2 5-2 3-2 6-1 6 0 3-1 4-3 3-3 4-3 4-1 3-2 5-3 4-2 4-1 5-2 5-1 4-2 4-1 5-2 6-1 3-1 6-1 6-1 6 0 3 0 3-3 3-6 3-3 2-3 1-3 3-4 5-2 4-3 3-3 3-3 3-3 3-3 2-3 3-3 4-3 3-2 3-3 1-4 0-6 0-6 2-4 6-2 3-1 4-2 5-2 4 2 4 3 4 0 3-2 0-2-3-5 0-3 2-3 3-3 4-2 6 2 2 3 3 3 4 3 1 0 2-3 2-6 2-3 2-3 6-3 3 0 4 0 3 3 0 6 2 3 4 3 5 3 3 2 3 4 3 2 3 3 2 4-2 6-1 3 0 6 0 6 0 6-1 6-1 5 0 4-1 6-2 4-3 4-2 4-1 3-3 6-3 3-2 3-1 3-3 5-3 4-3 1-6 1-3 2-3 4-3 4-1 3 1 5 2 4 1 5 0 4 1 6 0 6 0 6 1 6 0 6 1 6 0 3 2 6 1 3 3 4 1 5-1 3-3 3-4 3-5 1-6-1-6 1-6 1-3 1-3 3-3 3-2 6 2 6 2 3-1 6-4 2-3 2-4 2-4 3-3 3-3 3-3 3-4 3-3 3-3 2-3 2-6 2-3 2-3 3-3 3-3 3-3 3-3 3-3 2-6 1-4 1-4 3-4 3-3 1-6 2-3 0-5 0-4-1-4-2-5-2-3-1-6 0-3 1-4 2-5 0-6 2-6 0-6-1-6-1-3 0-5-3-4-2-3-1-5-3-4-3-3-1-6-1-6 0-3-1-6-2-3-2-3-2-6-3-3-1-3-2-6-3-3-1-3-3-3-2" fill="#ececec"/>
<path d="M243,335l-2 4 2 5 3 2 6 0 1-4-4-3-3-3-3-1zM0,456l3-2 3-4 2-3 2-3 2-3 3-3 3-3 5-3 4-2 4-1 5-2 3-2 4-2 5-3 3-1 6-2 6 0 6 0 3 0 6-2 3-1 4-3 3-3 5-3 3-2 3-2 3-2 6-2 3-1 6-2 5-1 4-2 6-1 1 0 5 1 6 1 6-1 3-2 6-2 3-2 3-3 3-3 3-2 4-2 3-3 2-4 3-4 3-3 3-2 4-2 4-3 2-3 2-4 3-4 3-3 3-2 3-2 3-3 3-5 3-2 6 0 6-2 2 0 4 2 3 3 3 2 3-2 6-2 6 1 3-1 4-3 2-3 3-4 3-3 4 1 0 6 2 4 4 2 5 1 3 3 1 5-1 5-1 4-1 6-1 6 0 3-3 6-3 3-3 0-5 0-4 0-6-2-3 4-3 4-3 2-3 3-3 2-3 5-2 3-2 3-2 3-2 6 2 4 3 2 3 3 3 6 1 3 1 6-2 4 0 5 1 3 2 4 3 5 1 3-1 5-1 4-1 6-1 3-1 6 0 6-2 4-4 2-5 1-5 2-4 3-3 2-3 1-6 3-3 1-3 2-3 6-1 3-1 6-1 6 0 3-3 6-1 3-2 4-3 3-3 2-6 1-6 0-5 2-3 3-2 3-3 3-3 3-5 3-3 2-3 4-3 3-3 3-3 1-5 2-4 0-3 0-5-3-3-3-4-2-3-2-6 0-6 1-3 1-6 2-3 1-5 2-4 1-6 0-5-1-4-1-4-2-5-3-3-2-3-3-3-2-5-2-4-1-6-1-6-1-3-1-5-2-4-1-4-2-5-3-3-2-3-3-3-3-3-3-3-2" fill="#dcdcdc"/>
<path d="M0,478l2-4 0-6 1-4 3-3 3-3 3-2 3-4 3-4 2-4 2-3 3-3 5-3 3-1 4-2 5-3 3-1 4-2 5-1 6 0 6-1 6-1 3 0 6-3 3-1 4-2 5-3 3-2 3-1 6-2 4-1 5-1 6-2 3 0 6-2 6-1 6 3 6-1 3-2 4-3 5-2 6 0 4 2 5 3 3 2 3 1 3 0 3 0 6 3 2 3 4 3 6 0 3 0 6 2 3 4 0 3 0 3-1 6 0 6 1 3 3 5 3 4 6-3 3 0 3 1 3 2 6 2 2 4-2 4-3-1-3-3-6-1-6-2-3-1-1 4 2 3 5 3 3 1 3 2 1 6-2 3-3 3-2 3-3 3-6 3-3 0-6 1-3 2-3 6-2 3-1 3-1 6 0 6-2 4-3 2-6 3-3 3-3 1-6 0-6-1-6 2-3 1-6 2-4 1 0 6 1 4 2 5 1 6-2 6-3 3-3 3-4 2-6-1-3-2-3-3-4-2-5-3-3-1-6 0-5 1-4 2-3 1-6 3-3 1-6 1-6-1-6-1-3-1-5-2-4-2-3-2-4-2-5-3-3-2-3-1-5-3-4-3-3-2-3-1-3 0-6 1-3-2-3-4-2-4-1-6 0-5-3-2-3-2-3-4-3-5 0-1" fill="#c6c6c6"/>
<path d="M88,426l5-1 6 0 3 2 3 2 4 3 5 2 6 0 6-2 3-1 5-2 4 0 3 1 3 2 6 0 3 0 6 0 3 0 3 0 6-3 3 0 6-1 6 1 3 2 1 4-1 3-3 3-3 3 0 6-2 6-4 3-3 3 2 6 2 3 2 3 1 6-1 3 0 6 0 3 0 3-3 3-6 3-3 0-5 3-3 3-4 2-4 1-5 2-6-1-3-2-6-1-1 5-1 6-2 3-3 3-2 3-2 6-1 3-4 3-5 1-6-1-3-2-2-4-1-6 3-5 5-1 4-2 3-4 1-3-1-6-3-1-6-1-6 0-6 0-6 1-3 3-3 3-3 4-2 3-2 3-3 3-3 3-2 3-6 2-4-2-5-3-3-1-3-2-3-6-1-3-2-3-2-6-2-3-5-2-3-1-6-2-6 0-3-1-3-5-1-4 1-3 3-6 1-3 2-5 2-4 2-3 3-3 2-4 3-4 2-4 2-3 2-4 3-2 6-2 4-1 5-1 6-1 5-1 4-2 4-1 5-1 5-2 4-2 4-1z" fill="#bebebe"/>
<path d="M76,435l5-1 6-1 5 2 1 4 3 5 3 1 6 0 3 3 1 5 2 5 6 0 6-2 6 2 3 3 3 2 5 2 2 3 2 3 4 0 5-3 3-1 6-2 5 3 3 3 1 3 1 6-1 5-1 4-3 3-5 3-3 1-3 2-5 3-4 1-4-1-5-3-2-3-2-3-5-3-5 3-4 3-3 1-6 2-6-2-6 0-6 0-5-1-4-2-3-3-1-4-2-3-6 0-3 1-6 1-3 2-2 5 0 6 0 6-1 5-6 1-3-3-3-6-3-3-3-2-3-1-6-1-6 0-6-2-2-3 1-6 1-4 3-5 3-3 3-3 3-2 4-1 3-3 2-4 3-2 3 0 6 1 3-4 1-3 2-5 3-3 3-2 4-2 5-2 4-1zM72,465l-3 1-3 2-1 6 4 1 6-1 1-3-1-5-3-1z" fill="#d2d2d2"/>
<path d="M69,441l3-1 6-1 6 2 1 3-2 3-5 1-6 0-6 1 0-5 3-3zM63,453l0-1 0 1 2 3 0 3-2 3-3 2-2-2 1-3 1-2 1-1 2-3zM99,465l3-1 6 0 6 1 3 1 4 2 2 3 3 3 3 6-3 3-3 3-4 3-5 3-6-1-6-2-6 2-6-1-3-4 0-3-1-6 1-5 3-2 5-2 4-3zM32,474l3 0 4 3 1 3-1 6-3 2-3 1-6 1-3-1-2-6 2-4 3-3 5-2zM154,474l5-2 5 2 1 3 0 6 0 3-3 4-5 2-4 2-3 1-6 0-3-2-3-4-1-3 1-4 4-2 5-2 3-2 4-2z" fill="#e8e8e8"/>
<path d="M525,285l6 1 4 2 3 3 2 3 3 4 3 5 1 3 2 6 1 3 1 6 1 3 2 6 1 6-1 6 0 6-1 6-1 6 0 3-1 6-1 6-1 6 0 3-1 6-2 4-2 5-2 3-2 4-3 4-3 3-3 4-2 3-2 3-3 3-2 3-4 3-5 3-3 1-6 1-3 1-6 2-3 2-4 2-5 1-6 0-6 0-6 0-6 1-6 0-6 0-3 1-6 3-3 0-6 0-3-1-6 0-6-1-6-1-3 0-6-1-6 1-6-1-3-2-3-3-3-5-2-4 0-6 2-5 3-3 3-2 3-2 3-3 4-3 4-3 4-3 3-1 6-1 6 1 5-2 4-2 3-2 3-3 3-3 3-5 1-3 2-5 1-4 1-6 1-3 3-6 2-3 4-3 2-3 2-3 2-3 3-3 4-3 4-3 4-2 3-2 3-3 3-4 3-4 3-3 3-3 3-3 3-3 3-3 3-3 3-3 3-3 3-2 3-3 3-2 6-2z" fill="#f4f4f4"/>
<path d="M521,294l4-1 6 1 3 2 3 4 2 3 2 3 2 4 2 5 1 4 1 5 1 6 1 6-1 6-1 6 0 6-1 5 0 4-1 6-1 6-1 6-1 3-2 6-1 3-2 6-2 3-3 3-3 3-3 3-2 3-2 3-3 3-6 3-3 0-6 1-6 2-3 0-6 2-3 1-6 1-4-1-5-1-6-1-5-1-4 0-6-1-5-2 0-6 0-6 1-6 2-3 4-3 4-3 3-3 1-3 0-6 0-6 0-6 0-6 2-6 1-3 5-3 3 0 4-3 2-4 3-4 3-3 3-3 3-4 1-3 2-3 3-6 2-3 1-3 3-3 3-4 3-3 3-3 3-3 3-2 5-3z" fill="#e2e2e2"/>
<path d="M519,300l6-2 6 2 3 3 2 3 2 3 2 4 2 5 1 4 1 5 1 6 0 6-1 6-1 5 0 4-1 6 0 6-1 6-1 5-1 4-2 4-1 5-2 6-1 3-3 3-4 3-3 3-3 3-3 3-4 2-6 1-4 0-5 1-6 0-3-1-4-3-2-5-3-3-4 2-2 6-3 2-6-2-2-3 2-4 3-2 5-3 2-3 1-6-2-6 0-3 0-5 0-4 0-4 0-5 1-3 2-3 3-4 3-5 2-3 2-3 2-3 3-5 2-4 2-3 2-5 2-4 1-3 3-5 3-3 3-3 3-3 3-2 3-2z" fill="#bdbdbd"/>
<path d="M517,303l5-2 6 0 4 2 3 3 2 4 2 5 1 3 2 6 1 4 1 5-1 6 0 3-1 6-1 6 0 6-1 6 0 3-1 6-2 6-1 3-2 6 0 3-3 6-3 3-3 2-3 3-3 3-3 3-3 1-6 1-6 0-6 0-4-1-2-3 0-6 0-3 0-6-1-3-2-4-3-4-2-4-1-6-1-3-1-6 2-6 1-3 2-3 3-4 3-4 2-4 1-3 3-5 2-4 2-3 2-6 1-3 2-3 3-4 3-3 3-2 4-3z" fill="#6a6a6a"/>
<path d="M518,306l4-2 6 1 3 2 3 3 2 5 1 3 2 6 1 3 1 6 0 6-1 4-1 5 0 6-1 6 0 6-1 6 0 3-2 6-2 3-1 6-1 3-3 5-3 3-3 2-3 3-3 2-6 2-6 0-6-2-2-3-1-5-1-4-2-6-1-3-2-3-2-6-1-5-1-4 0-6 1-6 1-3 2-3 3-4 2-5 2-3 2-5 2-4 1-3 3-6 1-3 2-3 3-3 3-3 5-3z" fill="#101010"/>
<path d="M518,321l4-1 3 2 3 3 3 5 1 3 0 6-1 3 0 6 0 6-1 6 0 6-1 6-1 3-3 6-1 3-2 4-3 4-3 1-3 0-4-3-2-3-3-4-3-4-2-4-1-3-1-6 0-6 1-4 2-5 2-3 1-6 1-4 2-5 2-3 2-3 3-3 5-3z" fill="#f4f4f4"/>
<path d="M525,285l6 1 4 2 3 3 2 3 3 4 3 5 1 3 2 6 1 3 1 6 1 3 2 6 1 6-1 6 0 6-1 6-1 6 0 3-1 6-1 6-1 6 0 3-1 6-2 4-2 5-2 3-2 4-3 4-3 3-3 4-2 3-2 3-3 3-2 3-4 3-5 3-3 1-6 1-3 1-6 2-3 2-4 2-5 1-6 0-6 0-6 0-6 1-6 0-6 0-3 1-6 3-3 0-6 0-3-1-6 0-6-1-6-1-3 0-6-1-6 1-6-1-3-2-3-3-3-5-2-4 0-6 2-5 3-3 3-2 3-2 3-3 4-3 4-3 4-3 3-1 6-1 6 1 5-2 4-2 3-2 3-3 3-3 3-5 1-3 2-5 1-4 1-6 1-3 3-6 2-3 4-3 2-3 2-3 2-3 3-3 4-3 4-3 4-2 3-2 3-3 3-4 3-4 3-3 3-3 3-3 3-3 3-3 3-3 3-3 3-3 3-2 3-3 3-2 6-2zM0,427l3-3 3-3 3-2 3-2 6-3 3-1 4-2 3-3 3-3 4-3 4-2 3-2 6-2 3 0 6-2 3-3 2-4 1-5 3-2 6-2 3-1 6-1 6 0 6 0 6 0 4-1 5-1 4-2 3-3 3-3 3-3 5-3 3-3 3-3 2-3 1-3 3-6 3-3 3-3 3-2 3-2 4-2 3-3 2-3 6-3 3 0 6-2 3-2 3-3 3-5 1-3 2-3 2-6 2-3 2-4 3-4 3-4 1-3 2-6 2-3 3-3 4-3 3-2 4-1 5-1 6 1 6-1 6-1 3-1 5-3 4-2 3-2 6-1 6 0 6 0 6 1 6 1 3 1 6 2 3 1 6 0 6 1 3 2 3 3 3 5 1 3 1 6 1 4 3 2 6 1 6 1 3 4-3 6-3 3-2 3-1 6 2 6 2 3 2 3 6 3 3 1 4 2 2 6-3 6-3 3-3 3-3 1-4 2-5 3-1 3-1 6 1 6-2 5-2 4 0 6 1 6-2 5-3 2-3 2-4 3-3 3-3 3-2 4-3 4-2 4-2 3-1 6 0 6-3 3-4 3-3 3-2 3-2 3-1 6 2 4 3 5 2 3 0 6 1 5 2 4 3 3-1 6-1 3-3 4-3 3-3 5-1 3-2 3-3 3-3 3-3 3-3 4-3 4-3 3-3 3-3 3-3 3-3 2-5 2-4 2-3 1-6 3-3 1-4 2-4 3-2 3-3 3-4 3-4 2-3 2-3 2-3 5-3 4-3 2-3 1-5 3-3 3-3 3-4 2-6-1-6 1-3 2-6 2-3 0-6 2-6 0-6-1-3-1-6-1-5 1-4 2-4 1-5 2-3 1-6 1-3-1-6-3-3-1-6 0-6-2-3-1-3-2-6-2-3-1-6-3-3-1-6 0-6-1-3-1-6-1-3 1-6 2-6-1-3-1-4-3-2-4-2-5-2-3-2-2M214,276l2-3 3 0 3 3 0 3-3 3 0 1-3 2-1-3-2-3 1-3zM520,291l5-2 6 1 3 2 3 3 3 4 2 4 2 3 2 6 1 3 2 6 0 3 2 6 0 6 0 6-1 6-1 6 0 3-1 6 0 6-1 6-1 4-1 5-1 6-2 3-2 6-2 3-2 3-3 3-3 3-2 3-3 4-3 4-3 3-3 1-6 2-4 1-5 1-5 2-4 2-3 1-6 2-6-1-6 0-6-1-3-1-6-1-6 2-3 1-6 1-6 1-6-1-6-1-3-1-2-6 3-3 2-3 6-3 3 0 3-3 2-6 0-6 1-5 3-3 3-1 4-3 3-3 2-6-2-6 0-6 1-6 1-3 3-6 2-3 2-3 2-3 3-3 4-3 5-2 3-1 4-3 3-3 2-3 3-6 2-3 2-3 2-3 3-4 3-3 3-4 3-3 3-3 3-2 3-3 4-2zM394,426l2-1 3-2 3 1 2 2 1 3-2 3-1 1-3 0-3 0-1-1-2-3 1-3zM0,436l3-2 3-3 3-3 3-2 4-3 5-2 3-1 6-2 3-2 3-2 4-3 5-3 3-2 3-1 6-2 5-1 4-2 3-2 3-2 6-3 3-1 4-2 5-3 3-2 5-1 4-1 6-2 3 0 6-2 3-2 4-2 3-3 2-3 3-4 3-3 3-4 3-3 3-4 2-3 4-2 6 0 6 1 3-2 3-4 3-4 3-2 4-2 3-3 2-3 3-4 3-3 3-2 2-6 1-6 1-3 2-6 2-3 4-3 3-1 4-2 5-3 6 2 4-2 4-3 4-2 3-2 3-2 6-3 3-1 3-2 3-3 3-5 3-2 6-1 6 0 6 1 4 1 5 1 6 1 3 1 6 3 3 3 0 3 0 5 0 4 0 3 3 6 2 3 1 3 3 3 3 5 1 4 0 6 0 6 0 6 0 6-1 3-2 6-2 3 0 6 1 3 0 6-1 3-3 3-2 3-3 3-2 6-1 3-2 6-1 3-3 4-3 3-3 4-1 4-2 4-3 4-3 2-3 4-2 4-1 6 1 6-1 4-1 5-1 6 1 6 2 3 2 4 2 5 0 6 1 3 2 6-2 6-1 3-3 3-2 3-3 5-3 2-6 0-6 1 0 4 1 3-1 4-3 4-3 4-2 3-4 3-3 1-4 2-5 2-3 1-5 3-4 3-3 3-3 3-3 3-3 3-3 2-3 1-5 3-3 3-3 3-4 3-3 1-3 3-3 3-4 2-5 1-6 1-3 3-3 2-6 2-3 1-6 1-6 0-6-2-3-1-6-1-4 2-5 2-6 1-3 1-6 1-6-2-3-1-6-1-5-1-4-2-3-2-5-2-4-1-3-2-6-3-3 0-6 0-6-2-6-1-3 0-6-1-3-3-3-2-4-3-4-3-4-3-3-2-3-2M521,294l4-1 6 1 3 2 3 4 2 3 2 3 2 4 2 5 1 4 1 5 1 6 1 6-1 6-1 6 0 6-1 5 0 4-1 6-1 6-1 6-1 3-2 6-1 3-2 6-2 3-3 3-3 3-3 3-2 3-2 3-3 3-6 3-3 0-6 1-6 2-3 0-6 2-3 1-6 1-4-1-5-1-6-1-5-1-4 0-6-1-5-2 0-6 0-6 1-6 2-3 4-3 4-3 3-3 1-3 0-6 0-6 0-6 0-6 2-6 1-3 5-3 3 0 4-3 2-4 3-4 3-3 3-3 3-4 1-3 2-3 3-6 2-3 1-3 3-3 3-4 3-3 3-3 3-3 3-2 5-3zM0,444l3-3 3-3 2-3 3-3 4-3 3-2 3-1 6-2 3-1 6-2 3-2 3-3 4-2 5-2 3-2 6-1 6 0 3-1 4-3 3-3 4-3 4-1 3-2 5-3 4-2 4-1 5-2 5-1 4-2 4-1 5-2 6-1 3-1 6-1 6-1 6 0 3 0 3-3 3-6 3-3 2-3 1-3 3-4 5-2 4-3 3-3 3-3 3-3 3-3 2-3 3-3 4-3 3-2 3-3 1-4 0-6 0-6 2-4 6-2 3-1 4-2 5-2 4 2 4 3 4 0 3-2 0-2-3-5 0-3 2-3 3-3 4-2 6 2 2 3 3 3 4 3 1 0 2-3 2-6 2-3 2-3 6-3 3 0 4 0 3 3 0 6 2 3 4 3 5 3 3 2 3 4 3 2 3 3 2 4-2 6-1 3 0 6 0 6 0 6-1 6-1 5 0 4-1 6-2 4-3 4-2 4-1 3-3 6-3 3-2 3-1 3-3 5-3 4-3 1-6 1-3 2-3 4-3 4-1 3 1 5 2 4 1 5 0 4 1 6 0 6 0 6 1 6 0 6 1 6 0 3 2 6 1 3 3 4 1 5-1 3-3 3-4 3-5 1-6-1-6 1-6 1-3 1-3 3-3 3-2 6 2 6 2 3-1 6-4 2-3 2-4 2-4 3-3 3-3 3-3 3-4 3-3 3-3 2-3 2-6 2-3 2-3 3-3 3-3 3-3 3-3 3-3 2-6 1-4 1-4 3-4 3-3 1-6 2-3 0-5 0-4-1-4-2-5-2-3-1-6 0-3 1-4 2-5 0-6 2-6 0-6-1-6-1-3 0-5-3-4-2-3-1-5-3-4-3-3-1-6-1-6 0-3-1-6-2-3-2-3-2-6-3-3-1-3-2-6-3-3-1-3-3-3-2M520,297l5-1 6 1 3 3 3 3 2 3 1 3 3 6 1 3 1 6 1 4 1 5-1 6 0 3-1 6 0 6-1 6-1 6 0 3-1 6-1 6-1 3-2 6-1 3-2 6-3 3-3 3-3 3-3 3-2 3-3 3-5 2-6 1-3 0-6 1-6 1-6 0-6 1-3 1-6-1-3 0-6-2-4-1-3-3-1-6 2-6 3-3 3-1 4-2 1-6 0-6-1-6 0-6 1-6 1-6 2-3 4-2 3-3 3-4 1-3 2-3 3-3 3-5 3-4 1-3 2-3 3-6 1-3 2-3 3-4 3-4 3-3 3-2 3-3 4-2zM0,451l3-3 3-4 2-3 2-3 3-3 3-3 5-3 3-1 6-2 3-1 5-2 4-2 3-2 3-2 6-2 3-1 6-1 6 0 6-2 3-2 3-2 3-2 4-3 4-3 4-3 3-1 6-2 3-1 6-2 3-1 6-2 3-1 6-1 6 1 6 0 6-1 5-1 4-3 3-3 2-3 4-3 3-2 2-4 1-3 3-3 3-3 3-3 3-4 3-3 3-4 3-2 3-2 3-3 4-3 4-3 2-3 2-6 0-3 3-6 3-1 6 1 3 1 6 2 3 1 3 2 6 2 5-2 4-3 6 2 5-2 3-3 2-3 2-3 3-4 3-5 3-2 5 2 4 3 3 3 3 2 3 1 3 4 0 3-1 5-1 6 0 6-1 6 0 3-1 6 0 6-1 6-2 3-2 5-2 4-1 3-4 3-5 1-3 2-1 6-2 4-6 2-3 0-3 0-4 0-2 4-1 5-2 6 0 3 0 4 2 5 2 3 1 6 0 6 1 6 1 3 2 6 0 4 0 3 0 5-1 6-1 6 0 6 1 6-2 4-4 2-5 1-6 1-3 1-5 3-4 3-3 2-3 2-4 2-3 3-2 6 3 5 2 4-2 3-3 3-3 3-3 4-3 3-3 4-3 3-3 2-6 2-3 0-6 2-3 3-3 4-1 3-2 3-3 4-6 1-4 1-4 3-3 3-4 3-3 1-6 1-6 0-4-2-5-3-3-2-3-2-6-1-5 2-4 2-6 0-3 1-6 1-6 1-6 0-5-2-4-2-3-1-5-3-4-3-3-3-3-1-6-2-6 0-3 0-6-2-3-2-5-2-4-2-3-1-6-3-3-2-3-3-3-3-3-2M519,300l6-2 6 2 3 3 2 3 2 3 2 4 2 5 1 4 1 5 1 6 0 6-1 6-1 5 0 4-1 6 0 6-1 6-1 5-1 4-2 4-1 5-2 6-1 3-3 3-4 3-3 3-3 3-3 3-4 2-6 1-4 0-5 1-6 0-3-1-4-3-2-5-3-3-4 2-2 6-3 2-6-2-2-3 2-4 3-2 5-3 2-3 1-6-2-6 0-3 0-5 0-4 0-4 0-5 1-3 2-3 3-4 3-5 2-3 2-3 2-3 3-5 2-4 2-3 2-5 2-4 1-3 3-5 3-3 3-3 3-3 3-2 3-2zM243,335l-2 4 2 5 3 2 6 0 1-4-4-3-3-3-3-1zM0,456l3-2 3-4 2-3 2-3 2-3 3-3 3-3 5-3 4-2 4-1 5-2 3-2 4-2 5-3 3-1 6-2 6 0 6 0 3 0 6-2 3-1 4-3 3-3 5-3 3-2 3-2 3-2 6-2 3-1 6-2 5-1 4-2 6-1 1 0 5 1 6 1 6-1 3-2 6-2 3-2 3-3 3-3 3-2 4-2 3-3 2-4 3-4 3-3 3-2 4-2 4-3 2-3 2-4 3-4 3-3 3-2 3-2 3-3 3-5 3-2 6 0 6-2 2 0 4 2 3 3 3 2 3-2 6-2 6 1 3-1 4-3 2-3 3-4 3-3 4 1 0 6 2 4 4 2 5 1 3 3 1 5-1 5-1 4-1 6-1 6 0 3-3 6-3 3-3 0-5 0-4 0-6-2-3 4-3 4-3 2-3 3-3 2-3 5-2 3-2 3-2 3-2 6 2 4 3 2 3 3 3 6 1 3 1 6-2 4 0 5 1 3 2 4 3 5 1 3-1 5-1 4-1 6-1 3-1 6 0 6-2 4-4 2-5 1-5 2-4 3-3 2-3 1-6 3-3 1-3 2-3 6-1 3-1 6-1 6 0 3-3 6-1 3-2 4-3 3-3 2-6 1-6 0-5 2-3 3-2 3-3 3-3 3-5 3-3 2-3 4-3 3-3 3-3 1-5 2-4 0-3 0-5-3-3-3-4-2-3-2-6 0-6 1-3 1-6 2-3 1-5 2-4 1-6 0-5-1-4-1-4-2-5-3-3-2-3-3-3-2-5-2-4-1-6-1-6-1-3-1-5-2-4-1-4-2-5-3-3-2-3-3-3-3-3-3-3-2M517,303l5-2 6 0 4 2 3 3 2 4 2 5 1 3 2 6 1 4 1 5-1 6 0 3-1 6-1 6 0 6-1 6 0 3-1 6-2 6-1 3-2 6 0 3-3 6-3 3-3 2-3 3-3 3-3 3-3 1-6 1-6 0-6 0-4-1-2-3 0-6 0-3 0-6-1-3-2-4-3-4-2-4-1-6-1-3-1-6 2-6 1-3 2-3 3-4 3-4 2-4 1-3 3-5 2-4 2-3 2-6 1-3 2-3 3-4 3-3 3-2 4-3zM270,330l6-2 5 2 4 1 4 2 1 6-1 6-1 3-1 6 0 6-2 4-6 2-6-2-3-4-2-3-3-3-2-3 1-5 2-4 2-3 1-6 1-3zM0,459l3-2 3-3 3-4 2-3 2-3 3-3 2-3 4-3 5-3 3-1 6-2 3-2 3-1 5-3 4-2 5-1 4 0 6 0 6-1 6-2 3-1 4-2 4-3 4-3 3-2 3-1 5-3 4-2 6-1 3-1 6-1 3-1 6-2 6 1 5 1 2 0 5-2 3-1 6-3 3-1 3-2 4-3 5-3 3 0 6 0 3 0 3 4 2 5 1 3 6 2 3-2 1-6 0-6-1-6-3-2-3-2-4-2 1-5 3-3 3-2 3-3 3-2 3-3 3-4 3-4 3-2 6-2 6 0 6 2 3 3 3 4 3 3 3 3 3 2 6 0 3 1 1 6-1 6-1 3-4 3-4 1-3-2-1-5-2-5-3 2-3 6-3 2-6-1-3-2-6-1-3 4-1 4 0 6 3 0 4 0 3 2 1 4 2 4 3 4 0 3-3 3-3 3 0 4 1 3 2 4 3 4 4-2 2-3 5-3 2 0 3 3 1 6-5 3-3 2 0 3 3 4 3 2 3 3 3 4 2 3 1 6-2 6-1 5-2 4-1 3 0 5 0 3-3 3-3 1-6 1-3 2-4 3-5 3-3 1-5 2-4 2-2 4-1 3-2 6-1 4-1 5-1 6-1 4-2 5-2 3-4 3-4 1-4-1-5-2-3-2-3-2-3 0-2 6 1 6-2 3-3 3-3 3-3 3-3 4-3 4-3 3-3 2-6 2-6-1-3-2-4-3-5-3-3-1-6-1-6 0-4 2-5 2-3 2-4 2-5 1-6 0-5-1-4-1-4-2-5-3-3-2-3-2-3-2-6-3-3-1-6-1-3-1-6-2-5-1-4-1-5-2-4-3-3-3-3-3-2-3-4-3-3-3M520,303l5-1 4 1 4 3 2 3 2 4 2 5 1 3 2 6 1 6-1 6-1 6-1 6 0 3-1 6 0 6 0 6-2 6-1 3-2 4-1 5-2 6-2 3-3 3-4 3-3 3-3 3-3 1-6 1-6 0-6-1-3-4 0-3 0-3 0-6-1-3-2-4-3-5-1-3-2-6 0-3-2-6 1-6 1-3 3-5 3-4 2-3 2-3 2-5 2-4 1-3 3-6 1-3 2-3 3-5 3-3 3-3 3-2 4-2zM275,336l4-1 4 1 1 6-2 6 0 5 0 2 0 2-3 4-3-1-3-5-1-4 0-6 1-4 2-5zM218,348l4-2 6 0 6 1 3 3 1 4-1 3-3 3-3 3-4 0-5-1-3 1-6 3-3 0-6 1-4-1 1-3 5-3 4-2 3-2 3-4 2-4zM0,462l3-2 3-3 3-3 3-3 3-4 2-3 2-3 3-3 4-3 4-2 3-1 6-3 3-2 3-1 6-3 3-1 6 0 6 0 6-1 4-1 5-2 3-1 5-3 4-3 3-2 3-1 6-3 3-1 6-1 3-1 6-1 5-2 4-2 6 1 3 1 6 1 3-2 3-2 6-3 3-1 6-2 3-1 5 1 1 3 3 4 6 2 3 1 6 1 6 0 6 1 3 3 3 2 3 2 3 3 3 5 0 3 0 6 1 6 2 6 1 0 2-3 4 0 3 3 5 2 3 2 3 2 3 3 2 6-1 6-1 3-3 6-2 3-1 4-3 3-6 2-3 2-3 3-3 2-4 2-5 2-4 1-3 3-2 4-2 5-1 6 0 3-2 6-1 4-2 5-1 4-3 3-6 0-3-2-5-2-4-1-6 0-3 1-5 3-2 3 0 6 1 6-2 6-2 3-2 3-3 4-3 2-6 2-6 0-3-2-3-3-6-3-3-1-4-2-5 0-3 0-6 3-3 1-3 2-4 3-5 2-6-1-5-1-4-1-4-2-5-3-3-2-3-2-4-2-5-3-3-1-5-2-4-1-4-2-5-2-6 0-5-1-3-3-3-3-2-3-2-3-3-4-3-5-1-3-2-5M518,306l4-2 6 1 3 2 3 3 2 5 1 3 2 6 1 3 1 6 0 6-1 4-1 5 0 6-1 6 0 6-1 6 0 3-2 6-2 3-1 6-1 3-3 5-3 3-3 2-3 3-3 2-6 2-6 0-6-2-2-3-1-5-1-4-2-6-1-3-2-3-2-6-1-5-1-4 0-6 1-6 1-3 2-3 3-4 2-5 2-3 2-5 2-4 1-3 3-6 1-3 2-3 3-3 3-3 5-3zM0,478l2-4 0-6 1-4 3-3 3-3 3-2 3-4 3-4 2-4 2-3 3-3 5-3 3-1 4-2 5-3 3-1 4-2 5-1 6 0 6-1 6-1 3 0 6-3 3-1 4-2 5-3 3-2 3-1 6-2 4-1 5-1 6-2 3 0 6-2 6-1 6 3 6-1 3-2 4-3 5-2 6 0 4 2 5 3 3 2 3 1 3 0 3 0 6 3 2 3 4 3 6 0 3 0 6 2 3 4 0 3 0 3-1 6 0 6 1 3 3 5 3 4 6-3 3 0 3 1 3 2 6 2 2 4-2 4-3-1-3-3-6-1-6-2-3-1-1 4 2 3 5 3 3 1 3 2 1 6-2 3-3 3-2 3-3 3-6 3-3 0-6 1-3 2-3 6-2 3-1 3-1 6 0 6-2 4-3 2-6 3-3 3-3 1-6 0-6-1-6 2-3 1-6 2-4 1 0 6 1 4 2 5 1 6-2 6-3 3-3 3-4 2-6-1-3-2-3-3-4-2-5-3-3-1-6 0-5 1-4 2-3 1-6 3-3 1-6 1-6-1-6-1-3-1-5-2-4-2-3-2-4-2-5-3-3-2-3-1-5-3-4-3-3-2-3-1-3 0-6 1-3-2-3-4-2-4-1-6 0-5-3-2-3-2-3-4-3-5 0-1M516,309l6-2 6 1 3 2 3 5 1 3 2 4 2 5 1 6-1 6-1 6-1 6 0 3 0 6-1 6 0 6-2 6-1 3-2 4-1 5-2 6-3 3-3 2-3 3-3 2-6 2-6-1-3-2-3-5-1-4-2-6-2-3-1-3-3-6 0-3-1-6 0-6 0-6 2-3 2-3 3-6 1-3 2-5 2-4 1-3 3-6 1-3 2-3 3-4 3-3 3-2zM0,482l3-2 3-4 1-5 0-6 3-3 4-3 3-3 2-3 2-4 3-5 2-3 3-3 4-2 3-1 6-3 3-2 3-1 6-1 6 0 6-1 5-1 4-1 5-2 4-2 3-1 6-3 3-2 5-1 4-1 6-1 4-1 5-1 6 0 4 1 3 3 5 2 5-2 3-3 3-3 4-3 3-2 3-1 4 0 5 3 2 3 2 3 2 6 3 0 3 0 6-1 3 2 6 2 6 0 3 0 4 3-1 6 0 3 0 3 2 6-1 6 0 6 2 3 3 3 4 3 4 3 4 3 2 3-2 5-3 3-3 2-6-1-3-1-3 1-3 3-3 6-1 3-2 4-3 5-1 3-1 6-4 3-3 2-3 2-6 2-3 0-6 1-5 2-4 2-6 0-6 0-3 3-2 4 2 4 2 5 1 6-1 6-2 6-3 1-4-1-5-3-3-2-3-2-6-1-6 0-6 1-3 1-6 1-3-1-6-2-6 2-3 2-6 0-6-2-3-1-6-2-3-1-3-2-4-3-5-2-3-2-3-3-3-3-3-2-6 0-6-1-3-5 3-5 2-4-2-4-4-2-5 0-5-3-2-3-2-5-3-4M521,309l4 0 3 1 3 3 3 5 1 3 2 5 1 4 1 6-2 6 0 3-1 6 0 6-1 6 0 6-1 6-1 3-2 4-2 5-1 6-2 3-3 3-4 3-3 2-4 1-5 0-3-1-3-4-2-4-1-4-3-5-1-3-2-4-1-5-1-6 0-6 0-6 2-4 3-5 1-3 2-4 1-5 2-3 3-6 1-3 2-3 3-5 3-3 3-2 5-2zM0,489l3-5 3-3 2-4 1-3 1-6 2-3 3-3 3-3 3-5 2-4 2-3 2-4 3-3 3-2 6-3 3-1 5-2 4-1 6 0 6-1 4-1 5-1 5-2 4-2 4-1 5-2 3-1 6-2 6-1 3 0 6-1 6-1 3 2 3 4 6 0 6-1 6 0 6 1 3-1 0-6 3-6 3-1 5 1 2 3 1 6 1 3 6 2 6-1 6 0 6 1 3 1 6 3 1 3 0 6-1 6-2 3-4 3-3 3 0 3 1 3 4 3 4 1 5 2 4 3 3 2 3 2 0 4-6-1-4 2-3 3-2 3-3 6-1 3-2 5-3 4-2 3-2 3-2 3-5 3-4 1-5 2-4 2-3 2-6 2-3 0-6 0-6 1-3 2-3 3-3 3-2 6 0 6-3 3-4 2-3 1-6 1-6 1-6 0-6-1-3-1-6-2-3-2-3-2-6 0-3 2-3 2-6 1-6-1-3-1-3-3-5-3-4-2-3-2-3-5-2-3-3-3-4-3-1-3-2-4-3-4-3-1-6-1-6-2-2-3-1-3-3-5-3-4M518,312l4-1 5 1 3 3 2 3 2 5 2 4 1 4 0 5 0 3-2 6 0 6-1 6 0 5 0 4 0 6-2 6-2 3-2 5-1 4-2 5-3 3-3 2-5 2-4 1-3-1-3-3-3-5-2-4-1-3-3-5-2-4-1-6 0-3 0-6 0-4 1-5 2-3 3-6 1-3 2-6 1-3 2-4 3-5 1-3 3-3 3-3 4-3zM91,423l5-1 6 0 6 1 3 0 5 3 4 2 6 0 6-2 3-1 6 0 5 1 4 1 6 0 6 1 6-1 5-1 4-1 6 0 6 0 3 1 4 3 1 6-2 5-3 3-3 3-2 4 0 6 2 6 3 1 6 2 3 2 0 4-1 3-2 3-3 6-1 3-2 4-3 4-3 3-3 4-3 3-3 1-6 1-3 2-3 2-6 3-3 0-6 2-6 1-6 0-2 3-2 3-4 3-2 3-2 5-1 4-2 3-5 3-4 1-6 0-6-1-3-1-3-4-1-4-1-6-2-3 1-5 3-2 6-1 6 0 3-4-3-4-6 1-3 0-3-1-6 0-3 2-3 5-1 3-2 4-3 4-2 4-2 3-3 3-5 2-6-1-3-2-3-2-6-3-3-2-3-4-2-3-2-3-2-4-3-5-3-3-3-2-3-2-6-1-6-1-3-2-2-4-1-3 0-6 2-3 2-3 2-6 1-3 2-4 3-4 3-4 2-3 1-3 3-4 2-5 3-3 4-2 3-2 6-2 3 0 6-1 6-1 5-1 4-2 6-1 3-1 4-2 5-2 4-1zM516,315l3-2 6 0 3 3 3 4 2 4 2 3 1 6 0 6-2 6 0 3 0 6-1 6 0 6-1 6-1 5-2 4-1 3-2 6-1 3-3 3-5 3-4 1-6-1-3-3-1-3-2-4-3-5-2-3-1-3-2-6 0-6 0-6 2-6 1-3 2-3 2-6 1-4 2-5 1-3 3-5 3-4 3-3 3-3zM88,426l5-1 6 0 3 2 3 2 4 3 5 2 6 0 6-2 3-1 5-2 4 0 3 1 3 2 6 0 3 0 6 0 3 0 3 0 6-3 3 0 6-1 6 1 3 2 1 4-1 3-3 3-3 3 0 6-2 6-4 3-3 3 2 6 2 3 2 3 1 6-1 3 0 6 0 3 0 3-3 3-6 3-3 0-5 3-3 3-4 2-4 1-5 2-6-1-3-2-6-1-1 5-1 6-2 3-3 3-2 3-2 6-1 3-4 3-5 1-6-1-3-2-2-4-1-6 3-5 5-1 4-2 3-4 1-3-1-6-3-1-6-1-6 0-6 0-6 1-3 3-3 3-3 4-2 3-2 3-3 3-3 3-2 3-6 2-4-2-5-3-3-1-3-2-3-6-1-3-2-3-2-6-2-3-5-2-3-1-6-2-6 0-3-1-3-5-1-4 1-3 3-6 1-3 2-5 2-4 2-3 3-3 2-4 3-4 2-4 2-3 2-4 3-2 6-2 4-1 5-1 6-1 5-1 4-2 4-1 5-1 5-2 4-2 4-1zM519,315l4 0 5 3 2 3 2 3 2 5 1 4 0 6-1 3-1 6 0 6-1 6 0 6-1 6 0 3-3 6-1 3-2 5-2 4-3 3-4 2-6 0-3-2-3-5-2-4-2-3-2-3-3-6 0-3-1-6 0-6 1-3 3-6 1-3 2-6 1-3 2-6 1-3 2-3 3-4 3-4 3-2 3-2zM85,429l5-1 6 0 3 1 3 4 3 3 3 2 4 3 2 3 3 4 6 2 4-3 1-6 1-5 3-2 3 1 3 4 2 5-2 4-2 5 2 3 6 1 3-4 0-6 1-3 3-3 2-3 6-1 3 1 6 0 2-3 4-1 4 1-4 2-3 2 0 5 2 3 3 3-2 5-3 3-1 4 1 3 3 5 2 4 1 3 0 3-1 6-1 6-2 3-5 2-3 1-4 3-4 3-4 2-3 1-6 1-3-1-5-3-4-2-3-2-4 1-5 3-6-1-6-1-6 0-6 0-6-1-6 3-3 2-3 4-2 3-2 3-2 3-4 3-4 3-4 2-6-1-3-1-4-3-2-3-3-6-1-3-1-6-3-3-4-2-5-1-4-1-6 0-5-2-2-3 0-6 1-3 3-6 1-3 2-4 3-3 3-5 2-3 2-3 3-3 2-5 2-4 4-2 6-1 3 0 6-1 5-2 4-1 3-2 6-2 4-1 5-2 4-1zM122,510l1 0 3 4 0 3-3 4-3 2-2 5-1 6-3 3-3 0-3 0-4-3 0-6 4-2 3-1 5-3 1-3 2-6 3-3zM517,318l5-2 3 2 3 3 3 4 3 5 0 3 0 4-1 5-1 6 0 6 0 6-1 6 0 3-1 6-2 4-2 5-1 3-3 6-3 2-3 2-6-1-3-3-2-3-1-3-3-4-3-4-2-4-1-6 0-6 1-6 2-5 2-4 1-4 1-5 2-5 2-4 2-3 2-3 3-3 4-3zM81,432l6-2 6 0 3 2 3 6 3 2 4 1 4 3 2 3 2 5 3 2 6-1 3 0 3 0 3 3 4 3 5 1 5 2 4 2 4-2-1-6-1-3 1-6 3-2 6 2 3 2 2 4-2 6 3 6 2 3 2 3 2 4 0 5 0 3-1 6-2 4-4 2-5 2-3 2-3 3-5 2-4 1-6-1-3-2-3-3-3-4-3-1-3 1-6 3-3 2-6 0-6-1-6 0-6 0-6-1-6 0-3-2-2-4-1-3-6 0-3 1-3 5 0 3 0 5 3 3 3 2 3 2 0 3-3 4-3 2-5 3-4 0-3 0-5-3-2-3-2-5-1-4-2-5-3-3-3-2-6-1-6 0-4-1-5-2-2-4 1-6 1-3 3-6 2-3 3-3 2-3 2-3 3-4 3-3 3-5 1-3 5-3 6 1 5-1 4-3 3-1 3-2 6-3 3-1 6-1 3-1zM515,321l4-2 6 1 3 3 3 4 1 3 1 6-1 6-1 6 0 6 0 5 0 4-1 6-1 6-1 3-3 5-2 4-1 4-3 3-6 1-4-2-2-3-3-5-3-4-2-3-2-3-1-6 0-6 1-6 1-3 3-6 1-3 1-6 1-3 3-6 2-3 3-3 3-3zM76,435l5-1 6-1 5 2 1 4 3 5 3 1 6 0 3 3 1 5 2 5 6 0 6-2 6 2 3 3 3 2 5 2 2 3 2 3 4 0 5-3 3-1 6-2 5 3 3 3 1 3 1 6-1 5-1 4-3 3-5 3-3 1-3 2-5 3-4 1-4-1-5-3-2-3-2-3-5-3-5 3-4 3-3 1-6 2-6-2-6 0-6 0-5-1-4-2-3-3-1-4-2-3-6 0-3 1-6 1-3 2-2 5 0 6 0 6-1 5-6 1-3-3-3-6-3-3-3-2-3-1-6-1-6 0-6-2-2-3 1-6 1-4 3-5 3-3 3-3 3-2 4-1 3-3 2-4 3-2 3 0 6 1 3-4 1-3 2-5 3-3 3-2 4-2 5-2 4-1zM72,465l-3 1-3 2-1 6 4 1 6-1 1-3-1-5-3-1zM518,321l4-1 3 2 3 3 3 5 1 3 0 6-1 3 0 6 0 6-1 6 0 6-1 6-1 3-3 6-1 3-2 4-3 4-3 1-3 0-4-3-2-3-3-4-3-4-2-4-1-3-1-6 0-6 1-4 2-5 2-3 1-6 1-4 2-5 2-3 2-3 3-3 5-3zM70,438l5-1 6-1 6 0 3 5 0 3 3 6 3 0 3 0 3 3 0 6 3 1 6 2 6-1 6-1 4 2 2 6 2 3 3 3 4 2 6 0 4-2 5-3 3-1 6-1 4 2 2 3 1 6-1 6-1 3-4 3-4 2-3 2-4 2-5 1-4-1-4-3-2-3-2-4-3-3-4 1-4 3-4 3-3 2-3 1-3 0-6-2-6 0-6 1-5-2-3-3-1-3-2-6-1-6 0-3 0-5 3-4 3 0 4-3 0-6-2 0-5 2-3 1-3-1-6-2-2 6-2 3-3 3-4 3-4 3-6-1-6-1-1-4 1-3 6-1 3-2 3-5 1-4 2-4 3-4 3-2 4-2zM29,471l4-1 6 1 3 2 2 4 3 3 4 3 1 3 1 6 0 6-2 4-3-2-3-3-3-3-6-2-3 0-6 0-6-1-3-5 2-6 2-3 3-3 4-3zM516,324l3-1 5 1 3 3 3 3 1 6-1 6 0 6 0 6 0 6-1 6-1 6-1 3-2 4-3 5-1 3-2 3-6 1-3-2-3-5-3-3-2-3-2-3-2-6 0-5 0-2 1-5 2-5 1-4 2-6 1-3 2-6 2-3 3-3 4-3zM69,441l3-1 6-1 6 2 1 3-2 3-5 1-6 0-6 1 0-5 3-3zM63,453l0-1 0 1 2 3 0 3-2 3-3 2-2-2 1-3 1-2 1-1 2-3zM99,465l3-1 6 0 6 1 3 1 4 2 2 3 3 3 3 6-3 3-3 3-4 3-5 3-6-1-6-2-6 2-6-1-3-4 0-3-1-6 1-5 3-2 5-2 4-3zM32,474l3 0 4 3 1 3-1 6-3 2-3 1-6 1-3-1-2-6 2-4 3-3 5-2zM154,474l5-2 5 2 1 3 0 6 0 3-3 4-5 2-4 2-3 1-6 0-3-2-3-4-1-3 1-4 4-2 5-2 3-2 4-2zM512,330l4-3 6 1 3 2 3 6 0 6 0 6 0 3 0 6 0 3-1 6-1 6-1 3-3 5-3 4-3 3-5-3-3-3-3-3-2-3-2-4-1-5 0-6 1-3 2-6 1-3 2-6 1-5 2-4 3-3zM107,471l2 0 4 3 2 3-1 4-6 2-6-3 2-6 3-3z" fill="none" stroke="#2c2c2c" stroke-width="2.3"/>
</g>
<path d="M451.1,144.5q4.6,11.05 0,22.1z" fill="#111"/>
<path d="M451.1,166.5H475" stroke="#151515" stroke-width="1.4" stroke-dasharray="6 0.5 3.5 0.7 8 0.4 2 0.6" fill="none"/>
</g>
<path d="M488.6,106V167.5M451.1,141.6H513.5" stroke="#6a6a6a" stroke-width="0.5" fill="none"/>
<rect x="451.1" y="106" width="62.4" height="61.5" fill="none" stroke="#7a7a7a" stroke-width="0.6"/>
<text x="448.9" y="109" font-size="2.8" text-anchor="end" fill="#333">10⁵</text>
<text x="448.9" y="123.6" font-size="2.8" text-anchor="end" fill="#333">10⁴</text>
<text x="448.9" y="138.2" font-size="2.8" text-anchor="end" fill="#333">10³</text>
<text x="448.9" y="152.8" font-size="2.8" text-anchor="end" fill="#333">10²</text>
<text x="448.9" y="161.9" font-size="2.8" text-anchor="end" fill="#333">0</text>
<text x="458.3" y="173.3" font-size="2.8" text-anchor="middle" fill="#333">0</text>
<text x="465" y="173.3" font-size="2.8" text-anchor="middle" fill="#333">10²</text>
<text x="479.9" y="173.3" font-size="2.8" text-anchor="middle" fill="#333">10³</text>
<text x="495.1" y="173.3" font-size="2.8" text-anchor="middle" fill="#333">10⁴</text>
<text x="510.6" y="173.3" font-size="2.8" text-anchor="middle" fill="#333">10⁵</text>
<path d="M449.7,108h1.4M449.7,122.6h1.4M449.7,137.2h1.4M449.7,151.8h1.4M449.7,160.9h1.4M458.3,167.5v1.4M465,167.5v1.4M479.9,167.5v1.4M495.1,167.5v1.4M510.6,167.5v1.4" stroke="#555" stroke-width="0.5" fill="none"/>
<text x="483.3" y="176.5" font-size="3.0" text-anchor="middle" fill="#222">&lt;APC-A&gt;: GB21A</text>
<text x="452.1" y="109.8" font-size="3.5" font-weight="bold" fill="#111">6.34</text>
<text x="512.7" y="109.8" font-size="3.5" text-anchor="end" font-weight="bold" fill="#111">7.28</text>
<text x="452.1" y="166.5" font-size="3.5" font-weight="bold" fill="#111">68.5</text>
<text x="512.7" y="166.5" font-size="3.5" text-anchor="end" font-weight="bold" fill="#111">17.9</text>
<text x="492.3" y="121.6" font-size="7.6" stroke="#222" stroke-width="0.18" fill="#222">7.28</text>
</g>
<path d="M41.8,341.36V333.1M39.1,333.1h5.4" stroke="#151515" stroke-width="1.35" fill="none"/>
<rect x="37.8" y="342.06" width="8" height="22.14" fill="#fff" stroke="#141414" stroke-width="1.4"/>
<path d="M53.4,256.31V233.47M50.7,233.47h5.4" stroke="#151515" stroke-width="1.35" fill="none"/>
<rect x="49.4" y="257.01" width="8" height="107.19" fill="#3a3a3a" stroke="#141414" stroke-width="1.4"/>
<text x="46.2" y="378.1" font-size="7.7" stroke="#1a1a1a" stroke-width="0.18" text-anchor="middle" fill="#1a1a1a">PPD-B</text>
<path d="M72.73,360.56V359.34M70.03,359.34h5.4" stroke="#151515" stroke-width="1.35" fill="none"/>
<rect x="68.73" y="361.25" width="8" height="2.94" fill="#fff" stroke="#141414" stroke-width="1.4"/>
<path d="M84.33,319.97V306.85M81.63,306.85h5.4" stroke="#151515" stroke-width="1.35" fill="none"/>
<rect x="80.33" y="320.67" width="8" height="43.53" fill="#3a3a3a" stroke="#141414" stroke-width="1.4"/>
<text x="77.8" y="378.1" font-size="7.7" stroke="#1a1a1a" stroke-width="0.18" text-anchor="middle" fill="#1a1a1a">E:C</text>
<path d="M103.66,357.88V352.54M100.96,352.54h5.4" stroke="#151515" stroke-width="1.35" fill="none"/>
<rect x="99.66" y="358.58" width="8" height="5.62" fill="#fff" stroke="#141414" stroke-width="1.4"/>
<path d="M115.26,342.33V335.53M112.56,335.53h5.4" stroke="#151515" stroke-width="1.35" fill="none"/>
<rect x="111.26" y="343.03" width="8" height="21.17" fill="#3a3a3a" stroke="#141414" stroke-width="1.4"/>
<text x="109" y="378.1" font-size="7.7" stroke="#1a1a1a" stroke-width="0.18" text-anchor="middle" fill="#1a1a1a">mAGP</text>
<path d="M134.59,362.74V362.16M131.89,362.16h5.4" stroke="#151515" stroke-width="1.35" fill="none"/>
<rect x="130.59" y="363.44" width="8" height="0.76" fill="#fff" stroke="#141414" stroke-width="1.4"/>
<path d="M146.19,313.66V302.48M143.49,302.48h5.4" stroke="#151515" stroke-width="1.35" fill="none"/>
<rect x="142.19" y="314.36" width="8" height="49.84" fill="#3a3a3a" stroke="#141414" stroke-width="1.4"/>
<text x="140" y="378.1" font-size="7.7" stroke="#1a1a1a" stroke-width="0.18" text-anchor="middle" fill="#1a1a1a">LAM</text>
<path d="M165.52,354.72V346.95M162.82,346.95h5.4" stroke="#151515" stroke-width="1.35" fill="none"/>
<rect x="161.52" y="355.42" width="8" height="8.78" fill="#fff" stroke="#141414" stroke-width="1.4"/>
<path d="M177.12,317.54V301.99M174.42,301.99h5.4" stroke="#151515" stroke-width="1.35" fill="none"/>
<rect x="173.12" y="318.24" width="8" height="45.96" fill="#3a3a3a" stroke="#141414" stroke-width="1.4"/>
<text x="171" y="378.1" font-size="7.7" stroke="#1a1a1a" stroke-width="0.18" text-anchor="middle" fill="#1a1a1a">Ag85B</text>
<path d="M196.45,324.83V310.74M193.75,310.74h5.4" stroke="#151515" stroke-width="1.35" fill="none"/>
<rect x="192.45" y="325.53" width="8" height="38.67" fill="#fff" stroke="#141414" stroke-width="1.4"/>
<path d="M208.05,284.5V267.97M205.35,267.97h5.4" stroke="#151515" stroke-width="1.35" fill="none"/>
<rect x="204.05" y="285.2" width="8" height="79" fill="#3a3a3a" stroke="#141414" stroke-width="1.4"/>
<text x="201.4" y="378.1" font-size="7.7" stroke="#1a1a1a" stroke-width="0.18" text-anchor="middle" fill="#1a1a1a">WCS</text>
<path d="M227.38,351.56V344.76M224.68,344.76h5.4" stroke="#151515" stroke-width="1.35" fill="none"/>
<rect x="223.38" y="352.26" width="8" height="11.94" fill="#fff" stroke="#141414" stroke-width="1.4"/>
<path d="M238.98,318.52V304.91M236.28,304.91h5.4" stroke="#151515" stroke-width="1.35" fill="none"/>
<rect x="234.98" y="319.22" width="8" height="44.98" fill="#3a3a3a" stroke="#141414" stroke-width="1.4"/>
<text x="233.1" y="378.1" font-size="7.7" stroke="#1a1a1a" stroke-width="0.18" text-anchor="middle" fill="#1a1a1a">PK-WCS</text>
<path d="M35.3,217.5V365.1M34.4,364.2H247" stroke="#111" stroke-width="1.8" fill="none"/>
<path d="M29.6,364.2H35.3" stroke="#111" stroke-width="1.7"/>
<text x="28.9" y="368.5" font-size="10.5" stroke="#111" stroke-width="0.18" text-anchor="end" fill="#111">0</text>
<path d="M29.6,315.6H35.3" stroke="#111" stroke-width="1.7"/>
<text x="28.9" y="319.9" font-size="10.5" stroke="#111" stroke-width="0.18" text-anchor="end" fill="#111">10</text>
<path d="M29.6,267H35.3" stroke="#111" stroke-width="1.7"/>
<text x="28.9" y="271.3" font-size="10.5" stroke="#111" stroke-width="0.18" text-anchor="end" fill="#111">20</text>
<path d="M29.6,218.4H35.3" stroke="#111" stroke-width="1.7"/>
<text x="28.9" y="222.7" font-size="10.5" stroke="#111" stroke-width="0.18" text-anchor="end" fill="#111">30</text>
<text x="9.9" y="364.4" font-size="11" stroke="#111" stroke-width="0.18" fill="#111" transform="rotate(-90 9.9 364.4)" textLength="146.4" lengthAdjust="spacing">% Dividing of Total γδ T cells</text>
<text x="53.3" y="225.21" font-size="10.6" stroke="#1a1a1a" stroke-width="0.45" text-anchor="middle" fill="#1a1a1a">*</text>
<text x="84.3" y="297.61" font-size="10.6" stroke="#1a1a1a" stroke-width="0.45" text-anchor="middle" fill="#1a1a1a">*</text>
<text x="114.8" y="326.81" font-size="10.6" stroke="#1a1a1a" stroke-width="0.45" text-anchor="middle" fill="#1a1a1a">*</text>
<text x="146" y="296.81" font-size="10.6" stroke="#1a1a1a" stroke-width="0.45" text-anchor="middle" fill="#1a1a1a">*</text>
<text x="176.7" y="291.51" font-size="10.6" stroke="#1a1a1a" stroke-width="0.45" text-anchor="middle" fill="#1a1a1a">*</text>
<rect x="133.5" y="221.3" width="14.0" height="6.5" fill="#fff" stroke="#141414" stroke-width="1.4"/>
<rect x="133.5" y="235.1" width="14.0" height="6.5" fill="#3a3a3a" stroke="#141414" stroke-width="1.4"/>
<text x="153.4" y="227.6" font-size="9.0" stroke="#111" stroke-width="0.18" fill="#111">Uninfected</text>
<text x="153.4" y="241.3" font-size="9.0" stroke="#111" stroke-width="0.18" fill="#111"><tspan font-style="italic">M. bovis</tspan> 10-7428</text>
<path d="M293.2,355.94V354.77M290.5,354.77h5.4" stroke="#151515" stroke-width="1.35" fill="none"/>
<rect x="290.1" y="356.64" width="6.2" height="7.56" fill="#fff" stroke="#141414" stroke-width="1.4"/>
<path d="M301.6,283.52V257.28M298.9,257.28h5.4" stroke="#151515" stroke-width="1.35" fill="none"/>
<rect x="298.4" y="284.22" width="6.4" height="79.98" fill="#c4c4c4" stroke="#141414" stroke-width="1.4"/>
<path d="M310.75,311.71V302.96M308.05,302.96h5.4" stroke="#151515" stroke-width="1.35" fill="none"/>
<rect x="307.4" y="312.41" width="6.7" height="51.79" fill="#3a3a3a" stroke="#141414" stroke-width="1.4"/>
<text x="303.3" y="378.1" font-size="7.7" stroke="#1a1a1a" stroke-width="0.18" text-anchor="middle" fill="#1a1a1a">PPD-B</text>
<path d="M326.5,355.94V354.77M323.8,354.77h5.4" stroke="#151515" stroke-width="1.35" fill="none"/>
<rect x="323.4" y="356.64" width="6.2" height="7.56" fill="#fff" stroke="#141414" stroke-width="1.4"/>
<path d="M334.9,279.64V237.35M332.2,237.35h5.4" stroke="#151515" stroke-width="1.35" fill="none"/>
<rect x="331.7" y="280.34" width="6.4" height="83.86" fill="#c4c4c4" stroke="#141414" stroke-width="1.4"/>
<path d="M344.05,323.38V318.52M341.35,318.52h5.4" stroke="#151515" stroke-width="1.35" fill="none"/>
<rect x="340.7" y="324.08" width="6.7" height="40.12" fill="#3a3a3a" stroke="#141414" stroke-width="1.4"/>
<text x="336.1" y="378.1" font-size="7.7" stroke="#1a1a1a" stroke-width="0.18" text-anchor="middle" fill="#1a1a1a">E:C</text>
<path d="M359.8,357.2V356.23M357.1,356.23h5.4" stroke="#151515" stroke-width="1.35" fill="none"/>
<rect x="356.7" y="357.9" width="6.2" height="6.3" fill="#fff" stroke="#141414" stroke-width="1.4"/>
<path d="M368.2,319.49V306.85M365.5,306.85h5.4" stroke="#151515" stroke-width="1.35" fill="none"/>
<rect x="365" y="320.19" width="6.4" height="44.01" fill="#c4c4c4" stroke="#141414" stroke-width="1.4"/>
<path d="M377.35,324.83V316.57M374.65,316.57h5.4" stroke="#151515" stroke-width="1.35" fill="none"/>
<rect x="374" y="325.53" width="6.7" height="38.67" fill="#3a3a3a" stroke="#141414" stroke-width="1.4"/>
<text x="368.6" y="378.1" font-size="7.7" stroke="#1a1a1a" stroke-width="0.18" text-anchor="middle" fill="#1a1a1a">mAGP</text>
<path d="M393.1,355.65V354.87M390.4,354.87h5.4" stroke="#151515" stroke-width="1.35" fill="none"/>
<rect x="390" y="356.35" width="6.2" height="7.85" fill="#fff" stroke="#141414" stroke-width="1.4"/>
<path d="M401.5,345.93V339.9M398.8,339.9h5.4" stroke="#151515" stroke-width="1.35" fill="none"/>
<rect x="398.3" y="346.63" width="6.4" height="17.57" fill="#c4c4c4" stroke="#141414" stroke-width="1.4"/>
<path d="M410.65,332.12V326.29M407.95,326.29h5.4" stroke="#151515" stroke-width="1.35" fill="none"/>
<rect x="407.3" y="332.82" width="6.7" height="31.38" fill="#3a3a3a" stroke="#141414" stroke-width="1.4"/>
<text x="401.6" y="378.1" font-size="7.7" stroke="#1a1a1a" stroke-width="0.18" text-anchor="middle" fill="#1a1a1a">LAM</text>
<path d="M426.4,356.42V355.45M423.7,355.45h5.4" stroke="#151515" stroke-width="1.35" fill="none"/>
<rect x="423.3" y="357.12" width="6.2" height="7.08" fill="#fff" stroke="#141414" stroke-width="1.4"/>
<path d="M434.8,341.84V337.28M432.1,337.28h5.4" stroke="#151515" stroke-width="1.35" fill="none"/>
<rect x="431.6" y="342.54" width="6.4" height="21.66" fill="#c4c4c4" stroke="#141414" stroke-width="1.4"/>
<path d="M443.95,325.32V320.95M441.25,320.95h5.4" stroke="#151515" stroke-width="1.35" fill="none"/>
<rect x="440.6" y="326.02" width="6.7" height="38.18" fill="#3a3a3a" stroke="#141414" stroke-width="1.4"/>
<text x="434" y="378.1" font-size="7.7" stroke="#1a1a1a" stroke-width="0.18" text-anchor="middle" fill="#1a1a1a">Ag85B</text>
<path d="M459.7,344.76V333.1M457,333.1h5.4" stroke="#151515" stroke-width="1.35" fill="none"/>
<rect x="456.6" y="345.46" width="6.2" height="18.74" fill="#fff" stroke="#141414" stroke-width="1.4"/>
<path d="M468.1,326.78V318.03M465.4,318.03h5.4" stroke="#151515" stroke-width="1.35" fill="none"/>
<rect x="464.9" y="327.48" width="6.4" height="36.72" fill="#c4c4c4" stroke="#141414" stroke-width="1.4"/>
<path d="M477.25,334.07V330.18M474.55,330.18h5.4" stroke="#151515" stroke-width="1.35" fill="none"/>
<rect x="473.9" y="334.77" width="6.7" height="29.43" fill="#3a3a3a" stroke="#141414" stroke-width="1.4"/>
<text x="467.4" y="378.1" font-size="7.7" stroke="#1a1a1a" stroke-width="0.18" text-anchor="middle" fill="#1a1a1a">WCS</text>
<path d="M493,363.23V363.03M490.3,363.03h5.4" stroke="#151515" stroke-width="1.35" fill="none"/>
<rect x="489.9" y="363.93" width="6.2" height="0.27" fill="#fff" stroke="#141414" stroke-width="1.4"/>
<path d="M501.4,347.68V338.93M498.7,338.93h5.4" stroke="#151515" stroke-width="1.35" fill="none"/>
<rect x="498.2" y="348.38" width="6.4" height="15.82" fill="#c4c4c4" stroke="#141414" stroke-width="1.4"/>
<path d="M510.55,354.48V351.08M507.85,351.08h5.4" stroke="#151515" stroke-width="1.35" fill="none"/>
<rect x="507.2" y="355.18" width="6.7" height="9.02" fill="#3a3a3a" stroke="#141414" stroke-width="1.4"/>
<text x="501.2" y="378.1" font-size="7.7" stroke="#1a1a1a" stroke-width="0.18" text-anchor="middle" fill="#1a1a1a">PK-WCS</text>
<path d="M287.8,217.5V365.1M286.9,364.2H517" stroke="#111" stroke-width="1.8" fill="none"/>
<path d="M282.1,364.2H287.8" stroke="#111" stroke-width="1.7"/>
<text x="281.4" y="368.5" font-size="10.5" stroke="#111" stroke-width="0.18" text-anchor="end" fill="#111">0</text>
<path d="M282.1,315.6H287.8" stroke="#111" stroke-width="1.7"/>
<text x="281.4" y="319.9" font-size="10.5" stroke="#111" stroke-width="0.18" text-anchor="end" fill="#111">5</text>
<path d="M282.1,267H287.8" stroke="#111" stroke-width="1.7"/>
<text x="281.4" y="271.3" font-size="10.5" stroke="#111" stroke-width="0.18" text-anchor="end" fill="#111">10</text>
<path d="M282.1,218.4H287.8" stroke="#111" stroke-width="1.7"/>
<text x="281.4" y="222.7" font-size="10.5" stroke="#111" stroke-width="0.18" text-anchor="end" fill="#111">15</text>
<text x="264.6" y="350.9" font-size="11" stroke="#111" stroke-width="0.18" fill="#111" transform="rotate(-90 264.6 350.9)" textLength="130.4" lengthAdjust="spacing">% IFNγ<tspan font-size="6.8" dy="-3.6">+</tspan><tspan dy="3.6"> of Total γδ T cells</tspan></text>
<text x="301.8" y="246.41" font-size="10.6" stroke="#1a1a1a" stroke-width="0.45" text-anchor="middle" fill="#1a1a1a">*</text>
<text x="311.2" y="290.61" font-size="10.6" stroke="#1a1a1a" stroke-width="0.45" text-anchor="middle" fill="#1a1a1a">*</text>
<text x="334.7" y="230.31" font-size="10.6" stroke="#1a1a1a" stroke-width="0.45" text-anchor="middle" fill="#1a1a1a">*</text>
<text x="367.8" y="297.71" font-size="10.6" stroke="#1a1a1a" stroke-width="0.45" text-anchor="middle" fill="#1a1a1a">*</text>
<text x="410.5" y="312.21" font-size="10.6" stroke="#1a1a1a" stroke-width="0.45" text-anchor="middle" fill="#1a1a1a">*</text>
<text x="510.3" y="335.31" font-size="10.6" stroke="#1a1a1a" stroke-width="0.45" text-anchor="middle" fill="#1a1a1a">*</text>
<text x="345.8" y="299.51" font-size="10.6" stroke="#1a1a1a" stroke-width="0.45" text-anchor="middle" fill="#1a1a1a">**</text>
<text x="377.5" y="307.21" font-size="10.6" stroke="#1a1a1a" stroke-width="0.45" text-anchor="middle" fill="#1a1a1a">**</text>
<text x="433.9" y="334.51" font-size="10.6" stroke="#1a1a1a" stroke-width="0.45" text-anchor="middle" fill="#1a1a1a">**</text>
<text x="443.3" y="316.91" font-size="10.6" stroke="#1a1a1a" stroke-width="0.45" text-anchor="middle" fill="#1a1a1a">**</text>
<text x="401" y="327.9" font-size="14" stroke="#1a1a1a" stroke-width="0.3" text-anchor="middle" fill="#1a1a1a">†</text>
<text x="501.6" y="330.8" font-size="14" stroke="#1a1a1a" stroke-width="0.3" text-anchor="middle" fill="#1a1a1a">†</text>
<rect x="395" y="215.8" width="14" height="6.8" fill="#fff" stroke="#141414" stroke-width="1.4"/>
<rect x="395" y="229.2" width="14" height="6.8" fill="#c4c4c4" stroke="#141414" stroke-width="1.4"/>
<rect x="395" y="242.2" width="14" height="6.8" fill="#3a3a3a" stroke="#141414" stroke-width="1.4"/>
<text x="415" y="222.4" font-size="9.45" stroke="#111" stroke-width="0.18" fill="#111">Uninfected</text>
<text x="415" y="235.8" font-size="9.4" stroke="#111" stroke-width="0.18" fill="#111"><tspan font-style="italic">M. bovis</tspan>  95-1315</text>
<text x="415" y="248.6" font-size="9.4" stroke="#111" stroke-width="0.18" fill="#111"><tspan font-style="italic">M. bovis</tspan> 10-7428</text>
</g>
</svg>
</body>
</html>
